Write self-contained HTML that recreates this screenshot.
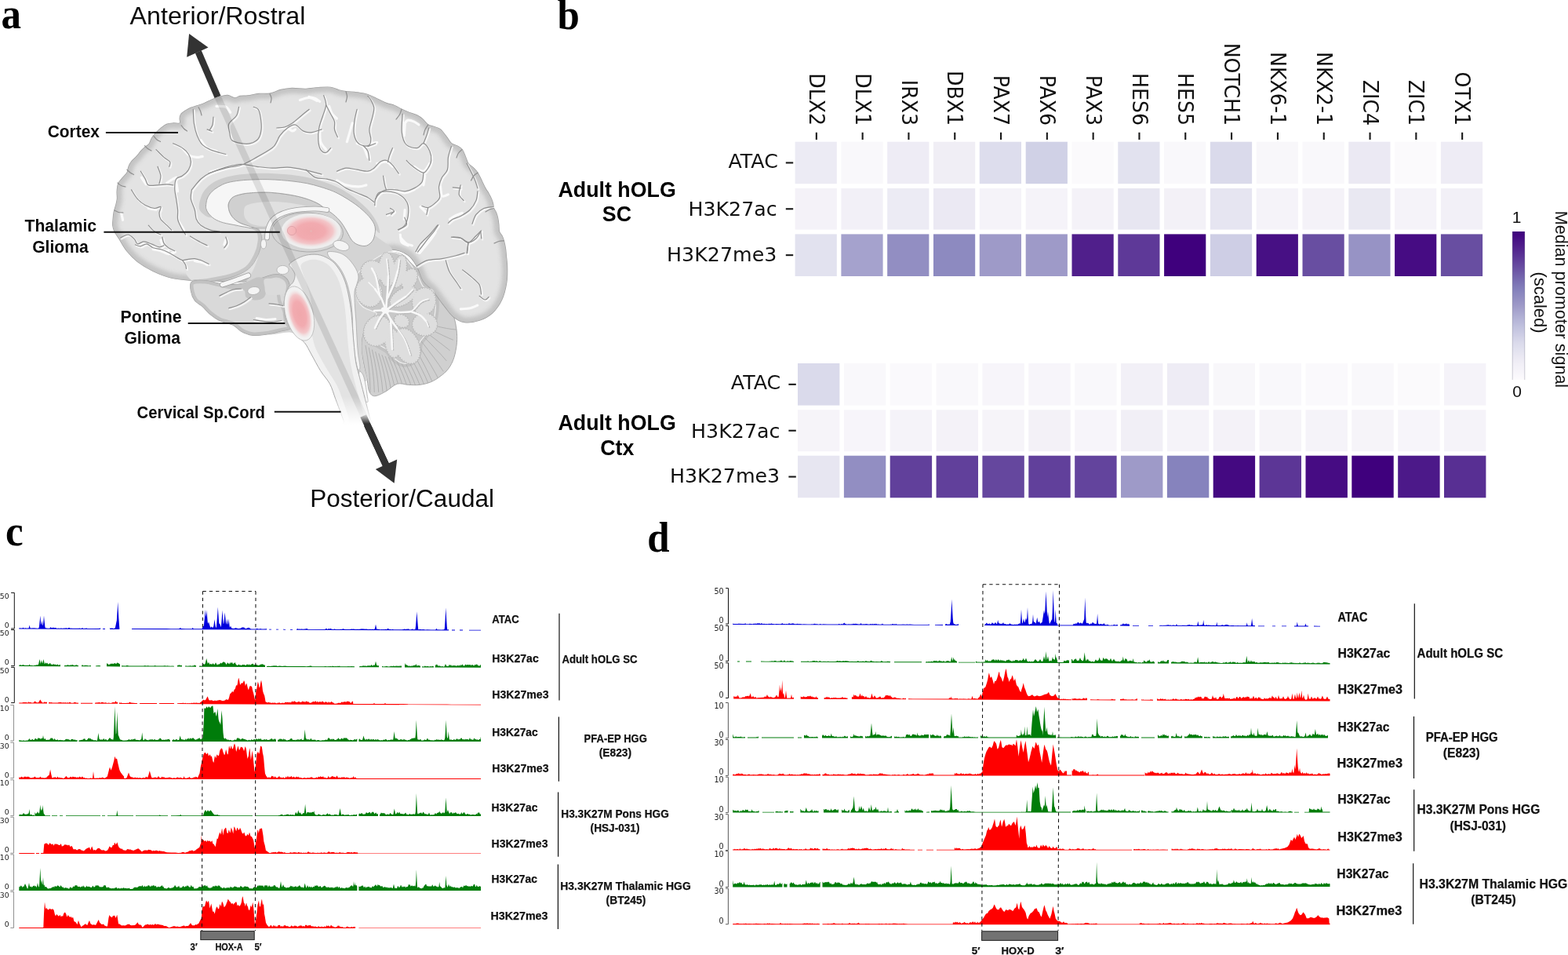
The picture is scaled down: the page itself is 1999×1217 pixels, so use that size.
<!DOCTYPE html>
<html lang="en">
<head>
<meta charset="utf-8">
<title>Figure</title>
<style>
html,body{margin:0;padding:0;background:#fff;}
body{width:1999px;height:1217px;overflow:hidden;}
svg{display:block;}
text{white-space:pre;}
</style>
</head>
<body>
<svg width="1999" height="1217" viewBox="0 0 1999 1217">
<rect width="1999" height="1217" fill="#ffffff"/>
<g id="panel-a">
<defs>
<radialGradient id="pk1" cx="0.5" cy="0.5" r="0.5"><stop offset="0" stop-color="#f0a7ab"/><stop offset="0.5" stop-color="#f2abb0"/><stop offset="0.78" stop-color="#f3c2c5" stop-opacity="0.9"/><stop offset="1" stop-color="#f0e2e2" stop-opacity="0"/></radialGradient>
<linearGradient id="cordfade" gradientUnits="userSpaceOnUse" x1="0" y1="505" x2="0" y2="541"><stop offset="0" stop-color="#fff" stop-opacity="0"/><stop offset="1" stop-color="#fff" stop-opacity="1"/></linearGradient>
<linearGradient id="shaftfade" gradientUnits="userSpaceOnUse" x1="0" y1="526" x2="0" y2="540"><stop offset="0" stop-color="#333" stop-opacity="0"/><stop offset="1" stop-color="#333" stop-opacity="1"/></linearGradient>
<clipPath id="brainclip"><path d="M279.7 123.4C283.0 122.5 286.7 121.3 290.0 121.5C293.3 121.7 296.6 124.6 299.3 124.8C302.0 125.0 303.2 123.0 306.0 122.5C308.8 122.0 312.0 122.5 316.0 122.0C320.0 121.5 325.3 120.0 330.0 119.5C334.7 119.0 339.3 120.0 344.0 119.2C348.7 118.4 353.3 115.6 358.0 114.5C362.7 113.4 366.7 112.7 372.0 112.5C377.3 112.3 384.3 113.5 390.0 113.3C395.7 113.1 400.7 111.9 406.0 111.6C411.3 111.3 417.3 110.8 421.6 111.3C425.9 111.8 428.7 113.9 432.0 114.8C435.3 115.7 437.5 116.1 441.3 116.6C445.1 117.1 450.4 117.1 455.0 117.8C459.6 118.5 464.6 119.2 468.9 120.6C473.2 122.0 477.1 124.2 481.0 126.0C484.9 127.8 488.8 130.0 492.5 131.4C496.2 132.8 499.7 133.2 503.0 134.5C506.3 135.8 509.1 137.8 512.3 139.3C515.5 140.8 518.7 142.2 522.0 143.5C525.3 144.8 529.2 145.8 532.0 147.2C534.8 148.6 536.7 150.0 539.0 152.0C541.3 154.0 543.4 157.4 545.8 159.0C548.2 160.6 550.9 160.5 553.5 161.5C556.1 162.5 559.0 162.9 561.6 165.0C564.2 167.1 566.7 171.1 569.0 174.0C571.3 176.9 573.1 180.7 575.4 182.7C577.7 184.7 580.7 184.7 583.0 186.0C585.3 187.3 587.5 188.3 589.2 190.6C591.0 192.9 592.2 197.1 593.5 200.0C594.8 202.9 595.3 206.0 597.0 208.3C598.7 210.6 601.5 212.0 603.5 214.0C605.5 216.0 607.1 217.5 608.9 220.2C610.6 222.9 612.4 226.7 614.0 230.0C615.6 233.3 617.3 237.2 618.8 239.9C620.3 242.7 621.7 244.2 623.0 246.5C624.3 248.8 625.7 251.5 626.6 253.7C627.5 255.9 628.0 257.5 628.5 259.5C629.0 261.5 628.9 263.6 629.6 265.5C630.3 267.4 631.7 269.0 632.5 271.0C633.3 273.0 634.0 274.8 634.5 277.3C635.0 279.8 635.5 283.1 635.8 286.0C636.1 288.9 635.8 292.6 636.5 295.0C637.2 297.4 639.0 298.5 640.0 300.5C641.0 302.5 641.6 304.1 642.4 306.9C643.1 309.6 644.0 313.7 644.5 317.0C645.0 320.3 645.0 322.7 645.4 326.6C645.8 330.5 646.5 334.9 646.6 340.5C646.7 346.1 646.9 353.6 645.7 360.5C644.6 367.4 642.7 375.6 639.7 382.0C636.7 388.4 632.5 394.3 627.8 398.7C623.0 403.1 617.2 406.2 611.2 408.2C605.2 410.2 597.7 411.4 592.1 410.6C586.5 409.8 582.2 407.0 577.8 403.4C573.4 399.8 570.3 394.7 565.9 389.1C561.5 383.6 556.0 375.2 551.6 370.1C547.2 365.0 543.1 363.4 539.7 358.2C536.3 353.0 534.6 344.6 531.3 339.1C528.0 333.6 525.2 328.5 520.0 325.0C514.8 321.5 506.7 318.0 500.0 318.0C493.3 318.0 486.3 322.2 480.0 325.0C473.7 327.8 467.3 334.2 462.0 335.0C456.7 335.8 453.3 332.2 448.0 330.0C442.7 327.8 436.7 323.7 430.0 322.0C423.3 320.3 415.5 319.3 408.0 320.0C400.5 320.7 391.0 324.0 385.0 326.0C379.0 328.0 376.8 329.3 372.0 332.0C367.2 334.7 361.3 338.7 356.0 342.0C350.7 345.3 346.3 349.3 340.0 352.0C333.7 354.7 325.3 356.8 318.0 358.0C310.7 359.2 304.0 359.1 296.0 359.0C288.0 358.9 278.6 357.8 270.0 357.5C261.4 357.2 253.0 357.8 244.4 357.2C235.8 356.6 226.9 356.2 218.7 354.2C210.5 352.2 202.3 348.8 195.1 345.4C187.9 341.9 181.0 337.8 175.4 333.5C169.8 329.2 165.6 324.6 161.6 319.7C157.6 314.8 154.3 308.1 151.7 304.0C149.1 299.9 147.3 297.8 146.0 295.0C144.7 292.2 144.1 290.0 143.8 287.3C143.5 284.6 144.0 281.8 144.2 279.0C144.4 276.2 144.6 273.2 145.2 270.4C145.8 267.6 146.9 264.8 147.6 262.0C148.3 259.2 149.1 256.6 149.4 253.6C149.7 250.6 149.0 247.3 149.2 244.0C149.4 240.7 149.7 236.8 150.8 234.0C151.9 231.2 154.1 229.3 156.0 227.0C157.9 224.7 160.7 222.4 162.0 220.0C163.3 217.6 163.1 214.8 164.0 212.5C164.9 210.2 165.9 208.2 167.6 206.0C169.3 203.8 171.9 201.8 174.0 199.5C176.1 197.2 178.4 194.0 180.2 192.0C182.0 190.0 183.4 188.9 185.0 187.5C186.6 186.1 188.6 185.5 190.0 183.6C191.4 181.7 192.1 178.3 193.5 176.0C194.9 173.7 196.5 171.7 198.4 169.6C200.3 167.5 202.7 165.4 205.0 163.5C207.3 161.6 209.7 159.5 212.4 158.4C215.1 157.3 218.2 157.2 221.0 157.0C223.8 156.8 227.8 158.0 229.2 157.0C230.6 156.0 229.0 152.9 229.2 151.0C229.4 149.1 229.4 147.5 230.6 145.8C231.8 144.1 234.4 142.4 236.5 141.0C238.6 139.6 240.6 138.5 243.2 137.4C245.8 136.3 249.2 135.4 252.0 134.5C254.8 133.6 257.0 133.1 260.0 131.8C263.0 130.6 266.7 128.4 270.0 127.0C273.3 125.6 276.4 124.3 279.7 123.4Z"/><path d="M369.0 336.5C370.3 334.3 375.9 331.0 380.0 329.0C384.1 327.0 389.0 325.2 393.7 324.6C398.4 324.0 403.5 323.8 408.4 325.1C413.3 326.4 419.1 329.3 423.2 332.5C427.3 335.7 430.3 340.0 433.1 344.4C435.9 348.8 438.0 353.4 440.0 359.1C442.0 364.9 443.6 372.3 444.9 378.9C446.2 385.5 447.1 392.0 447.9 398.6C448.7 405.2 449.0 411.9 449.5 418.3C450.0 424.7 450.3 429.8 451.0 436.8C451.7 443.9 452.4 453.9 453.5 460.6C454.6 467.4 456.0 471.3 457.5 477.3C459.0 483.3 460.6 489.2 462.4 496.4C464.2 503.5 466.8 513.9 468.4 520.2C470.0 526.6 471.2 531.0 472.0 534.5C472.8 538.0 478.3 539.9 473.0 541.0C467.7 542.1 445.8 541.7 440.0 541.0C434.2 540.3 439.3 539.2 438.4 536.9C437.5 534.6 436.6 532.1 434.8 527.3C433.0 522.5 430.1 514.6 427.7 508.3C425.3 502.0 423.7 495.2 420.5 489.2C417.3 483.2 412.6 478.9 408.6 472.5C404.6 466.1 400.1 457.1 396.7 451.1C393.3 445.2 391.8 441.0 388.4 436.8C384.9 432.6 379.9 430.8 376.0 426.0C372.1 421.2 367.3 413.7 365.0 408.0C362.7 402.3 362.6 397.1 362.3 392.0C362.0 386.9 362.4 381.5 363.4 377.2C364.3 372.9 366.2 369.0 368.0 366.0C369.8 363.0 372.7 361.7 374.0 359.0C375.3 356.3 376.3 352.8 376.0 350.0C375.7 347.2 373.2 344.2 372.0 342.0C370.8 339.8 367.7 338.7 369.0 336.5Z"/><path d="M244.4 359.2C247.5 356.9 255.9 357.1 262.0 357.5C268.1 357.9 274.7 360.7 281.0 361.5C287.3 362.3 293.5 362.9 300.0 362.5C306.5 362.1 313.7 360.6 320.0 359.0C326.3 357.4 332.7 354.6 338.0 353.0C343.3 351.4 347.8 349.5 352.0 349.5C356.2 349.5 360.2 350.8 363.0 353.0C365.8 355.2 368.3 359.0 369.0 363.0C369.7 367.0 367.8 372.2 367.0 377.0C366.2 381.8 364.7 386.8 364.5 392.0C364.3 397.2 365.0 403.6 366.0 408.0C367.0 412.4 372.1 415.9 370.6 418.3C369.1 420.7 362.1 421.0 356.8 422.3C351.5 423.6 344.9 425.4 339.0 426.2C333.1 427.0 326.6 427.8 321.3 427.2C316.1 426.6 311.4 424.4 307.5 422.3C303.6 420.2 302.2 416.7 297.6 414.4C293.0 412.1 284.8 410.8 279.9 408.5C275.0 406.2 271.6 403.6 268.0 400.6C264.4 397.6 261.5 393.7 258.2 390.7C254.9 387.7 250.8 386.1 248.3 382.8C245.8 379.5 244.1 374.9 243.4 371.0C242.8 367.1 241.3 361.4 244.4 359.2Z"/><path d="M300.0 288.0C302.0 288.0 321.3 300.5 330.0 300.0C338.7 299.5 343.7 291.3 352.0 285.0C360.3 278.7 367.0 265.8 380.0 262.0C393.0 258.2 413.7 255.7 430.0 262.0C446.3 268.3 466.3 290.7 478.0 300.0C489.7 309.3 499.3 313.5 500.0 318.0C500.7 322.5 488.2 323.2 482.0 327.0C475.8 330.8 467.7 335.5 463.0 341.0C458.3 346.5 455.3 353.5 454.0 360.0C452.7 366.5 453.5 374.7 455.0 380.0C456.5 385.3 459.2 388.8 463.0 392.0C466.8 395.2 477.2 395.8 478.0 399.0C478.8 402.2 470.7 406.3 468.0 411.0C465.3 415.7 463.2 421.2 462.0 427.0C460.8 432.8 460.7 439.2 461.0 446.0C461.3 452.8 462.8 461.7 464.0 468.0C465.2 474.3 468.7 481.3 468.0 484.0C467.3 486.7 464.7 486.3 460.0 484.0C455.3 481.7 450.0 477.3 440.0 470.0C430.0 462.7 411.3 447.7 400.0 440.0C388.7 432.3 382.0 426.3 372.0 424.0C362.0 421.7 350.3 428.3 340.0 426.0C329.7 423.7 316.7 417.7 310.0 410.0C303.3 402.3 298.3 390.0 300.0 380.0C301.7 370.0 315.0 360.0 320.0 350.0C325.0 340.0 330.3 328.3 330.0 320.0C329.7 311.7 323.0 305.3 318.0 300.0C313.0 294.7 298.0 288.0 300.0 288.0Z"/></clipPath>
<clipPath id="cbclip"><path d="M279.7 123.4C283.0 122.5 286.7 121.3 290.0 121.5C293.3 121.7 296.6 124.6 299.3 124.8C302.0 125.0 303.2 123.0 306.0 122.5C308.8 122.0 312.0 122.5 316.0 122.0C320.0 121.5 325.3 120.0 330.0 119.5C334.7 119.0 339.3 120.0 344.0 119.2C348.7 118.4 353.3 115.6 358.0 114.5C362.7 113.4 366.7 112.7 372.0 112.5C377.3 112.3 384.3 113.5 390.0 113.3C395.7 113.1 400.7 111.9 406.0 111.6C411.3 111.3 417.3 110.8 421.6 111.3C425.9 111.8 428.7 113.9 432.0 114.8C435.3 115.7 437.5 116.1 441.3 116.6C445.1 117.1 450.4 117.1 455.0 117.8C459.6 118.5 464.6 119.2 468.9 120.6C473.2 122.0 477.1 124.2 481.0 126.0C484.9 127.8 488.8 130.0 492.5 131.4C496.2 132.8 499.7 133.2 503.0 134.5C506.3 135.8 509.1 137.8 512.3 139.3C515.5 140.8 518.7 142.2 522.0 143.5C525.3 144.8 529.2 145.8 532.0 147.2C534.8 148.6 536.7 150.0 539.0 152.0C541.3 154.0 543.4 157.4 545.8 159.0C548.2 160.6 550.9 160.5 553.5 161.5C556.1 162.5 559.0 162.9 561.6 165.0C564.2 167.1 566.7 171.1 569.0 174.0C571.3 176.9 573.1 180.7 575.4 182.7C577.7 184.7 580.7 184.7 583.0 186.0C585.3 187.3 587.5 188.3 589.2 190.6C591.0 192.9 592.2 197.1 593.5 200.0C594.8 202.9 595.3 206.0 597.0 208.3C598.7 210.6 601.5 212.0 603.5 214.0C605.5 216.0 607.1 217.5 608.9 220.2C610.6 222.9 612.4 226.7 614.0 230.0C615.6 233.3 617.3 237.2 618.8 239.9C620.3 242.7 621.7 244.2 623.0 246.5C624.3 248.8 625.7 251.5 626.6 253.7C627.5 255.9 628.0 257.5 628.5 259.5C629.0 261.5 628.9 263.6 629.6 265.5C630.3 267.4 631.7 269.0 632.5 271.0C633.3 273.0 634.0 274.8 634.5 277.3C635.0 279.8 635.5 283.1 635.8 286.0C636.1 288.9 635.8 292.6 636.5 295.0C637.2 297.4 639.0 298.5 640.0 300.5C641.0 302.5 641.6 304.1 642.4 306.9C643.1 309.6 644.0 313.7 644.5 317.0C645.0 320.3 645.0 322.7 645.4 326.6C645.8 330.5 646.5 334.9 646.6 340.5C646.7 346.1 646.9 353.6 645.7 360.5C644.6 367.4 642.7 375.6 639.7 382.0C636.7 388.4 632.5 394.3 627.8 398.7C623.0 403.1 617.2 406.2 611.2 408.2C605.2 410.2 597.7 411.4 592.1 410.6C586.5 409.8 582.2 407.0 577.8 403.4C573.4 399.8 570.3 394.7 565.9 389.1C561.5 383.6 556.0 375.2 551.6 370.1C547.2 365.0 543.1 363.4 539.7 358.2C536.3 353.0 534.6 344.6 531.3 339.1C528.0 333.6 525.2 328.5 520.0 325.0C514.8 321.5 506.7 318.0 500.0 318.0C493.3 318.0 486.3 322.2 480.0 325.0C473.7 327.8 467.3 334.2 462.0 335.0C456.7 335.8 453.3 332.2 448.0 330.0C442.7 327.8 436.7 323.7 430.0 322.0C423.3 320.3 415.5 319.3 408.0 320.0C400.5 320.7 391.0 324.0 385.0 326.0C379.0 328.0 376.8 329.3 372.0 332.0C367.2 334.7 361.3 338.7 356.0 342.0C350.7 345.3 346.3 349.3 340.0 352.0C333.7 354.7 325.3 356.8 318.0 358.0C310.7 359.2 304.0 359.1 296.0 359.0C288.0 358.9 278.6 357.8 270.0 357.5C261.4 357.2 253.0 357.8 244.4 357.2C235.8 356.6 226.9 356.2 218.7 354.2C210.5 352.2 202.3 348.8 195.1 345.4C187.9 341.9 181.0 337.8 175.4 333.5C169.8 329.2 165.6 324.6 161.6 319.7C157.6 314.8 154.3 308.1 151.7 304.0C149.1 299.9 147.3 297.8 146.0 295.0C144.7 292.2 144.1 290.0 143.8 287.3C143.5 284.6 144.0 281.8 144.2 279.0C144.4 276.2 144.6 273.2 145.2 270.4C145.8 267.6 146.9 264.8 147.6 262.0C148.3 259.2 149.1 256.6 149.4 253.6C149.7 250.6 149.0 247.3 149.2 244.0C149.4 240.7 149.7 236.8 150.8 234.0C151.9 231.2 154.1 229.3 156.0 227.0C157.9 224.7 160.7 222.4 162.0 220.0C163.3 217.6 163.1 214.8 164.0 212.5C164.9 210.2 165.9 208.2 167.6 206.0C169.3 203.8 171.9 201.8 174.0 199.5C176.1 197.2 178.4 194.0 180.2 192.0C182.0 190.0 183.4 188.9 185.0 187.5C186.6 186.1 188.6 185.5 190.0 183.6C191.4 181.7 192.1 178.3 193.5 176.0C194.9 173.7 196.5 171.7 198.4 169.6C200.3 167.5 202.7 165.4 205.0 163.5C207.3 161.6 209.7 159.5 212.4 158.4C215.1 157.3 218.2 157.2 221.0 157.0C223.8 156.8 227.8 158.0 229.2 157.0C230.6 156.0 229.0 152.9 229.2 151.0C229.4 149.1 229.4 147.5 230.6 145.8C231.8 144.1 234.4 142.4 236.5 141.0C238.6 139.6 240.6 138.5 243.2 137.4C245.8 136.3 249.2 135.4 252.0 134.5C254.8 133.6 257.0 133.1 260.0 131.8C263.0 130.6 266.7 128.4 270.0 127.0C273.3 125.6 276.4 124.3 279.7 123.4Z"/></clipPath>
<clipPath id="tpclip"><path d="M244.4 359.2C247.5 356.9 255.9 357.1 262.0 357.5C268.1 357.9 274.7 360.7 281.0 361.5C287.3 362.3 293.5 362.9 300.0 362.5C306.5 362.1 313.7 360.6 320.0 359.0C326.3 357.4 332.7 354.6 338.0 353.0C343.3 351.4 347.8 349.5 352.0 349.5C356.2 349.5 360.2 350.8 363.0 353.0C365.8 355.2 368.3 359.0 369.0 363.0C369.7 367.0 367.8 372.2 367.0 377.0C366.2 381.8 364.7 386.8 364.5 392.0C364.3 397.2 365.0 403.6 366.0 408.0C367.0 412.4 372.1 415.9 370.6 418.3C369.1 420.7 362.1 421.0 356.8 422.3C351.5 423.6 344.9 425.4 339.0 426.2C333.1 427.0 326.6 427.8 321.3 427.2C316.1 426.6 311.4 424.4 307.5 422.3C303.6 420.2 302.2 416.7 297.6 414.4C293.0 412.1 284.8 410.8 279.9 408.5C275.0 406.2 271.6 403.6 268.0 400.6C264.4 397.6 261.5 393.7 258.2 390.7C254.9 387.7 250.8 386.1 248.3 382.8C245.8 379.5 244.1 374.9 243.4 371.0C242.8 367.1 241.3 361.4 244.4 359.2Z"/></clipPath>
<clipPath id="cbmclip"><path d="M496.8 321.2C502.0 320.8 508.7 322.2 513.5 324.8C518.3 327.4 521.6 333.2 525.4 336.7C529.1 340.2 532.2 342.4 536.0 346.0C539.8 349.6 544.0 353.7 548.0 358.0C552.0 362.3 556.3 367.0 560.0 372.0C563.7 377.0 567.0 383.0 570.0 388.0C573.0 393.0 576.0 396.6 578.0 402.0C580.0 407.4 581.3 414.3 582.0 420.1C582.7 425.9 582.9 430.9 582.4 436.8C581.9 442.8 580.6 450.2 578.8 455.8C577.0 461.4 574.5 466.1 571.5 470.1C568.5 474.1 564.8 476.9 561.1 479.7C557.4 482.5 553.6 485.0 549.2 486.8C544.8 488.6 539.7 489.8 534.9 490.4C530.1 491.0 525.4 490.6 520.6 490.4C515.8 490.2 511.1 487.8 506.3 489.2C501.5 490.6 496.8 496.1 492.0 498.7C487.2 501.3 481.3 504.7 477.7 504.7C474.1 504.7 472.2 502.1 470.6 498.7C469.0 495.3 469.2 489.5 468.2 484.4C467.2 479.2 465.8 474.1 464.6 467.8C463.4 461.5 461.4 453.1 461.0 446.3C460.6 439.6 461.0 433.2 462.2 427.3C463.4 421.4 465.6 415.4 468.2 410.6C470.8 405.8 478.5 401.9 477.7 398.7C476.9 395.5 467.2 394.7 463.4 391.5C459.6 388.3 456.7 384.8 455.1 379.6C453.5 374.4 452.5 366.9 453.9 360.5C455.3 354.1 458.6 347.1 463.4 341.5C468.2 335.9 476.9 330.6 482.5 327.2C488.1 323.8 491.6 321.6 496.8 321.2Z"/></clipPath>
<filter id="bl3" x="-10%" y="-10%" width="120%" height="120%"><feGaussianBlur stdDeviation="2.4"/></filter>
<filter id="bl1" x="-10%" y="-10%" width="120%" height="120%"><feGaussianBlur stdDeviation="0.7"/></filter>
</defs>
<path d="M252.8 66L277.6 123.6" stroke="#333" stroke-width="8.5" fill="none"/>
<path d="M241.1 42.9L238.2 72.8L265.5 60.5Z" fill="#333"/>
<path d="M502.6 615.7L478.8 597.9L506.2 585.4Z" fill="#333"/>
<path d="M468 541L492.4 593.4" stroke="#333" stroke-width="8.5" fill="none"/>
<path d="M496.8 321.2C502.0 320.8 508.7 322.2 513.5 324.8C518.3 327.4 521.6 333.2 525.4 336.7C529.1 340.2 532.2 342.4 536.0 346.0C539.8 349.6 544.0 353.7 548.0 358.0C552.0 362.3 556.3 367.0 560.0 372.0C563.7 377.0 567.0 383.0 570.0 388.0C573.0 393.0 576.0 396.6 578.0 402.0C580.0 407.4 581.3 414.3 582.0 420.1C582.7 425.9 582.9 430.9 582.4 436.8C581.9 442.8 580.6 450.2 578.8 455.8C577.0 461.4 574.5 466.1 571.5 470.1C568.5 474.1 564.8 476.9 561.1 479.7C557.4 482.5 553.6 485.0 549.2 486.8C544.8 488.6 539.7 489.8 534.9 490.4C530.1 491.0 525.4 490.6 520.6 490.4C515.8 490.2 511.1 487.8 506.3 489.2C501.5 490.6 496.8 496.1 492.0 498.7C487.2 501.3 481.3 504.7 477.7 504.7C474.1 504.7 472.2 502.1 470.6 498.7C469.0 495.3 469.2 489.5 468.2 484.4C467.2 479.2 465.8 474.1 464.6 467.8C463.4 461.5 461.4 453.1 461.0 446.3C460.6 439.6 461.0 433.2 462.2 427.3C463.4 421.4 465.6 415.4 468.2 410.6C470.8 405.8 478.5 401.9 477.7 398.7C476.9 395.5 467.2 394.7 463.4 391.5C459.6 388.3 456.7 384.8 455.1 379.6C453.5 374.4 452.5 366.9 453.9 360.5C455.3 354.1 458.6 347.1 463.4 341.5C468.2 335.9 476.9 330.6 482.5 327.2C488.1 323.8 491.6 321.6 496.8 321.2Z" fill="#d0d0d0" stroke="#a8a8a8" stroke-width="1" stroke-linejoin="round" stroke-linecap="round" />
<g clip-path="url(#cbmclip)">
<path d="M453.9 360.5C454.1 355.3 454.3 352.2 456.3 348.6C458.3 345.0 461.4 342.7 465.8 339.1C470.2 335.5 477.3 330.2 482.5 327.2C487.7 324.2 492.0 321.6 496.8 321.2C501.6 320.8 506.7 322.2 511.1 324.8C515.5 327.4 519.4 332.3 523.0 336.7C526.6 341.1 529.7 346.2 532.5 351.0C535.3 355.8 536.5 362.1 539.7 365.3C542.9 368.5 549.0 366.9 551.6 370.1C554.2 373.3 554.8 378.8 555.2 384.4C555.6 389.9 555.0 397.8 554.0 403.4C553.0 408.9 551.2 413.7 549.2 417.7C547.2 421.7 544.5 424.1 542.1 427.3C539.7 430.5 536.5 432.8 534.9 436.8C533.3 440.8 534.1 447.1 532.5 451.1C530.9 455.1 528.6 458.6 525.4 460.6C522.2 462.6 517.5 463.8 513.5 463.0C509.5 462.2 504.8 458.6 501.6 455.8C498.4 453.0 497.6 449.1 494.4 446.3C491.2 443.5 486.5 441.6 482.5 439.2C478.5 436.8 473.4 434.8 470.6 432.0C467.8 429.2 466.2 426.1 465.8 422.5C465.4 418.9 465.8 414.4 468.2 410.6C470.6 406.8 480.9 403.1 480.1 399.9C479.3 396.7 467.6 394.9 463.4 391.5C459.2 388.1 456.7 384.8 455.1 379.6C453.5 374.4 453.7 365.7 453.9 360.5Z" fill="none" stroke="#c2c2c2" stroke-width="9" stroke-linejoin="round" stroke-linecap="round" filter="url(#bl1)"/>
<path d="M466.0 440.0Q472.0 472.0 472.0 500.0M470.2 442.8Q476.8 473.4 477.3 500.0M474.4 445.6Q481.5 474.7 482.7 499.8M478.6 448.1Q486.3 475.8 488.0 499.6M482.8 450.4Q491.0 476.8 493.3 499.2M487.0 452.4Q495.8 477.6 498.7 498.8M491.1 454.0Q500.6 478.1 504.0 498.2M495.3 455.0Q505.3 478.3 509.3 497.6M499.5 455.6Q510.1 478.2 514.7 496.8M503.7 455.6Q514.9 477.8 520.0 496.0M507.9 455.0Q519.6 477.0 525.3 495.0M512.1 453.8Q524.4 475.9 530.7 494.0M516.3 452.0Q529.1 474.4 536.0 492.8M520.5 449.7Q533.9 472.6 541.3 491.6M524.7 446.7Q538.7 470.5 546.7 490.2M528.9 443.3Q543.4 468.0 552.0 488.8M533.0 439.3Q550.0 465.0 561.0 486.7M537.2 435.0Q554.2 456.2 565.2 473.3M541.4 430.3Q558.4 447.1 569.4 460.0M545.6 425.3Q562.6 438.0 573.6 446.7M549.8 420.2Q566.8 428.8 577.8 433.3M554.0 415.0Q571.0 419.5 582.0 420.0" stroke="#a9a9a9" stroke-width="0.8" fill="none"/>
</g>
<path d="M279.7 123.4C283.0 122.5 286.7 121.3 290.0 121.5C293.3 121.7 296.6 124.6 299.3 124.8C302.0 125.0 303.2 123.0 306.0 122.5C308.8 122.0 312.0 122.5 316.0 122.0C320.0 121.5 325.3 120.0 330.0 119.5C334.7 119.0 339.3 120.0 344.0 119.2C348.7 118.4 353.3 115.6 358.0 114.5C362.7 113.4 366.7 112.7 372.0 112.5C377.3 112.3 384.3 113.5 390.0 113.3C395.7 113.1 400.7 111.9 406.0 111.6C411.3 111.3 417.3 110.8 421.6 111.3C425.9 111.8 428.7 113.9 432.0 114.8C435.3 115.7 437.5 116.1 441.3 116.6C445.1 117.1 450.4 117.1 455.0 117.8C459.6 118.5 464.6 119.2 468.9 120.6C473.2 122.0 477.1 124.2 481.0 126.0C484.9 127.8 488.8 130.0 492.5 131.4C496.2 132.8 499.7 133.2 503.0 134.5C506.3 135.8 509.1 137.8 512.3 139.3C515.5 140.8 518.7 142.2 522.0 143.5C525.3 144.8 529.2 145.8 532.0 147.2C534.8 148.6 536.7 150.0 539.0 152.0C541.3 154.0 543.4 157.4 545.8 159.0C548.2 160.6 550.9 160.5 553.5 161.5C556.1 162.5 559.0 162.9 561.6 165.0C564.2 167.1 566.7 171.1 569.0 174.0C571.3 176.9 573.1 180.7 575.4 182.7C577.7 184.7 580.7 184.7 583.0 186.0C585.3 187.3 587.5 188.3 589.2 190.6C591.0 192.9 592.2 197.1 593.5 200.0C594.8 202.9 595.3 206.0 597.0 208.3C598.7 210.6 601.5 212.0 603.5 214.0C605.5 216.0 607.1 217.5 608.9 220.2C610.6 222.9 612.4 226.7 614.0 230.0C615.6 233.3 617.3 237.2 618.8 239.9C620.3 242.7 621.7 244.2 623.0 246.5C624.3 248.8 625.7 251.5 626.6 253.7C627.5 255.9 628.0 257.5 628.5 259.5C629.0 261.5 628.9 263.6 629.6 265.5C630.3 267.4 631.7 269.0 632.5 271.0C633.3 273.0 634.0 274.8 634.5 277.3C635.0 279.8 635.5 283.1 635.8 286.0C636.1 288.9 635.8 292.6 636.5 295.0C637.2 297.4 639.0 298.5 640.0 300.5C641.0 302.5 641.6 304.1 642.4 306.9C643.1 309.6 644.0 313.7 644.5 317.0C645.0 320.3 645.0 322.7 645.4 326.6C645.8 330.5 646.5 334.9 646.6 340.5C646.7 346.1 646.9 353.6 645.7 360.5C644.6 367.4 642.7 375.6 639.7 382.0C636.7 388.4 632.5 394.3 627.8 398.7C623.0 403.1 617.2 406.2 611.2 408.2C605.2 410.2 597.7 411.4 592.1 410.6C586.5 409.8 582.2 407.0 577.8 403.4C573.4 399.8 570.3 394.7 565.9 389.1C561.5 383.6 556.0 375.2 551.6 370.1C547.2 365.0 543.1 363.4 539.7 358.2C536.3 353.0 534.6 344.6 531.3 339.1C528.0 333.6 525.2 328.5 520.0 325.0C514.8 321.5 506.7 318.0 500.0 318.0C493.3 318.0 486.3 322.2 480.0 325.0C473.7 327.8 467.3 334.2 462.0 335.0C456.7 335.8 453.3 332.2 448.0 330.0C442.7 327.8 436.7 323.7 430.0 322.0C423.3 320.3 415.5 319.3 408.0 320.0C400.5 320.7 391.0 324.0 385.0 326.0C379.0 328.0 376.8 329.3 372.0 332.0C367.2 334.7 361.3 338.7 356.0 342.0C350.7 345.3 346.3 349.3 340.0 352.0C333.7 354.7 325.3 356.8 318.0 358.0C310.7 359.2 304.0 359.1 296.0 359.0C288.0 358.9 278.6 357.8 270.0 357.5C261.4 357.2 253.0 357.8 244.4 357.2C235.8 356.6 226.9 356.2 218.7 354.2C210.5 352.2 202.3 348.8 195.1 345.4C187.9 341.9 181.0 337.8 175.4 333.5C169.8 329.2 165.6 324.6 161.6 319.7C157.6 314.8 154.3 308.1 151.7 304.0C149.1 299.9 147.3 297.8 146.0 295.0C144.7 292.2 144.1 290.0 143.8 287.3C143.5 284.6 144.0 281.8 144.2 279.0C144.4 276.2 144.6 273.2 145.2 270.4C145.8 267.6 146.9 264.8 147.6 262.0C148.3 259.2 149.1 256.6 149.4 253.6C149.7 250.6 149.0 247.3 149.2 244.0C149.4 240.7 149.7 236.8 150.8 234.0C151.9 231.2 154.1 229.3 156.0 227.0C157.9 224.7 160.7 222.4 162.0 220.0C163.3 217.6 163.1 214.8 164.0 212.5C164.9 210.2 165.9 208.2 167.6 206.0C169.3 203.8 171.9 201.8 174.0 199.5C176.1 197.2 178.4 194.0 180.2 192.0C182.0 190.0 183.4 188.9 185.0 187.5C186.6 186.1 188.6 185.5 190.0 183.6C191.4 181.7 192.1 178.3 193.5 176.0C194.9 173.7 196.5 171.7 198.4 169.6C200.3 167.5 202.7 165.4 205.0 163.5C207.3 161.6 209.7 159.5 212.4 158.4C215.1 157.3 218.2 157.2 221.0 157.0C223.8 156.8 227.8 158.0 229.2 157.0C230.6 156.0 229.0 152.9 229.2 151.0C229.4 149.1 229.4 147.5 230.6 145.8C231.8 144.1 234.4 142.4 236.5 141.0C238.6 139.6 240.6 138.5 243.2 137.4C245.8 136.3 249.2 135.4 252.0 134.5C254.8 133.6 257.0 133.1 260.0 131.8C263.0 130.6 266.7 128.4 270.0 127.0C273.3 125.6 276.4 124.3 279.7 123.4Z" fill="#e3e3e3" stroke="#9c9c9c" stroke-width="1.3" stroke-linejoin="round" stroke-linecap="round" />
<g clip-path="url(#cbclip)"><path d="M279.7 123.4C283.0 122.5 286.7 121.3 290.0 121.5C293.3 121.7 296.6 124.6 299.3 124.8C302.0 125.0 303.2 123.0 306.0 122.5C308.8 122.0 312.0 122.5 316.0 122.0C320.0 121.5 325.3 120.0 330.0 119.5C334.7 119.0 339.3 120.0 344.0 119.2C348.7 118.4 353.3 115.6 358.0 114.5C362.7 113.4 366.7 112.7 372.0 112.5C377.3 112.3 384.3 113.5 390.0 113.3C395.7 113.1 400.7 111.9 406.0 111.6C411.3 111.3 417.3 110.8 421.6 111.3C425.9 111.8 428.7 113.9 432.0 114.8C435.3 115.7 437.5 116.1 441.3 116.6C445.1 117.1 450.4 117.1 455.0 117.8C459.6 118.5 464.6 119.2 468.9 120.6C473.2 122.0 477.1 124.2 481.0 126.0C484.9 127.8 488.8 130.0 492.5 131.4C496.2 132.8 499.7 133.2 503.0 134.5C506.3 135.8 509.1 137.8 512.3 139.3C515.5 140.8 518.7 142.2 522.0 143.5C525.3 144.8 529.2 145.8 532.0 147.2C534.8 148.6 536.7 150.0 539.0 152.0C541.3 154.0 543.4 157.4 545.8 159.0C548.2 160.6 550.9 160.5 553.5 161.5C556.1 162.5 559.0 162.9 561.6 165.0C564.2 167.1 566.7 171.1 569.0 174.0C571.3 176.9 573.1 180.7 575.4 182.7C577.7 184.7 580.7 184.7 583.0 186.0C585.3 187.3 587.5 188.3 589.2 190.6C591.0 192.9 592.2 197.1 593.5 200.0C594.8 202.9 595.3 206.0 597.0 208.3C598.7 210.6 601.5 212.0 603.5 214.0C605.5 216.0 607.1 217.5 608.9 220.2C610.6 222.9 612.4 226.7 614.0 230.0C615.6 233.3 617.3 237.2 618.8 239.9C620.3 242.7 621.7 244.2 623.0 246.5C624.3 248.8 625.7 251.5 626.6 253.7C627.5 255.9 628.0 257.5 628.5 259.5C629.0 261.5 628.9 263.6 629.6 265.5C630.3 267.4 631.7 269.0 632.5 271.0C633.3 273.0 634.0 274.8 634.5 277.3C635.0 279.8 635.5 283.1 635.8 286.0C636.1 288.9 635.8 292.6 636.5 295.0C637.2 297.4 639.0 298.5 640.0 300.5C641.0 302.5 641.6 304.1 642.4 306.9C643.1 309.6 644.0 313.7 644.5 317.0C645.0 320.3 645.0 322.7 645.4 326.6C645.8 330.5 646.5 334.9 646.6 340.5C646.7 346.1 646.9 353.6 645.7 360.5C644.6 367.4 642.7 375.6 639.7 382.0C636.7 388.4 632.5 394.3 627.8 398.7C623.0 403.1 617.2 406.2 611.2 408.2C605.2 410.2 597.7 411.4 592.1 410.6C586.5 409.8 582.2 407.0 577.8 403.4C573.4 399.8 570.3 394.7 565.9 389.1C561.5 383.6 556.0 375.2 551.6 370.1C547.2 365.0 543.1 363.4 539.7 358.2C536.3 353.0 534.6 344.6 531.3 339.1C528.0 333.6 525.2 328.5 520.0 325.0C514.8 321.5 506.7 318.0 500.0 318.0C493.3 318.0 486.3 322.2 480.0 325.0C473.7 327.8 467.3 334.2 462.0 335.0C456.7 335.8 453.3 332.2 448.0 330.0C442.7 327.8 436.7 323.7 430.0 322.0C423.3 320.3 415.5 319.3 408.0 320.0C400.5 320.7 391.0 324.0 385.0 326.0C379.0 328.0 376.8 329.3 372.0 332.0C367.2 334.7 361.3 338.7 356.0 342.0C350.7 345.3 346.3 349.3 340.0 352.0C333.7 354.7 325.3 356.8 318.0 358.0C310.7 359.2 304.0 359.1 296.0 359.0C288.0 358.9 278.6 357.8 270.0 357.5C261.4 357.2 253.0 357.8 244.4 357.2C235.8 356.6 226.9 356.2 218.7 354.2C210.5 352.2 202.3 348.8 195.1 345.4C187.9 341.9 181.0 337.8 175.4 333.5C169.8 329.2 165.6 324.6 161.6 319.7C157.6 314.8 154.3 308.1 151.7 304.0C149.1 299.9 147.3 297.8 146.0 295.0C144.7 292.2 144.1 290.0 143.8 287.3C143.5 284.6 144.0 281.8 144.2 279.0C144.4 276.2 144.6 273.2 145.2 270.4C145.8 267.6 146.9 264.8 147.6 262.0C148.3 259.2 149.1 256.6 149.4 253.6C149.7 250.6 149.0 247.3 149.2 244.0C149.4 240.7 149.7 236.8 150.8 234.0C151.9 231.2 154.1 229.3 156.0 227.0C157.9 224.7 160.7 222.4 162.0 220.0C163.3 217.6 163.1 214.8 164.0 212.5C164.9 210.2 165.9 208.2 167.6 206.0C169.3 203.8 171.9 201.8 174.0 199.5C176.1 197.2 178.4 194.0 180.2 192.0C182.0 190.0 183.4 188.9 185.0 187.5C186.6 186.1 188.6 185.5 190.0 183.6C191.4 181.7 192.1 178.3 193.5 176.0C194.9 173.7 196.5 171.7 198.4 169.6C200.3 167.5 202.7 165.4 205.0 163.5C207.3 161.6 209.7 159.5 212.4 158.4C215.1 157.3 218.2 157.2 221.0 157.0C223.8 156.8 227.8 158.0 229.2 157.0C230.6 156.0 229.0 152.9 229.2 151.0C229.4 149.1 229.4 147.5 230.6 145.8C231.8 144.1 234.4 142.4 236.5 141.0C238.6 139.6 240.6 138.5 243.2 137.4C245.8 136.3 249.2 135.4 252.0 134.5C254.8 133.6 257.0 133.1 260.0 131.8C263.0 130.6 266.7 128.4 270.0 127.0C273.3 125.6 276.4 124.3 279.7 123.4Z" fill="none" stroke="#c2c2c2" stroke-width="13" stroke-linejoin="round" stroke-linecap="round" filter="url(#bl3)" opacity="0.95"/></g>
<path d="M300.0 288.0C302.0 288.0 321.3 300.5 330.0 300.0C338.7 299.5 343.7 291.3 352.0 285.0C360.3 278.7 367.0 265.8 380.0 262.0C393.0 258.2 413.7 255.7 430.0 262.0C446.3 268.3 466.3 290.7 478.0 300.0C489.7 309.3 499.3 313.5 500.0 318.0C500.7 322.5 488.2 323.2 482.0 327.0C475.8 330.8 467.7 335.5 463.0 341.0C458.3 346.5 455.3 353.5 454.0 360.0C452.7 366.5 453.5 374.7 455.0 380.0C456.5 385.3 459.2 388.8 463.0 392.0C466.8 395.2 477.2 395.8 478.0 399.0C478.8 402.2 470.7 406.3 468.0 411.0C465.3 415.7 463.2 421.2 462.0 427.0C460.8 432.8 460.7 439.2 461.0 446.0C461.3 452.8 462.8 461.7 464.0 468.0C465.2 474.3 468.7 481.3 468.0 484.0C467.3 486.7 464.7 486.3 460.0 484.0C455.3 481.7 450.0 477.3 440.0 470.0C430.0 462.7 411.3 447.7 400.0 440.0C388.7 432.3 382.0 426.3 372.0 424.0C362.0 421.7 350.3 428.3 340.0 426.0C329.7 423.7 316.7 417.7 310.0 410.0C303.3 402.3 298.3 390.0 300.0 380.0C301.7 370.0 315.0 360.0 320.0 350.0C325.0 340.0 330.3 328.3 330.0 320.0C329.7 311.7 323.0 305.3 318.0 300.0C313.0 294.7 298.0 288.0 300.0 288.0Z" fill="#d4d4d4" stroke="none" stroke-width="1" stroke-linejoin="round" stroke-linecap="round" />
<path d="M254.0 266.0C253.0 262.2 254.7 256.2 256.0 252.0C257.3 247.8 259.3 244.2 262.0 241.0C264.7 237.8 268.0 234.9 272.0 232.5C276.0 230.1 280.5 228.2 286.0 226.5C291.5 224.8 298.3 223.4 305.0 222.5C311.7 221.6 319.3 221.2 326.0 221.0C332.7 220.8 339.0 220.8 345.0 221.0C351.0 221.2 356.2 221.5 362.0 222.0C367.8 222.5 374.0 223.1 380.0 224.0C386.0 224.9 392.2 226.1 398.0 227.5C403.8 228.9 409.5 230.6 415.0 232.5C420.5 234.4 426.0 236.6 431.0 239.0C436.0 241.4 440.7 244.2 445.0 247.0C449.3 249.8 453.2 252.8 457.0 256.0C460.8 259.2 464.8 262.7 468.0 266.0C471.2 269.3 473.7 272.5 476.0 276.0C478.3 279.5 480.7 283.5 482.0 287.0C483.3 290.5 484.6 296.2 484.0 297.0C483.4 297.8 479.7 293.9 478.5 292.0C477.3 290.1 477.9 287.7 477.0 285.5C476.1 283.3 474.6 281.2 473.0 279.0C471.4 276.8 469.5 274.7 467.1 272.3C464.7 269.9 461.5 267.0 458.5 264.5C455.5 262.0 452.6 259.9 449.0 257.5C445.4 255.1 441.1 252.3 437.0 250.0C432.9 247.7 429.2 245.6 424.4 243.6C419.6 241.6 413.5 239.7 408.0 238.0C402.5 236.3 397.0 234.8 391.5 233.7C386.0 232.6 380.5 231.9 375.0 231.2C369.5 230.5 364.1 230.0 358.6 229.6C353.1 229.2 347.5 228.8 342.0 228.7C336.5 228.6 331.8 228.6 325.8 228.8C319.8 229.0 312.0 229.3 306.0 230.0C300.0 230.7 294.2 231.6 289.6 232.9C285.0 234.2 281.8 236.1 278.5 238.0C275.2 239.9 272.3 241.9 269.9 244.4C267.5 246.9 265.4 250.0 264.2 253.0C263.0 256.0 262.4 259.6 262.5 262.5C262.6 265.4 263.6 268.3 264.9 270.7C266.1 273.1 270.5 276.3 270.0 277.0C269.5 277.7 264.7 276.8 262.0 275.0C259.3 273.2 255.0 269.8 254.0 266.0Z" fill="#cdcdcd" stroke="none" stroke-width="1" stroke-linejoin="round" stroke-linecap="round" />
<path d="M300.0 289.0C307.8 288.0 317.2 288.2 322.0 289.0C326.8 289.8 327.5 291.0 329.0 294.0C330.5 297.0 331.5 301.8 331.0 307.0C330.5 312.2 328.8 319.2 326.0 325.0C323.2 330.8 320.0 337.1 314.5 341.5C309.0 345.9 301.8 348.8 293.0 351.5C284.2 354.2 270.2 356.6 262.0 357.5C253.8 358.4 248.3 359.9 244.0 357.0C239.7 354.1 235.0 347.8 236.0 340.0C237.0 332.2 243.5 317.5 250.0 310.0C256.5 302.5 266.7 298.5 275.0 295.0C283.3 291.5 292.2 290.0 300.0 289.0Z" fill="#e2e2e2" stroke="none" stroke-width="1" stroke-linejoin="round" stroke-linecap="round" />
<path d="M322.0 289.5C323.2 290.2 327.5 291.1 329.0 294.0C330.5 296.9 331.5 301.8 331.0 307.0C330.5 312.2 328.8 319.2 326.0 325.0C323.2 330.8 320.0 337.1 314.5 341.5C309.0 345.9 301.8 348.8 293.0 351.5C284.2 354.2 269.7 356.3 262.0 357.5C254.3 358.7 249.5 358.3 247.0 358.5" fill="none" stroke="#c6c6c6" stroke-width="4.6" stroke-linejoin="round" stroke-linecap="round" />
<path d="M324.0 290.0C325.2 290.8 329.9 292.1 331.5 295.0C333.1 297.9 334.0 302.3 333.5 307.5C333.0 312.7 331.3 320.1 328.5 326.0C325.7 331.9 322.2 338.4 316.5 343.0C310.8 347.6 303.1 350.8 294.0 353.6C284.9 356.4 267.3 358.6 262.0 359.6" fill="none" stroke="#a8a8a8" stroke-width="0.8" stroke-linejoin="round" stroke-linecap="round" />
<path d="M453.9 360.5C454.1 355.3 454.3 352.2 456.3 348.6C458.3 345.0 461.4 342.7 465.8 339.1C470.2 335.5 477.3 330.2 482.5 327.2C487.7 324.2 492.0 321.6 496.8 321.2C501.6 320.8 506.7 322.2 511.1 324.8C515.5 327.4 519.4 332.3 523.0 336.7C526.6 341.1 529.7 346.2 532.5 351.0C535.3 355.8 536.5 362.1 539.7 365.3C542.9 368.5 549.0 366.9 551.6 370.1C554.2 373.3 554.8 378.8 555.2 384.4C555.6 389.9 555.0 397.8 554.0 403.4C553.0 408.9 551.2 413.7 549.2 417.7C547.2 421.7 544.5 424.1 542.1 427.3C539.7 430.5 536.5 432.8 534.9 436.8C533.3 440.8 534.1 447.1 532.5 451.1C530.9 455.1 528.6 458.6 525.4 460.6C522.2 462.6 517.5 463.8 513.5 463.0C509.5 462.2 504.8 458.6 501.6 455.8C498.4 453.0 497.6 449.1 494.4 446.3C491.2 443.5 486.5 441.6 482.5 439.2C478.5 436.8 473.4 434.8 470.6 432.0C467.8 429.2 466.2 426.1 465.8 422.5C465.4 418.9 465.8 414.4 468.2 410.6C470.6 406.8 480.9 403.1 480.1 399.9C479.3 396.7 467.6 394.9 463.4 391.5C459.2 388.1 456.7 384.8 455.1 379.6C453.5 374.4 453.7 365.7 453.9 360.5Z" fill="#c8c8c8" stroke="#f0f0f0" stroke-width="1.2" stroke-linejoin="round" stroke-linecap="round" />
<ellipse cx="470.4" cy="372.4" rx="15.5" ry="18.0" transform="rotate(-20 470.4 372.4)" fill="#b4b4b4" stroke="#b4b4b4" stroke-width="3.6" stroke-dasharray="0.1 3" stroke-linecap="round"/>
<ellipse cx="474.5" cy="346.0" rx="13.5" ry="13.0" transform="rotate(0 474.5 346.0)" fill="#b4b4b4" stroke="#b4b4b4" stroke-width="3.6" stroke-dasharray="0.1 3" stroke-linecap="round"/>
<ellipse cx="493.4" cy="343.7" rx="9.3" ry="21.0" transform="rotate(-2 493.4 343.7)" fill="#b4b4b4" stroke="#b4b4b4" stroke-width="3.6" stroke-dasharray="0.1 3" stroke-linecap="round"/>
<ellipse cx="508.8" cy="346.0" rx="8.0" ry="20.0" transform="rotate(12 508.8 346.0)" fill="#b4b4b4" stroke="#b4b4b4" stroke-width="3.6" stroke-dasharray="0.1 3" stroke-linecap="round"/>
<ellipse cx="522.0" cy="355.5" rx="8.3" ry="13.0" transform="rotate(25 522.0 355.5)" fill="#b4b4b4" stroke="#b4b4b4" stroke-width="3.6" stroke-dasharray="0.1 3" stroke-linecap="round"/>
<ellipse cx="514.0" cy="378.0" rx="18.0" ry="9.0" transform="rotate(-32 514.0 378.0)" fill="#b4b4b4" stroke="#b4b4b4" stroke-width="3.6" stroke-dasharray="0.1 3" stroke-linecap="round"/>
<ellipse cx="540.5" cy="384.0" rx="14.0" ry="16.5" transform="rotate(10 540.5 384.0)" fill="#b4b4b4" stroke="#b4b4b4" stroke-width="3.6" stroke-dasharray="0.1 3" stroke-linecap="round"/>
<ellipse cx="541.5" cy="413.5" rx="15.0" ry="13.5" transform="rotate(0 541.5 413.5)" fill="#b4b4b4" stroke="#b4b4b4" stroke-width="3.6" stroke-dasharray="0.1 3" stroke-linecap="round"/>
<ellipse cx="519.0" cy="441.0" rx="14.5" ry="22.5" transform="rotate(-22 519.0 441.0)" fill="#b4b4b4" stroke="#b4b4b4" stroke-width="3.6" stroke-dasharray="0.1 3" stroke-linecap="round"/>
<ellipse cx="500.5" cy="437.0" rx="8.5" ry="18.0" transform="rotate(-8 500.5 437.0)" fill="#b4b4b4" stroke="#b4b4b4" stroke-width="3.6" stroke-dasharray="0.1 3" stroke-linecap="round"/>
<ellipse cx="481.0" cy="421.5" rx="16.0" ry="19.0" transform="rotate(25 481.0 421.5)" fill="#b4b4b4" stroke="#b4b4b4" stroke-width="3.6" stroke-dasharray="0.1 3" stroke-linecap="round"/>
<ellipse cx="512.0" cy="409.0" rx="9.0" ry="7.0" transform="rotate(30 512.0 409.0)" fill="#b4b4b4" stroke="#b4b4b4" stroke-width="3.6" stroke-dasharray="0.1 3" stroke-linecap="round"/>
<ellipse cx="470.4" cy="372.4" rx="15.5" ry="18.0" transform="rotate(-20 470.4 372.4)" fill="#dedede" stroke="#dedede" stroke-width="2.4" stroke-dasharray="0.1 3" stroke-linecap="round"/>
<ellipse cx="474.5" cy="346.0" rx="13.5" ry="13.0" transform="rotate(0 474.5 346.0)" fill="#dedede" stroke="#dedede" stroke-width="2.4" stroke-dasharray="0.1 3" stroke-linecap="round"/>
<ellipse cx="493.4" cy="343.7" rx="9.3" ry="21.0" transform="rotate(-2 493.4 343.7)" fill="#dedede" stroke="#dedede" stroke-width="2.4" stroke-dasharray="0.1 3" stroke-linecap="round"/>
<ellipse cx="508.8" cy="346.0" rx="8.0" ry="20.0" transform="rotate(12 508.8 346.0)" fill="#dedede" stroke="#dedede" stroke-width="2.4" stroke-dasharray="0.1 3" stroke-linecap="round"/>
<ellipse cx="522.0" cy="355.5" rx="8.3" ry="13.0" transform="rotate(25 522.0 355.5)" fill="#dedede" stroke="#dedede" stroke-width="2.4" stroke-dasharray="0.1 3" stroke-linecap="round"/>
<ellipse cx="514.0" cy="378.0" rx="18.0" ry="9.0" transform="rotate(-32 514.0 378.0)" fill="#dedede" stroke="#dedede" stroke-width="2.4" stroke-dasharray="0.1 3" stroke-linecap="round"/>
<ellipse cx="540.5" cy="384.0" rx="14.0" ry="16.5" transform="rotate(10 540.5 384.0)" fill="#dedede" stroke="#dedede" stroke-width="2.4" stroke-dasharray="0.1 3" stroke-linecap="round"/>
<ellipse cx="541.5" cy="413.5" rx="15.0" ry="13.5" transform="rotate(0 541.5 413.5)" fill="#dedede" stroke="#dedede" stroke-width="2.4" stroke-dasharray="0.1 3" stroke-linecap="round"/>
<ellipse cx="519.0" cy="441.0" rx="14.5" ry="22.5" transform="rotate(-22 519.0 441.0)" fill="#dedede" stroke="#dedede" stroke-width="2.4" stroke-dasharray="0.1 3" stroke-linecap="round"/>
<ellipse cx="500.5" cy="437.0" rx="8.5" ry="18.0" transform="rotate(-8 500.5 437.0)" fill="#dedede" stroke="#dedede" stroke-width="2.4" stroke-dasharray="0.1 3" stroke-linecap="round"/>
<ellipse cx="481.0" cy="421.5" rx="16.0" ry="19.0" transform="rotate(25 481.0 421.5)" fill="#dedede" stroke="#dedede" stroke-width="2.4" stroke-dasharray="0.1 3" stroke-linecap="round"/>
<ellipse cx="512.0" cy="409.0" rx="9.0" ry="7.0" transform="rotate(30 512.0 409.0)" fill="#dedede" stroke="#dedede" stroke-width="2.4" stroke-dasharray="0.1 3" stroke-linecap="round"/>
<path d="M478.6 397.2C480.3 397.1 486.1 396.8 488.6 396.7C491.1 396.6 492.8 396.7 493.6 396.7" fill="none" stroke="#b9b9b9" stroke-width="1.3" stroke-linejoin="round" stroke-linecap="round" stroke-dasharray="2.2 1.4"/>
<path d="M493.6 396.7C492.6 394.1 489.9 385.8 487.6 381.2C485.3 376.6 482.3 372.5 479.6 369.2C476.9 365.9 472.9 362.5 471.6 361.2" fill="none" stroke="#b9b9b9" stroke-width="1.3" stroke-linejoin="round" stroke-linecap="round" stroke-dasharray="2.2 1.4"/>
<path d="M485.6 377.2C484.8 373.2 482.3 358.9 480.6 353.2C478.9 347.5 476.4 344.9 475.6 343.2" fill="none" stroke="#b9b9b9" stroke-width="1.3" stroke-linejoin="round" stroke-linecap="round" stroke-dasharray="2.2 1.4"/>
<path d="M493.6 396.7C493.9 392.8 495.1 380.4 495.6 373.2C496.1 365.9 496.8 360.2 496.6 353.2C496.4 346.2 494.9 334.9 494.6 331.2" fill="none" stroke="#b9b9b9" stroke-width="1.3" stroke-linejoin="round" stroke-linecap="round" stroke-dasharray="2.2 1.4"/>
<path d="M495.6 381.2C496.9 378.2 501.4 369.0 503.6 363.2C505.8 357.4 507.4 351.4 508.6 346.2C509.8 341.0 510.3 334.5 510.6 332.2" fill="none" stroke="#b9b9b9" stroke-width="1.3" stroke-linejoin="round" stroke-linecap="round" stroke-dasharray="2.2 1.4"/>
<path d="M493.6 396.7C495.8 395.1 502.4 390.1 506.6 387.2C510.8 384.3 515.1 382.0 518.6 379.2C522.1 376.4 526.1 371.7 527.6 370.2" fill="none" stroke="#b9b9b9" stroke-width="1.3" stroke-linejoin="round" stroke-linecap="round" stroke-dasharray="2.2 1.4"/>
<path d="M493.6 396.7C496.6 397.1 506.3 398.9 511.6 399.2C516.9 399.4 521.3 400.4 525.6 398.2C529.9 396.0 533.9 388.9 537.6 386.2C541.3 383.5 545.9 382.9 547.6 382.2" fill="none" stroke="#b9b9b9" stroke-width="1.3" stroke-linejoin="round" stroke-linecap="round" stroke-dasharray="2.2 1.4"/>
<path d="M525.6 398.2C527.6 399.0 534.4 401.2 537.6 403.2C540.8 405.2 542.9 407.9 544.6 410.2C546.3 412.5 547.1 416.0 547.6 417.2" fill="none" stroke="#b9b9b9" stroke-width="1.3" stroke-linejoin="round" stroke-linecap="round" stroke-dasharray="2.2 1.4"/>
<path d="M493.6 396.7C494.6 398.6 497.3 404.4 499.6 408.2C501.9 411.9 504.6 414.9 507.6 419.2C510.6 423.5 514.8 428.5 517.6 434.2C520.4 439.9 523.4 450.0 524.6 453.2" fill="none" stroke="#b9b9b9" stroke-width="1.3" stroke-linejoin="round" stroke-linecap="round" stroke-dasharray="2.2 1.4"/>
<path d="M499.6 408.2C499.8 411.2 500.3 419.9 500.6 426.2C500.9 432.5 501.4 442.9 501.6 446.2" fill="none" stroke="#b9b9b9" stroke-width="1.3" stroke-linejoin="round" stroke-linecap="round" stroke-dasharray="2.2 1.4"/>
<path d="M493.6 396.7C492.3 398.4 487.9 403.4 485.6 407.2C483.3 410.9 480.6 417.2 479.6 419.2" fill="none" stroke="#b9b9b9" stroke-width="1.3" stroke-linejoin="round" stroke-linecap="round" stroke-dasharray="2.2 1.4"/>
<path d="M477.0 396.0C478.7 395.9 484.5 395.6 487.0 395.5C489.5 395.4 491.2 395.5 492.0 395.5" fill="none" stroke="#f8f8f8" stroke-width="1.6" stroke-linejoin="round" stroke-linecap="round" />
<path d="M492.0 395.5C491.0 392.9 488.3 384.6 486.0 380.0C483.7 375.4 480.7 371.3 478.0 368.0C475.3 364.7 471.3 361.3 470.0 360.0" fill="none" stroke="#f8f8f8" stroke-width="1.6" stroke-linejoin="round" stroke-linecap="round" />
<path d="M484.0 376.0C483.2 372.0 480.7 357.7 479.0 352.0C477.3 346.3 474.8 343.7 474.0 342.0" fill="none" stroke="#f8f8f8" stroke-width="1.6" stroke-linejoin="round" stroke-linecap="round" />
<path d="M492.0 395.5C492.3 391.6 493.5 379.2 494.0 372.0C494.5 364.8 495.2 359.0 495.0 352.0C494.8 345.0 493.3 333.7 493.0 330.0" fill="none" stroke="#f8f8f8" stroke-width="1.6" stroke-linejoin="round" stroke-linecap="round" />
<path d="M494.0 380.0C495.3 377.0 499.8 367.8 502.0 362.0C504.2 356.2 505.8 350.2 507.0 345.0C508.2 339.8 508.7 333.3 509.0 331.0" fill="none" stroke="#f8f8f8" stroke-width="1.6" stroke-linejoin="round" stroke-linecap="round" />
<path d="M492.0 395.5C494.2 393.9 500.8 388.9 505.0 386.0C509.2 383.1 513.5 380.8 517.0 378.0C520.5 375.2 524.5 370.5 526.0 369.0" fill="none" stroke="#f8f8f8" stroke-width="1.6" stroke-linejoin="round" stroke-linecap="round" />
<path d="M492.0 395.5C495.0 395.9 504.7 397.8 510.0 398.0C515.3 398.2 519.7 399.2 524.0 397.0C528.3 394.8 532.3 387.7 536.0 385.0C539.7 382.3 544.3 381.7 546.0 381.0" fill="none" stroke="#f8f8f8" stroke-width="1.6" stroke-linejoin="round" stroke-linecap="round" />
<path d="M524.0 397.0C526.0 397.8 532.8 400.0 536.0 402.0C539.2 404.0 541.3 406.7 543.0 409.0C544.7 411.3 545.5 414.8 546.0 416.0" fill="none" stroke="#f8f8f8" stroke-width="1.6" stroke-linejoin="round" stroke-linecap="round" />
<path d="M492.0 395.5C493.0 397.4 495.7 403.2 498.0 407.0C500.3 410.8 503.0 413.7 506.0 418.0C509.0 422.3 513.2 427.3 516.0 433.0C518.8 438.7 521.8 448.8 523.0 452.0" fill="none" stroke="#f8f8f8" stroke-width="1.6" stroke-linejoin="round" stroke-linecap="round" />
<path d="M498.0 407.0C498.2 410.0 498.7 418.7 499.0 425.0C499.3 431.3 499.8 441.7 500.0 445.0" fill="none" stroke="#f8f8f8" stroke-width="1.6" stroke-linejoin="round" stroke-linecap="round" />
<path d="M492.0 395.5C490.7 397.2 486.3 402.2 484.0 406.0C481.7 409.8 479.0 416.0 478.0 418.0" fill="none" stroke="#f8f8f8" stroke-width="1.6" stroke-linejoin="round" stroke-linecap="round" />
<path d="M477.0 396.0C478.7 395.9 484.5 395.6 487.0 395.5C489.5 395.4 491.2 395.5 492.0 395.5" fill="none" stroke="#f8f8f8" stroke-width="2.6" stroke-linejoin="round" stroke-linecap="round" />
<path d="M492.0 395.5C491.0 392.9 488.3 384.6 486.0 380.0C483.7 375.4 479.3 370.0 478.0 368.0" fill="none" stroke="#f8f8f8" stroke-width="2.6" stroke-linejoin="round" stroke-linecap="round" />
<path d="M484.0 376.0C483.2 372.0 480.7 357.7 479.0 352.0C477.3 346.3 474.8 343.7 474.0 342.0" fill="none" stroke="#f8f8f8" stroke-width="2.6" stroke-linejoin="round" stroke-linecap="round" />
<path d="M492.0 395.5C492.3 391.6 493.5 379.2 494.0 372.0C494.5 364.8 494.8 355.3 495.0 352.0" fill="none" stroke="#f8f8f8" stroke-width="2.6" stroke-linejoin="round" stroke-linecap="round" />
<path d="M494.0 380.0C495.3 377.0 499.8 367.8 502.0 362.0C504.2 356.2 506.2 347.8 507.0 345.0" fill="none" stroke="#f8f8f8" stroke-width="2.6" stroke-linejoin="round" stroke-linecap="round" />
<path d="M492.0 395.5C494.2 393.9 500.8 388.9 505.0 386.0C509.2 383.1 515.0 379.3 517.0 378.0" fill="none" stroke="#f8f8f8" stroke-width="2.6" stroke-linejoin="round" stroke-linecap="round" />
<path d="M492.0 395.5C495.0 395.9 504.7 397.8 510.0 398.0C515.3 398.2 521.7 397.2 524.0 397.0" fill="none" stroke="#f8f8f8" stroke-width="2.6" stroke-linejoin="round" stroke-linecap="round" />
<path d="M524.0 397.0C526.0 397.8 532.8 400.0 536.0 402.0C539.2 404.0 541.8 407.8 543.0 409.0" fill="none" stroke="#f8f8f8" stroke-width="2.6" stroke-linejoin="round" stroke-linecap="round" />
<path d="M492.0 395.5C493.0 397.4 495.7 403.2 498.0 407.0C500.3 410.8 504.7 416.2 506.0 418.0" fill="none" stroke="#f8f8f8" stroke-width="2.6" stroke-linejoin="round" stroke-linecap="round" />
<path d="M498.0 407.0C498.2 410.0 498.7 418.7 499.0 425.0C499.3 431.3 499.8 441.7 500.0 445.0" fill="none" stroke="#f8f8f8" stroke-width="2.6" stroke-linejoin="round" stroke-linecap="round" />
<path d="M492.0 395.5C490.7 397.2 486.3 402.2 484.0 406.0C481.7 409.8 479.0 416.0 478.0 418.0" fill="none" stroke="#f8f8f8" stroke-width="2.6" stroke-linejoin="round" stroke-linecap="round" />
<ellipse cx="491" cy="395.5" rx="5.5" ry="4" transform="rotate(20 491 395.5)" fill="#f8f8f8"/>
<path d="M244.4 359.2C247.5 356.9 255.9 357.1 262.0 357.5C268.1 357.9 274.7 360.7 281.0 361.5C287.3 362.3 293.5 362.9 300.0 362.5C306.5 362.1 313.7 360.6 320.0 359.0C326.3 357.4 332.7 354.6 338.0 353.0C343.3 351.4 347.8 349.5 352.0 349.5C356.2 349.5 360.2 350.8 363.0 353.0C365.8 355.2 368.3 359.0 369.0 363.0C369.7 367.0 367.8 372.2 367.0 377.0C366.2 381.8 364.7 386.8 364.5 392.0C364.3 397.2 365.0 403.6 366.0 408.0C367.0 412.4 372.1 415.9 370.6 418.3C369.1 420.7 362.1 421.0 356.8 422.3C351.5 423.6 344.9 425.4 339.0 426.2C333.1 427.0 326.6 427.8 321.3 427.2C316.1 426.6 311.4 424.4 307.5 422.3C303.6 420.2 302.2 416.7 297.6 414.4C293.0 412.1 284.8 410.8 279.9 408.5C275.0 406.2 271.6 403.6 268.0 400.6C264.4 397.6 261.5 393.7 258.2 390.7C254.9 387.7 250.8 386.1 248.3 382.8C245.8 379.5 244.1 374.9 243.4 371.0C242.8 367.1 241.3 361.4 244.4 359.2Z" fill="#d9d9d9" stroke="#a2a2a2" stroke-width="1.1" stroke-linejoin="round" stroke-linecap="round" />
<g clip-path="url(#tpclip)"><path d="M244.4 359.2C247.5 356.9 255.9 357.1 262.0 357.5C268.1 357.9 274.7 360.7 281.0 361.5C287.3 362.3 293.5 362.9 300.0 362.5C306.5 362.1 313.7 360.6 320.0 359.0C326.3 357.4 332.7 354.6 338.0 353.0C343.3 351.4 347.8 349.5 352.0 349.5C356.2 349.5 360.2 350.8 363.0 353.0C365.8 355.2 368.3 359.0 369.0 363.0C369.7 367.0 367.8 372.2 367.0 377.0C366.2 381.8 364.7 386.8 364.5 392.0C364.3 397.2 365.0 403.6 366.0 408.0C367.0 412.4 372.1 415.9 370.6 418.3C369.1 420.7 362.1 421.0 356.8 422.3C351.5 423.6 344.9 425.4 339.0 426.2C333.1 427.0 326.6 427.8 321.3 427.2C316.1 426.6 311.4 424.4 307.5 422.3C303.6 420.2 302.2 416.7 297.6 414.4C293.0 412.1 284.8 410.8 279.9 408.5C275.0 406.2 271.6 403.6 268.0 400.6C264.4 397.6 261.5 393.7 258.2 390.7C254.9 387.7 250.8 386.1 248.3 382.8C245.8 379.5 244.1 374.9 243.4 371.0C242.8 367.1 241.3 361.4 244.4 359.2Z" fill="none" stroke="#bfbfbf" stroke-width="8" stroke-linejoin="round" stroke-linecap="round" filter="url(#bl1)" opacity="0.9"/></g>
<path d="M283.0 366.0C283.0 365.2 292.8 365.6 298.0 364.5C303.2 363.4 309.0 361.3 314.0 359.5C319.0 357.7 324.2 354.1 328.0 353.5C331.8 352.9 335.1 353.6 337.0 356.0C338.9 358.4 339.6 364.2 339.5 368.0C339.4 371.8 338.8 376.6 336.5 379.0C334.2 381.4 329.8 382.5 326.0 382.5C322.2 382.5 316.5 381.1 314.0 379.0C311.5 376.9 313.7 371.7 311.0 370.0C308.3 368.3 302.7 369.7 298.0 369.0C293.3 368.3 283.0 366.8 283.0 366.0Z" fill="#c4c4c4" stroke="none" stroke-width="1" stroke-linejoin="round" stroke-linecap="round" />
<path d="M355.0 376.0C355.2 377.4 355.6 381.7 356.5 384.4C357.4 387.1 359.2 389.4 360.5 392.0C361.8 394.6 363.4 398.7 364.0 400.0" fill="none" stroke="#c3c3c3" stroke-width="4.2" stroke-linejoin="round" stroke-linecap="round" />
<path d="M337.5 355.5C339.9 353.8 347.9 355.1 352.0 355.5C356.1 355.9 360.0 356.2 362.0 358.0C364.0 359.8 364.0 363.3 364.0 366.0C364.0 368.7 364.0 372.3 362.0 374.0C360.0 375.7 355.7 375.8 352.0 376.0C348.3 376.2 342.4 376.7 340.0 375.0C337.6 373.3 337.9 369.2 337.5 366.0C337.1 362.8 335.1 357.2 337.5 355.5Z" fill="#dbdbdb" stroke="none" stroke-width="1" stroke-linejoin="round" stroke-linecap="round" />
<path d="M418.0 321.0C419.7 319.9 426.3 320.7 430.0 321.5C433.7 322.3 437.0 323.9 440.0 326.0C443.0 328.1 445.6 331.0 448.0 334.0C450.4 337.0 453.0 340.8 454.5 344.0C456.0 347.2 456.9 350.0 457.0 353.0C457.1 356.0 455.8 358.8 455.0 362.0C454.2 365.2 452.4 367.3 452.0 372.0C451.6 376.7 452.2 383.7 452.5 390.0C452.8 396.3 453.6 403.3 454.0 410.0C454.4 416.7 454.6 423.3 455.0 430.0C455.4 436.7 455.8 443.7 456.5 450.0C457.2 456.3 459.1 464.7 459.0 468.0C458.9 471.3 457.2 473.0 456.0 470.0C454.8 467.0 453.0 457.5 452.0 450.0C451.0 442.5 450.5 433.3 450.0 425.0C449.5 416.7 449.6 407.8 449.0 400.0C448.4 392.2 447.7 384.7 446.5 378.0C445.3 371.3 443.8 365.3 442.0 360.0C440.2 354.7 438.3 350.2 436.0 346.0C433.7 341.8 430.7 338.0 428.0 335.0C425.3 332.0 421.7 330.3 420.0 328.0C418.3 325.7 416.3 322.1 418.0 321.0Z" fill="#f3f3f3" stroke="#ababab" stroke-width="0.8" stroke-linejoin="round" stroke-linecap="round" />
<path d="M459.0 473.0C459.9 473.3 461.8 475.2 463.0 478.0C464.2 480.8 465.2 485.8 466.0 490.0C466.8 494.2 467.5 499.3 468.0 503.0C468.5 506.7 469.5 510.8 469.0 512.0C468.5 513.2 466.3 512.3 465.0 510.0C463.7 507.7 462.2 502.2 461.0 498.0C459.8 493.8 458.6 488.7 458.0 485.0C457.4 481.3 457.3 478.0 457.5 476.0C457.7 474.0 458.1 472.7 459.0 473.0Z" fill="#f6f6f6" stroke="#ababab" stroke-width="0.8" stroke-linejoin="round" stroke-linecap="round" />
<path d="M369.0 336.5C370.3 334.3 375.9 331.0 380.0 329.0C384.1 327.0 389.0 325.2 393.7 324.6C398.4 324.0 403.5 323.8 408.4 325.1C413.3 326.4 419.1 329.3 423.2 332.5C427.3 335.7 430.3 340.0 433.1 344.4C435.9 348.8 438.0 353.4 440.0 359.1C442.0 364.9 443.6 372.3 444.9 378.9C446.2 385.5 447.1 392.0 447.9 398.6C448.7 405.2 449.0 411.9 449.5 418.3C450.0 424.7 450.3 429.8 451.0 436.8C451.7 443.9 452.4 453.9 453.5 460.6C454.6 467.4 456.0 471.3 457.5 477.3C459.0 483.3 460.6 489.2 462.4 496.4C464.2 503.5 466.8 513.9 468.4 520.2C470.0 526.6 471.2 531.0 472.0 534.5C472.8 538.0 478.3 539.9 473.0 541.0C467.7 542.1 445.8 541.7 440.0 541.0C434.2 540.3 439.3 539.2 438.4 536.9C437.5 534.6 436.6 532.1 434.8 527.3C433.0 522.5 430.1 514.6 427.7 508.3C425.3 502.0 423.7 495.2 420.5 489.2C417.3 483.2 412.6 478.9 408.6 472.5C404.6 466.1 400.1 457.1 396.7 451.1C393.3 445.2 391.8 441.0 388.4 436.8C384.9 432.6 379.9 430.8 376.0 426.0C372.1 421.2 367.3 413.7 365.0 408.0C362.7 402.3 362.6 397.1 362.3 392.0C362.0 386.9 362.4 381.5 363.4 377.2C364.3 372.9 366.2 369.0 368.0 366.0C369.8 363.0 372.7 361.7 374.0 359.0C375.3 356.3 376.3 352.8 376.0 350.0C375.7 347.2 373.2 344.2 372.0 342.0C370.8 339.8 367.7 338.7 369.0 336.5Z" fill="#f1f1f1" stroke="#a9a9a9" stroke-width="1" stroke-linejoin="round" stroke-linecap="round" />
<path d="M384.0 337.0C385.7 334.2 392.0 331.8 396.0 331.0C400.0 330.2 404.2 330.8 408.0 332.0C411.8 333.2 415.8 335.2 419.0 338.0C422.2 340.8 425.0 344.7 427.5 349.0C430.0 353.3 432.2 358.2 434.0 364.0C435.8 369.8 437.3 377.3 438.5 384.0C439.7 390.7 440.3 397.3 441.0 404.0C441.7 410.7 441.9 417.0 442.5 424.0C443.1 431.0 443.7 439.0 444.5 446.0C445.3 453.0 446.2 459.3 447.5 466.0C448.8 472.7 450.2 479.0 452.0 486.0C453.8 493.0 456.0 500.7 458.0 508.0C460.0 515.3 462.7 524.5 464.0 530.0C465.3 535.5 468.8 539.2 466.0 541.0C463.2 542.8 450.7 542.8 447.0 541.0C443.3 539.2 445.7 535.2 444.0 530.0C442.3 524.8 439.3 516.3 437.0 510.0C434.7 503.7 433.0 498.0 430.0 492.0C427.0 486.0 422.7 480.2 419.0 474.0C415.3 467.8 411.0 460.7 408.0 455.0C405.0 449.3 402.8 445.8 401.0 440.0C399.2 434.2 397.5 426.7 397.0 420.0C396.5 413.3 398.2 406.7 398.0 400.0C397.8 393.3 397.2 386.3 396.0 380.0C394.8 373.7 392.7 367.3 391.0 362.0C389.3 356.7 387.2 352.2 386.0 348.0C384.8 343.8 382.3 339.8 384.0 337.0Z" fill="#e3e3e3" stroke="none" stroke-width="1" stroke-linejoin="round" stroke-linecap="round" />
<path d="M296.0 252.0C297.4 250.9 297.5 250.3 301.1 249.3C304.7 248.3 310.6 246.7 317.5 246.0C324.4 245.3 332.6 244.6 342.2 245.2C351.8 245.8 365.5 247.4 375.1 249.3C384.7 251.2 392.9 253.7 399.7 256.7C406.5 259.7 416.1 265.8 416.2 267.4C416.2 268.9 406.0 265.9 400.0 266.0C394.0 266.1 386.3 266.7 380.0 268.0C373.7 269.3 367.0 271.7 362.0 274.0C357.0 276.3 353.0 279.3 350.0 282.0C347.0 284.7 348.3 288.6 344.0 290.0C339.7 291.4 329.1 290.9 324.1 290.4C319.1 289.9 317.8 288.5 314.2 287.1C310.6 285.7 306.0 284.4 302.7 282.2C299.4 280.0 296.4 277.0 294.5 274.0C292.6 271.0 291.5 267.1 291.2 264.1C290.9 261.1 292.1 257.9 292.9 255.9C293.7 253.9 294.6 253.1 296.0 252.0Z" fill="#d0d0d0" stroke="#a6a6a6" stroke-width="0.8" stroke-linejoin="round" stroke-linecap="round" />
<path d="M314.0 262.0C317.2 260.0 324.0 258.8 330.0 258.0C336.0 257.2 343.0 256.8 350.0 257.0C357.0 257.2 365.3 258.0 372.0 259.0C378.7 260.0 390.0 261.8 390.0 263.0C390.0 264.2 377.7 264.3 372.0 266.0C366.3 267.7 360.5 270.3 356.0 273.0C351.5 275.7 348.0 279.5 345.0 282.0C342.0 284.5 341.8 287.3 338.0 288.0C334.2 288.7 326.2 287.5 322.0 286.0C317.8 284.5 314.8 281.7 313.0 279.0C311.2 276.3 310.8 272.8 311.0 270.0C311.2 267.2 310.8 264.0 314.0 262.0Z" fill="#e0e0e0" stroke="none" stroke-width="1" stroke-linejoin="round" stroke-linecap="round" />
<path d="M262.5 262.5C262.7 260.2 263.0 256.0 264.2 253.0C265.4 250.0 267.5 246.9 269.9 244.4C272.3 241.9 275.2 239.9 278.5 238.0C281.8 236.1 285.0 234.2 289.6 232.9C294.2 231.6 300.0 230.7 306.0 230.0C312.0 229.3 319.8 229.0 325.8 228.8C331.8 228.6 336.5 228.6 342.0 228.7C347.5 228.8 353.1 229.2 358.6 229.6C364.1 230.0 369.5 230.5 375.0 231.2C380.5 231.9 386.0 232.6 391.5 233.7C397.0 234.8 402.5 236.3 408.0 238.0C413.5 239.7 419.6 241.6 424.4 243.6C429.2 245.6 432.9 247.7 437.0 250.0C441.1 252.3 445.4 255.1 449.0 257.5C452.6 259.9 455.5 262.0 458.5 264.5C461.5 267.0 464.7 269.9 467.1 272.3C469.5 274.7 471.4 276.8 473.0 279.0C474.6 281.2 476.1 283.3 477.0 285.5C477.9 287.7 478.4 289.8 478.5 292.0C478.6 294.2 478.2 296.4 477.8 298.6C477.4 300.8 476.9 303.1 476.0 305.0C475.1 306.9 473.5 308.8 472.1 310.1C470.7 311.4 469.1 312.4 467.5 313.0C465.9 313.6 464.1 313.6 462.2 313.4C460.3 313.2 457.9 312.6 456.0 311.8C454.1 311.0 452.2 309.8 450.7 308.5C449.2 307.2 448.1 305.6 447.0 304.0C445.9 302.4 445.1 300.4 444.1 298.6C443.1 296.8 442.1 294.9 441.0 293.0C439.9 291.1 438.8 289.1 437.5 287.1C436.2 285.1 434.6 282.9 433.0 281.0C431.4 279.1 429.5 277.3 427.7 275.6C425.9 273.9 423.9 272.4 422.0 271.0C420.1 269.6 418.5 269.1 416.2 267.4C413.9 265.7 410.8 262.8 408.0 261.0C405.2 259.2 403.0 258.1 399.7 256.7C396.4 255.3 392.1 253.7 388.0 252.5C383.9 251.3 380.1 250.3 375.1 249.3C370.1 248.3 363.5 247.3 358.0 246.6C352.5 245.9 346.9 245.4 342.2 245.2C337.5 245.0 334.1 245.1 330.0 245.2C325.9 245.3 321.0 245.7 317.5 246.0C314.0 246.3 311.7 246.6 309.0 247.2C306.3 247.8 303.3 248.5 301.1 249.3C298.9 250.1 297.4 250.9 296.0 252.0C294.6 253.1 293.7 254.6 292.9 255.9C292.1 257.2 291.5 258.6 291.2 260.0C290.9 261.4 291.0 262.6 291.2 264.1C291.4 265.6 291.6 267.4 292.2 269.0C292.8 270.6 293.5 272.4 294.5 274.0C295.5 275.6 296.6 277.1 298.0 278.5C299.4 279.9 301.0 281.1 302.7 282.2C304.4 283.3 306.1 284.2 308.0 285.0C309.9 285.8 312.3 286.5 314.2 287.1C316.1 287.7 317.9 288.2 319.5 288.8C321.1 289.4 324.2 290.1 324.1 290.4C324.0 290.7 320.6 290.7 319.0 290.6C317.4 290.5 316.0 289.9 314.2 289.6C312.4 289.3 310.2 289.0 308.0 288.6C305.8 288.2 303.6 287.6 301.1 287.1C298.6 286.6 295.7 286.2 293.0 285.6C290.3 285.1 287.1 284.5 284.7 283.8C282.3 283.1 280.4 282.4 278.5 281.6C276.6 280.8 274.9 280.0 273.2 278.9C271.5 277.8 269.9 276.4 268.5 275.0C267.1 273.6 265.8 272.1 264.9 270.7C264.0 269.3 263.4 267.9 263.0 266.5C262.6 265.1 262.3 264.8 262.5 262.5Z" fill="#f6f6f6" stroke="#a4a4a4" stroke-width="1" stroke-linejoin="round" stroke-linecap="round" />
<path d="M340.5 303.0C340.7 301.3 340.5 296.6 341.5 293.0C342.5 289.4 344.2 284.6 346.5 281.5C348.8 278.4 351.4 276.5 355.0 274.5C358.6 272.5 363.0 270.8 368.0 269.5C373.0 268.2 379.3 267.4 385.0 266.8C390.7 266.2 396.7 265.9 402.0 266.0C407.3 266.1 414.5 267.2 417.0 267.5" fill="none" stroke="#a0a0a0" stroke-width="6.6" stroke-linejoin="round" stroke-linecap="round" />
<path d="M340.5 303.0C340.7 301.3 340.5 296.6 341.5 293.0C342.5 289.4 344.2 284.6 346.5 281.5C348.8 278.4 351.4 276.5 355.0 274.5C358.6 272.5 363.0 270.8 368.0 269.5C373.0 268.2 379.3 267.4 385.0 266.8C390.7 266.2 396.7 265.9 402.0 266.0C407.3 266.1 414.5 267.2 417.0 267.5" fill="none" stroke="#f5f5f5" stroke-width="5.0" stroke-linejoin="round" stroke-linecap="round" />
<ellipse cx="392" cy="296" rx="45.5" ry="25" transform="rotate(2 392 296)" fill="#d3d3d3" stroke="#a6a6a6" stroke-width="0.9"/>
<ellipse cx="396.6" cy="294.6" rx="38" ry="22.6" fill="#eeeeee" filter="url(#bl1)"/>
<ellipse cx="396.4" cy="294.5" rx="36" ry="20.8" fill="url(#pk1)"/>
<circle cx="372" cy="294" r="5.6" fill="#f7b2b6" fill-opacity="0.6" stroke="#d99aa0" stroke-width="0.7"/>
<circle cx="396.6" cy="294.5" r="1.3" fill="#e8b4b4"/>
<ellipse cx="336" cy="311" rx="3.6" ry="6" fill="#f4f4f4" stroke="#aaa" stroke-width="0.7"/>
<ellipse cx="435" cy="313" rx="10.5" ry="6" transform="rotate(18 435 313)" fill="#f4f4f4" stroke="#aaa" stroke-width="0.7"/>
<ellipse cx="360.5" cy="344" rx="7.6" ry="5.6" fill="#f4f4f4" stroke="#aaa" stroke-width="0.7"/>
<ellipse cx="323.5" cy="370.5" rx="7.8" ry="5" transform="rotate(-8 323.5 370.5)" fill="#f4f4f4" stroke="#aaa" stroke-width="0.7"/>
<path d="M283.5 362.8C285.4 362.2 291.2 360.3 295.0 359.0C298.8 357.7 302.4 356.3 306.0 355.0C309.6 353.7 314.8 351.7 316.5 351.0" fill="none" stroke="#a0a0a0" stroke-width="7.0" stroke-linejoin="round" stroke-linecap="round" />
<path d="M283.5 362.8C285.4 362.2 291.2 360.3 295.0 359.0C298.8 357.7 302.4 356.3 306.0 355.0C309.6 353.7 314.8 351.7 316.5 351.0" fill="none" stroke="#f6f6f6" stroke-width="5.4" stroke-linejoin="round" stroke-linecap="round" />
<ellipse cx="381.5" cy="399.5" rx="17.5" ry="35.5" transform="rotate(-15 381.5 399.5)" fill="#f2f2f2" stroke="#b5b5b5" stroke-width="0.7"/>
<ellipse cx="382" cy="400" rx="15" ry="32" transform="rotate(-15 382 400)" fill="url(#pk1)"/>
<path d="M256.2 178.7C257.5 180.4 260.8 186.3 264.1 188.6C267.4 190.9 274.0 191.9 275.9 192.5" fill="none" stroke="#fbfbfb" stroke-width="3.2" stroke-linejoin="round" stroke-linecap="round" opacity="0.95"/>
<path d="M232.5 188.6C233.9 190.1 237.5 195.5 240.4 197.5C243.4 199.4 247.3 200.1 250.3 200.4C253.2 200.8 256.9 199.6 258.2 199.4" fill="none" stroke="#fbfbfb" stroke-width="3.2" stroke-linejoin="round" stroke-linecap="round" opacity="0.95"/>
<path d="M268.0 219.2C270.7 218.4 278.6 216.0 283.8 214.6C289.1 213.2 297.0 211.3 299.6 210.7" fill="none" stroke="#fbfbfb" stroke-width="3.2" stroke-linejoin="round" stroke-linecap="round" opacity="0.95"/>
<path d="M180.3 226.1L186.2 234.9" fill="none" stroke="#fbfbfb" stroke-width="3.2" stroke-linejoin="round" stroke-linecap="round" opacity="0.95"/>
<path d="M189.2 265.5L199.0 267.5" fill="none" stroke="#fbfbfb" stroke-width="3.2" stroke-linejoin="round" stroke-linecap="round" opacity="0.95"/>
<path d="M154.6 271.4L156.6 280.3" fill="none" stroke="#fbfbfb" stroke-width="3.2" stroke-linejoin="round" stroke-linecap="round" opacity="0.95"/>
<path d="M212.8 233.0C214.1 232.1 218.7 229.2 220.7 228.0C222.7 226.9 224.0 226.4 224.7 226.1" fill="none" stroke="#fbfbfb" stroke-width="3.2" stroke-linejoin="round" stroke-linecap="round" opacity="0.95"/>
<path d="M224.7 232.0L226.6 243.8" fill="none" stroke="#fbfbfb" stroke-width="3.2" stroke-linejoin="round" stroke-linecap="round" opacity="0.95"/>
<path d="M195.1 314.8C196.7 315.5 201.6 317.9 204.9 318.8C208.2 319.6 213.2 319.6 214.8 319.7" fill="none" stroke="#fbfbfb" stroke-width="3.2" stroke-linejoin="round" stroke-linecap="round" opacity="0.95"/>
<path d="M366.6 163.0C367.6 163.6 370.9 166.6 372.6 166.9C374.2 167.2 375.8 165.3 376.5 164.9" fill="none" stroke="#fbfbfb" stroke-width="3.2" stroke-linejoin="round" stroke-linecap="round" opacity="0.95"/>
<path d="M382.4 127.5C384.4 127.0 390.6 124.3 394.2 124.5C397.9 124.7 402.5 127.8 404.1 128.5" fill="none" stroke="#fbfbfb" stroke-width="3.2" stroke-linejoin="round" stroke-linecap="round" opacity="0.95"/>
<path d="M275.9 135.4C277.9 135.5 284.8 135.0 287.8 136.3C290.7 137.7 292.7 142.1 293.7 143.2" fill="none" stroke="#fbfbfb" stroke-width="3.2" stroke-linejoin="round" stroke-linecap="round" opacity="0.95"/>
<path d="M228.6 283.3L234.5 293.1" fill="none" stroke="#fbfbfb" stroke-width="3.2" stroke-linejoin="round" stroke-linecap="round" opacity="0.95"/>
<path d="M419.6 135.4C420.2 137.0 421.9 142.6 423.5 145.2C425.2 147.8 428.5 150.1 429.4 151.1" fill="none" stroke="#fbfbfb" stroke-width="3.2" stroke-linejoin="round" stroke-linecap="round" opacity="0.95"/>
<path d="M449.2 157.0C448.5 159.3 446.4 166.9 445.2 170.9C444.1 174.8 442.8 179.1 442.3 180.7" fill="none" stroke="#fbfbfb" stroke-width="3.2" stroke-linejoin="round" stroke-linecap="round" opacity="0.95"/>
<path d="M455.1 182.7C456.4 183.3 460.7 183.7 463.0 186.6C465.3 189.6 467.9 198.1 468.9 200.4" fill="none" stroke="#fbfbfb" stroke-width="3.2" stroke-linejoin="round" stroke-linecap="round" opacity="0.95"/>
<path d="M472.8 182.7L480.7 181.7" fill="none" stroke="#fbfbfb" stroke-width="3.2" stroke-linejoin="round" stroke-linecap="round" opacity="0.95"/>
<path d="M516.2 157.0C516.9 156.4 518.2 153.4 520.2 153.1C522.1 152.8 525.7 154.1 528.0 155.1C530.3 156.1 533.0 158.4 534.0 159.0" fill="none" stroke="#fbfbfb" stroke-width="3.2" stroke-linejoin="round" stroke-linecap="round" opacity="0.95"/>
<path d="M516.2 159.0L515.2 172.8" fill="none" stroke="#fbfbfb" stroke-width="3.2" stroke-linejoin="round" stroke-linecap="round" opacity="0.95"/>
<path d="M480.7 208.3C482.7 208.0 489.3 205.7 492.5 206.3C495.8 207.0 499.1 211.3 500.4 212.3" fill="none" stroke="#fbfbfb" stroke-width="3.2" stroke-linejoin="round" stroke-linecap="round" opacity="0.95"/>
<path d="M429.4 230.0C431.4 231.0 436.7 234.6 441.3 235.9C445.9 237.2 452.8 237.9 457.0 237.9C461.3 237.9 465.3 236.3 466.9 235.9" fill="none" stroke="#fbfbfb" stroke-width="3.2" stroke-linejoin="round" stroke-linecap="round" opacity="0.95"/>
<path d="M502.4 241.8C504.7 242.5 511.9 245.8 516.2 245.8C520.5 245.8 526.1 242.5 528.0 241.8" fill="none" stroke="#fbfbfb" stroke-width="3.2" stroke-linejoin="round" stroke-linecap="round" opacity="0.95"/>
<path d="M528.0 212.3C530.0 213.2 536.6 218.8 539.9 218.2C543.2 217.5 546.4 210.0 547.8 208.3" fill="none" stroke="#fbfbfb" stroke-width="3.2" stroke-linejoin="round" stroke-linecap="round" opacity="0.95"/>
<path d="M541.8 224.1L539.9 235.9" fill="none" stroke="#fbfbfb" stroke-width="3.2" stroke-linejoin="round" stroke-linecap="round" opacity="0.95"/>
<path d="M561.6 237.9C561.9 239.9 561.9 248.1 563.5 249.7C565.2 251.4 570.1 248.1 571.4 247.8" fill="none" stroke="#fbfbfb" stroke-width="3.2" stroke-linejoin="round" stroke-linecap="round" opacity="0.95"/>
<path d="M535.9 263.5L543.8 271.4" fill="none" stroke="#fbfbfb" stroke-width="3.2" stroke-linejoin="round" stroke-linecap="round" opacity="0.95"/>
<path d="M573.4 279.3C574.7 278.5 578.7 275.7 581.3 274.4C583.9 273.1 587.9 271.9 589.2 271.4" fill="none" stroke="#fbfbfb" stroke-width="3.2" stroke-linejoin="round" stroke-linecap="round" opacity="0.95"/>
<path d="M510.3 299.0C510.6 300.7 510.6 306.6 512.3 308.9C513.9 311.2 518.8 312.2 520.2 312.8" fill="none" stroke="#fbfbfb" stroke-width="3.2" stroke-linejoin="round" stroke-linecap="round" opacity="0.95"/>
<path d="M535.9 312.8C537.6 311.2 542.5 306.6 545.8 303.0C549.1 299.4 554.0 293.1 555.6 291.1" fill="none" stroke="#fbfbfb" stroke-width="3.2" stroke-linejoin="round" stroke-linecap="round" opacity="0.95"/>
<path d="M407.7 164.9C407.9 167.6 407.4 176.4 408.7 180.7C410.0 185.0 414.5 188.9 415.6 190.6" fill="none" stroke="#fbfbfb" stroke-width="3.2" stroke-linejoin="round" stroke-linecap="round" opacity="0.95"/>
<path d="M393.9 123.5C395.3 123.9 399.5 124.5 401.8 125.5C404.1 126.5 406.8 128.8 407.7 129.4" fill="none" stroke="#fbfbfb" stroke-width="3.2" stroke-linejoin="round" stroke-linecap="round" opacity="0.95"/>
<path d="M516.2 267.5L515.2 279.3" fill="none" stroke="#fbfbfb" stroke-width="3.2" stroke-linejoin="round" stroke-linecap="round" opacity="0.95"/>
<path d="M534.9 322.4C536.9 320.0 543.4 312.5 546.8 308.1C550.2 303.8 553.8 298.2 555.2 296.2" fill="none" stroke="#fbfbfb" stroke-width="3.2" stroke-linejoin="round" stroke-linecap="round" opacity="0.95"/>
<path d="M587.3 393.9C589.3 393.7 595.7 393.5 599.2 392.7C602.8 391.9 607.2 389.7 608.8 389.1" fill="none" stroke="#fbfbfb" stroke-width="3.2" stroke-linejoin="round" stroke-linecap="round" opacity="0.95"/>
<path d="M511.1 303.4C512.3 304.5 515.8 308.9 518.2 310.5C520.6 312.1 524.2 312.5 525.4 312.9" fill="none" stroke="#fbfbfb" stroke-width="3.2" stroke-linejoin="round" stroke-linecap="round" opacity="0.95"/>
<path d="M195.1 317.7C196.7 318.1 201.6 318.7 204.9 319.7C208.2 320.7 211.8 323.3 214.8 323.7C217.8 324.0 221.4 322.0 222.7 321.7" fill="none" stroke="#fbfbfb" stroke-width="3.2" stroke-linejoin="round" stroke-linecap="round" opacity="0.95"/>
<path d="M248.3 332.5C250.0 332.9 255.6 333.7 258.2 334.5C260.8 335.3 263.1 337.0 264.1 337.5" fill="none" stroke="#fbfbfb" stroke-width="3.2" stroke-linejoin="round" stroke-linecap="round" opacity="0.95"/>
<path d="M204.9 305.9L206.9 311.8" fill="none" stroke="#fbfbfb" stroke-width="3.2" stroke-linejoin="round" stroke-linecap="round" opacity="0.95"/>
<path d="M285.8 311.8L287.8 305.9" fill="none" stroke="#fbfbfb" stroke-width="3.2" stroke-linejoin="round" stroke-linecap="round" opacity="0.95"/>
<path d="M327.2 405.5C329.2 405.8 335.1 407.3 339.0 407.5C343.0 407.6 348.9 406.7 350.9 406.5" fill="none" stroke="#fbfbfb" stroke-width="3.2" stroke-linejoin="round" stroke-linecap="round" opacity="0.95"/>
<path d="M305.8 137.7C305.3 139.5 305.0 145.0 302.9 148.6C300.7 152.2 294.5 155.8 293.0 159.4C291.5 163.0 293.3 166.8 294.0 170.3C294.6 173.7 294.5 177.8 296.9 180.1C299.4 182.4 304.8 183.4 308.8 184.1C312.7 184.7 317.0 185.1 320.6 184.1C324.2 183.1 328.2 181.1 330.5 178.2C332.8 175.2 333.9 170.9 334.4 166.3C334.9 161.7 334.1 154.8 333.4 150.6C332.8 146.3 332.0 142.8 330.5 140.7C329.0 138.6 325.5 138.2 324.6 137.7" fill="none" stroke="#fafafa" stroke-width="2.4" stroke-linejoin="round" stroke-linecap="round" opacity="0.8"/>
<path d="M247.6 140.7C247.8 143.7 247.8 152.9 248.6 158.4C249.5 164.0 250.8 169.6 252.6 174.2C254.4 178.8 256.7 183.1 259.5 186.1C262.3 189.0 265.7 190.3 269.3 192.0C273.0 193.6 277.9 194.9 281.2 195.9C284.5 196.9 287.7 197.6 289.1 197.9" fill="none" stroke="#fafafa" stroke-width="2.4" stroke-linejoin="round" stroke-linecap="round" opacity="0.8"/>
<path d="M273.3 150.6C273.1 152.2 273.1 157.6 272.3 160.4C271.5 163.2 269.0 166.2 268.4 167.3" fill="none" stroke="#fafafa" stroke-width="2.4" stroke-linejoin="round" stroke-linecap="round" opacity="0.8"/>
<path d="M265.4 166.3L271.3 168.7" fill="none" stroke="#fafafa" stroke-width="2.4" stroke-linejoin="round" stroke-linecap="round" opacity="0.8"/>
<path d="M222.0 184.1C224.0 185.1 230.6 187.7 233.8 190.0C237.1 192.3 239.9 194.9 241.7 197.9C243.5 200.8 244.7 204.5 244.7 207.7C244.7 211.0 243.5 214.6 241.7 217.6C239.9 220.6 236.5 223.5 233.8 225.5C231.2 227.5 227.6 226.8 226.0 229.4C224.3 232.1 224.0 237.0 224.0 241.3C224.0 245.5 225.3 250.5 226.0 255.1C226.6 259.7 227.6 264.6 227.9 268.9C228.3 273.2 227.3 277.1 227.9 280.7C228.6 284.3 230.2 287.3 231.9 290.6C233.5 293.9 236.8 298.8 237.8 300.4" fill="none" stroke="#fafafa" stroke-width="2.4" stroke-linejoin="round" stroke-linecap="round" opacity="0.8"/>
<path d="M200.3 192.0C202.0 193.6 207.2 199.2 210.2 201.8C213.1 204.5 216.9 205.8 218.1 207.7C219.2 209.7 217.2 212.7 217.1 213.7" fill="none" stroke="#fafafa" stroke-width="2.4" stroke-linejoin="round" stroke-linecap="round" opacity="0.8"/>
<path d="M180.6 219.6C181.6 221.2 184.9 226.5 186.5 229.4C188.2 232.4 187.8 236.0 190.5 237.3C193.1 238.6 198.3 237.5 202.3 237.3C206.2 237.2 210.8 236.3 214.1 236.3C217.4 236.3 220.7 237.2 222.0 237.3" fill="none" stroke="#fafafa" stroke-width="2.4" stroke-linejoin="round" stroke-linecap="round" opacity="0.8"/>
<path d="M168.8 243.2C170.1 245.2 173.7 251.8 176.7 255.1C179.6 258.4 182.9 261.0 186.5 263.0C190.1 264.9 195.1 266.6 198.3 266.9C201.6 267.2 205.2 263.9 206.2 264.9C207.2 265.9 204.3 270.2 204.3 272.8C204.3 275.5 204.6 278.1 206.2 280.7C207.9 283.3 211.8 286.3 214.1 288.6C216.4 290.9 219.1 293.5 220.0 294.5" fill="none" stroke="#fafafa" stroke-width="2.4" stroke-linejoin="round" stroke-linecap="round" opacity="0.8"/>
<path d="M155.0 304.4C156.6 303.7 161.9 300.1 164.8 300.4C167.8 300.8 170.7 304.4 172.7 306.3C174.7 308.3 174.7 311.8 176.7 312.3C178.6 312.8 181.6 309.3 184.5 309.3C187.5 309.3 191.1 311.1 194.4 312.3C197.7 313.4 201.6 315.9 204.3 316.2C206.9 316.5 209.2 314.6 210.2 314.2" fill="none" stroke="#fafafa" stroke-width="2.4" stroke-linejoin="round" stroke-linecap="round" opacity="0.8"/>
<path d="M245.7 243.2C247.6 240.9 253.6 233.1 257.5 229.4C261.5 225.8 264.1 223.9 269.3 221.6C274.6 219.3 282.5 217.3 289.1 215.6C295.6 214.0 302.2 214.0 308.8 211.7C315.4 209.4 321.9 205.4 328.5 201.8C335.1 198.2 343.9 193.3 348.2 190.0C352.5 186.7 352.5 184.7 354.1 182.1C355.8 179.5 355.8 177.2 358.1 174.2C360.4 171.3 364.7 166.7 367.9 164.4C371.2 162.1 374.5 159.8 377.8 160.4C381.1 161.1 384.4 166.7 387.7 168.3C390.9 170.0 393.6 170.6 397.5 170.3C401.5 170.0 409.0 167.0 411.3 166.3" fill="none" stroke="#fafafa" stroke-width="2.4" stroke-linejoin="round" stroke-linecap="round" opacity="0.8"/>
<path d="M267.4 222.5C271.0 221.2 282.2 216.6 289.1 214.6C296.0 212.7 302.2 210.9 308.8 210.7C315.4 210.5 321.9 212.8 328.5 213.7C335.1 214.5 341.6 215.5 348.2 215.6C354.8 215.8 361.4 214.3 367.9 214.6C374.5 215.0 380.4 216.1 387.7 217.6C394.9 219.1 407.4 222.5 411.3 223.5" fill="none" stroke="#fafafa" stroke-width="2.4" stroke-linejoin="round" stroke-linecap="round" opacity="0.8"/>
<path d="M245.7 243.2C245.5 245.2 244.0 250.8 244.7 255.1C245.3 259.3 248.5 264.6 249.6 268.9C250.8 273.2 250.3 277.4 251.6 280.7C252.9 284.0 254.5 286.3 257.5 288.6C260.5 290.9 265.4 293.2 269.3 294.5C273.3 295.8 279.2 296.2 281.2 296.5" fill="none" stroke="#fafafa" stroke-width="2.4" stroke-linejoin="round" stroke-linecap="round" opacity="0.8"/>
<path d="M243.7 302.4C245.3 303.4 249.9 306.3 253.6 308.3C257.2 310.3 263.4 313.2 265.4 314.2" fill="none" stroke="#fafafa" stroke-width="2.4" stroke-linejoin="round" stroke-linecap="round" opacity="0.8"/>
<path d="M354.1 164.4C355.8 164.2 360.7 164.4 364.0 163.4C367.3 162.4 370.2 160.9 373.9 158.4C377.5 156.0 382.1 151.5 385.7 148.6C389.3 145.6 393.9 142.0 395.5 140.7" fill="none" stroke="#fafafa" stroke-width="2.4" stroke-linejoin="round" stroke-linecap="round" opacity="0.8"/>
<path d="M202.3 213.7C202.9 215.6 205.9 221.9 206.2 225.5C206.6 229.1 204.6 233.7 204.3 235.4" fill="none" stroke="#fafafa" stroke-width="2.4" stroke-linejoin="round" stroke-linecap="round" opacity="0.8"/>
<path d="M190.5 288.6C191.8 289.9 195.7 294.5 198.3 296.5C201.0 298.5 204.9 299.8 206.2 300.4" fill="none" stroke="#fafafa" stroke-width="2.4" stroke-linejoin="round" stroke-linecap="round" opacity="0.8"/>
<path d="M414.0 123.0C414.5 124.9 417.1 130.5 416.9 134.8C416.8 139.1 414.5 143.7 413.0 148.6C411.5 153.5 409.0 159.1 408.1 164.4C407.1 169.6 406.7 175.5 407.1 180.1C407.4 184.7 408.4 189.3 410.0 192.0C411.7 194.6 414.8 196.2 416.9 195.9C419.1 195.6 421.9 191.0 422.9 190.0" fill="none" stroke="#fafafa" stroke-width="2.4" stroke-linejoin="round" stroke-linecap="round" opacity="0.8"/>
<path d="M416.9 134.8C417.9 136.8 421.0 143.0 422.9 146.6C424.7 150.2 427.0 153.2 427.8 156.5C428.6 159.8 427.1 163.0 427.8 166.3C428.4 169.6 431.1 174.6 431.7 176.2" fill="none" stroke="#fafafa" stroke-width="2.4" stroke-linejoin="round" stroke-linecap="round" opacity="0.8"/>
<path d="M470.2 123.9C470.8 124.8 472.8 126.4 474.1 128.9C475.4 131.3 477.7 135.1 478.1 138.7C478.4 142.3 477.1 146.0 476.1 150.6C475.1 155.2 472.5 161.7 472.2 166.3C471.8 170.9 474.1 174.9 474.1 178.2C474.1 181.5 473.8 184.6 472.2 186.1C470.5 187.5 466.9 187.7 464.3 187.0C461.6 186.4 458.3 184.9 456.4 182.1C454.4 179.3 452.9 174.9 452.4 170.3C451.9 165.7 452.8 159.4 453.4 154.5C454.1 149.6 455.9 143.0 456.4 140.7" fill="none" stroke="#fafafa" stroke-width="2.4" stroke-linejoin="round" stroke-linecap="round" opacity="0.8"/>
<path d="M464.3 187.0C465.2 188.2 468.9 190.8 470.2 193.9C471.5 197.1 471.8 203.8 472.2 205.8" fill="none" stroke="#fafafa" stroke-width="2.4" stroke-linejoin="round" stroke-linecap="round" opacity="0.8"/>
<path d="M470.2 188.0L480.0 184.1" fill="none" stroke="#fafafa" stroke-width="2.4" stroke-linejoin="round" stroke-linecap="round" opacity="0.8"/>
<path d="M430.7 219.6C432.7 218.9 438.3 216.0 442.6 215.6C446.8 215.3 451.8 217.0 456.4 217.6C461.0 218.3 466.6 219.9 470.2 219.6C473.8 219.3 475.4 217.6 478.1 215.6C480.7 213.7 483.3 209.4 486.0 207.7C488.6 206.1 491.2 205.1 493.8 205.8C496.5 206.4 499.1 208.9 501.7 211.7C504.4 214.5 508.3 220.7 509.6 222.5" fill="none" stroke="#fafafa" stroke-width="2.4" stroke-linejoin="round" stroke-linecap="round" opacity="0.8"/>
<path d="M489.9 225.5C490.2 227.5 491.2 234.4 491.9 237.3C492.5 240.3 493.5 242.3 493.8 243.2" fill="none" stroke="#fafafa" stroke-width="2.4" stroke-linejoin="round" stroke-linecap="round" opacity="0.8"/>
<path d="M501.7 190.0C501.1 191.6 498.8 196.9 497.8 199.9C496.8 202.8 496.1 206.4 495.8 207.7" fill="none" stroke="#fafafa" stroke-width="2.4" stroke-linejoin="round" stroke-linecap="round" opacity="0.8"/>
<path d="M514.5 146.6C514.4 150.6 512.7 163.7 513.6 170.3C514.4 176.9 516.2 182.8 519.5 186.1C522.8 189.3 529.7 190.3 533.3 190.0C536.9 189.7 538.5 183.4 541.2 184.1C543.8 184.7 547.4 190.3 549.1 193.9C550.7 197.6 551.4 202.2 551.0 205.8C550.7 209.4 548.7 213.0 547.1 215.6C545.4 218.3 543.5 221.2 541.2 221.6C538.9 221.9 535.9 219.3 533.3 217.6C530.7 216.0 527.7 213.7 525.4 211.7C523.1 209.7 520.5 206.8 519.5 205.8" fill="none" stroke="#fafafa" stroke-width="2.4" stroke-linejoin="round" stroke-linecap="round" opacity="0.8"/>
<path d="M548.1 164.4C547.6 166.0 546.3 170.9 545.1 174.2C544.0 177.5 541.8 182.4 541.2 184.1" fill="none" stroke="#fafafa" stroke-width="2.4" stroke-linejoin="round" stroke-linecap="round" opacity="0.8"/>
<path d="M541.2 221.6C540.8 223.5 541.2 230.1 539.2 233.4C537.2 236.7 533.0 239.3 529.3 241.3C525.7 243.2 521.5 244.9 517.5 245.2C513.6 245.5 509.6 243.6 505.7 243.2C501.7 242.9 497.1 242.6 493.8 243.2C490.6 243.9 488.3 245.2 486.0 247.2C483.7 249.2 481.2 252.4 480.0 255.1C478.9 257.7 479.2 261.6 479.1 263.0" fill="none" stroke="#fafafa" stroke-width="2.4" stroke-linejoin="round" stroke-linecap="round" opacity="0.8"/>
<path d="M576.7 188.0C576.0 190.3 573.5 196.9 572.7 201.8C571.9 206.8 573.1 213.3 571.7 217.6C570.4 221.9 566.6 223.9 564.8 227.5C563.0 231.1 561.4 235.0 560.9 239.3C560.4 243.6 562.9 249.5 561.9 253.1C560.9 256.7 557.4 258.9 555.0 261.0C552.5 263.1 549.7 265.4 547.1 265.9C544.5 266.4 540.5 264.3 539.2 263.9" fill="none" stroke="#fafafa" stroke-width="2.4" stroke-linejoin="round" stroke-linecap="round" opacity="0.8"/>
<path d="M547.1 265.9L545.1 274.8" fill="none" stroke="#fafafa" stroke-width="2.4" stroke-linejoin="round" stroke-linecap="round" opacity="0.8"/>
<path d="M588.5 237.3C588.2 239.3 585.9 245.9 586.5 249.2C587.2 252.4 591.5 255.7 592.4 257.0" fill="none" stroke="#fafafa" stroke-width="2.4" stroke-linejoin="round" stroke-linecap="round" opacity="0.8"/>
<path d="M578.6 240.3L588.5 241.3" fill="none" stroke="#fafafa" stroke-width="2.4" stroke-linejoin="round" stroke-linecap="round" opacity="0.8"/>
<path d="M610.2 245.2C609.9 247.2 609.9 253.1 608.2 257.0C606.6 261.0 603.6 265.6 600.3 268.9C597.0 272.2 592.1 274.8 588.5 276.8C584.9 278.7 581.3 279.2 578.6 280.7C576.0 282.2 573.7 284.8 572.7 285.6" fill="none" stroke="#fafafa" stroke-width="2.4" stroke-linejoin="round" stroke-linecap="round" opacity="0.8"/>
<path d="M480.0 255.1C480.7 253.8 481.7 248.8 484.0 247.2C486.3 245.5 490.2 245.2 493.8 245.2C497.5 245.2 502.1 245.9 505.7 247.2C509.3 248.5 512.9 250.5 515.5 253.1C518.2 255.7 520.5 259.0 521.5 263.0C522.4 266.9 522.1 272.5 521.5 276.8C520.8 281.0 519.5 285.6 517.5 288.6C515.5 291.6 510.9 293.5 509.6 294.5" fill="none" stroke="#fafafa" stroke-width="2.4" stroke-linejoin="round" stroke-linecap="round" opacity="0.8"/>
<path d="M493.8 274.8C495.5 274.1 502.9 272.2 503.7 270.9C504.5 269.5 499.6 267.6 498.8 266.9" fill="none" stroke="#fafafa" stroke-width="2.4" stroke-linejoin="round" stroke-linecap="round" opacity="0.8"/>
<path d="M503.7 270.9L499.8 274.8" fill="none" stroke="#fafafa" stroke-width="2.4" stroke-linejoin="round" stroke-linecap="round" opacity="0.8"/>
<path d="M558.9 288.6C557.3 290.6 552.7 296.5 549.1 300.4C545.4 304.4 540.2 308.6 537.2 312.3C534.3 315.9 532.3 320.5 531.3 322.1" fill="none" stroke="#fafafa" stroke-width="2.4" stroke-linejoin="round" stroke-linecap="round" opacity="0.8"/>
<path d="M578.6 303.4C580.3 303.6 585.2 303.2 588.5 304.4C591.8 305.5 595.1 310.1 598.4 310.3C601.6 310.5 605.6 307.7 608.2 305.4C610.8 303.1 613.1 298.0 614.1 296.5" fill="none" stroke="#fafafa" stroke-width="2.4" stroke-linejoin="round" stroke-linecap="round" opacity="0.8"/>
<path d="M598.4 310.3L596.4 324.1" fill="none" stroke="#fafafa" stroke-width="2.4" stroke-linejoin="round" stroke-linecap="round" opacity="0.8"/>
<path d="M614.1 296.5L615.1 305.4" fill="none" stroke="#fafafa" stroke-width="2.4" stroke-linejoin="round" stroke-linecap="round" opacity="0.8"/>
<path d="M629.9 264.9C627.9 265.3 621.7 265.3 618.1 266.9C614.5 268.6 610.7 271.5 608.2 274.8C605.8 278.1 604.1 284.7 603.3 286.6" fill="none" stroke="#fafafa" stroke-width="2.4" stroke-linejoin="round" stroke-linecap="round" opacity="0.8"/>
<path d="M596.4 209.7C598.0 213.0 603.9 224.2 606.2 229.4C608.5 234.7 609.5 239.3 610.2 241.3" fill="none" stroke="#fafafa" stroke-width="2.4" stroke-linejoin="round" stroke-linecap="round" opacity="0.8"/>
<path d="M391.3 217.6C393.3 219.3 398.9 225.5 403.1 227.5C407.4 229.4 412.3 228.5 416.9 229.4C421.5 230.4 426.5 231.4 430.7 233.4C435.0 235.4 438.3 239.0 442.6 241.3C446.8 243.6 451.8 245.2 456.4 247.2C461.0 249.2 466.6 251.1 470.2 253.1C473.8 255.1 476.8 258.0 478.1 259.0" fill="none" stroke="#fafafa" stroke-width="2.4" stroke-linejoin="round" stroke-linecap="round" opacity="0.8"/>
<path d="M532.6 340.5C534.8 339.3 540.4 334.9 545.7 333.3C551.1 331.8 558.8 332.0 564.8 331.0C570.8 330.0 576.7 328.6 581.5 327.4C586.2 326.2 591.4 324.4 593.4 323.8" fill="none" stroke="#fafafa" stroke-width="2.4" stroke-linejoin="round" stroke-linecap="round" opacity="0.8"/>
<path d="M569.6 333.3C570.4 335.7 571.9 342.9 574.3 347.6C576.7 352.4 581.5 358.4 583.9 361.9C586.2 365.5 587.8 367.9 588.6 369.1" fill="none" stroke="#fafafa" stroke-width="2.4" stroke-linejoin="round" stroke-linecap="round" opacity="0.8"/>
<path d="M591.0 345.3C593.0 346.9 599.3 351.6 602.9 354.8C606.5 358.0 610.5 360.7 612.5 364.3C614.4 367.9 614.4 374.3 614.8 376.2" fill="none" stroke="#fafafa" stroke-width="2.4" stroke-linejoin="round" stroke-linecap="round" opacity="0.8"/>
<path d="M576.7 303.6C578.7 303.8 585.1 303.6 588.6 304.8C592.2 305.9 595.0 311.1 598.2 310.7C601.3 310.3 604.9 305.0 607.7 302.4C610.5 299.8 613.6 296.4 614.8 295.2" fill="none" stroke="#fafafa" stroke-width="2.4" stroke-linejoin="round" stroke-linecap="round" opacity="0.8"/>
<path d="M598.2 310.7L597.0 323.8" fill="none" stroke="#fafafa" stroke-width="2.4" stroke-linejoin="round" stroke-linecap="round" opacity="0.8"/>
<path d="M533.8 322.6C535.8 320.0 542.2 311.7 545.7 307.1C549.3 302.6 552.9 298.4 555.3 295.2C557.7 292.0 559.2 289.3 560.0 288.1" fill="none" stroke="#fafafa" stroke-width="2.4" stroke-linejoin="round" stroke-linecap="round" opacity="0.8"/>
<path d="M508.8 294.0C510.6 293.0 518.1 290.7 519.5 288.1C520.9 285.5 517.5 280.1 517.1 278.5" fill="none" stroke="#fafafa" stroke-width="2.4" stroke-linejoin="round" stroke-linecap="round" opacity="0.8"/>
<path d="M612.5 378.6C613.6 379.4 617.6 383.2 619.6 383.4C621.6 383.6 623.6 380.4 624.4 379.8" fill="none" stroke="#fafafa" stroke-width="2.4" stroke-linejoin="round" stroke-linecap="round" opacity="0.8"/>
<path d="M173.7 313.2C174.8 313.6 178.1 315.4 180.6 315.2C183.1 315.0 185.9 311.9 188.5 312.2C191.1 312.6 193.4 316.0 196.4 317.2C199.3 318.3 202.9 318.2 206.2 319.1C209.5 320.1 212.8 321.4 216.1 323.1C219.4 324.7 223.0 327.4 226.0 329.0C228.9 330.7 231.5 332.5 233.8 333.0C236.1 333.4 238.8 332.1 239.8 332.0" fill="none" stroke="#fafafa" stroke-width="2.4" stroke-linejoin="round" stroke-linecap="round" opacity="0.8"/>
<path d="M233.8 333.0C234.5 333.9 237.0 337.1 237.8 338.9C238.6 340.7 238.6 343.0 238.8 343.8" fill="none" stroke="#fafafa" stroke-width="2.4" stroke-linejoin="round" stroke-linecap="round" opacity="0.8"/>
<path d="M239.8 332.0C241.4 331.8 246.3 330.7 249.6 331.0C252.9 331.3 256.5 332.8 259.5 333.9C262.4 335.1 266.1 337.2 267.4 337.9" fill="none" stroke="#fafafa" stroke-width="2.4" stroke-linejoin="round" stroke-linecap="round" opacity="0.8"/>
<path d="M208.2 303.4C208.5 304.7 208.9 309.0 210.2 311.3C211.5 313.6 213.8 315.5 216.1 317.2C218.4 318.8 222.7 320.5 224.0 321.1" fill="none" stroke="#fafafa" stroke-width="2.4" stroke-linejoin="round" stroke-linecap="round" opacity="0.8"/>
<path d="M281.2 378.3C282.5 377.7 286.1 375.7 289.1 374.4C292.0 373.0 295.6 371.2 298.9 370.4C302.2 369.6 307.1 369.6 308.8 369.4" fill="none" stroke="#fafafa" stroke-width="2.4" stroke-linejoin="round" stroke-linecap="round" opacity="0.8"/>
<path d="M293.0 394.1C294.6 393.6 299.6 392.4 302.9 391.1C306.2 389.8 309.8 388.0 312.7 386.2C315.7 384.4 319.3 381.3 320.6 380.3" fill="none" stroke="#fafafa" stroke-width="2.4" stroke-linejoin="round" stroke-linecap="round" opacity="0.8"/>
<path d="M324.6 408.9C326.5 409.2 332.4 410.4 336.4 410.8C340.3 411.3 344.3 412.0 348.2 411.8C352.2 411.7 358.1 410.2 360.1 409.9" fill="none" stroke="#fafafa" stroke-width="2.4" stroke-linejoin="round" stroke-linecap="round" opacity="0.8"/>
<path d="M344.3 388.2C345.9 388.3 351.2 388.7 354.1 389.2C357.1 389.6 360.7 390.8 362.0 391.1" fill="none" stroke="#fafafa" stroke-width="2.4" stroke-linejoin="round" stroke-linecap="round" opacity="0.8"/>
<path d="M287.1 317.2C287.7 316.2 290.7 313.6 291.0 311.3C291.4 309.0 289.4 304.7 289.1 303.4" fill="none" stroke="#fafafa" stroke-width="2.4" stroke-linejoin="round" stroke-linecap="round" opacity="0.8"/>
<path d="M304.5 136.3C304.0 138.1 303.7 143.6 301.6 147.2C299.4 150.8 293.2 154.4 291.7 158.0C290.2 161.6 292.0 165.4 292.7 168.9C293.3 172.3 293.2 176.4 295.6 178.7C298.1 181.0 303.5 182.0 307.5 182.7C311.4 183.3 315.7 183.7 319.3 182.7C322.9 181.7 326.9 179.7 329.2 176.8C331.5 173.8 332.6 169.5 333.1 164.9C333.6 160.3 332.8 153.4 332.1 149.2C331.5 144.9 330.7 141.4 329.2 139.3C327.7 137.2 324.2 136.8 323.3 136.3" fill="none" stroke="#8f8f8f" stroke-width="1.2" stroke-linejoin="round" stroke-linecap="round" />
<path d="M246.3 139.3C246.5 142.3 246.5 151.5 247.3 157.0C248.2 162.6 249.5 168.2 251.3 172.8C253.1 177.4 255.4 181.7 258.2 184.7C261.0 187.6 264.4 188.9 268.0 190.6C271.7 192.2 276.6 193.5 279.9 194.5C283.2 195.5 286.4 196.2 287.8 196.5" fill="none" stroke="#8f8f8f" stroke-width="1.2" stroke-linejoin="round" stroke-linecap="round" />
<path d="M272.0 149.2C271.8 150.8 271.8 156.2 271.0 159.0C270.2 161.8 267.7 164.8 267.1 165.9" fill="none" stroke="#8f8f8f" stroke-width="1.2" stroke-linejoin="round" stroke-linecap="round" />
<path d="M264.1 164.9L270.0 167.3" fill="none" stroke="#8f8f8f" stroke-width="1.2" stroke-linejoin="round" stroke-linecap="round" />
<path d="M220.7 182.7C222.7 183.7 229.3 186.3 232.5 188.6C235.8 190.9 238.6 193.5 240.4 196.5C242.2 199.4 243.4 203.1 243.4 206.3C243.4 209.6 242.2 213.2 240.4 216.2C238.6 219.2 235.2 222.1 232.5 224.1C229.9 226.1 226.3 225.4 224.7 228.0C223.0 230.7 222.7 235.6 222.7 239.9C222.7 244.1 224.0 249.1 224.7 253.7C225.3 258.3 226.3 263.2 226.6 267.5C227.0 271.8 226.0 275.7 226.6 279.3C227.3 282.9 228.9 285.9 230.6 289.2C232.2 292.5 235.5 297.4 236.5 299.0" fill="none" stroke="#8f8f8f" stroke-width="1.2" stroke-linejoin="round" stroke-linecap="round" />
<path d="M199.0 190.6C200.7 192.2 205.9 197.8 208.9 200.4C211.8 203.1 215.6 204.4 216.8 206.3C217.9 208.3 215.9 211.3 215.8 212.3" fill="none" stroke="#8f8f8f" stroke-width="1.2" stroke-linejoin="round" stroke-linecap="round" />
<path d="M179.3 218.2C180.3 219.8 183.6 225.1 185.2 228.0C186.9 231.0 186.5 234.6 189.2 235.9C191.8 237.2 197.0 236.1 201.0 235.9C204.9 235.8 209.5 234.9 212.8 234.9C216.1 234.9 219.4 235.8 220.7 235.9" fill="none" stroke="#8f8f8f" stroke-width="1.2" stroke-linejoin="round" stroke-linecap="round" />
<path d="M167.5 241.8C168.8 243.8 172.4 250.4 175.4 253.7C178.3 257.0 181.6 259.6 185.2 261.6C188.8 263.5 193.8 265.2 197.0 265.5C200.3 265.8 203.9 262.5 204.9 263.5C205.9 264.5 203.0 268.8 203.0 271.4C203.0 274.1 203.3 276.7 204.9 279.3C206.6 281.9 210.5 284.9 212.8 287.2C215.1 289.5 217.8 292.1 218.7 293.1" fill="none" stroke="#8f8f8f" stroke-width="1.2" stroke-linejoin="round" stroke-linecap="round" />
<path d="M153.7 303.0C155.3 302.3 160.6 298.7 163.5 299.0C166.5 299.4 169.4 303.0 171.4 304.9C173.4 306.9 173.4 310.4 175.4 310.9C177.3 311.4 180.3 307.9 183.2 307.9C186.2 307.9 189.8 309.7 193.1 310.9C196.4 312.0 200.3 314.5 203.0 314.8C205.6 315.1 207.9 313.2 208.9 312.8" fill="none" stroke="#8f8f8f" stroke-width="1.2" stroke-linejoin="round" stroke-linecap="round" />
<path d="M244.4 241.8C246.3 239.5 252.3 231.7 256.2 228.0C260.2 224.4 262.8 222.5 268.0 220.2C273.3 217.9 281.2 215.9 287.8 214.2C294.3 212.6 300.9 212.6 307.5 210.3C314.1 208.0 320.6 204.0 327.2 200.4C333.8 196.8 342.6 191.9 346.9 188.6C351.2 185.3 351.2 183.3 352.8 180.7C354.5 178.1 354.5 175.8 356.8 172.8C359.1 169.9 363.4 165.3 366.6 163.0C369.9 160.7 373.2 158.4 376.5 159.0C379.8 159.7 383.1 165.3 386.4 166.9C389.6 168.6 392.3 169.2 396.2 168.9C400.2 168.6 407.7 165.6 410.0 164.9" fill="none" stroke="#8f8f8f" stroke-width="1.2" stroke-linejoin="round" stroke-linecap="round" />
<path d="M266.1 221.1C269.7 219.8 280.9 215.2 287.8 213.2C294.7 211.3 300.9 209.5 307.5 209.3C314.1 209.1 320.6 211.4 327.2 212.3C333.8 213.1 340.3 214.1 346.9 214.2C353.5 214.4 360.1 212.9 366.6 213.2C373.2 213.6 379.1 214.7 386.4 216.2C393.6 217.7 406.1 221.1 410.0 222.1" fill="none" stroke="#8f8f8f" stroke-width="1.2" stroke-linejoin="round" stroke-linecap="round" />
<path d="M244.4 241.8C244.2 243.8 242.7 249.4 243.4 253.7C244.0 257.9 247.2 263.2 248.3 267.5C249.5 271.8 249.0 276.0 250.3 279.3C251.6 282.6 253.2 284.9 256.2 287.2C259.2 289.5 264.1 291.8 268.0 293.1C272.0 294.4 277.9 294.8 279.9 295.1" fill="none" stroke="#8f8f8f" stroke-width="1.2" stroke-linejoin="round" stroke-linecap="round" />
<path d="M242.4 301.0C244.0 302.0 248.6 304.9 252.3 306.9C255.9 308.9 262.1 311.8 264.1 312.8" fill="none" stroke="#8f8f8f" stroke-width="1.2" stroke-linejoin="round" stroke-linecap="round" />
<path d="M352.8 163.0C354.5 162.8 359.4 163.0 362.7 162.0C366.0 161.0 368.9 159.5 372.6 157.0C376.2 154.6 380.8 150.1 384.4 147.2C388.0 144.2 392.6 140.6 394.2 139.3" fill="none" stroke="#8f8f8f" stroke-width="1.2" stroke-linejoin="round" stroke-linecap="round" />
<path d="M201.0 212.3C201.6 214.2 204.6 220.5 204.9 224.1C205.3 227.7 203.3 232.3 203.0 234.0" fill="none" stroke="#8f8f8f" stroke-width="1.2" stroke-linejoin="round" stroke-linecap="round" />
<path d="M189.2 287.2C190.5 288.5 194.4 293.1 197.0 295.1C199.7 297.1 203.6 298.4 204.9 299.0" fill="none" stroke="#8f8f8f" stroke-width="1.2" stroke-linejoin="round" stroke-linecap="round" />
<path d="M412.7 121.6C413.2 123.5 415.8 129.1 415.6 133.4C415.5 137.7 413.2 142.3 411.7 147.2C410.2 152.1 407.7 157.7 406.8 163.0C405.8 168.2 405.4 174.1 405.8 178.7C406.1 183.3 407.1 187.9 408.7 190.6C410.4 193.2 413.5 194.8 415.6 194.5C417.8 194.2 420.6 189.6 421.6 188.6" fill="none" stroke="#8f8f8f" stroke-width="1.2" stroke-linejoin="round" stroke-linecap="round" />
<path d="M415.6 133.4C416.6 135.4 419.7 141.6 421.6 145.2C423.4 148.8 425.7 151.8 426.5 155.1C427.3 158.4 425.8 161.6 426.5 164.9C427.1 168.2 429.8 173.2 430.4 174.8" fill="none" stroke="#8f8f8f" stroke-width="1.2" stroke-linejoin="round" stroke-linecap="round" />
<path d="M468.9 122.5C469.5 123.4 471.5 125.0 472.8 127.5C474.1 129.9 476.4 133.7 476.8 137.3C477.1 140.9 475.8 144.6 474.8 149.2C473.8 153.8 471.2 160.3 470.9 164.9C470.5 169.5 472.8 173.5 472.8 176.8C472.8 180.1 472.5 183.2 470.9 184.7C469.2 186.1 465.6 186.3 463.0 185.6C460.3 185.0 457.0 183.5 455.1 180.7C453.1 177.9 451.6 173.5 451.1 168.9C450.6 164.3 451.5 158.0 452.1 153.1C452.8 148.2 454.6 141.6 455.1 139.3" fill="none" stroke="#8f8f8f" stroke-width="1.2" stroke-linejoin="round" stroke-linecap="round" />
<path d="M463.0 185.6C463.9 186.8 467.6 189.4 468.9 192.5C470.2 195.7 470.5 202.4 470.9 204.4" fill="none" stroke="#8f8f8f" stroke-width="1.2" stroke-linejoin="round" stroke-linecap="round" />
<path d="M468.9 186.6L478.7 182.7" fill="none" stroke="#8f8f8f" stroke-width="1.2" stroke-linejoin="round" stroke-linecap="round" />
<path d="M429.4 218.2C431.4 217.5 437.0 214.6 441.3 214.2C445.5 213.9 450.5 215.6 455.1 216.2C459.7 216.9 465.3 218.5 468.9 218.2C472.5 217.9 474.1 216.2 476.8 214.2C479.4 212.3 482.0 208.0 484.7 206.3C487.3 204.7 489.9 203.7 492.5 204.4C495.2 205.0 497.8 207.5 500.4 210.3C503.1 213.1 507.0 219.3 508.3 221.1" fill="none" stroke="#8f8f8f" stroke-width="1.2" stroke-linejoin="round" stroke-linecap="round" />
<path d="M488.6 224.1C488.9 226.1 489.9 233.0 490.6 235.9C491.2 238.9 492.2 240.9 492.5 241.8" fill="none" stroke="#8f8f8f" stroke-width="1.2" stroke-linejoin="round" stroke-linecap="round" />
<path d="M500.4 188.6C499.8 190.2 497.5 195.5 496.5 198.5C495.5 201.4 494.8 205.0 494.5 206.3" fill="none" stroke="#8f8f8f" stroke-width="1.2" stroke-linejoin="round" stroke-linecap="round" />
<path d="M513.2 145.2C513.1 149.2 511.4 162.3 512.3 168.9C513.1 175.5 514.9 181.4 518.2 184.7C521.5 187.9 528.4 188.9 532.0 188.6C535.6 188.3 537.2 182.0 539.9 182.7C542.5 183.3 546.1 188.9 547.8 192.5C549.4 196.2 550.1 200.8 549.7 204.4C549.4 208.0 547.4 211.6 545.8 214.2C544.1 216.9 542.2 219.8 539.9 220.2C537.6 220.5 534.6 217.9 532.0 216.2C529.4 214.6 526.4 212.3 524.1 210.3C521.8 208.3 519.2 205.4 518.2 204.4" fill="none" stroke="#8f8f8f" stroke-width="1.2" stroke-linejoin="round" stroke-linecap="round" />
<path d="M546.8 163.0C546.3 164.6 545.0 169.5 543.8 172.8C542.7 176.1 540.5 181.0 539.9 182.7" fill="none" stroke="#8f8f8f" stroke-width="1.2" stroke-linejoin="round" stroke-linecap="round" />
<path d="M539.9 220.2C539.5 222.1 539.9 228.7 537.9 232.0C535.9 235.3 531.7 237.9 528.0 239.9C524.4 241.8 520.2 243.5 516.2 243.8C512.3 244.1 508.3 242.2 504.4 241.8C500.4 241.5 495.8 241.2 492.5 241.8C489.3 242.5 487.0 243.8 484.7 245.8C482.4 247.8 479.9 251.0 478.7 253.7C477.6 256.3 477.9 260.2 477.8 261.6" fill="none" stroke="#8f8f8f" stroke-width="1.2" stroke-linejoin="round" stroke-linecap="round" />
<path d="M575.4 186.6C574.7 188.9 572.2 195.5 571.4 200.4C570.6 205.4 571.8 211.9 570.4 216.2C569.1 220.5 565.3 222.5 563.5 226.1C561.7 229.7 560.1 233.6 559.6 237.9C559.1 242.2 561.6 248.1 560.6 251.7C559.6 255.3 556.1 257.5 553.7 259.6C551.2 261.7 548.4 264.0 545.8 264.5C543.2 265.0 539.2 262.9 537.9 262.5" fill="none" stroke="#8f8f8f" stroke-width="1.2" stroke-linejoin="round" stroke-linecap="round" />
<path d="M545.8 264.5L543.8 273.4" fill="none" stroke="#8f8f8f" stroke-width="1.2" stroke-linejoin="round" stroke-linecap="round" />
<path d="M587.2 235.9C586.9 237.9 584.6 244.5 585.2 247.8C585.9 251.0 590.2 254.3 591.1 255.6" fill="none" stroke="#8f8f8f" stroke-width="1.2" stroke-linejoin="round" stroke-linecap="round" />
<path d="M577.3 238.9L587.2 239.9" fill="none" stroke="#8f8f8f" stroke-width="1.2" stroke-linejoin="round" stroke-linecap="round" />
<path d="M608.9 243.8C608.6 245.8 608.6 251.7 606.9 255.6C605.3 259.6 602.3 264.2 599.0 267.5C595.7 270.8 590.8 273.4 587.2 275.4C583.6 277.3 580.0 277.8 577.3 279.3C574.7 280.8 572.4 283.4 571.4 284.2" fill="none" stroke="#8f8f8f" stroke-width="1.2" stroke-linejoin="round" stroke-linecap="round" />
<path d="M478.7 253.7C479.4 252.4 480.4 247.4 482.7 245.8C485.0 244.1 488.9 243.8 492.5 243.8C496.2 243.8 500.8 244.5 504.4 245.8C508.0 247.1 511.6 249.1 514.2 251.7C516.9 254.3 519.2 257.6 520.2 261.6C521.1 265.5 520.8 271.1 520.2 275.4C519.5 279.6 518.2 284.2 516.2 287.2C514.2 290.2 509.6 292.1 508.3 293.1" fill="none" stroke="#8f8f8f" stroke-width="1.2" stroke-linejoin="round" stroke-linecap="round" />
<path d="M492.5 273.4C494.2 272.7 501.6 270.8 502.4 269.5C503.2 268.1 498.3 266.2 497.5 265.5" fill="none" stroke="#8f8f8f" stroke-width="1.2" stroke-linejoin="round" stroke-linecap="round" />
<path d="M502.4 269.5L498.5 273.4" fill="none" stroke="#8f8f8f" stroke-width="1.2" stroke-linejoin="round" stroke-linecap="round" />
<path d="M557.6 287.2C556.0 289.2 551.4 295.1 547.8 299.0C544.1 303.0 538.9 307.2 535.9 310.9C533.0 314.5 531.0 319.1 530.0 320.7" fill="none" stroke="#8f8f8f" stroke-width="1.2" stroke-linejoin="round" stroke-linecap="round" />
<path d="M577.3 302.0C579.0 302.2 583.9 301.8 587.2 303.0C590.5 304.1 593.8 308.7 597.1 308.9C600.3 309.1 604.3 306.3 606.9 304.0C609.5 301.7 611.8 296.6 612.8 295.1" fill="none" stroke="#8f8f8f" stroke-width="1.2" stroke-linejoin="round" stroke-linecap="round" />
<path d="M597.1 308.9L595.1 322.7" fill="none" stroke="#8f8f8f" stroke-width="1.2" stroke-linejoin="round" stroke-linecap="round" />
<path d="M612.8 295.1L613.8 304.0" fill="none" stroke="#8f8f8f" stroke-width="1.2" stroke-linejoin="round" stroke-linecap="round" />
<path d="M628.6 263.5C626.6 263.9 620.4 263.9 616.8 265.5C613.2 267.2 609.4 270.1 606.9 273.4C604.5 276.7 602.8 283.3 602.0 285.2" fill="none" stroke="#8f8f8f" stroke-width="1.2" stroke-linejoin="round" stroke-linecap="round" />
<path d="M595.1 208.3C596.7 211.6 602.6 222.8 604.9 228.0C607.2 233.3 608.2 237.9 608.9 239.9" fill="none" stroke="#8f8f8f" stroke-width="1.2" stroke-linejoin="round" stroke-linecap="round" />
<path d="M390.0 216.2C392.0 217.9 397.6 224.1 401.8 226.1C406.1 228.0 411.0 227.1 415.6 228.0C420.2 229.0 425.2 230.0 429.4 232.0C433.7 234.0 437.0 237.6 441.3 239.9C445.5 242.2 450.5 243.8 455.1 245.8C459.7 247.8 465.3 249.7 468.9 251.7C472.5 253.7 475.5 256.6 476.8 257.6" fill="none" stroke="#8f8f8f" stroke-width="1.2" stroke-linejoin="round" stroke-linecap="round" />
<path d="M531.3 339.1C533.5 337.9 539.1 333.5 544.4 331.9C549.8 330.4 557.5 330.6 563.5 329.6C569.5 328.6 575.4 327.2 580.2 326.0C584.9 324.8 590.1 323.0 592.1 322.4" fill="none" stroke="#8f8f8f" stroke-width="1.2" stroke-linejoin="round" stroke-linecap="round" />
<path d="M568.3 331.9C569.1 334.3 570.6 341.5 573.0 346.2C575.4 351.0 580.2 357.0 582.6 360.5C584.9 364.1 586.5 366.5 587.3 367.7" fill="none" stroke="#8f8f8f" stroke-width="1.2" stroke-linejoin="round" stroke-linecap="round" />
<path d="M589.7 343.9C591.7 345.5 598.0 350.2 601.6 353.4C605.2 356.6 609.2 359.3 611.2 362.9C613.1 366.5 613.1 372.9 613.5 374.8" fill="none" stroke="#8f8f8f" stroke-width="1.2" stroke-linejoin="round" stroke-linecap="round" />
<path d="M575.4 302.2C577.4 302.4 583.8 302.2 587.3 303.4C590.9 304.5 593.7 309.7 596.9 309.3C600.0 308.9 603.6 303.6 606.4 301.0C609.2 298.4 612.3 295.0 613.5 293.8" fill="none" stroke="#8f8f8f" stroke-width="1.2" stroke-linejoin="round" stroke-linecap="round" />
<path d="M596.9 309.3L595.7 322.4" fill="none" stroke="#8f8f8f" stroke-width="1.2" stroke-linejoin="round" stroke-linecap="round" />
<path d="M532.5 321.2C534.5 318.6 540.9 310.3 544.4 305.7C548.0 301.2 551.6 297.0 554.0 293.8C556.4 290.6 557.9 287.9 558.7 286.7" fill="none" stroke="#8f8f8f" stroke-width="1.2" stroke-linejoin="round" stroke-linecap="round" />
<path d="M507.5 292.6C509.3 291.6 516.8 289.3 518.2 286.7C519.6 284.1 516.2 278.7 515.8 277.1" fill="none" stroke="#8f8f8f" stroke-width="1.2" stroke-linejoin="round" stroke-linecap="round" />
<path d="M611.2 377.2C612.3 378.0 616.3 381.8 618.3 382.0C620.3 382.2 622.3 379.0 623.1 378.4" fill="none" stroke="#8f8f8f" stroke-width="1.2" stroke-linejoin="round" stroke-linecap="round" />
<path d="M172.4 311.8C173.5 312.2 176.8 314.0 179.3 313.8C181.8 313.6 184.6 310.5 187.2 310.8C189.8 311.2 192.1 314.6 195.1 315.8C198.0 316.9 201.6 316.8 204.9 317.7C208.2 318.7 211.5 320.0 214.8 321.7C218.1 323.3 221.7 326.0 224.7 327.6C227.6 329.3 230.2 331.1 232.5 331.6C234.8 332.0 237.5 330.7 238.5 330.6" fill="none" stroke="#8f8f8f" stroke-width="1.2" stroke-linejoin="round" stroke-linecap="round" />
<path d="M232.5 331.6C233.2 332.5 235.7 335.7 236.5 337.5C237.3 339.3 237.3 341.6 237.5 342.4" fill="none" stroke="#8f8f8f" stroke-width="1.2" stroke-linejoin="round" stroke-linecap="round" />
<path d="M238.5 330.6C240.1 330.4 245.0 329.3 248.3 329.6C251.6 329.9 255.2 331.4 258.2 332.5C261.1 333.7 264.8 335.8 266.1 336.5" fill="none" stroke="#8f8f8f" stroke-width="1.2" stroke-linejoin="round" stroke-linecap="round" />
<path d="M206.9 302.0C207.2 303.3 207.6 307.6 208.9 309.9C210.2 312.2 212.5 314.1 214.8 315.8C217.1 317.4 221.4 319.1 222.7 319.7" fill="none" stroke="#8f8f8f" stroke-width="1.2" stroke-linejoin="round" stroke-linecap="round" />
<path d="M279.9 376.9C281.2 376.3 284.8 374.3 287.8 373.0C290.7 371.6 294.3 369.8 297.6 369.0C300.9 368.2 305.8 368.2 307.5 368.0" fill="none" stroke="#8f8f8f" stroke-width="1.2" stroke-linejoin="round" stroke-linecap="round" />
<path d="M291.7 392.7C293.3 392.2 298.3 391.0 301.6 389.7C304.9 388.4 308.5 386.6 311.4 384.8C314.4 383.0 318.0 379.9 319.3 378.9" fill="none" stroke="#8f8f8f" stroke-width="1.2" stroke-linejoin="round" stroke-linecap="round" />
<path d="M323.3 407.5C325.2 407.8 331.1 409.0 335.1 409.4C339.0 409.9 343.0 410.6 346.9 410.4C350.9 410.3 356.8 408.8 358.8 408.5" fill="none" stroke="#8f8f8f" stroke-width="1.2" stroke-linejoin="round" stroke-linecap="round" />
<path d="M343.0 386.8C344.6 386.9 349.9 387.3 352.8 387.8C355.8 388.2 359.4 389.4 360.7 389.7" fill="none" stroke="#8f8f8f" stroke-width="1.2" stroke-linejoin="round" stroke-linecap="round" />
<path d="M285.8 315.8C286.4 314.8 289.4 312.2 289.7 309.9C290.1 307.6 288.1 303.3 287.8 302.0" fill="none" stroke="#8f8f8f" stroke-width="1.2" stroke-linejoin="round" stroke-linecap="round" />
<path d="M231.2 159.8C231.8 160.5 233.3 162.8 234.5 164.0C235.7 165.2 237.8 166.5 238.5 167.0" fill="none" stroke="#8f8f8f" stroke-width="1.2" stroke-linejoin="round" stroke-linecap="round" />
<path d="M162.0 216.2C162.7 216.8 164.6 218.9 166.0 220.0C167.4 221.1 169.8 222.1 170.5 222.5" fill="none" stroke="#8f8f8f" stroke-width="1.2" stroke-linejoin="round" stroke-linecap="round" />
<path d="M184.6 185.7C185.2 186.3 187.1 188.4 188.5 189.5C189.9 190.6 192.2 191.6 193.0 192.0" fill="none" stroke="#8f8f8f" stroke-width="1.2" stroke-linejoin="round" stroke-linecap="round" />
<path d="M196.1 173.6C196.8 174.3 198.6 176.8 200.0 178.0C201.4 179.2 203.8 180.1 204.5 180.5" fill="none" stroke="#8f8f8f" stroke-width="1.2" stroke-linejoin="round" stroke-linecap="round" />
<path d="M253.1 136.8C253.5 137.6 254.8 139.8 255.5 141.5C256.1 143.2 256.8 146.1 257.0 147.0" fill="none" stroke="#8f8f8f" stroke-width="1.2" stroke-linejoin="round" stroke-linecap="round" />
<path d="M150.0 233.0C150.8 233.6 152.8 235.7 154.5 236.5C156.2 237.3 159.1 237.8 160.0 238.0" fill="none" stroke="#8f8f8f" stroke-width="1.2" stroke-linejoin="round" stroke-linecap="round" />
<path d="M146.0 268.0C146.8 268.4 149.2 270.0 151.0 270.5C152.8 271.0 156.0 270.9 157.0 271.0" fill="none" stroke="#8f8f8f" stroke-width="1.2" stroke-linejoin="round" stroke-linecap="round" />
<path d="M344.0 119.5C344.3 120.4 345.8 123.1 346.0 125.0C346.2 126.9 345.2 130.0 345.0 131.0" fill="none" stroke="#8f8f8f" stroke-width="1.2" stroke-linejoin="round" stroke-linecap="round" />
<path d="M441.0 116.6C441.2 117.7 442.5 120.8 442.5 123.0C442.5 125.2 441.2 128.8 441.0 130.0" fill="none" stroke="#8f8f8f" stroke-width="1.2" stroke-linejoin="round" stroke-linecap="round" />
<path d="M512.0 139.3C511.6 140.4 510.7 143.9 509.5 146.0C508.3 148.1 505.8 151.0 505.0 152.0" fill="none" stroke="#8f8f8f" stroke-width="1.2" stroke-linejoin="round" stroke-linecap="round" />
<path d="M545.8 159.0C545.2 160.0 543.0 162.8 542.0 165.0C541.0 167.2 540.3 170.8 540.0 172.0" fill="none" stroke="#8f8f8f" stroke-width="1.2" stroke-linejoin="round" stroke-linecap="round" />
<path d="M589.0 190.6C588.2 191.3 585.7 193.3 584.5 195.0C583.3 196.7 582.4 200.0 582.0 201.0" fill="none" stroke="#8f8f8f" stroke-width="1.2" stroke-linejoin="round" stroke-linecap="round" />
<path d="M609.0 220.2C608.2 220.8 605.4 222.4 604.0 224.0C602.6 225.6 601.1 229.0 600.5 230.0" fill="none" stroke="#8f8f8f" stroke-width="1.2" stroke-linejoin="round" stroke-linecap="round" />
<path d="M629.6 265.5C628.7 265.8 625.8 266.2 624.0 267.0C622.2 267.8 619.8 269.5 619.0 270.0" fill="none" stroke="#8f8f8f" stroke-width="1.2" stroke-linejoin="round" stroke-linecap="round" />
<path d="M642.4 306.9C641.3 307.0 638.1 307.0 636.0 307.5C633.9 308.0 631.0 309.6 630.0 310.0" fill="none" stroke="#8f8f8f" stroke-width="1.2" stroke-linejoin="round" stroke-linecap="round" />
<g clip-path="url(#brainclip)"><path d="M277.6 123.6L466 535" stroke="#000" stroke-opacity="0.1" stroke-width="8.5" fill="none"/></g>
<rect x="425" y="505" width="60" height="38" fill="url(#cordfade)"/>
<path d="M463.2 530L492.2 593" stroke="url(#shaftfade)" stroke-width="8.5" fill="none"/>
<path d="M468 541L492.4 593.4" stroke="#333" stroke-width="8.5" fill="none"/>
<path d="M134.9 168.9H227M132.4 295.7H356.8M239.7 412.1H363.3M349.8 524.8H434.5" stroke="#111" stroke-width="2" fill="none"/>
<text x="165.6" y="31.0" font-size="31.8" font-family="Liberation Sans, Arial, sans-serif" textLength="223.8" lengthAdjust="spacingAndGlyphs" fill="#0a0a0a">Anterior/Rostral</text>
<text x="395.2" y="645.9" font-size="30.6" font-family="Liberation Sans, Arial, sans-serif" textLength="234.8" lengthAdjust="spacingAndGlyphs" fill="#0a0a0a">Posterior/Caudal</text>
<text x="60.7" y="174.6" font-size="22.5" font-family="Liberation Sans, Arial, sans-serif" font-weight="bold" textLength="66.2" lengthAdjust="spacingAndGlyphs" fill="#0a0a0a">Cortex</text>
<text x="31.5" y="294.5" font-size="22.5" font-family="Liberation Sans, Arial, sans-serif" font-weight="bold" textLength="91.6" lengthAdjust="spacingAndGlyphs" fill="#0a0a0a">Thalamic</text>
<text x="41.2" y="322.1" font-size="22.5" font-family="Liberation Sans, Arial, sans-serif" font-weight="bold" textLength="71.6" lengthAdjust="spacingAndGlyphs" fill="#0a0a0a">Glioma</text>
<text x="153.5" y="410.5" font-size="22.5" font-family="Liberation Sans, Arial, sans-serif" font-weight="bold" textLength="78.1" lengthAdjust="spacingAndGlyphs" fill="#0a0a0a">Pontine</text>
<text x="158.4" y="437.6" font-size="22.5" font-family="Liberation Sans, Arial, sans-serif" font-weight="bold" textLength="71.6" lengthAdjust="spacingAndGlyphs" fill="#0a0a0a">Glioma</text>
<text x="174.6" y="533.0" font-size="22.5" font-family="Liberation Sans, Arial, sans-serif" font-weight="bold" textLength="163.3" lengthAdjust="spacingAndGlyphs" fill="#0a0a0a">Cervical Sp.Cord</text>
</g>
<g id="panel-b">
<rect x="1013.6" y="180.7" width="53.2" height="53.5" fill="#ecebf4"/>
<rect x="1072.4" y="180.7" width="53.2" height="53.5" fill="#f9f8fb"/>
<rect x="1131.2" y="180.7" width="53.2" height="53.5" fill="#eeecf5"/>
<rect x="1190.0" y="180.7" width="53.2" height="53.5" fill="#f0eef5"/>
<rect x="1248.8" y="180.7" width="53.2" height="53.5" fill="#dddded"/>
<rect x="1307.7" y="180.7" width="53.2" height="53.5" fill="#d0d1e6"/>
<rect x="1366.5" y="180.7" width="53.2" height="53.5" fill="#fbfafc"/>
<rect x="1425.3" y="180.7" width="53.2" height="53.5" fill="#e2e2ef"/>
<rect x="1484.1" y="180.7" width="53.2" height="53.5" fill="#f9f8fb"/>
<rect x="1542.9" y="180.7" width="53.2" height="53.5" fill="#dadaeb"/>
<rect x="1601.7" y="180.7" width="53.2" height="53.5" fill="#f8f7fa"/>
<rect x="1660.5" y="180.7" width="53.2" height="53.5" fill="#f9f8fb"/>
<rect x="1719.3" y="180.7" width="53.2" height="53.5" fill="#ebe9f3"/>
<rect x="1778.1" y="180.7" width="53.2" height="53.5" fill="#fbfafc"/>
<rect x="1836.9" y="180.7" width="53.2" height="53.5" fill="#eeecf5"/>
<rect x="1013.6" y="240.0" width="53.2" height="52.6" fill="#f4f2f8"/>
<rect x="1072.4" y="240.0" width="53.2" height="52.6" fill="#f2f0f7"/>
<rect x="1131.2" y="240.0" width="53.2" height="52.6" fill="#ecebf4"/>
<rect x="1190.0" y="240.0" width="53.2" height="52.6" fill="#ebe9f3"/>
<rect x="1248.8" y="240.0" width="53.2" height="52.6" fill="#f5f3f9"/>
<rect x="1307.7" y="240.0" width="53.2" height="52.6" fill="#f5f3f9"/>
<rect x="1366.5" y="240.0" width="53.2" height="52.6" fill="#f4f2f8"/>
<rect x="1425.3" y="240.0" width="53.2" height="52.6" fill="#e7e6f1"/>
<rect x="1484.1" y="240.0" width="53.2" height="52.6" fill="#f3f1f7"/>
<rect x="1542.9" y="240.0" width="53.2" height="52.6" fill="#e6e5f1"/>
<rect x="1601.7" y="240.0" width="53.2" height="52.6" fill="#f5f3f9"/>
<rect x="1660.5" y="240.0" width="53.2" height="52.6" fill="#f4f2f8"/>
<rect x="1719.3" y="240.0" width="53.2" height="52.6" fill="#e9e8f2"/>
<rect x="1778.1" y="240.0" width="53.2" height="52.6" fill="#f5f3f9"/>
<rect x="1836.9" y="240.0" width="53.2" height="52.6" fill="#f2f0f7"/>
<rect x="1013.6" y="298.4" width="53.2" height="53.6" fill="#e2e2ef"/>
<rect x="1072.4" y="298.4" width="53.2" height="53.6" fill="#a5a2cd"/>
<rect x="1131.2" y="298.4" width="53.2" height="53.6" fill="#928ec2"/>
<rect x="1190.0" y="298.4" width="53.2" height="53.6" fill="#8d8ac0"/>
<rect x="1248.8" y="298.4" width="53.2" height="53.6" fill="#9e9ac8"/>
<rect x="1307.7" y="298.4" width="53.2" height="53.6" fill="#9e9ac8"/>
<rect x="1366.5" y="298.4" width="53.2" height="53.6" fill="#501f8b"/>
<rect x="1425.3" y="298.4" width="53.2" height="53.6" fill="#5e3998"/>
<rect x="1484.1" y="298.4" width="53.2" height="53.6" fill="#3f007d"/>
<rect x="1542.9" y="298.4" width="53.2" height="53.6" fill="#cecee5"/>
<rect x="1601.7" y="298.4" width="53.2" height="53.6" fill="#471084"/>
<rect x="1660.5" y="298.4" width="53.2" height="53.6" fill="#684ea1"/>
<rect x="1719.3" y="298.4" width="53.2" height="53.6" fill="#9793c5"/>
<rect x="1778.1" y="298.4" width="53.2" height="53.6" fill="#460c83"/>
<rect x="1836.9" y="298.4" width="53.2" height="53.6" fill="#684ea1"/>
<rect x="1017.0" y="463.0" width="53.4" height="53.6" fill="#dadaeb"/>
<rect x="1075.9" y="463.0" width="53.4" height="53.6" fill="#f9f8fb"/>
<rect x="1134.7" y="463.0" width="53.4" height="53.6" fill="#faf9fc"/>
<rect x="1193.6" y="463.0" width="53.4" height="53.6" fill="#f9f8fb"/>
<rect x="1252.4" y="463.0" width="53.4" height="53.6" fill="#f7f5fa"/>
<rect x="1311.3" y="463.0" width="53.4" height="53.6" fill="#f7f5fa"/>
<rect x="1370.2" y="463.0" width="53.4" height="53.6" fill="#f9f8fb"/>
<rect x="1429.0" y="463.0" width="53.4" height="53.6" fill="#f2f0f7"/>
<rect x="1487.9" y="463.0" width="53.4" height="53.6" fill="#eeecf5"/>
<rect x="1546.7" y="463.0" width="53.4" height="53.6" fill="#f8f7fa"/>
<rect x="1605.6" y="463.0" width="53.4" height="53.6" fill="#f9f8fb"/>
<rect x="1664.5" y="463.0" width="53.4" height="53.6" fill="#faf9fc"/>
<rect x="1723.3" y="463.0" width="53.4" height="53.6" fill="#f9f8fb"/>
<rect x="1782.2" y="463.0" width="53.4" height="53.6" fill="#fbfafc"/>
<rect x="1841.0" y="463.0" width="53.4" height="53.6" fill="#f5f3f9"/>
<rect x="1017.0" y="522.3" width="53.4" height="52.9" fill="#f6f4f9"/>
<rect x="1075.9" y="522.3" width="53.4" height="52.9" fill="#f7f5fa"/>
<rect x="1134.7" y="522.3" width="53.4" height="52.9" fill="#f5f3f9"/>
<rect x="1193.6" y="522.3" width="53.4" height="52.9" fill="#f4f2f8"/>
<rect x="1252.4" y="522.3" width="53.4" height="52.9" fill="#f6f4f9"/>
<rect x="1311.3" y="522.3" width="53.4" height="52.9" fill="#f3f1f7"/>
<rect x="1370.2" y="522.3" width="53.4" height="52.9" fill="#f7f5fa"/>
<rect x="1429.0" y="522.3" width="53.4" height="52.9" fill="#f1eff6"/>
<rect x="1487.9" y="522.3" width="53.4" height="52.9" fill="#f5f3f9"/>
<rect x="1546.7" y="522.3" width="53.4" height="52.9" fill="#f4f2f8"/>
<rect x="1605.6" y="522.3" width="53.4" height="52.9" fill="#f6f4f9"/>
<rect x="1664.5" y="522.3" width="53.4" height="52.9" fill="#f5f3f9"/>
<rect x="1723.3" y="522.3" width="53.4" height="52.9" fill="#f6f4f9"/>
<rect x="1782.2" y="522.3" width="53.4" height="52.9" fill="#f7f5fa"/>
<rect x="1841.0" y="522.3" width="53.4" height="52.9" fill="#f5f3f9"/>
<rect x="1017.0" y="580.7" width="53.4" height="53.6" fill="#e7e6f1"/>
<rect x="1075.9" y="580.7" width="53.4" height="53.6" fill="#928ec2"/>
<rect x="1134.7" y="580.7" width="53.4" height="53.6" fill="#61409b"/>
<rect x="1193.6" y="580.7" width="53.4" height="53.6" fill="#61409b"/>
<rect x="1252.4" y="580.7" width="53.4" height="53.6" fill="#65479e"/>
<rect x="1311.3" y="580.7" width="53.4" height="53.6" fill="#61409b"/>
<rect x="1370.2" y="580.7" width="53.4" height="53.6" fill="#63449d"/>
<rect x="1429.0" y="580.7" width="53.4" height="53.6" fill="#9e9ac8"/>
<rect x="1487.9" y="580.7" width="53.4" height="53.6" fill="#8683bd"/>
<rect x="1546.7" y="580.7" width="53.4" height="53.6" fill="#440981"/>
<rect x="1605.6" y="580.7" width="53.4" height="53.6" fill="#5c3696"/>
<rect x="1664.5" y="580.7" width="53.4" height="53.6" fill="#460c83"/>
<rect x="1723.3" y="580.7" width="53.4" height="53.6" fill="#3f007d"/>
<rect x="1782.2" y="580.7" width="53.4" height="53.6" fill="#4c1989"/>
<rect x="1841.0" y="580.7" width="53.4" height="53.6" fill="#582f93"/>
<rect x="1039.8" y="168.8" width="2.1" height="9.2" fill="#1a1a1a"/>
<text transform="translate(1031.9 160.1) rotate(90) scale(0.95 1.02)" text-anchor="end" font-size="26.6" font-family="DejaVu Sans, Liberation Sans, sans-serif" fill="#111">DLX2</text>
<rect x="1098.6" y="168.8" width="2.1" height="9.2" fill="#1a1a1a"/>
<text transform="translate(1090.7 160.1) rotate(90) scale(0.95 1.02)" text-anchor="end" font-size="26.6" font-family="DejaVu Sans, Liberation Sans, sans-serif" fill="#111">DLX1</text>
<rect x="1157.4" y="168.8" width="2.1" height="9.2" fill="#1a1a1a"/>
<text transform="translate(1149.5 160.1) rotate(90) scale(0.95 1.02)" text-anchor="end" font-size="26.6" font-family="DejaVu Sans, Liberation Sans, sans-serif" fill="#111">IRX3</text>
<rect x="1216.2" y="168.8" width="2.1" height="9.2" fill="#1a1a1a"/>
<text transform="translate(1208.3 160.1) rotate(90) scale(0.95 1.02)" text-anchor="end" font-size="26.6" font-family="DejaVu Sans, Liberation Sans, sans-serif" fill="#111">DBX1</text>
<rect x="1275.0" y="168.8" width="2.1" height="9.2" fill="#1a1a1a"/>
<text transform="translate(1267.1 160.1) rotate(90) scale(0.95 1.02)" text-anchor="end" font-size="26.6" font-family="DejaVu Sans, Liberation Sans, sans-serif" fill="#111">PAX7</text>
<rect x="1333.8" y="168.8" width="2.1" height="9.2" fill="#1a1a1a"/>
<text transform="translate(1325.9 160.1) rotate(90) scale(0.95 1.02)" text-anchor="end" font-size="26.6" font-family="DejaVu Sans, Liberation Sans, sans-serif" fill="#111">PAX6</text>
<rect x="1392.6" y="168.8" width="2.1" height="9.2" fill="#1a1a1a"/>
<text transform="translate(1384.8 160.1) rotate(90) scale(0.95 1.02)" text-anchor="end" font-size="26.6" font-family="DejaVu Sans, Liberation Sans, sans-serif" fill="#111">PAX3</text>
<rect x="1451.4" y="168.8" width="2.1" height="9.2" fill="#1a1a1a"/>
<text transform="translate(1443.6 160.1) rotate(90) scale(0.95 1.02)" text-anchor="end" font-size="26.6" font-family="DejaVu Sans, Liberation Sans, sans-serif" fill="#111">HES6</text>
<rect x="1510.2" y="168.8" width="2.1" height="9.2" fill="#1a1a1a"/>
<text transform="translate(1502.4 160.1) rotate(90) scale(0.95 1.02)" text-anchor="end" font-size="26.6" font-family="DejaVu Sans, Liberation Sans, sans-serif" fill="#111">HES5</text>
<rect x="1569.0" y="168.8" width="2.1" height="9.2" fill="#1a1a1a"/>
<text transform="translate(1561.2 160.1) rotate(90) scale(0.95 1.02)" text-anchor="end" font-size="26.6" font-family="DejaVu Sans, Liberation Sans, sans-serif" fill="#111">NOTCH1</text>
<rect x="1627.9" y="168.8" width="2.1" height="9.2" fill="#1a1a1a"/>
<text transform="translate(1620.0 160.1) rotate(90) scale(0.95 1.02)" text-anchor="end" font-size="26.6" font-family="DejaVu Sans, Liberation Sans, sans-serif" fill="#111">NKX6-1</text>
<rect x="1686.7" y="168.8" width="2.1" height="9.2" fill="#1a1a1a"/>
<text transform="translate(1678.8 160.1) rotate(90) scale(0.95 1.02)" text-anchor="end" font-size="26.6" font-family="DejaVu Sans, Liberation Sans, sans-serif" fill="#111">NKX2-1</text>
<rect x="1745.5" y="168.8" width="2.1" height="9.2" fill="#1a1a1a"/>
<text transform="translate(1737.6 160.1) rotate(90) scale(0.95 1.02)" text-anchor="end" font-size="26.6" font-family="DejaVu Sans, Liberation Sans, sans-serif" fill="#111">ZIC4</text>
<rect x="1804.3" y="168.8" width="2.1" height="9.2" fill="#1a1a1a"/>
<text transform="translate(1796.4 160.1) rotate(90) scale(0.95 1.02)" text-anchor="end" font-size="26.6" font-family="DejaVu Sans, Liberation Sans, sans-serif" fill="#111">ZIC1</text>
<rect x="1863.1" y="168.8" width="2.1" height="9.2" fill="#1a1a1a"/>
<text transform="translate(1855.2 160.1) rotate(90) scale(0.95 1.02)" text-anchor="end" font-size="26.6" font-family="DejaVu Sans, Liberation Sans, sans-serif" fill="#111">OTX1</text>
<rect x="1001.8" y="206.4" width="9.4" height="2.1" fill="#1a1a1a"/>
<text x="991.8" y="214.4" text-anchor="end" font-size="25.3" font-family="DejaVu Sans, Liberation Sans, sans-serif" fill="#111">ATAC</text>
<rect x="1001.8" y="265.2" width="9.4" height="2.1" fill="#1a1a1a"/>
<text x="990.7" y="275.3" text-anchor="end" font-size="25.3" font-family="DejaVu Sans, Liberation Sans, sans-serif" fill="#111">H3K27ac</text>
<rect x="1001.8" y="324.1" width="9.4" height="2.1" fill="#1a1a1a"/>
<text x="990.3" y="333.4" text-anchor="end" font-size="25.3" font-family="DejaVu Sans, Liberation Sans, sans-serif" fill="#111">H3K27me3</text>
<rect x="1005.4" y="488.8" width="9.4" height="2.1" fill="#1a1a1a"/>
<text x="995.2" y="496.4" text-anchor="end" font-size="25.3" font-family="DejaVu Sans, Liberation Sans, sans-serif" fill="#111">ATAC</text>
<rect x="1005.4" y="547.7" width="9.4" height="2.1" fill="#1a1a1a"/>
<text x="994.4" y="557.6" text-anchor="end" font-size="25.3" font-family="DejaVu Sans, Liberation Sans, sans-serif" fill="#111">H3K27ac</text>
<rect x="1005.4" y="606.5" width="9.4" height="2.1" fill="#1a1a1a"/>
<text x="994.2" y="615.2" text-anchor="end" font-size="25.3" font-family="DejaVu Sans, Liberation Sans, sans-serif" fill="#111">H3K27me3</text>
<text x="786.6" y="251" text-anchor="middle" font-size="26.8" font-weight="bold" font-family="Liberation Sans, Arial, sans-serif" fill="#000">Adult hOLG</text>
<text x="786.4" y="282.2" text-anchor="middle" font-size="26.8" font-weight="bold" font-family="Liberation Sans, Arial, sans-serif" fill="#000">SC</text>
<text x="786.6" y="547.8" text-anchor="middle" font-size="26.8" font-weight="bold" font-family="Liberation Sans, Arial, sans-serif" fill="#000">Adult hOLG</text>
<text x="786.8" y="579.7" text-anchor="middle" font-size="26.8" font-weight="bold" font-family="Liberation Sans, Arial, sans-serif" fill="#000">Ctx</text>
<defs><linearGradient id="cb" x1="0" y1="0" x2="0" y2="1">
<stop offset="0.00" stop-color="#3f007d"/>
<stop offset="0.05" stop-color="#471084"/>
<stop offset="0.10" stop-color="#501f8b"/>
<stop offset="0.15" stop-color="#582f93"/>
<stop offset="0.20" stop-color="#61409b"/>
<stop offset="0.25" stop-color="#6a51a3"/>
<stop offset="0.30" stop-color="#7363ac"/>
<stop offset="0.35" stop-color="#7c74b5"/>
<stop offset="0.40" stop-color="#8683bd"/>
<stop offset="0.45" stop-color="#928ec2"/>
<stop offset="0.50" stop-color="#9e9ac8"/>
<stop offset="0.55" stop-color="#aaa8d0"/>
<stop offset="0.60" stop-color="#b6b6d8"/>
<stop offset="0.65" stop-color="#c2c3df"/>
<stop offset="0.70" stop-color="#cecee5"/>
<stop offset="0.75" stop-color="#dadaeb"/>
<stop offset="0.80" stop-color="#e2e2ef"/>
<stop offset="0.85" stop-color="#ebe9f3"/>
<stop offset="0.90" stop-color="#f2f0f7"/>
<stop offset="0.95" stop-color="#f7f5fa"/>
<stop offset="1.00" stop-color="#fcfbfd"/>
</linearGradient></defs>
<rect x="1928" y="295" width="16" height="189" fill="url(#cb)"/>
<path d="M1928.2 295V484M1943.8 295V484" stroke="#8a8a9a" stroke-width="0.6" fill="none" opacity="0.7"/>
<text x="1933.5" y="284.4" text-anchor="middle" font-size="21" font-family="Liberation Sans, Arial, sans-serif" fill="#111">1</text>
<text x="1934" y="506" text-anchor="middle" font-size="21" font-family="Liberation Sans, Arial, sans-serif" fill="#111">0</text>
<text transform="translate(1982.5 381.5) rotate(90) scale(0.955 1)" text-anchor="middle" font-size="22.6" font-family="Liberation Sans, Arial, sans-serif" fill="#111">Median promoter signal</text>
<text transform="translate(1955.5 385.5) rotate(90) scale(0.97 1)" text-anchor="middle" font-size="22.6" font-family="Liberation Sans, Arial, sans-serif" fill="#111">(scaled)</text>
</g>
<g id="panel-c">
<path d="M24.3 801.5L24.3 800.3L27.8 800.6L28.3 800.4L29.3 799.8L30.8 800.6L31.8 800.5L32.3 800.1L32.8 800.6L36.3 800.6L36.8 799.9L37.6 796.5L38.3 799.5L38.8 800.6L43.3 800.3L48.3 800.7L49.3 800.2L49.8 799.5L50.3 795.2L50.8 790.2L51.3 784.6L51.8 790.2L52.3 795.2L52.8 795.9L53.5 790.6L54.3 796.6L54.8 797.1L55.3 792.3L56 784.6L56.3 788L56.8 793.3L57.3 797.9L57.8 800.3L58.3 800.2L61.3 800.7L61.8 800.5L62.8 800.7L63.8 800.3L64.5 799.1L65.3 800.2L65.8 799.8L66.8 800.3L67.3 799.8L68.3 799.8L69.3 800.3L69.8 799.9L71.3 800.1L72.3 800.7L73.3 800.8L73.8 800.6L76.3 800.8L77.3 800.6L80.8 800.7L81.8 800.3L82.8 800.7L84.3 799.9L84.8 800.5L85.3 800.7L85.8 800.4L86.8 800.6L87.3 800L88.8 800.1L89.8 800.7L91.3 800.5L91.8 800.8L95.3 800.8L96.3 800.7L100.3 800.8L101.3 800.5L103.3 800.9L103.8 800.7L104.3 800.3L105.8 800.6L106.3 800.9L110.8 800.6L111.3 800.9L116.8 800.9L122.3 800.9L125.3 800.9L125.8 800.7L126.8 800.9L127.3 800.4L128 800.2L128 801.9ZM131 801.9L131 801.1L134 801.1L134 801.9ZM140 801.9L140 800.7L140.3 800.3L141.8 800.9L142.8 800.1L143.8 800.9L144.3 801L145.3 800.8L146.3 800.8L146.8 800.1L147.3 797.9L148.5 791.9L148.8 791.1L149.3 783.1L149.8 774.4L150.2 766.9L150.8 777.9L151.3 786.4L151.8 794L152 796.7L152.3 800.3L152.3 801.9ZM168 802L168 801L173.8 801L179.3 801L184.8 801L190.3 801.1L195.8 801.1L201.3 801.1L206.8 801.1L212.3 801.1L217.8 801.2L223.3 801.2L228.3 801.2L228.8 800.9L229.7 799.7L230.8 801.1L236.3 801.2L241.8 801.2L244.8 801.2L245.7 799.8L246.3 800.8L246.8 801.3L252.3 801.3L257.8 801.3L258 799.4L258.8 798.1L259.8 797.8L260.3 793L260.8 787.5L261.3 781.7L261.7 776.7L262.3 784.1L262.8 786.4L263.5 777.3L263.8 781.3L264.3 787.7L264.8 793.5L265.3 794.8L266 792.3L267.8 798.4L268.3 799.8L268.8 799.6L269.3 798.5L269.8 798.7L270.8 799.7L271.3 799.7L271.8 799.3L272.3 797.9L272.8 794.6L273.5 789.3L274.3 795.3L274.8 798.3L275.3 799.5L275.8 799.9L276.3 794.6L276.8 788.1L277.3 781L277.8 773.4L278.3 781L278.8 788.2L279.3 794.6L279.8 794.9L280 794.4L281.8 799.2L282.3 793.9L282.8 787.5L283.5 777.4L283.8 781.8L284.3 788.8L284.8 795.1L285.3 794.4L285.8 789.7L286.3 784.6L286.7 780.4L287.3 786.7L287.8 791.6L288.3 796.1L288.8 794L289.5 788.4L290.3 794.8L290.8 796L291.3 791.4L291.6 788.4L292.3 795.1L292.8 799.2L293.3 799.2L294 797.4L295.3 800.7L295.8 800.6L296 800.3L296.3 800.7L297.3 801L297.8 800.6L298.8 801.3L299.3 800.6L299.8 800.1L300.3 800.1L300.8 800.7L301.3 800.8L301.8 800L302.8 801L304.3 801L305.3 800.7L305.8 800.9L306.8 800.5L307.3 800.6L308.3 799.5L310.8 799.5L311.3 799.6L312.3 801L313.3 800.8L313.8 801L314.8 800.8L315.8 800.1L316.3 800.1L317.3 799.8L317.8 800L318.8 800.9L320 801.2L320.3 801.6L325.8 801.6L326.3 801.5L326.8 801L328.3 801L329.3 801.4L331.8 801.3L332.3 801.1L333.3 801.6L337.3 801.5L337.8 801.3L338.8 801.5L340 801.1L340 802.6ZM343 802.6L343 801.8L346 801.8L346 802.6ZM352 802.6L352 801.8L355 801.8L355 802.6ZM361 802.6L361 801.8L364 801.9L364 802.7ZM370 802.7L370 801.9L373 801.9L373 802.7ZM378 802.7L378 801.5L378.8 801.7L379.3 801L379.8 801.2L380.3 801.8L381.3 801.6L383.3 801.7L384.3 801.2L384.8 801.7L385.3 801.8L385.8 801.5L386.8 801.8L392 800.9L392.3 802.1L397.8 802.1L403.3 802.1L408.8 802.1L414.3 802.1L414.8 802.1L415 801L416.3 801.1L417.3 801.8L417.8 801.9L418.8 801.1L420.3 801.6L421.3 801L421.8 801.1L422.8 801.8L425.3 802L426.3 801.5L426.8 801.5L427.8 802L433.3 802L434.8 801.7L435.3 802L436.3 801.8L436.8 801.4L437.3 801.2L438.8 801.8L440.3 802L441.3 801.9L446.8 802L447.3 801.6L447.8 801.6L448.3 802L448.8 801.4L449.3 801.3L449.8 802L450.8 801.6L451.3 801.6L452.3 802.1L453.3 801.7L453.8 802.1L455.8 801.8L456.3 802L456.8 801.7L457.3 801.8L457.8 802.1L458.3 801.9L458.8 801.4L460.3 801.7L460.8 801.2L461.3 801.2L461.8 801.5L462.8 801.6L463.8 801.4L465.8 801.8L466.8 801.6L467.8 801.8L468.3 801.7L468.8 802.1L470.8 802L471.3 801.8L473.3 802.1L474.8 801.8L476.3 802.1L477.3 801.8L477.8 801.3L478.3 799.1L479 795.5L479.8 799.6L480.3 801.7L480.8 801.9L481.3 801.5L482.8 802L483.3 801.7L484.3 802.2L486.8 802L487.8 802.2L488.3 801.7L488.8 802.1L489.8 802.2L490.8 801.8L492.3 801.9L493.3 801.7L493.8 801.8L494.5 800.6L494.8 801.1L495.3 801.6L496.3 801.8L496.8 802.1L497.8 802L499.8 802.2L500.3 801.7L501.8 802.2L507.3 802.2L513.3 802.3L513.8 801.7L514.8 801.9L515.8 801.6L517.3 802L518.8 801.5L519.3 801.8L520.3 801.4L520.8 801.5L521 801.2L521.8 802.2L524.3 802.2L525.3 801.6L525.8 801.5L526.8 802.3L528.3 802L528.8 802.3L529.3 802.3L529.8 799.5L530.3 793.9L530.8 787.6L531.4 779.2L531.8 784.9L532.3 791.5L532.8 797.4L533.3 802.2L534.8 801.9L535.8 802.1L536.3 801.9L537.8 802.3L539.3 801.9L542.8 802.4L544.3 802.2L549.8 802.4L555.3 802.4L555.8 801.8L556.4 800.8L557.3 802.3L562.8 802.4L566.3 802.3L566.8 801.1L567.3 794.1L567.8 785.6L568.4 774.3L568.8 782L569.3 790.8L569.8 798.5L570.3 802.5L570.8 802.4L572 801.9L572 803.4ZM576 803.4L576 802.6L580 802.6L580 803.4ZM586 803.4L586 802.6L590 802.6L590 803.4ZM598 803.4L598 802.7L603.8 802.8L609.3 802.8L613 802.8L613 803.5Z" fill="#0000dc"/>
<path d="M24.3 849L24.3 848L25.3 847.2L27.8 847.8L28.3 847.8L28.8 847.3L29.3 847.1L30.8 847.7L31.8 847.8L33.8 848.1L34.8 847.5L35.3 848L36.3 847.9L37.3 847.1L37.6 846.5L38.3 847.7L38.8 848L39.3 847.7L40.3 848.1L43.3 848.2L43.8 848L44.3 847.5L45.8 848L46 847.1L46.8 847.6L47.8 847.5L48.3 847.1L48.8 847.2L49.3 845.5L50.5 840.1L51.3 843.8L51.8 845.9L53 841.1L53.8 844.4L54.3 845.5L55.5 840.1L56.3 843.8L56.8 845.9L57.3 846.1L57.8 844.6L58.8 844.7L59.3 845.7L60.3 844.6L61.3 846.4L62.8 845.9L63.3 845.2L63.8 845.1L64.3 845.3L64.8 846.5L65.3 846.9L65.8 846.4L67.3 847L67.8 846.7L68.3 845.8L68.8 846.6L69.3 847L69.8 847.1L70.8 846.5L71.3 847.2L71.8 847.4L72.3 847.3L72.8 846.7L73.3 846.5L74.3 847.4L74.8 847.7L75.8 847.3L76.3 847.4L77 846.5L77 849.2ZM82 849.2L82 847.9L83.3 848.1L84.3 847.8L85.3 847.9L86.3 847.2L86.8 847.1L87.3 847.8L87.8 847.9L88.3 847.6L89.3 847.9L89.8 847.4L90.3 847.2L90.8 847.3L91.3 847.8L91.8 847.6L92.3 846.9L92.8 846.9L93.3 847.3L93.8 848L95.8 848L96.3 847.7L96.8 847.2L97 846.7L97.3 847.4L97.8 847.6L98.8 847.7L99.3 848.1L100 848.2L100 849.2ZM104 849.2L104 847.8L104.3 848L104.8 847.3L105.3 847.2L105.8 847.9L106.8 848.3L107.8 848L108.3 847.5L108.8 848.1L109.3 848.2L110 847.2L110.8 848.3L111.8 848L113.3 848.4L114.8 847.9L116 848.3L116 849.3ZM122 849.3L122 848.4L125.8 848.1L126.8 848.3L127.3 848.1L128 848.4L128 849.3ZM136 849.3L136 845.7L136.3 844.8L136.8 845.9L137.3 846.2L137.8 845.7L138.3 846.7L138.8 847.4L139.3 846.7L139.8 846.4L140.3 846.6L141.8 845.4L142.8 846.1L143.3 845.6L144.3 846.3L145 845.3L145.3 845.8L145.8 845.5L146.3 844.9L146.8 844.9L147.3 845.7L147.8 846L148.3 845.9L148.8 844.9L149.3 844.7L149.6 844.1L149.8 844.5L150.3 844.9L150.8 844.9L151.3 845.1L151.8 846L152.3 846.2L153 846.1L153 849.4ZM155 849.4L155 848.3L160.3 848.5L161.3 848L162.8 848L164.3 848.5L169.8 848.5L175.3 848.5L180.8 848.6L183.3 848.5L184.3 848.1L185.3 848.4L185.8 848L186.8 848.5L187.8 848.4L188.3 847.9L189.8 848.6L193.3 848.6L193.8 848.4L196.3 848.6L197.3 848.1L199.3 848.4L204.8 848.5L208.3 848.6L209.3 848.3L210.8 848.2L211.3 848.6L212.8 848.5L213.3 848.2L214.3 848.6L218.3 848.7L218.8 848.4L222 848.7L222 849.6ZM226 849.6L226 848.1L227.3 847.8L228.3 847.6L228.6 847.1L229.3 848L229.8 847.7L232 848L232 849.6ZM236 849.6L236 848.6L237.3 848.5L239.8 848.7L240.3 848.6L241.8 848.6L242.8 848.3L244.3 848.7L245.8 848.3L246.8 848.6L247.3 847.8L247.8 847.5L250 848.3L250 849.7ZM254 849.7L254 848.4L254.8 848.7L255.3 848.4L255.8 848.4L256.3 848.7L257.8 848.8L258 847.1L258.8 846.8L259.3 846.1L259.8 846.2L260.3 846.9L260.8 846.3L261.3 846.2L261.8 845L263.2 839L264.3 843.8L264.8 845.8L265.3 845.2L266 843.7L267.3 846.4L267.8 846.8L268.3 846.1L268.8 845.7L269.3 845.9L269.8 846.9L270.3 846.7L271.3 845.3L271.8 845.4L272.8 846.7L273.3 847L273.8 846.5L275 844.2L276.8 847.5L277.3 847.5L277.8 846.3L278.8 846.7L279.8 846.3L281.8 844.4L282.8 845.8L283.3 844.7L283.8 844.1L284.8 843.4L285.8 843.6L286.8 844.4L287.3 844.4L287.8 845.8L288.3 846.8L288.8 846.6L289.3 846L290 843.8L290.3 844.7L290.8 844.9L292.3 846.4L292.8 844.7L293.3 844.1L293.8 845.9L294.3 845.1L294.8 843.9L295.3 844.5L295.8 844.5L296.3 844.2L296.8 846.1L297.3 846.5L297.8 845.6L298.8 845.1L300 843.9L300.3 846.1L301.3 846.9L301.8 847.5L302.3 847.9L302.8 848L303.8 846.7L304.3 846.5L304.8 847.4L305.3 847.6L305.8 847.3L306.8 847.4L307.3 848L307.8 848L308.8 847.1L309.3 846.9L309.8 847.3L311.3 847L312.8 847.7L313.8 847.7L314.8 846.4L315.3 846.3L315.8 846.9L316.3 847.7L317.3 846.4L317.8 846.5L318.3 847.3L318.8 847.7L320.3 846.4L320.8 846.6L321.3 846.4L321.8 845.7L322.8 845.8L323.3 847.3L323.8 847.5L324.3 847L325.3 847L325.8 846.7L329.8 847.9L331.8 847L332.3 846.5L332.8 846.8L333.3 846.8L333.8 846.3L335.3 846.5L336.3 847.4L336.8 847.2L337.3 847.3L338 848.2L338 849.9ZM340 849.9L340 848.9L342.8 848.8L343.8 848.9L344.3 848.7L344.8 849L345.8 849L346.3 848.7L346.8 848.2L347.3 848.7L347.8 848.7L348.3 848.3L349.3 848.6L350.8 848.3L351.3 848.6L351.8 848.5L352.3 848.2L353.8 848.9L356.3 848.5L360.3 849L361.3 848.6L361.8 848.9L362.8 848.4L366.3 849.1L370.8 849.1L371.8 848.9L377.3 849.1L382.8 849.1L385.3 849.1L385.8 849L386.8 849.1L387.8 849L390.8 849.2L394.3 848.7L395.8 848.6L396.3 848.4L396.8 848.5L397.8 849.2L403.3 849.2L408.8 849.2L413.3 849.2L414.3 848.9L416.8 849.2L418.3 849.2L419.3 848.9L420.3 849.2L421.3 848.8L422.3 849.2L422.8 849.3L423.3 848.8L423.8 848.7L427.3 849.3L428.3 848.8L429.3 849.2L429.8 849.2L430.8 848.6L431.3 848.9L431.8 848.9L432.3 848.6L433.8 849.3L439.3 849.3L441.3 849.3L442.8 849.2L443.8 848.9L445.3 849.3L445.8 849.1L446.8 849.3L447.8 849L452 849.3L452 850.2ZM458 850.3L458 849.2L458.8 849.2L459.3 848.8L459.8 848.8L460.3 849.2L461.3 848.8L461.8 848.4L462.8 848.7L463.3 848.2L463.8 848.3L464.3 848.7L465.3 848.5L465.8 848.2L466.8 848.9L468.8 848.3L469.8 848.6L470.8 848L471.3 848.4L472.3 848.5L473.3 847.3L473.8 847.3L474.3 847.8L474.8 848.6L475.3 848.6L475.8 848.1L476.3 847.3L476.8 847.4L477.3 847.8L477.8 847.7L479 842.6L479.8 846.1L480.3 848.1L481.3 847.7L481.8 848.8L482.3 848.4L482.8 847.8L483 847.9L483 850.3ZM487 850.3L487 848.7L488.8 849.4L491.3 849.3L492.3 848.8L493.3 849.1L493.8 848.9L494.8 849.4L497.3 849.2L498.3 848.7L498.8 848.6L499.3 849L500.3 849.1L500.8 848.7L501.8 848.6L502.8 849L503.3 848.8L504.3 849.1L504.8 848.6L506.8 848.7L511.8 848.6L512 848.7L512 850.4ZM516 850.4L516 845.3L516.3 845.2L516.8 847.2L517.3 847.6L517.8 846.4L518.8 847.8L519.3 847.7L520.3 848.8L521.3 848.7L521.8 848.3L522.8 848.9L523.8 848.7L524.3 848.4L525.8 848.7L526.8 848L527.3 848.2L527.8 848L528.3 847.5L528.8 848L529.3 848.3L530.3 846L531.3 848.3L531.8 848.8L532.3 848.2L533.3 847.9L534.8 848.3L535.3 848.6L536 848.7L536 850.5ZM538 850.5L538 849.3L540.3 849.6L541.8 848.4L542.8 849.1L543.3 849.3L544.3 848.9L545.3 849L545.8 848.8L546.8 849.6L547.8 849.5L548.3 848.8L549.8 849.5L550.3 849.2L550.8 848.4L552.3 849.3L553 849.1L553 850.5ZM554.3 850.5L554.3 850.5L554.8 849.7L555 848.3L555.3 847.5L556 847L556.3 847.6L556.8 846.6L557.3 846.6L557.8 848.3L558.8 848.2L559.3 848.8L559.8 848.7L560.3 848.3L561.8 848.9L562.8 849.5L563.3 848.9L563.8 848.7L564.3 848.9L564.8 849.4L565.8 849.6L566.3 849.4L566.8 848.8L568 846.1L568.8 847.9L569.3 848.8L569.8 848.7L571.3 849L571.8 848.7L572.3 847.9L572.8 846.8L573.3 846.9L573.8 848.5L574.3 847.9L574.8 846.9L575.3 847.5L575.8 848.4L576.3 849L577.3 847.8L578.3 848.3L578.8 848.4L579.3 848L580.3 847.9L580.8 848.5L581.3 848.7L582.3 848.5L583.3 847.8L584.3 848.8L585.3 847.6L586.3 848.4L586.8 848.4L587.3 847L587.8 847.2L588.3 848.3L589.3 846.7L589.8 846.4L590.3 847.7L590.8 848.6L592.3 848.5L592.8 847.2L593.3 846.4L594.3 847.5L594.8 847.7L595.3 847.1L595.8 846.9L596.3 846.9L596.8 847.6L597.3 847.6L597.8 846.8L598.8 847.4L599.3 846.7L599.8 847.3L600.3 848.4L600.8 847.5L601.3 846.9L601.8 847.5L602.8 847.2L603.3 847.9L604.3 848.3L604.8 847.9L605.8 846.5L606.8 847.8L607.3 846.5L608.3 846.5L608.8 847.8L609.3 848.2L609.8 847.6L610.3 848.4L610.8 848.8L611.8 848.2L612.3 847.3L612.5 846.7L612.8 847.5L613 847.5L613 850.7Z" fill="#007c0a"/>
<path d="M24.3 896.4L24.3 895.5L28.3 895.5L29.3 894.9L32.3 895.1L33.3 894.9L33.8 895.2L34.8 895.2L35.3 895.4L35.8 895.2L36.3 894.3L37.8 895.2L38.8 894.7L40.3 895.5L41.3 895.4L42.3 895.4L42.8 895.2L44.5 893.5L45.3 894.3L45.8 894.4L46.3 894.7L46.8 895.3L48.8 895.3L49.3 894.8L51.3 891.5L53.3 894.8L54.8 895.4L55.3 895.4L55.8 895.1L56.3 894.4L57.3 894.8L57.8 894.6L58.8 894.9L60 894.5L60 896.5ZM62 896.5L62 895.4L62.8 894.9L63.3 894.8L64.3 895.3L65.8 895.1L66.8 895.5L69.8 895.4L73.8 895.5L74.8 895.1L75.3 895.3L75.8 895.1L76.3 894.8L77.3 895.1L77.8 894.9L79.3 895.5L79.8 895.4L80.3 894.9L81.3 895.4L82.8 895.2L83.3 894.9L84.3 895.7L85.3 895.2L87.3 895.6L87.8 895.4L88.3 894.7L89.3 895.1L89.8 895.1L90.8 895.7L93.3 895.7L95.3 894.7L97.3 895.6L99.3 895.8L99.8 895.6L100 895.4L100 896.7ZM103 896.7L103 895.7L108.8 895.7L114.3 895.7L118 895.7L118 896.7ZM121 896.7L121 895.8L121.3 895.8L121.8 895.4L125.3 895.2L126.3 894.9L126.8 895L128.3 895.8L129.3 894.8L129.8 895.1L130.8 894.7L132.3 895.5L133.3 895.6L134.8 895.2L136.8 895.9L137.3 895.9L137.8 895.6L141.3 895.9L143.3 895.3L144.3 894.7L144.8 894.8L145.8 895.4L147.4 893.3L148.3 894.7L150 894.7L150 896.8ZM152 896.9L152 895.3L153.3 895.7L153.8 895.7L154.8 895.2L155.3 895.9L160.8 896L162.8 895.8L163.8 896L165.6 894.4L166.8 895.6L172.3 896L175 896L175 896.9ZM178 896.9L178 895.9L183.8 896L189.3 896L194.8 896L200 896L200 897ZM203 897L203 896L208.8 896.1L214.3 896.1L219.8 896.1L222 896.1L222 897.1ZM226 897.1L226 896.2L229.8 896.1L230.8 895.9L231.8 895.9L232.3 895.8L232.8 896L233.3 896L233.8 895.6L234.8 896.2L235.8 896.1L236.3 895.8L237.3 896.3L238.3 896.3L238.8 895.9L240.3 896.2L241.3 896.1L242.8 896.3L243.8 895.7L244.3 895.7L245.3 896.1L247.3 895.6L248.3 896L248.8 895.6L249.3 895.6L249.8 896L250.3 895.6L250.8 895.6L251.8 895.9L252.3 895.7L254 895.9L254.3 896.1L258.3 892.7L258.5 892.3L259.3 891.8L261 892.5L262.3 891.7L264.5 887.4L264.8 887.8L265.8 890.6L266.3 891.7L267 892.4L269.8 892.2L272.3 893.3L272.8 893.3L273.8 892.6L275.3 893L280.3 891.9L284 893.2L286.8 892.6L288.3 891.2L289 891.3L289.8 891.7L291 891.8L291.8 889.7L292.3 888L293 884.9L293.3 884.2L293.8 883.7L294.8 883.1L296 881L296.8 881.5L297.3 882.3L298.3 879.7L298.8 878.7L299.8 877.8L300.8 874.3L301.3 873.1L302 873.7L302.3 873.6L302.8 871.4L303.3 868.1L303.8 865.3L304.3 863.7L304.8 865.8L305.3 868.2L306 872.3L306.3 872.7L306.8 872L307.8 870.2L308.8 870.7L309.3 870.4L310.3 868.9L310.7 867.4L311.3 867.6L311.8 868.8L312.8 873.8L313 874L313.3 872.9L313.8 871.4L314.3 870.8L315 872.8L315.3 874.4L315.8 876.4L316.8 879.3L317 879L317.8 876L318.3 874.8L319 873.9L320.8 874.8L321.4 876L321.8 878.5L322.3 880.4L323.3 883.9L325.2 892.5L325.8 886.5L326.3 882L326.7 879L327.3 877.7L328.3 871.2L328.8 868.5L329.8 872L330.5 876.2L330.8 876.3L331.3 875.4L332.3 869.6L333 866.8L333.3 868L333.8 870.4L334.3 874.5L335 880.6L336.3 884.8L336.5 884.7L336.8 885.4L337.3 887.1L337.8 889.7L338.5 894.1L338.8 894.4L340.3 895L341 895.6L341.3 895.6L341.8 894.9L342.3 894.7L342.8 894.7L343.3 895.3L343.8 895.5L344.3 895.3L345.3 895.7L346.8 895.8L347.3 895.5L349.8 895.7L350.8 895.3L351.3 896L352.8 896.3L353.3 896.2L353.8 895.4L354.8 895.7L356.3 895.2L357.8 896.2L358.8 896L359.3 895.6L359.8 895.7L360.3 896L360.8 895.5L361.3 895.4L361.8 896.2L362.3 896.1L363.8 894.8L364.3 894.5L364.8 895.2L365.3 895.3L365.8 894.7L366.8 895L367.3 894.6L367.8 895L368.3 895.7L368.8 894.9L369.3 894.4L370.3 895.3L370.8 895.5L371.3 895L372.3 893.4L372.8 893.5L373.8 895.1L374.3 893.7L374.8 893.5L375.8 893.5L376.3 894.7L376.8 894.1L377.3 894.2L377.8 895.1L378.8 894.9L379.8 894.2L380.3 893.7L380.8 894.5L381.3 894.7L381.8 893.5L382.8 895.2L383.3 894.8L384.3 895.1L384.8 894L385.3 893.5L385.8 893.5L386.3 893.9L386.8 894.9L387.3 893.8L387.8 893.8L388.3 894.6L388.8 895L389.3 894.8L389.8 893.5L390.8 893.7L391.3 893.6L391.8 894.6L392.3 894.7L393 893.7L394.3 895.5L396.3 895.7L397.3 895L397.8 895L399.3 893.7L399.8 894L400.3 894.8L401.8 893.6L402.8 893.6L403.3 895L403.8 894.8L404.3 893.6L404.8 893.9L405.8 895.3L406.8 893.9L407.3 894.6L407.8 894.5L408.3 893.7L408.8 894.5L409.3 894.9L409.8 894.6L410.8 893.6L412.3 894.3L412.8 895.1L413.3 895.4L413.8 895.3L414.8 894.1L415.8 894.8L416.3 894.9L416.8 894.3L417.3 894.7L417.8 895.9L418.3 895.4L418.8 894.3L419.3 894.3L420.3 895.4L421.3 895L421.8 894.4L422.8 894.1L424.3 895.5L424.8 895.3L425.3 895.6L425.8 896.4L427.3 896.8L429.3 896.4L430.3 896.3L432.3 895.5L433.3 896.1L433.8 896.2L434.8 895.1L435.3 895L436 893.9L436.8 895.2L437.3 895.1L437.8 894.5L438.3 894.2L439.3 894.4L440.3 893.7L440.8 894.9L441.3 895.1L441.8 893.7L444.3 893.7L445.3 894.4L445.8 893.9L446.8 895.7L447.3 895.7L447.8 895.4L448.3 894.8L448.8 894L449.3 893.7L450 893.7L450.3 896.9L455.8 896.9L461.3 897L466.8 897L472.3 897L475.8 897L476.3 896.7L477 895.5L477.8 896.9L483.3 897L488.8 897.1L489.8 897.1L490.3 896.8L491 895.6L491.8 896.9L497.3 897.1L502.8 897.1L508.3 897.1L514.3 897.1L520 897.2L520.3 897.5L525.8 897.5L531.3 897.5L536.8 897.5L542.3 897.5L547.8 897.6L553.3 897.6L558.8 897.6L564.3 897.6L569.8 897.6L575.3 897.7L580.8 897.7L586.3 897.7L591.8 897.7L597.3 897.7L602.8 897.8L608.3 897.8L613 897.8L613 898.5Z" fill="#ff0000"/>
<path d="M24.3 945L24.3 942.7L24.8 943.3L25.3 943.6L26.8 943.5L28.3 943.9L29.3 943.6L29.8 943.7L30.8 943.4L31.3 943.9L31.8 943.9L32.3 943.4L32.8 943.9L33.3 944L33.8 943.6L34.8 943.6L35.3 943.8L35.8 943.6L37.4 941L38.3 942.5L38.8 943.1L39.8 942.7L40.3 942.9L40.8 942.1L41.3 941.7L42.3 942.8L42.8 943.1L43.3 943.1L43.8 942.7L44.3 941.6L45.3 941.1L45.8 941.2L47.3 942.4L47.8 941.8L48.3 940.5L48.8 940.4L49 940L49.8 941.2L50.8 940.5L51.3 941.5L51.8 941.8L52.3 941.7L52.8 940.6L53.3 940.5L53.8 941.5L54.3 940.8L55 937L55.3 938.7L55.8 941.1L56.3 941.9L57.8 940.9L58.3 942.2L58.8 943L59.8 943L60.3 942.8L62.8 942.8L63.8 942.1L65 940L65.3 940.5L65.8 940.9L66.3 940.6L66.8 940.6L67.3 941.2L67.8 942.2L68.3 942.9L69.3 940.9L70.3 942.3L71.3 942.9L72.3 943L72.8 942.5L73.3 942.3L74.3 943.3L74.8 943.5L75.3 943.2L75.8 943.1L76.3 943.3L76.8 942.8L77.3 942.8L77.8 943.5L79.3 943.1L80.3 943.7L81.3 943.3L82.3 943.5L82.8 943.3L83.3 942.2L83.8 941.9L84.3 942.3L84.8 941.8L85.3 941.8L85.5 941.5L86.3 942.4L86.8 941.9L88.3 942.6L88.8 943.1L89.3 943.4L89.8 943.4L90.8 942L91.8 942L92.3 941.7L93.3 942.4L93.8 942.2L94.3 942.8L94.8 943.1L95.3 942.2L95.8 942.5L96.3 943.3L97.3 943.5L97.8 943L98.5 943L98.5 945ZM100.5 945L100.5 943.6L102.8 943.3L103.8 942.8L104.3 942.8L104.8 943.1L105.3 942.9L105.8 941.9L106.3 941.7L107.3 941.6L108.3 941.2L108.8 942.6L109.3 943.2L109.8 943.3L110.8 942.9L113 940.5L114.3 940.7L114.8 941.9L115.3 940.8L115.8 941.3L116.3 942.6L116.8 941.9L117.3 942L117.8 943.1L118.8 942.4L119.3 943.4L119.8 943.5L120.3 943.1L120.8 943.5L121.3 943.6L121.8 943.3L122.8 943.6L123.3 944L123.8 943.9L124.3 941.5L124.8 938.3L125.4 934L125.8 936.9L126.3 940.2L126.8 942.8L127.3 941.9L127.8 942.1L128.3 943L129.3 942.5L129.8 941.9L130.8 943L131.8 941.5L132.3 941.1L133.3 942.4L133.8 942.9L134.8 941.8L135.3 941.9L136.3 943.5L136.8 943.6L137.3 943.3L140 940L141.8 942.3L142.3 942.1L144.3 942.8L144.8 939.7L145.3 929L145.8 916.5L146.4 900L146.8 911.2L147.3 924.2L147.8 935.7L148.3 934.3L148.8 922.7L149.4 907L149.8 917.7L150.3 929.9L150.8 937.6L151 937L152.8 941.8L153.3 942.8L153.8 942.3L154.8 943.1L155.3 943.1L156.8 943.8L157.3 943.8L158.3 943.5L158.8 943.5L159.3 943.9L159.8 943.7L160.3 943L160.8 943.6L161.3 943.7L162.8 942.9L163.3 943L163.8 942.6L164.3 941.7L165.8 943.3L166.3 943L167.3 942.1L167.8 942.2L168.3 942.7L169.3 942.2L169.8 941.4L170.8 942.4L171.3 941.8L171.8 941.3L172.3 941.2L172.8 942.6L173.3 943.1L174.8 942.7L175.3 943L176.3 942.9L177.8 943.5L178.8 942.8L179.3 942.2L179.8 942.4L180.3 941.3L180.8 937L181.2 933.2L181.8 938.8L182.3 942.4L182.8 943.3L183.3 943.4L183.8 943L185 941L185.8 942.5L187.3 942.7L188.8 943.5L189.3 943.4L189.8 942.3L190.8 943.3L191.3 942L191.8 942L192.3 943L193.8 941.7L194.8 942.8L196.3 942.8L196.8 942.2L197.3 941.9L197.8 942.2L198.3 942.9L198.8 943.2L199.3 942.7L199.8 942.7L200.8 943.2L201.3 943.1L201.8 941.9L202.8 942.6L203.3 941.3L203.8 940.6L204.3 940.7L204.8 941L205.3 941.5L205.8 942.3L206.8 943L207.8 942.8L208.3 942.6L209.3 943L209.8 942.9L210.8 942.2L211.3 942.8L211.8 942.8L212.3 942.3L212.8 942.6L213.3 942.4L213.8 941.9L214.8 942L215.3 941.6L215.8 942.1L216.3 942.9L217 943.3L217 945ZM219.5 945L219.5 943.3L221.3 942.2L221.8 942.2L222.3 942.9L222.8 943.3L223.8 942.4L225.3 942.1L225.8 942.3L226.3 943L226.8 943.4L227.3 943L227.8 943.1L228.3 942.7L229.7 937.5L230.8 941.7L231.3 942.3L231.8 942L232.8 942.6L233.3 942.7L233.8 942.1L234.8 943.3L235.3 943.2L235.8 942.6L236.3 941.1L236.8 942.4L237.3 942.8L238.3 941.7L238.8 941.3L239.3 941.6L239.8 941.4L240.4 940L240.8 941.4L241.3 941.9L241.8 941.4L242.3 940.6L242.8 940.5L243.3 941.2L243.8 941.6L244.3 941.5L244.8 940.5L245.3 940.5L245.8 940.8L246.3 940.5L246.8 940.5L247.8 942.1L249.3 942.8L249.8 942.7L250.8 942L251.3 942.2L251.8 941.8L252.3 940.8L252.8 941.6L253.3 941.5L253.8 940.5L254.8 940.5L255.3 941.8L255.8 942.3L256.3 942.2L257.8 940.5L258.5 940.5L258.8 937.6L259.8 919.7L260 916.4L260.3 901.7L260.8 902.8L261.3 903L262.3 902.6L263.3 900.4L263.8 900.5L264.8 902.4L265.8 900.5L266.3 900.2L267.3 901.5L268.3 901.7L268.8 901.5L269.8 899.8L271.3 899.4L271.4 899.5L272.5 909.1L272.8 908.9L273.8 907.2L274.6 907.4L274.8 908.7L275.3 911.3L276 913.1L276.3 910.7L277.4 903.1L277.8 907.4L278.5 915.8L278.8 917.4L279.3 919.2L280.3 920.9L280.8 922.4L281.2 923.8L281.8 916.3L282.5 905.2L282.8 907.9L283.5 915.7L284.3 930.2L284.5 933.6L285.3 940.2L286.3 941.6L286.8 941.6L287.4 940L288.3 942.3L288.8 941.6L289.3 941.8L289.8 943.2L290.3 942.9L290.8 942.3L291.3 942.4L292.3 943.5L293.8 942.8L295.3 943.8L296.3 943.7L297.3 943.4L297.8 943.6L298.3 943.3L298.8 942.6L299.3 942.5L300.8 942.9L301.3 942.7L301.8 941.3L302.3 940.5L304.3 940.5L304.8 941.5L305.3 941.7L305.8 940.8L306.3 942.1L306.8 942.8L307.8 941.6L309.8 941L310.8 941.9L311.3 942.1L312.3 941.8L312.8 942.4L313.3 942.7L313.8 942.5L315.3 943.4L316.3 943.4L317.3 942.8L317.8 942.7L318.8 943.5L319.3 943.5L319.8 943.1L320.3 941.8L320.8 942.7L321.3 942.9L321.8 942.4L322.8 943L323.8 942.1L324.3 942L325.3 942.5L325.8 942.4L326.8 941.4L327.3 941.3L327.8 941.7L328.3 942.5L329.3 941.4L329.8 941.3L331.3 941.9L331.8 941.5L332.3 940.6L332.8 942.3L333.3 942.8L333.8 942.5L334.8 943L336.3 942.6L336.8 942.2L337.3 942L338.3 942.7L338.8 942.7L339.3 941.7L339.8 941.9L340.3 942.8L342.8 942.9L343.8 942.5L344.3 942.6L344.8 941.8L345.3 941.3L345.8 941.8L346.8 940.9L347.3 942.1L347.8 942.5L348.3 942.5L349.3 941.9L349.8 942.1L350.8 941.1L351.3 942.5L351.8 942.4L352 942L352 945ZM354 945L354 943L354.8 942.6L355.3 942.7L355.8 942.3L356.3 941.2L356.8 942L357.3 942L357.8 941L358.8 942.3L359.3 941.6L359.8 942.2L360.3 943.1L361.3 941.3L362.3 942.2L362.8 942.5L363.3 942L363.8 942.3L364.3 943L365.3 943.4L366.8 943.5L367.3 942.9L367.8 942.8L368.3 943.3L369.3 942.5L369.8 941.7L371.3 941L372.3 941.3L372.8 942.5L373.3 943L375.3 942.7L376.3 943.4L377.3 942.5L378.8 943.1L379.3 942.2L379.8 942L381.8 943.1L382.3 942.5L382.8 941.6L383.3 942.5L383.8 942.3L384.3 941L384.8 942.6L385.3 943L387.3 942.7L387.8 938.9L388.3 933.9L388.7 929.6L389.3 936L389.8 940.7L390.3 941.8L390.8 941L391.3 942.5L391.8 942.6L392.8 941.8L393.3 942.1L393.8 942.8L395.3 942.6L395.8 941.7L396.3 940.5L397.3 942.4L398.8 943L399.3 942.4L399.8 942.7L400.3 943.3L400.8 942.6L401.3 942.3L402.3 943.3L403.3 943.7L405.3 943.1L406.8 943.3L407.8 943.7L409.8 943.8L410.8 943.3L412.3 943.6L412.8 943.2L413.3 943L413.8 943.4L414.8 943.1L415.3 942.2L415.8 942.4L416.3 943.2L416.8 943.1L417.3 942.7L417.8 941.5L418.3 940.6L419.8 940.6L420.3 941.2L420.8 942.2L421.3 942.5L422.3 941.7L422.8 941.6L423.3 942.5L423.8 942.3L424.3 941.2L425.3 942L425.8 942.1L426.8 942.9L427.8 942.9L429.3 942.5L429.8 941.8L430.8 941.6L431.3 940.5L431.8 940.5L432.3 941.8L432.8 941.7L433.3 942L433.8 942.5L434.3 942L434.8 941L435.3 940.8L436.3 941.1L436.8 942L437.3 941.9L437.8 940.5L440.8 940.6L442.3 940.6L442.8 941.5L443.3 942.1L445.8 943.4L446.8 942.5L447.3 943.1L448.3 942.9L449.3 943.5L450.3 943.3L450.8 943L451.3 942.4L451.8 941.9L452.3 941.9L452.8 942.6L453.3 942.8L454.3 942L455.3 941.6L455.3 945ZM457.4 945L457.4 942.4L457.8 942.3L458.3 941.6L458.8 941.4L459.3 942.6L459.8 942.9L460.3 942.8L461.3 943.2L461.8 942.9L462.3 942L463.5 937.5L464.3 940.6L464.8 941.7L465.3 941.8L465.8 943L466.3 942.7L467.3 941.5L467.8 942L468.3 943L468.8 941.9L469.3 941.4L469.8 942.2L470.8 941.2L471.3 942.6L471.8 942.7L472.3 942.2L472.8 942.4L473.3 942.2L473.8 941.4L474.3 942.5L474.8 943.1L475.3 942.1L475.8 941.7L476.3 942L476.8 942.6L477.3 942.9L479.3 942L480.3 943.2L480.8 942.4L481.3 941.9L481.8 942.1L482.8 943.1L483.3 942.9L484.3 943.6L485.3 943.6L485.8 943.3L486.8 943.2L487.3 943.5L487.8 943.4L488.8 942.6L489.3 942.5L489.8 942.9L490.8 942.5L491.3 942.1L491.8 941.9L492.8 942.4L493.8 943.5L494.8 943.4L495.3 942.7L495.8 942.9L496.3 943.5L497.3 942.7L499.3 942.5L500.8 942.7L501.3 942.2L501.8 938.6L502.6 932L503.3 937.9L503.8 941.5L504.3 941.2L505 940L505.8 941.4L506.3 941.7L506.8 941.2L507.8 942.8L508.3 943.1L509.8 942.8L510.8 941.8L511.3 942.6L511.8 942.5L512.3 942L513.3 942.9L513.8 943.1L514.3 942.4L514.8 941.4L515.3 942.2L516.3 942.6L516.8 943.2L517.3 943.2L517.8 942.6L518.8 943.7L519.3 943.8L520.8 942.8L521.3 943L521.8 943.6L522.3 943.1L522.8 941.9L524.3 941.7L524.8 940.8L525.3 940.5L525.8 941.3L527.3 940.5L528.8 940.5L529.3 940.8L529.8 936.8L530.3 927.7L530.8 917.5L531.3 927.7L531.8 936.8L532.3 941.7L532.8 942.6L533.3 942.7L533.8 942.3L534.8 942.9L535.8 941.9L536.3 942L537.3 943.4L537.8 943.9L538.8 943.4L540.3 943.4L540.8 942.5L541.3 942.1L541.8 943L543.3 943L543.8 942.5L544.3 941.4L544.8 941L545 940.5L545.8 942.3L546.8 942.9L547.3 942.6L548.3 943.3L552.3 943.4L553.8 943.6L554.8 942.4L555.3 943.2L555.8 942.9L556.3 941.6L556.8 942.7L557.3 942.9L557.8 942.1L558.8 942.9L559.3 942.6L560.8 943.1L561.3 943L562.3 942.4L562.8 942.4L564.3 943.1L564.8 942.9L565.8 943.4L566.3 943.1L566.8 942.2L567.3 940.2L567.8 932.4L568.3 923.3L568.6 917.5L568.8 921.4L569.3 930.7L569.8 938.8L570.3 940.5L570.8 941L571.3 937.2L571.8 932L572.3 937.2L572.8 941.7L573.8 942.9L574.8 942.2L576.3 943.1L577.8 943L578.3 942.6L578.8 941.7L579.8 942.7L580.3 942.9L581.8 942.1L582.8 941.1L583.3 942L583.8 942.3L584.3 942.4L585.3 942.1L585.8 942.2L586.8 941.9L587.3 940.7L588.3 940.5L588.8 940.8L589.3 941.9L589.8 941.9L590.8 942.5L591.3 941.7L591.8 942.2L592.3 942.9L592.8 942.1L593.3 941.6L593.8 942.3L595.8 942L596.3 942.1L596.8 942.6L597.3 942.7L597.8 942.5L598.3 941.8L599 940L599.8 942L600.3 942.5L600.8 942.1L601.3 942.1L601.8 942.7L603.3 942.7L603.8 942L604.3 940.6L605.3 941.6L605.8 942.4L606.8 941.6L607.3 942.8L607.8 942.7L608.3 941.8L608.8 942.7L609.3 943L610.8 942.4L611.3 941.9L612.3 942.1L612.8 939L613 940.3L613 945Z" fill="#007c0a"/>
<path d="M24.3 993L24.3 990L24.8 990.5L25.3 990.8L25.8 990.9L26.8 989.9L27.8 989.7L29.8 990.9L30.3 990.1L30.8 989.7L33.3 989.7L33.8 990.5L34.8 989.7L36.3 989.7L37.3 990.6L37.8 990.2L38.3 991L38.8 991.4L39.3 990.9L40.3 991.4L41.3 990.7L41.8 991L42.8 990.7L44.3 989.8L44.8 989.8L45.3 990.2L45.8 991.1L48.3 990.9L48.8 990.7L49.3 990.8L49.8 991.4L50.3 991L50.8 990.1L51.3 989.7L51.8 990L52.8 991.2L53.3 991.3L53.8 990.8L54.8 991.2L55.3 991.1L56.3 991.8L57.8 990.7L58.3 991.4L62 988L62.3 988.3L62.8 987.2L64.1 980.6L65.3 986.7L66.3 991L67.3 991.2L67.8 991L68.3 990.5L69.3 990.4L69.8 990.7L70.8 990L71.3 991L71.8 991.2L72.3 991.2L73.3 989.8L73.8 989.8L74.3 990.7L74.8 991.3L76.3 990.4L76.8 991.1L77.3 991.4L78.8 991.1L79.3 991.6L81.3 991.9L84.4 989L86.8 991.4L87.3 991.1L87.8 991.1L88.3 991.5L88.8 990.4L89.3 989.7L89.8 990.2L90.8 989.8L91.3 990.8L91.8 990.6L92.3 989.7L93.3 989.7L93.8 990.2L95 990L95.8 990.6L96.3 990.1L97.3 990.8L97.8 990.9L98.8 990.2L100.3 990.9L100.8 990.1L101.3 989.7L101.8 989.7L102.3 990L102.8 990.6L103.3 990.9L104.3 989.7L105.3 989.7L106.3 991L106.8 991.3L107.3 990.8L107.8 991L108.3 991.5L109.8 991.8L110.8 991.4L111.3 991.9L113.8 992.1L114.3 991.9L114.8 991.5L116.3 991.4L116.8 991.9L117.3 992L117.8 991.7L118.3 988.9L119 983L119.3 985.6L119.8 989.6L120.3 991.8L124.3 991.5L125.8 991.7L126.8 991L128.3 991.6L129.3 990.9L129.8 991.2L130.8 990.3L131.3 990.9L132.3 991.3L132.8 991.7L133.8 991.6L136.8 989.4L138.8 981.7L139 980.7L140 977.4L141.5 981.7L143 977.8L145.3 969.3L146.4 963.7L147.7 967.5L147.8 967.2L148.3 966.7L149.1 966.8L150.5 973.4L151.3 976.7L152 980.1L152.8 982.2L154 984.5L156.3 987.5L158 989.4L158.3 992L158.8 992.1L159.8 991.8L160.3 992L161.3 991.3L161.8 990.6L164 984.5L165.8 989.6L166.3 989.8L166.8 989.7L167.3 990.3L168.3 990.5L168.8 990.3L169.3 990.5L169.8 991.2L171.3 991.1L172.3 990.5L173.3 990.9L173.8 991.4L174.8 990.8L175.3 990.8L176.3 991.7L176.8 991.2L177.3 991.1L177.8 991.3L178.8 991L179.3 991.5L179.8 991.6L180.3 991.5L180.8 991.7L181.3 991.7L181.8 991L182.8 991.1L183.3 990.8L184.3 991.6L184.8 991.5L185.3 991L185.8 989.7L186.3 989.8L186.8 990.3L188.3 990.8L189.3 987.8L190.8 982.3L192.3 987.8L193.3 990.9L193.8 990.8L194.8 991.5L196.8 990.4L197.3 990.5L197.8 991L198.8 990.3L199.3 991.1L199.8 991.4L200.3 991.3L202 989L203.3 990.8L204.3 991.4L205.3 991.3L206.3 989.7L206.8 989.7L207.3 990.4L207.8 990.6L208.3 990.3L209.8 990.6L210.3 991.3L210.8 991.6L211.3 991.2L211.8 991.1L212.3 991.3L216.3 990.4L217.8 990.9L218.8 991.5L219.3 991.3L220.3 992L221.3 991.1L221.8 991.3L224.3 991.8L224.8 990.9L225.3 990.4L225.8 991L226.8 990.3L227.3 990.9L228.8 991.3L229.3 991.2L229.8 990.5L232.3 991.7L233.3 991.7L233.8 991.2L234.6 989L235.3 990.9L235.8 991.6L236.3 991.8L237.3 991.6L238.3 991.7L238.8 991.6L239.3 991L239.8 990.9L240.3 991.3L241.3 989.8L242.8 991.4L243.3 991.7L244.3 991.5L245.3 991.6L246.8 991L247.3 990L247.8 990.2L248.3 991.2L248.8 990.3L249.3 989.7L249.8 989.7L250.8 990.3L251.3 990.8L251.8 991.1L252 991L254.5 985.6L255.8 977L256.3 974.7L256.8 973L257.3 970.5L257.5 969.1L259.5 961.2L260.8 959.3L261.8 958.7L262.3 960.3L262.8 960.5L263.5 961.3L264.8 959.3L265 959.5L265.8 962.7L266.3 963.6L267.3 961.5L267.8 961.7L268.2 962.2L268.8 964.2L269.3 963.5L269.8 963.7L270 964.1L270.3 965.2L270.8 967.4L271.3 970L272.4 971.9L272.8 970L273.3 966.6L273.8 963.7L274 963.1L274.3 963.6L274.8 965.1L275.3 966.2L276.3 962L276.8 961.4L277.3 962L277.8 963.2L278.8 963L279.3 961.7L279.8 958.9L280.3 956.6L281.3 954.7L281.8 954.1L282.8 953.6L283.3 954.2L283.8 955.7L284.2 957.3L284.3 958L285.8 961.7L286 962L286.8 961.3L288 955.3L288.3 955.4L289.3 959.4L290 961.8L290.8 960.4L291.3 956.1L291.8 952.1L292 950.8L292.3 950.7L292.8 952.3L293.3 954.5L293.8 953.5L294.3 951.6L294.8 950.2L294.9 950.3L295.8 954.1L296.3 954.6L297 954.1L297.8 950.9L298.3 949.1L299 947.4L299.8 949.8L300.3 952.4L301 957.4L301.3 957.7L302.8 952.6L303.4 950.4L303.8 951.5L305 956.3L306.3 953.4L307 951.5L307.8 952.2L309 952.3L309.8 953.7L310.3 954.9L311 957.2L311.8 954.2L312.5 951.2L312.8 951.5L313.3 952.7L314 955.3L314.3 957.9L315.5 966.9L316.8 963.6L317 961.8L317.3 959.6L317.8 956.1L318.3 953.9L318.5 953.3L319.3 962.3L319.8 968.5L320.8 962.6L321.4 956.4L321.8 958.4L322.5 963.3L324.6 984L325.3 979.1L326 975L327.3 961.8L327.5 960.3L328.3 959.1L329 957.4L329.8 960.3L330.5 960.3L331.3 955.7L332 951.1L332.3 950.6L333.5 951.4L333.8 952.1L334.3 955L335 960.4L335.3 961.2L335.8 963.7L336.3 967.7L336.8 973.9L337.3 979.4L337.8 984.2L338 985.9L338.8 987.6L339.3 988.9L339.5 988.7L340.3 990.2L340.8 990.8L341.3 991L343.3 990.3L344.3 991.4L346.8 988.6L347.3 989.3L347.8 989.2L348.3 988.7L348.8 990.5L349.3 990.9L349.8 989.9L350.3 989.6L350.8 989.6L351.3 990.3L352.3 990.9L353.3 990.9L353.8 991.2L354.8 989.9L355.3 990.1L356 988.5L356.8 990.4L359.8 991.1L360.3 991.1L361.3 990.6L361.8 990.6L362.3 991.4L362.8 991.7L363.3 991.5L363.8 990.9L364.3 989.3L364.8 990.2L365.8 990.8L366.3 990.1L367 988.5L367.8 990.3L368.3 990.8L369.3 989.8L369.8 989.7L370.8 990L371.3 988.8L371.8 989.3L372.3 990.6L373.3 990.4L374.3 989.8L374.8 989.8L375.3 990.6L376.8 990.7L377.3 990.5L377.8 989.6L378.3 989.7L379.3 990.5L379.8 990.2L380.3 989.5L380.8 990.5L381.3 990.8L381.8 990.4L382.8 991.4L383.3 990.8L383.8 990.8L384.8 991.7L385.3 991.8L385.8 991.5L386.8 991.6L388.3 990.7L389.3 991.2L389.8 991.7L390.8 991.6L391.8 990.9L392.3 990.8L392.8 991.2L393.3 991.3L393.8 991L394.8 991.2L395.3 990.7L395.8 990.4L397.3 990.6L397.8 990.1L398.8 991.4L401.3 991.4L402.8 991L403.3 990.2L403.8 990.5L404.3 991.2L404.8 991L405.3 990.5L405.8 989.5L406.8 990.2L407.3 990.3L407.8 990L408.3 989.2L409.8 990L410.8 990.1L411.8 989.4L412.3 989.5L412.8 990.7L413.3 991.1L414.3 990.6L414.8 990.7L415.3 991.5L417.3 991.5L417.8 990.9L418.6 988.5L419.3 990.7L419.8 990.3L420.8 990.9L421.3 990.8L421.8 990.1L422.8 989.4L424.3 989L425.3 990L425.8 990.3L426.8 989.8L427.3 990.4L428.3 990.6L429.3 988.8L429.8 988.5L430.3 989.8L430.8 990.8L431.3 991.1L431.8 991L432.3 990.7L433.3 991L433.8 990.8L434.8 991.3L435.3 990.5L435.8 990.2L436.3 990.4L437.3 990.5L437.8 990.8L438.8 990.1L440.3 991.4L440.8 990.8L441.3 990.6L441.8 991.1L442.8 990.2L443.3 991.3L443.8 991.2L444.3 990.5L444.8 991.4L445.3 991.7L445.8 991.8L446.8 991.2L447.3 991.4L448.8 990.8L449.3 991L449.8 990.7L450.6 989L451.3 990.5L451.8 991.3L452.8 990.6L453.3 990.6L454 991L454.3 992L459.8 992L465.3 992L470.8 992L476.3 992L481.8 992L487.3 992L492.8 992L498.3 992L503.8 992L509.3 992L515.3 992L520.8 992L526.3 992L531.8 992L537.3 992L542.8 992L548.3 992L553.8 992L559.3 992L564.8 992L570.3 992L575.8 992L581.3 992L586.8 992L592.3 992L597.8 992L603.3 992L608.8 992L613 992L613 993Z" fill="#ff0000"/>
<path d="M24.3 1040L24.3 1038.1L24.8 1038.4L25.3 1038.2L25.8 1037.3L26.3 1038.1L26.8 1038.6L27.3 1038L28.3 1038.3L30 1036L30.8 1037.1L32.3 1038.1L32.8 1037.4L33.3 1037.3L33.8 1038.1L34.3 1037.8L34.8 1037.2L35.8 1037.1L36.3 1036.7L36.8 1035.6L37.4 1031.1L37.8 1034.2L38.3 1037.6L38.8 1038.7L39.8 1037.8L40.3 1037.8L40.8 1038.6L41.3 1038.9L42.8 1038.4L43.3 1038.9L44 1038.6L44 1040ZM44.4 1040L44.4 1035L45.8 1037.4L46.3 1036.8L46.8 1035.9L47.3 1035.8L48 1034L48.8 1036L49.3 1036.4L49.8 1036.4L50.3 1035.1L50.8 1030.5L51.3 1025.4L51.8 1030.5L52.3 1033.6L53 1030L53.3 1031.6L53.8 1032.7L54.5 1026L54.8 1029L55.3 1033.6L55.8 1036.8L56.3 1037.8L57 1037.6L57.3 1039.2L62.8 1039.2L64 1039.2L64 1040ZM66 1040L66 1039.2L71.8 1039.2L73 1039.2L73 1040ZM76 1040L76 1039.2L80 1039.2L80 1040ZM84 1040L84 1039.2L89.8 1039.2L95.3 1039.2L100.8 1039.2L106.3 1039.2L111.8 1039.2L117.3 1039.2L122.8 1039.2L128 1039.2L128 1040ZM130 1040L130 1039.2L134 1039.2L134 1040ZM137 1040L137 1039.2L142.8 1039.2L148.3 1039.2L148.8 1036.3L149.3 1032.4L149.8 1036.3L150.3 1039.2L155.8 1039.2L161.3 1039.2L166.8 1039.2L170 1039.2L170 1040ZM173 1040L173 1039.2L178.8 1039.2L184.3 1039.2L189.8 1039.2L195.3 1039.2L200.8 1039.2L202.8 1039.2L203.3 1038.8L203.8 1038.2L204.3 1038.8L204.8 1039.2L210.3 1039.2L214 1039.2L214 1040ZM218 1040L218 1039.2L223.8 1039.2L229.3 1039.1L230.2 1037.8L230.8 1038.7L231.3 1039.2L236.8 1039.2L242.3 1039.2L247.8 1039.2L253.3 1039.2L258.8 1039.2L259 1039.1L260.5 1034.5L262 1032L263.5 1034.7L264.8 1032.5L265 1032.3L266.5 1034.2L267.3 1033.5L268 1032.4L268.8 1032.7L269.5 1033.5L271.4 1036.2L273 1038L273.8 1038.5L274.8 1038.2L275.8 1038.6L276.3 1038.6L276.7 1038L277.3 1038.3L277.8 1038.1L278.3 1038.7L278.8 1039L279.3 1038.9L280 1038.3L280.3 1039.2L285.8 1039.2L291.3 1039.2L296.8 1039.2L302.3 1039.2L307.8 1039.2L313.3 1039.2L318.8 1039.2L322 1039.2L322 1040ZM326 1040L326 1039.2L331.8 1039.2L337.3 1039.2L342.8 1039.2L348.3 1039.2L353.8 1039.2L354.8 1039.2L355 1039L357.3 1038.8L357.8 1038.1L358.8 1038.1L359.3 1037.6L359.8 1037.9L360.3 1038.5L360.8 1038.8L361.8 1038.9L362.8 1038.3L363.3 1038.7L363.8 1038.6L364.3 1038.3L367.3 1037.6L368.3 1038.6L369.3 1038.5L370.3 1037.9L370.8 1037.9L371.3 1038.6L371.8 1038.6L372.3 1038.1L372.8 1038.5L373.3 1038.5L373.8 1037.9L374.8 1038.7L375.8 1038.7L376 1037.3L376.3 1036.9L376.8 1035.6L377.3 1035L378.3 1036.7L378.8 1037.2L379.3 1036.2L380.3 1032.2L380.8 1034.3L381.3 1035.5L381.8 1035.9L382.3 1036.8L383 1035L383.8 1037.1L384.3 1037.8L384.8 1037.9L385.3 1037.7L385.8 1036.7L386.3 1036.3L386.8 1036.1L387.3 1036.3L387.8 1036.2L388.3 1032.6L388.8 1027.8L389.1 1024.8L389.8 1031.6L390.3 1035.9L390.8 1037.6L391.3 1036L391.8 1035L392.3 1034.8L393.3 1035.3L393.8 1035.3L394.3 1036L394.6 1035L394.8 1035.7L395.3 1035.1L395.8 1035.2L396.3 1036L397.8 1034.8L399.3 1034.8L399.8 1035.3L400.3 1033L400.8 1035.4L401.3 1037.4L402 1037.4L402.3 1038.4L402.8 1038.6L403.8 1038.6L404.3 1038.8L405.3 1038.3L405.8 1037.6L406.3 1037.4L406.8 1037.5L407.3 1038.1L407.8 1038.2L408.3 1038L408.8 1038.7L409.8 1039L410.8 1038.4L411.8 1038.2L412.3 1037.9L412.8 1037.8L413.3 1038L413.8 1038.5L415.3 1038.4L415.8 1038.1L416.3 1037.4L417.8 1036.2L418.3 1037.4L418.8 1038.3L419.8 1037.3L420.3 1037.2L421.3 1038.3L422.8 1038.7L424.3 1038.5L425.3 1038.8L425.8 1038.6L426.8 1037.6L427.3 1038.2L427.8 1038.1L428.3 1037.4L428.8 1038.2L429.3 1038.5L429.8 1038.2L430.8 1038.8L431.8 1038.7L432.3 1036.6L432.8 1034L433.5 1030L434.3 1034.6L434.8 1037.1L435.3 1038.8L435.8 1038.4L436.3 1037.5L438.3 1038.1L439.3 1038.7L439.8 1038.7L440.8 1038.2L441.3 1038.2L441.8 1038.6L444.3 1038L445.8 1039.1L446.8 1039.1L447.8 1038.6L449.3 1038.7L451.3 1037.9L452.8 1038.5L453.3 1038.4L453.8 1037.9L454.8 1037.7L455 1037.4L455 1040ZM457.4 1040L457.4 1036.9L457.8 1037.2L458.8 1036.5L459.3 1037.2L459.8 1037.2L460.3 1036.6L461.8 1036.2L462.3 1037.2L462.8 1037.8L464.3 1037.5L465.3 1037.6L465.8 1037.3L466.8 1035.3L467.3 1035.3L468.3 1036.5L468.8 1035.9L469.3 1035.7L469.8 1036L470.8 1034.9L471.3 1034.8L471.8 1035.2L472.3 1036.4L472.8 1036.6L473.3 1036.4L473.8 1035.2L474.3 1034.8L476.3 1034.8L476.8 1036.2L477.3 1036.9L477.8 1036.9L478.8 1035.7L479.3 1035.5L479.8 1036.3L480.3 1037.4L481.8 1037.2L482 1037L482 1040ZM484 1040L484 1037.5L484.3 1037.8L484.8 1037.4L485.3 1036.7L485.8 1035.6L486.3 1035.8L486.8 1036.3L487.3 1036.5L488.3 1036.1L489.3 1036.2L489.8 1036.8L490.8 1036.3L491.3 1037.4L491.8 1038.1L492.3 1038.5L493.3 1037.5L496.3 1038L496.8 1036.9L497.3 1036L497.8 1036.3L498.8 1037.4L500.3 1038.1L501.3 1038.1L501.8 1035.8L502.8 1030.5L503.8 1035.8L504.3 1037.6L505.3 1036.9L505.8 1036.2L506.3 1035.2L506.8 1034.8L507.3 1036.3L507.8 1036.4L508.3 1035.9L508.8 1034.8L509.3 1034.8L509.8 1036.5L510.8 1037L511.8 1036.9L514.8 1037.5L515.8 1037.1L516.3 1036.6L517 1035.5L518.8 1038.2L519.3 1037.8L519.8 1037.8L520.3 1038.5L521.3 1037.6L521.8 1037.7L522.8 1036.8L523.3 1037.7L523.8 1038L524.3 1038.1L524.8 1037.5L525.3 1037.3L525.8 1038L526.3 1037.7L527.3 1036.9L528.3 1038L528.8 1037.4L529.3 1037.2L529.8 1034.5L530.3 1024.7L530.9 1011L531.3 1020.3L531.8 1030.8L532.3 1037.6L532.8 1036.8L533.3 1036.6L533.8 1037.4L534.3 1036.9L534.8 1036L535.3 1035.7L536.3 1036.3L536.8 1035.3L537.3 1035.4L537.8 1037.1L538.3 1036.8L538.8 1036L539.3 1034.8L539.8 1034.8L540.3 1035.4L541.3 1037.1L541.8 1037.6L542.8 1037L543.3 1037.6L545.8 1038L546.3 1037.1L547 1035.5L548.3 1038.4L549.8 1038.6L550.8 1038.1L551.3 1038.4L553.8 1037.9L554.8 1035.9L556.3 1037.5L557.3 1035.9L557.8 1035.7L558.8 1035.7L559.3 1035.1L559.8 1035.3L560.2 1033L560.3 1033.6L560.8 1035.5L561.3 1035.5L561.8 1036.2L562.8 1036.7L563.3 1036.6L563.8 1035.9L564.3 1034.8L564.8 1036.1L565.3 1036.4L565.8 1035.1L566.3 1035.7L566.8 1036.6L567.3 1034.6L567.8 1027.6L568.3 1019.7L568.5 1016.3L568.8 1021.3L569.3 1029.1L569.8 1035.3L571 1032L571.8 1034.2L572.3 1035.3L572.8 1036.8L573.3 1037.1L573.8 1035.8L574.3 1035.4L574.8 1035.3L575.3 1034.9L575.8 1035.3L576.3 1036.1L576.8 1037.1L577.3 1037.1L577.8 1035.2L578.8 1036.6L580.3 1035.4L580.8 1035.2L581.3 1035.5L582.3 1036.8L582.8 1037.3L584.8 1036.8L585.8 1037.8L587.3 1037.2L587.8 1036.3L588.3 1034.8L588.8 1036.2L589.3 1037L589.8 1037L590.3 1036.4L590.8 1035.5L591.3 1035.2L592.3 1035.5L592.8 1036.8L593.3 1037.5L594.8 1037.9L595.3 1037.3L595.8 1037L596.8 1037.2L597.3 1037.4L597.8 1038L598.8 1037.5L600.3 1038.7L601.3 1038.1L604.3 1038.1L604.8 1038.4L605.3 1038.4L605.8 1038L606.8 1038L607.3 1037.1L607.8 1037.1L608.3 1037.9L608.8 1036.3L609.3 1035.2L609.8 1036.1L610.3 1035.6L610.8 1035.6L611 1035L611.8 1037.6L612.3 1037.3L613 1037.7L613 1040Z" fill="#007c0a"/>
<path d="M24.3 1088L24.3 1087.1L29.8 1087.1L35.8 1087.1L41.3 1087.1L44 1087.1L44 1088ZM46 1088L46 1087.1L50 1087.1L50 1088ZM52 1088L52 1087.1L55.3 1087L56.3 1075.8L58 1074.7L59.3 1074.4L60.8 1075.5L62 1077L62.8 1075L63.3 1074.3L64.8 1075.2L65.8 1076.2L66 1076.3L66.8 1075.4L67.3 1075.2L67.8 1076.2L68.3 1077.4L68.8 1077.3L69.8 1075.3L71.3 1075.7L72.3 1075.4L75.3 1076.9L76.3 1077L77.3 1075.4L77.8 1075.3L78 1075.7L78.3 1076.6L78.8 1078.4L79.3 1078.5L81.3 1077.5L82.8 1075.9L84.3 1076.7L85.3 1076.6L86.8 1077.5L87.8 1076.6L88.3 1076.8L88.8 1077.8L89.3 1078.9L90.8 1078.2L91.8 1078.3L92.3 1079.2L93.3 1081.8L94.3 1082.4L95.8 1082.1L98.3 1083.4L99.8 1082.3L101.3 1082L102.3 1082.3L104 1083.7L104.8 1083.5L106.3 1084.4L107.3 1084L108 1083.4L108.8 1082.4L110.3 1081.6L111.3 1080.7L112.8 1080.6L114 1079.5L115.3 1082.9L115.5 1083L116.3 1080.5L116.8 1079.3L117.3 1078.5L119 1083.5L119.3 1083.7L120.3 1082.8L120.8 1083L121.8 1083.8L122.8 1083L124.3 1081.2L125.8 1080.8L126.8 1081.1L128 1082.3L129.8 1083.5L132.3 1083.3L134 1084.3L134.8 1084.4L137 1083.6L138.3 1081.4L139.4 1078.8L139.8 1078.6L140.3 1079L141 1080.1L142.3 1080.1L142.8 1079.6L143.8 1077.1L144.3 1076.9L144.8 1077.1L145.3 1076.9L145.8 1074.5L146.3 1073.8L146.8 1074.4L147.5 1076.3L147.8 1076.1L148.8 1074.4L149.3 1073.2L149.8 1074.5L150.3 1076.2L150.5 1077.2L151.8 1080.1L154.3 1081.7L155.3 1081.6L155.8 1081.8L156.8 1083L158 1083.5L160.8 1083.8L162 1082.3L163.3 1082.1L164.8 1082.7L166 1082.2L167.3 1083.3L168.3 1083.3L170 1084.1L173.8 1082.2L174.8 1082.1L175.8 1081.3L176.3 1081.3L179.3 1083.7L180.3 1085L181 1085.3L184 1083.5L186.8 1083.4L187.8 1083.7L188.3 1083.6L189.3 1082.7L190 1082.7L190.8 1083.2L191.8 1083L194.3 1084.5L194.8 1084.5L195.8 1083.7L196.3 1083.9L197.3 1084.6L198.3 1083.7L200 1083.7L201.3 1084.5L202.3 1084.6L203.8 1084L205 1084.8L206.3 1084.6L207.3 1085L208.8 1084.7L210.3 1085.5L212.8 1086.2L218.3 1086.4L223.8 1086.5L227.3 1086.9L230.8 1086.7L232.3 1085.9L233.5 1085.7L236 1086.8L237.8 1086L239.8 1085.4L241.3 1084.3L242.8 1084.3L243.8 1083.7L245.3 1083.6L246.8 1084.7L249.3 1083.4L250.3 1082.6L254 1080.1L254.3 1079.7L255.8 1075.3L256.2 1074.8L256.7 1064L257.3 1071.3L258.3 1070.2L259 1069.9L261 1072.3L261.8 1071.3L262.3 1070.9L263 1071.9L263.3 1072.9L263.8 1072.5L264.3 1071.3L264.8 1070.8L265.8 1072.1L266.3 1072.3L267 1071.3L267.3 1071.2L268.8 1073L269 1073L269.8 1071.7L270.5 1071.3L271.3 1074.9L272 1075.6L272.3 1075.6L272.8 1076.1L274.6 1079.3L276.3 1070.4L276.7 1068.6L277.8 1069L279 1064.1L280.3 1060.7L280.8 1061.1L281 1061.7L281.3 1062.7L281.8 1063.6L282.3 1059.7L282.8 1056.4L283 1055.4L283.3 1056.7L283.8 1060L284.3 1064.4L285.3 1058.9L285.8 1057.1L286.8 1055.9L287.3 1055L287.8 1054.8L288.3 1055.3L289 1059.2L289.3 1060.7L289.8 1061.8L290.8 1061.8L291 1060.3L291.3 1059.1L291.8 1057.6L292.3 1058.1L292.5 1059.4L293.3 1061.6L293.8 1059.5L294.7 1054.4L296 1057.5L296.8 1060.4L297.3 1062.6L297.8 1057.9L298 1056.2L298.3 1054.3L298.8 1053.2L300.3 1057.1L300.8 1058.5L301.3 1059.2L302 1055.4L302.3 1054.8L302.8 1055.1L303.8 1057.2L304 1057.8L304.8 1057.4L305.3 1056.7L306 1054.8L306.3 1055.3L307.3 1057.7L307.8 1059.1L308 1060L308.8 1061.6L309.3 1062.2L310.3 1062.4L310.5 1061.5L310.8 1061L311.3 1060.7L311.8 1061.8L312 1063L312.3 1063.6L312.8 1065.2L313.3 1065.4L314 1065.1L314.3 1065.2L314.8 1063.7L315.3 1062.8L315.8 1063.4L316 1064.1L316.8 1064.4L318 1060.8L318.3 1061.2L318.8 1062.9L319.3 1065L319.8 1065.7L320.8 1066.3L321 1066.1L321.8 1068L322.8 1069.8L323.3 1071.4L324.3 1078L324.8 1080.3L325 1080.8L325.8 1074.8L326.3 1072.1L326.5 1071.3L326.8 1069.7L327.3 1066.5L327.5 1063.5L327.8 1061.2L328.3 1058L328.8 1057.5L329.3 1059.4L329.8 1062.1L330 1060.6L330.3 1059L330.8 1056.8L331.3 1055.9L332 1056.2L333.3 1055.5L333.8 1055.4L334 1055.7L335.5 1064.8L336.3 1072.2L336.8 1074L337 1075L337.3 1075.8L337.8 1077.8L338.8 1083.1L339 1083.9L340.3 1084.4L342.3 1086.3L342.8 1086.3L343.3 1086.9L345.8 1086.8L346.8 1086.1L347.3 1086.5L347.8 1086.3L348.3 1085.7L349.3 1086.2L349.8 1086.2L350.8 1085.5L352.3 1086.5L353.3 1086.4L354.3 1085.4L355.8 1085.3L356.3 1085.6L356.8 1085.4L357.3 1085.5L357.8 1086.1L358.8 1085.4L360.3 1085.9L361.8 1086.7L362.8 1086.1L364.3 1087.1L368.8 1086.9L369.3 1086.8L369.8 1086.3L371.3 1086.2L372.3 1086.9L373.8 1086L374.8 1086.4L375.3 1086L375.8 1086L376.3 1086.3L379.3 1086.7L379.8 1086.4L380.3 1085.7L382.8 1086.8L384.3 1086.2L384.8 1086.9L385.3 1087.1L386.8 1086.7L387.3 1086.4L388.3 1087.1L389.3 1086.7L389.8 1086.4L390.8 1086.9L391.3 1086.8L391.8 1086.5L392.3 1085.8L392.8 1085.3L393.3 1085.3L394.3 1086.3L394.8 1086.6L395.3 1086.2L396.3 1087.1L397.3 1086.6L397.8 1087L398.3 1086.8L398.8 1086.3L399.3 1086.3L400.3 1087.1L400.8 1086.7L401.3 1086.6L401.8 1087.1L403.3 1087.1L403.8 1086.9L404.3 1086.5L404.8 1086.8L405.3 1086.9L406.3 1086.7L408.3 1087L409.3 1086.3L409.8 1086.3L410.8 1086.9L411.8 1086.8L412.3 1086.4L412.8 1086.8L413.3 1086.8L413.8 1086.1L414.8 1087L415.8 1086.8L416.3 1086.9L417.8 1086.3L418.8 1085.3L419.8 1085.3L420.3 1086L420.8 1086.4L421.3 1086.6L423.3 1085.7L424.3 1086L425.8 1085.8L426.8 1086.8L427.3 1086.9L427.8 1086.8L428.3 1086.4L428.8 1086.8L429.3 1086.9L429.8 1086.6L431.3 1087L432.3 1086.6L432.8 1086.1L433.3 1086L433.8 1086.6L435.8 1086.8L436.3 1087L436.8 1086.5L437.3 1086.4L438.3 1087.1L441.3 1086.9L441.8 1086.7L442.8 1085.4L443.3 1086.2L443.8 1086.2L444.3 1085.7L445.3 1085.9L446.3 1086.5L446.8 1086.6L448.3 1085.7L448.8 1086.6L449.3 1086.8L451.8 1085.8L452.3 1085.8L452.8 1086.3L453.3 1086.4L453.8 1086L454.8 1086.6L455.3 1086.3L456 1086.4L456.3 1087.5L461.8 1087.5L467.3 1087.5L472.8 1087.5L478.3 1087.5L483.8 1087.5L489.3 1087.5L494.8 1087.5L500.3 1087.5L505.8 1087.5L511.3 1087.5L517.3 1087.5L522.8 1087.5L528.3 1087.5L533.8 1087.5L539.3 1087.5L544.8 1087.5L550.3 1087.5L555.8 1087.5L561.3 1087.5L566.8 1087.5L572.3 1087.5L577.8 1087.5L583.3 1087.5L588.8 1087.5L594.3 1087.5L599.8 1087.5L605.3 1087.5L610.8 1087.5L613 1087.5L613 1088Z" fill="#ff0000"/>
<path d="M24.3 1135L24.3 1130L25.3 1130.6L26 1128L26.3 1129.1L26.8 1129.4L27.3 1128.6L27.8 1129.6L28.3 1131.1L28.8 1130.2L29.3 1129.5L30.3 1129.9L32 1126L34.8 1132.2L35.3 1132.4L35.8 1131L37 1125L37.8 1129.1L38.3 1130L38.8 1130.3L39.3 1129.6L39.8 1129.8L40.3 1130.7L41.3 1130.3L41.8 1129.5L42.3 1128.9L42.8 1128.8L43.3 1129.2L43.8 1128.5L44 1128L44.8 1129.9L45.3 1129.3L45.8 1129L46.3 1130.3L46.8 1131L48 1125L48.8 1129.1L49.3 1130.1L49.8 1130.7L50.3 1125.2L50.8 1116.1L51.3 1106L51.8 1116.1L52.3 1125.2L52.8 1122.5L53 1121L53.8 1126.8L54.3 1127.3L54.8 1120.8L55 1118L55.3 1122.2L55.8 1128.5L56.3 1127.9L56.5 1127L57.3 1130.3L57.8 1130.5L58.3 1130.1L58.8 1129.9L60.8 1132.2L61.3 1132.4L63.8 1132.1L64.3 1131.9L64.8 1132L65.3 1131.8L65.8 1131L67.8 1130.2L68.3 1129.8L68.8 1130.8L69.3 1130.8L69.8 1129.1L70.3 1129.2L70.8 1129.5L71.3 1129.4L72.3 1130L72.8 1129L73.3 1128.3L73.8 1128.4L74.8 1129.1L75.8 1130.3L76.3 1130.6L76.8 1129.2L77.3 1128.2L77.8 1128.4L79.3 1130.8L79.8 1130.8L80.3 1130.1L80.8 1131.1L81.3 1131.6L81.8 1131.9L83.3 1131.1L83.8 1131.2L84.3 1131.6L85.8 1131.4L86.3 1131.7L86.8 1132.2L87.3 1132.6L88.3 1132.4L89.3 1130.6L89.8 1130.2L90.8 1131.5L92.3 1131.6L93.3 1129.2L94.3 1130L94.8 1130.1L95.3 1128.8L95.8 1128.2L98.3 1128.2L98.8 1129.4L99.3 1129.9L99.8 1130L100.3 1129.7L101.3 1129.9L101.8 1129.8L102.3 1130.5L102.8 1130.9L103.3 1129.9L103.8 1129.8L104.3 1130.5L104.8 1128.9L105.3 1128.7L105.8 1130.6L106.3 1129.6L106.8 1128.2L107.3 1129.7L107.8 1130.5L108.3 1131L109.8 1130.1L110.8 1128.5L111.3 1130.1L111.8 1130.3L112.3 1129.5L112.8 1130.1L113.3 1130.2L113.8 1129.6L114.8 1130.4L116.3 1131L117.3 1130.4L117.8 1129.2L118.3 1128.7L118.8 1129L119.3 1130.3L119.8 1130.5L120.8 1130.2L121.3 1129.8L121.8 1128.6L122.3 1128.2L122.8 1128.2L123.3 1129L123.8 1128.3L125.3 1128.2L125.8 1129.2L126.8 1129.7L127.3 1130.4L127.8 1130.5L128.8 1129.9L129.3 1130.2L129.8 1130.8L130.3 1130.5L130.8 1129.9L131.3 1129.9L131.8 1129.4L132.3 1128.2L134.3 1128.2L134.8 1128.6L135.3 1130.3L135.8 1131.1L136.3 1131.5L137.8 1130.3L139.3 1131.4L140.3 1131.4L140.8 1132L141.3 1132.3L141.8 1132L142.8 1132.3L144.3 1131.7L144.8 1132.2L145.3 1132.3L146.8 1131.3L147.3 1131.4L147.8 1131.1L148.3 1130.6L149.3 1132.1L149.8 1132.6L150.3 1132.3L150.8 1131.8L151.3 1131.6L152.3 1132.3L153.3 1132.4L154.3 1131.6L154.8 1131.5L155.3 1132.2L155.8 1132.2L156.3 1131.6L156.8 1131.7L157.3 1131.5L157.8 1131L158.3 1131.7L158.8 1132.2L159.3 1131.6L159.8 1131.7L160.3 1132.1L161.3 1132L161.8 1132.3L162.8 1131.9L163.3 1132.3L163.8 1131.9L164.3 1131.3L164.8 1131.9L166.3 1132.9L166.8 1133L167.8 1132.8L168.3 1133L169.8 1132.2L170.8 1131.1L172.8 1130.6L173.3 1130.7L173.8 1131.2L174.8 1130.6L175.3 1131L175.8 1130.6L176.3 1129.5L176.8 1129.8L177.3 1129.8L177.8 1129.2L178.3 1128.9L178.8 1128.9L179.3 1129.6L180.3 1129.6L181.3 1128.2L181.8 1128.2L182.3 1129.6L182.8 1130.5L183.3 1130.2L183.8 1129.5L184.3 1128.4L184.8 1129.6L185.3 1130.1L185.8 1130.2L186.8 1128.7L187.3 1129.8L187.8 1129.7L188.3 1128.4L189.8 1128.2L190.3 1128.5L190.8 1129.1L191.3 1130.3L191.8 1130L192.3 1128.2L192.8 1129.5L193.3 1129.7L193.8 1128.2L194.8 1129L195.3 1128.2L196.3 1128.2L196.8 1128.8L197.3 1129.8L198.3 1128.7L198.8 1128.8L199.3 1130.6L199.8 1130.8L200.3 1130.2L200.8 1130.6L201.3 1130.4L201.8 1129.4L202.8 1130.2L203.3 1130.4L203.8 1130.3L205.3 1129.2L205.8 1129.1L206.3 1128.2L206.8 1128.2L207.3 1129.5L207.8 1130L208.3 1129.4L208.8 1131L209.3 1131.8L209.8 1132.1L210.8 1131.8L211.3 1132.3L212.3 1132.4L213.3 1132L213.8 1131.4L215.3 1130.7L216.3 1132L220.3 1131.3L221.3 1130.2L221.8 1130.5L222.8 1128.2L223.3 1128.2L223.8 1128.8L224.3 1130.3L224.8 1130.2L225.3 1130.5L225.8 1131L226.8 1129.7L227.3 1130.1L228 1128.5L229.3 1131.4L230.8 1131.1L231.3 1131.2L231.8 1131L233.3 1129.2L233.8 1128.8L234.8 1130.4L235.3 1130.5L235.8 1130.2L236.3 1129.2L236.8 1129.6L237.3 1129.7L237.8 1129.4L238.3 1128.4L238.8 1128.2L239.3 1129.4L239.8 1128.8L240 1128L240.3 1129.1L240.8 1130.3L242.3 1130.8L242.8 1130.2L243.5 1127.5L243.8 1128.4L244.3 1129L244.8 1130.1L245.3 1130.5L245.8 1129.7L246.3 1129.8L246.8 1130.5L247.3 1132.2L247.8 1132.5L248.3 1132.2L249.3 1132.5L249.8 1131.8L250.8 1132.5L251.3 1131.8L251.8 1131.7L252.3 1131.9L252.8 1130.8L253.3 1130L253.8 1130.7L254.8 1129.8L255.3 1129.9L256.3 1130.7L256.8 1129.8L257.3 1128.3L258.3 1128.2L258.8 1129.7L259.3 1129.3L259.8 1128.4L261.8 1128.2L262.3 1128.4L262.8 1129.9L263.3 1129.1L264.3 1128.4L264.8 1130.7L265.3 1131.3L265.8 1130.8L266.8 1131.7L267.8 1131.4L268.8 1131.6L269.3 1131.5L269.8 1130.5L270.8 1130.7L271.3 1129.6L271.8 1129.1L272.3 1129.1L272.8 1130L273.3 1130.1L273.8 1129L274.3 1128.5L274.8 1128.4L275.3 1129.4L275.8 1129.2L276.3 1128.3L276.8 1129.3L277.3 1129.8L277.8 1129.6L278.3 1128.2L279.3 1128.4L279.8 1128.9L280.3 1128.8L280.8 1130.4L281.3 1130.9L281.8 1130.3L282.8 1131.5L284.3 1132L284.8 1131.2L285.3 1130.8L285.8 1130.6L286.3 1131.5L286.8 1132.1L288.8 1131.3L289.8 1131.4L290.8 1130.7L292.3 1131.7L292.8 1131.2L293.8 1129.5L294.3 1130.6L294.8 1131.3L295.3 1130.3L295.8 1130.6L296.3 1131.4L297.3 1130.9L297.8 1130.2L299.3 1129.5L299.8 1129.6L300.3 1130L301.3 1130.1L302.3 1130.8L302.8 1131L303.3 1130.7L303.8 1130.6L304.8 1131.1L305.3 1131L305.8 1130.5L306.3 1129.5L306.8 1128.8L307.3 1129.6L307.8 1129.8L308.3 1129.7L309.8 1131.2L310.3 1130.7L310.8 1129.8L311.3 1130L311.8 1129.7L312.3 1128.9L312.8 1129.6L313.3 1130L314.8 1129.8L316.3 1130.2L318.3 1132.2L318.8 1132.4L320.3 1131.8L320.8 1132.5L321.3 1132.8L323.8 1130.6L324.8 1130.3L325.3 1130.4L326.3 1131.1L326.8 1131.1L327.3 1130.6L328.3 1128.2L328.8 1129.3L329.3 1129.5L329.8 1128.2L330.8 1128.2L331.3 1129.1L332.3 1128.2L333.3 1128.4L333.8 1128.9L335.3 1128.3L336.3 1130.9L336.8 1129.4L337.3 1128.2L337.8 1128.6L338.8 1128.2L339.3 1128.5L340.3 1128.2L340.8 1128.5L341.8 1130.7L342.3 1129.8L342.8 1128.2L343.3 1128.3L344.3 1130.3L344.8 1129.5L345.3 1129.5L345.8 1130.6L346.3 1130.3L346.8 1129.6L348.3 1129.7L348.8 1128.2L350.8 1128.2L351.8 1130.3L352.3 1130.8L352.8 1130.2L353.3 1129.9L354.3 1131.2L354.8 1131.6L355.3 1131.5L356.3 1132.1L356.8 1130.2L358 1123L358.8 1128L359.3 1130.6L359.8 1130.3L361 1127L362.3 1130.5L363.3 1130.2L363.8 1130.6L364.3 1131.2L364.8 1131.5L365.3 1131.5L365.8 1131L368.3 1131.1L369.3 1130.2L369.8 1130L370.8 1128.4L371.3 1129.3L371.8 1129.4L372.3 1128.8L372.8 1130.4L373.3 1130.6L373.8 1129.3L374.3 1130.1L374.8 1130.7L375.3 1130.1L376.3 1129.8L376.8 1129.2L377.3 1129.2L377.8 1130L378.3 1130.4L378.8 1130.6L379.3 1129.9L379.8 1129.6L380.3 1129.7L381.3 1128.4L381.8 1128.2L382.3 1128.6L382.8 1129.5L384.3 1131.2L384.8 1130.2L385.3 1130L385.8 1131L386.8 1131.6L387.3 1130.9L388.7 1125.5L389.8 1129.8L390.3 1131.6L390.8 1130.9L392 1128L393.3 1131.1L394.3 1129.7L394.8 1129.5L395.3 1130.5L395.8 1130.8L396.3 1130.8L396.8 1129.8L397.3 1129.7L397.8 1130.9L398.3 1131L398.8 1130.8L399.3 1129.7L399.8 1129.7L400.3 1130.4L401.8 1128.3L402.8 1129.2L403.3 1128.2L403.8 1128.2L404.3 1129L404.8 1128.3L405.3 1128.6L405.8 1130.3L406.3 1130.3L408.3 1128.9L408.8 1129.4L409.8 1130.9L410.8 1131L411.3 1130.1L411.8 1129.7L412.3 1129.7L412.8 1129.1L413.3 1128.7L414.8 1128.9L415.3 1130.3L415.8 1130.8L416.3 1130.8L416.8 1130.5L417.3 1130.6L417.8 1131.3L418.3 1130.7L418.8 1129.7L419.3 1130.9L419.8 1131.1L420.3 1130.9L420.8 1131.3L421.3 1131.2L421.8 1130.4L422.8 1131.2L423.3 1130.5L423.8 1130.8L424.3 1131.5L425.3 1131.6L425.8 1131.1L426.8 1131.3L427.8 1130.4L428.3 1129.6L428.8 1130.8L429.3 1131L429.8 1129.6L430.3 1129.5L430.8 1130.2L431.3 1131.4L431.8 1131.3L432.3 1130.1L432.8 1130.1L433.3 1130.9L433.8 1132L434.3 1131.9L435.3 1130.9L435.8 1131.2L436.3 1131.8L436.8 1131.6L437.3 1131.6L437.8 1131.9L438.8 1131.8L439.3 1132.2L439.8 1132.1L440.3 1131.4L441.3 1130.9L441.8 1131.2L442.8 1130.9L443.3 1131.7L443.8 1131.6L444.3 1131L445.3 1130.5L445.8 1130.7L446.3 1130L446.8 1129.1L447.8 1128.4L448.3 1128.2L448.8 1128.5L449.8 1129.7L450.3 1129.6L451 1123L451.3 1125.9L451.8 1128.2L452.3 1128.2L452.8 1126.3L453 1124L453.3 1127.5L453.8 1128.5L454.3 1128.2L454.8 1128.3L455.3 1129.9L455.3 1135ZM457.4 1135L457.4 1129.8L457.8 1129.5L458.3 1129.9L460.3 1129.5L460.8 1128.8L461.3 1128.4L461.8 1129L462.8 1128.2L463.3 1130L463.8 1130.7L464.3 1130.9L464.8 1129.8L465.3 1129.5L466.3 1131.2L466.8 1131.5L467.3 1130.6L467.8 1130.1L468.8 1130.4L469.3 1130.4L469.8 1129.7L470.3 1129.8L470.8 1130.1L471.3 1131.1L471.8 1131.2L472.3 1130.8L473.3 1131.3L473.8 1131.2L474.3 1130.3L474.8 1129L476.3 1130.5L476.8 1129.2L477.3 1128.5L477.8 1129L478.8 1127.3L479.3 1127.4L480.3 1129.6L480.8 1129L481.3 1128.1L481.8 1126.8L482.8 1128.6L483.3 1127.7L483.8 1127.9L484.8 1129.1L485.8 1129.7L486.3 1129.5L486.8 1128.9L487.3 1129.1L488.3 1131L488.8 1131.1L489.3 1131L489.8 1130.1L490.8 1130.4L491.3 1130.2L491.8 1130.7L492.3 1131.5L492.8 1130.6L493.3 1130.2L494.3 1131.4L494.8 1131.6L495.3 1131.2L495.8 1131.1L496.8 1131.5L497.3 1131.5L498.3 1130.8L498.8 1130.7L499.3 1131.6L500.3 1132.1L500.8 1131.6L502 1126.5L502.8 1130L503.3 1131.9L503.8 1131.8L504.3 1131.2L504.8 1132.1L505.8 1132.1L506.3 1131.2L506.8 1129.4L507.3 1129.1L507.8 1129.5L508.3 1130.7L509.8 1130.5L510.3 1129.4L510.8 1127.9L511.3 1127.9L511.8 1128.9L512.3 1130.3L512.8 1130.6L513.3 1130.4L513.8 1129.2L514.8 1130.4L516.3 1129.3L516.8 1130.8L517.3 1131.1L518.3 1130.1L518.8 1129.9L519.3 1130.2L519.8 1129.9L520.3 1128.9L520.8 1126.9L521.3 1126.8L521.8 1128.3L522.8 1126.9L523.3 1129.3L523.8 1129.6L524.3 1129L524.8 1128.6L525.3 1128.5L525.8 1128.7L526.3 1129.3L526.8 1129.6L527.3 1129L528.3 1128.5L528.8 1129.5L529.3 1129.4L529.8 1127.9L530.3 1121.9L530.8 1110.6L530.9 1108.2L531.3 1117.5L531.8 1127.8L532.3 1131.4L533.3 1130.2L534.8 1130.9L535.3 1131.7L535.8 1131.9L536.3 1131.7L537.3 1132.2L537.8 1132.3L538.8 1131.3L539.3 1131.4L539.8 1130.9L540.3 1129.6L542.3 1126.9L543.3 1126.8L544.3 1129.4L544.8 1129L545.3 1129L545.8 1129.4L546.8 1129.5L547.3 1129.2L548.3 1129.9L548.8 1129.1L549.3 1129L549.8 1130L550.3 1129.4L550.8 1128.1L551.3 1127.3L551.8 1128.2L552.3 1129.8L553.3 1129.2L553.8 1129.4L554.8 1128.2L556.3 1129.9L556.8 1129.4L557.3 1129.6L557.8 1130.8L558.8 1129.9L559.3 1130.6L559.8 1127.1L560.2 1124L560.8 1128.6L561.3 1129.7L561.8 1129.8L563.3 1131.5L564.3 1132.1L565.3 1131.8L565.8 1131.3L566.3 1131.2L566.8 1131.3L567.3 1131.7L567.8 1126.4L568.3 1119.1L568.5 1116L568.8 1120.6L569.3 1127.7L569.8 1128.7L570.3 1130L570.8 1130.7L571.8 1127.3L572 1126L572.3 1127.9L573.3 1129.3L573.8 1130.3L574.3 1129.4L574.8 1128.3L575.3 1130.3L575.8 1130.5L576.3 1130.1L577.3 1130.5L577.8 1131L578.3 1130.8L578.8 1130.4L579.3 1130.2L580.3 1131.3L582.3 1131.2L582.8 1130.9L585.3 1131.7L585.8 1131.7L586.3 1131.3L586.8 1130.5L587.8 1130.2L588.3 1130.3L588.8 1129.7L589.3 1130.1L589.8 1131.4L590.3 1130.8L590.8 1129.6L591.3 1128.7L591.8 1128.4L592.8 1129.2L593.3 1129L593.8 1127.8L594.3 1128L595.3 1129.3L595.8 1129.2L596.3 1128.8L596.8 1129.5L597.3 1129.7L598.8 1129.2L599.3 1130.1L599.8 1129.8L600.3 1128.6L600.8 1129.4L601.3 1129.4L601.8 1129L602.8 1129.5L603.8 1127.3L604.3 1126.8L604.8 1126.8L605.3 1127.3L605.8 1129.4L606.3 1130.1L606.8 1130.2L607.3 1128.5L607.8 1128.1L608.8 1129.8L609.8 1130.3L610.3 1130L610.8 1129.2L611.3 1129.1L611.8 1129.6L612.3 1130.3L613 1128.7L613 1135Z" fill="#007c0a"/>
<path d="M24.3 1183L24.3 1182.1L29.8 1182.1L35.8 1182.1L41.3 1182.1L46.8 1182.1L52.3 1182.1L55.3 1182.1L56 1164.5L56.8 1151.7L57 1149.4L57.8 1156.1L58.3 1158.4L58.5 1158.1L58.8 1157.4L59.3 1156.5L59.8 1157.7L60 1158.4L60.8 1158.8L61.5 1158.9L61.8 1159.5L62.3 1159.3L63.3 1157.8L64.3 1158.3L65 1159L67 1158.2L68.3 1159.3L68.8 1160.5L69.7 1164.3L69.8 1165.1L71 1167.4L71.8 1165.5L72.3 1165.1L73 1166L74.3 1166.9L75 1167.7L76.3 1166L77 1166.4L77.3 1167.4L77.8 1168.2L78.8 1167.3L79.8 1167.6L80.3 1167.4L81 1164.8L81.3 1164.1L81.8 1163.4L82.8 1162.6L83.3 1163.1L84.5 1165.4L85.3 1168.6L86 1167.5L86.3 1166.7L86.8 1166L88 1167.7L89.3 1168.7L90 1168.5L90.3 1168.2L90.8 1168.2L91.3 1168.9L91.8 1169.9L92.3 1169.6L93 1168.8L93.3 1169.6L94.3 1173.6L95 1174.8L95.8 1174.5L97 1175.8L98.3 1178.1L98.5 1178.2L99.3 1175.2L99.8 1173.6L100 1173.1L101.5 1177.2L102.3 1178.7L103.5 1181.3L105.3 1179.7L106.3 1179.3L107.8 1177.9L109 1177.3L111 1179.1L111.3 1178.9L112.8 1175.2L114 1173.1L115.5 1177.2L118 1178.7L119.3 1178.2L120 1178.2L120.3 1178.6L121.8 1178.8L122 1179L125.7 1172.1L127 1175.4L128.3 1176.8L129 1177.8L130.8 1178.1L132 1177.6L133.3 1179.4L134.8 1180.1L135.8 1180.6L136.3 1180.6L137 1180.3L138.5 1169.8L139.4 1165.9L141 1168.4L141.3 1168L141.8 1168.3L142.3 1169L142.8 1169.3L143.8 1167.2L144.3 1167L145.3 1167.2L145.8 1166.2L146.8 1168.1L147.5 1169.7L147.8 1169.4L148.8 1166.7L149.3 1165.8L151 1177.1L151.8 1177.7L152.8 1177.5L153.3 1177.9L154 1179L155.8 1179.4L156.8 1179.2L159.3 1179.5L160.8 1179L162.3 1178.1L163.3 1178.1L164.8 1177.6L165.8 1178.8L167.3 1179.3L172 1179L173.3 1177.8L173.8 1177.5L175.3 1175.2L177 1178.2L180 1178.8L181.6 1182L184 1179.6L185.3 1178.4L185.8 1178.3L186.8 1178.6L188 1177.4L189.8 1178.4L190.8 1178.5L192 1177.9L193.3 1178.7L194.3 1178L194.8 1178L196 1179.1L197.3 1177.5L198 1177.2L199.8 1178.6L200.3 1178L201 1177.6L202.8 1178.2L207.8 1179.1L209 1179.9L211.8 1180.1L215.5 1182.2L219.3 1181L220.8 1180.2L223.3 1180.2L224.3 1180.9L225.8 1180.6L229 1181.3L234.3 1179.6L234.8 1179.6L236 1180.6L237.8 1179.9L240 1179.9L241.3 1178.6L243 1176.2L245 1179.2L247.3 1179.2L247.8 1179.4L249.3 1178L250.3 1178.6L250.8 1178.5L251.8 1177.5L252.8 1177.3L253.3 1176.8L255.8 1171.8L256.7 1170.5L257.3 1163.5L257.7 1158.4L258.3 1156.3L258.8 1155.4L259.8 1154.8L260.3 1154.9L260.8 1155.4L261 1154.9L262.3 1149.7L263 1147.4L263.8 1148.7L264.5 1150.4L264.8 1149.6L266 1147.7L266.3 1149.4L267.3 1156.4L267.5 1157.5L268.8 1153L269.3 1151.5L269.8 1153.9L271 1160.8L271.3 1161.8L272.3 1161.6L272.8 1162.2L273.6 1164.6L273.8 1164.2L274.3 1162L275 1158.5L275.8 1156.5L276.3 1155.5L276.8 1155.5L277.3 1156.4L277.8 1157.8L279 1158.4L279.3 1157.3L279.8 1154.6L280.3 1152.2L280.8 1152.7L281.3 1154.2L281.8 1155L282.3 1152L282.8 1149.5L283 1148.6L283.8 1149.9L284.3 1151.1L285 1153.4L285.3 1154.9L285.8 1156.3L286.8 1155L287 1154.9L288.3 1152.4L289 1150.2L289.3 1150.1L289.8 1148.6L290.3 1146.7L290.8 1145.5L291 1146.2L291.3 1146.4L293.3 1149.5L293.6 1148.9L294.3 1150.4L294.8 1151.6L295 1152.3L295.8 1151L296.3 1150.9L297 1151.8L297.3 1153.1L297.8 1152L298.3 1151.2L298.8 1151.2L299 1151.5L299.8 1150.1L300.8 1149.3L301.3 1149.3L302 1151.6L302.3 1153.7L302.8 1154.3L303.3 1153.3L303.8 1152.7L304 1153.7L304.8 1154.5L305.3 1154.7L306.3 1153.7L307.3 1151.6L307.8 1150L308.8 1143.7L309.3 1142.4L309.5 1142.2L311 1150.8L311.3 1150.8L311.8 1151.5L312.3 1153.2L312.8 1155.2L313 1154.6L313.3 1152.8L313.8 1150.9L314.3 1151L315 1154.2L315.3 1154.2L315.8 1155L316.3 1156.7L316.8 1158.9L317 1158.9L317.8 1160.3L318.3 1159.6L318.8 1157.2L319 1156.5L319.3 1154.5L319.8 1153.9L320.8 1156.3L322.2 1149.7L322.8 1153.8L323.3 1157.7L323.5 1159.8L324.3 1170.3L325 1178.4L325.8 1173.3L326.3 1170.7L326.5 1169.9L326.8 1167.7L327.3 1164.4L328.5 1153.2L329.8 1147.8L330 1148L330.8 1153.9L331.3 1155.7L332 1154.7L332.3 1152.7L333.3 1147.6L333.8 1145.7L334 1146.2L334.3 1148.4L334.8 1152.7L335.3 1153.3L336 1150.9L336.3 1154.5L336.8 1161.6L337 1164.6L337.3 1165.9L337.8 1168.6L339 1175.9L340.8 1179.2L341 1179.1L341.8 1180.2L342.8 1181L343.3 1181L343.8 1180.6L344.3 1179.8L345.3 1179L345.8 1179L346.8 1180.7L347.3 1180.9L347.8 1180.4L348.3 1179L348.8 1179.2L349.3 1179.8L349.8 1180.8L350.8 1179.1L351.3 1180.7L351.8 1180.8L352.3 1180.3L352.8 1180.8L353.3 1180.8L353.8 1180.5L354.8 1178.8L355.3 1178.9L356.8 1178.8L357.8 1180.8L358.8 1180.6L359.3 1179.8L359.8 1180.2L360.3 1181.1L361.3 1180.3L361.8 1179.6L363.3 1179L364.3 1179.8L365.3 1180L365.8 1180.4L366.8 1179.8L367.3 1180.6L367.8 1180.7L368.3 1180.6L368.8 1181.3L369.3 1181.4L370.8 1180.3L371.3 1179.3L371.8 1179.6L372.3 1180.6L372.8 1179.9L373.3 1179.9L373.8 1180.9L374.3 1180.6L374.8 1180L375.8 1179.6L377.3 1180L377.8 1179.7L378.8 1180.8L379.3 1180.9L379.8 1180.7L380.3 1180.2L381.3 1180L381.8 1180.2L382.8 1178.8L383.3 1179.8L383.8 1179.7L384.3 1179.1L384.8 1180L385.3 1180.4L387.3 1179.9L388.3 1180.9L389.3 1178.8L390.8 1178.8L391.3 1179.6L391.8 1179.8L393.3 1179.4L393.8 1178.8L394.8 1179.4L395.3 1178.8L395.8 1178.8L396.3 1179.7L397.8 1180.6L398.8 1180.2L399.3 1180.2L400.3 1181.2L400.8 1180.5L401.3 1180.3L401.8 1180.9L402.8 1180.6L403.8 1181.4L404.3 1181.6L404.8 1181.5L405.3 1181.1L405.8 1179.9L406.3 1180.2L407.3 1181.3L408.3 1181.1L408.8 1181.3L409.3 1181.2L409.8 1180.5L412.3 1181.4L413.3 1180.6L415.3 1181L415.8 1180.5L416.3 1179.3L417.3 1180L417.8 1180.6L418.8 1179.2L420.3 1180.9L421.3 1179.9L421.8 1179L422.3 1179.1L422.8 1179.4L423.3 1180.1L424.3 1180.7L424.8 1180.6L425.3 1180.8L425.8 1181.3L427.3 1181.7L429.3 1181L429.8 1180.7L430.8 1179.6L431.8 1179.7L432.3 1179.6L432.8 1180.6L433.3 1181.1L434.8 1180.9L435.3 1181.6L435.8 1181.5L436.3 1180.9L437.8 1181.9L440.8 1181.9L441.3 1181.7L441.8 1181L442.8 1180.5L444.3 1181.5L446.8 1181.7L447.8 1181.2L448.3 1180.7L448.8 1181.5L449.3 1181.8L450.8 1181.1L453 1181.1L453 1183ZM457.4 1183L457.4 1182.5L463.3 1182.5L468.8 1182.5L474.3 1182.5L479.8 1182.5L485.3 1182.5L490.8 1182.5L496.3 1182.5L501.8 1182.5L507.3 1182.5L513.3 1182.5L518.8 1182.5L524.3 1182.5L529.8 1182.5L535.3 1182.5L540.8 1182.5L546.3 1182.5L551.8 1182.5L557.3 1182.5L562.8 1182.5L568.3 1182.5L573.8 1182.5L579.3 1182.5L584.8 1182.5L590.3 1182.5L595.8 1182.5L601.3 1182.5L606.8 1182.5L612.3 1182.5L613 1182.5L613 1183Z" fill="#ff0000"/>
<path d="M14.1 755.4H18.3V801.0H14.1" fill="none" stroke="#111" stroke-width="1"/>
<text x="11.6" y="762.6" text-anchor="end" font-size="9.3" font-family="DejaVu Sans, Liberation Sans, sans-serif" fill="#222">50</text>
<text x="11.6" y="800.0" text-anchor="end" font-size="9.3" font-family="DejaVu Sans, Liberation Sans, sans-serif" fill="#222">0</text>
<path d="M14.1 802.6H18.3V848.6H14.1" fill="none" stroke="#111" stroke-width="1"/>
<text x="11.6" y="810.0" text-anchor="end" font-size="9.3" font-family="DejaVu Sans, Liberation Sans, sans-serif" fill="#222">50</text>
<text x="11.6" y="847.4" text-anchor="end" font-size="9.3" font-family="DejaVu Sans, Liberation Sans, sans-serif" fill="#222">0</text>
<path d="M14.1 850.4H18.3V895.6H14.1" fill="none" stroke="#111" stroke-width="1"/>
<text x="11.6" y="858.1" text-anchor="end" font-size="9.3" font-family="DejaVu Sans, Liberation Sans, sans-serif" fill="#222">50</text>
<text x="11.6" y="895.1" text-anchor="end" font-size="9.3" font-family="DejaVu Sans, Liberation Sans, sans-serif" fill="#222">0</text>
<path d="M13.3 898.5H17.5V944.0H13.3" fill="none" stroke="#909090" stroke-width="1"/>
<text x="11.6" y="906.2" text-anchor="end" font-size="9.3" font-family="DejaVu Sans, Liberation Sans, sans-serif" fill="#222">10</text>
<text x="11.6" y="943.1" text-anchor="end" font-size="9.3" font-family="DejaVu Sans, Liberation Sans, sans-serif" fill="#222">0</text>
<path d="M13.3 946.2H17.5V991.6H13.3" fill="none" stroke="#909090" stroke-width="1"/>
<text x="11.6" y="953.8" text-anchor="end" font-size="9.3" font-family="DejaVu Sans, Liberation Sans, sans-serif" fill="#222">30</text>
<text x="11.6" y="990.8" text-anchor="end" font-size="9.3" font-family="DejaVu Sans, Liberation Sans, sans-serif" fill="#222">0</text>
<path d="M13.3 993.8H17.5V1039.6H13.3" fill="none" stroke="#909090" stroke-width="1"/>
<text x="11.6" y="1001.0" text-anchor="end" font-size="9.3" font-family="DejaVu Sans, Liberation Sans, sans-serif" fill="#222">10</text>
<text x="11.6" y="1038.4" text-anchor="end" font-size="9.3" font-family="DejaVu Sans, Liberation Sans, sans-serif" fill="#222">0</text>
<path d="M13.3 1041.3H17.5V1087.2H13.3" fill="none" stroke="#909090" stroke-width="1"/>
<text x="11.6" y="1048.5" text-anchor="end" font-size="9.3" font-family="DejaVu Sans, Liberation Sans, sans-serif" fill="#222">30</text>
<text x="11.6" y="1085.9" text-anchor="end" font-size="9.3" font-family="DejaVu Sans, Liberation Sans, sans-serif" fill="#222">0</text>
<path d="M13.3 1088.9H17.5V1134.7H13.3" fill="none" stroke="#909090" stroke-width="1"/>
<text x="11.6" y="1096.1" text-anchor="end" font-size="9.3" font-family="DejaVu Sans, Liberation Sans, sans-serif" fill="#222">10</text>
<text x="11.6" y="1133.4" text-anchor="end" font-size="9.3" font-family="DejaVu Sans, Liberation Sans, sans-serif" fill="#222">0</text>
<path d="M13.3 1136.4H17.5V1182.4H13.3" fill="none" stroke="#909090" stroke-width="1"/>
<text x="11.6" y="1143.6" text-anchor="end" font-size="9.3" font-family="DejaVu Sans, Liberation Sans, sans-serif" fill="#222">30</text>
<text x="11.6" y="1181.0" text-anchor="end" font-size="9.3" font-family="DejaVu Sans, Liberation Sans, sans-serif" fill="#222">0</text>
<path d="M258.5 753.5L257.4 1186M258.5 753.5H326M326 753.5L325.4 1186" fill="none" stroke="#111" stroke-width="1.05" stroke-dasharray="4.3 4"/>
<rect x="255.8" y="1186.6" width="68.4" height="11" fill="#727272" stroke="#222" stroke-width="1"/>
<text x="242.6" y="1211.4" font-size="12.0" font-family="Liberation Sans, Arial, sans-serif" font-weight="bold" textLength="9.0" lengthAdjust="spacingAndGlyphs" fill="#111" stroke="#111" stroke-width="0.25" >3′</text>
<text x="274.4" y="1211.4" font-size="12.0" font-family="Liberation Sans, Arial, sans-serif" font-weight="bold" textLength="35.2" lengthAdjust="spacingAndGlyphs" fill="#111" stroke="#111" stroke-width="0.25" >HOX-A</text>
<text x="324.4" y="1211.4" font-size="12.0" font-family="Liberation Sans, Arial, sans-serif" font-weight="bold" textLength="9.0" lengthAdjust="spacingAndGlyphs" fill="#111" stroke="#111" stroke-width="0.25" >5′</text>
<text x="627.2" y="794.1" font-size="14.6" font-family="Liberation Sans, Arial, sans-serif" font-weight="bold" textLength="34.5" lengthAdjust="spacingAndGlyphs" fill="#111" stroke="#111" stroke-width="0.25" >ATAC</text>
<text x="627.2" y="844.4" font-size="14.6" font-family="Liberation Sans, Arial, sans-serif" font-weight="bold" textLength="59.6" lengthAdjust="spacingAndGlyphs" fill="#111" stroke="#111" stroke-width="0.25" >H3K27ac</text>
<text x="627.2" y="890.2" font-size="14.6" font-family="Liberation Sans, Arial, sans-serif" font-weight="bold" textLength="72.4" lengthAdjust="spacingAndGlyphs" fill="#111" stroke="#111" stroke-width="0.25" >H3K27me3</text>
<text x="627.2" y="937.9" font-size="14.6" font-family="Liberation Sans, Arial, sans-serif" font-weight="bold" textLength="58.6" lengthAdjust="spacingAndGlyphs" fill="#111" stroke="#111" stroke-width="0.25" >H3K27ac</text>
<text x="627.2" y="983.9" font-size="14.6" font-family="Liberation Sans, Arial, sans-serif" font-weight="bold" textLength="72.4" lengthAdjust="spacingAndGlyphs" fill="#111" stroke="#111" stroke-width="0.25" >H3K27me3</text>
<text x="626.5" y="1034.2" font-size="14.6" font-family="Liberation Sans, Arial, sans-serif" font-weight="bold" textLength="58.9" lengthAdjust="spacingAndGlyphs" fill="#111" stroke="#111" stroke-width="0.25" >H3K27ac</text>
<text x="626.5" y="1080.1" font-size="14.6" font-family="Liberation Sans, Arial, sans-serif" font-weight="bold" textLength="72.0" lengthAdjust="spacingAndGlyphs" fill="#111" stroke="#111" stroke-width="0.25" >H3K27me3</text>
<text x="626.5" y="1125.3" font-size="14.6" font-family="Liberation Sans, Arial, sans-serif" font-weight="bold" textLength="58.4" lengthAdjust="spacingAndGlyphs" fill="#111" stroke="#111" stroke-width="0.25" >H3K27ac</text>
<text x="625.4" y="1171.9" font-size="14.6" font-family="Liberation Sans, Arial, sans-serif" font-weight="bold" textLength="73.1" lengthAdjust="spacingAndGlyphs" fill="#111" stroke="#111" stroke-width="0.25" >H3K27me3</text>
<path d="M713 781.7V892.5M712.4 913.5V995.7M711.6 1009.6V1091.7M711.4 1101.6V1184" stroke="#0a0a0a" stroke-width="1.15" fill="none"/>
<text x="716.4" y="845.2" font-size="14.8" font-family="Liberation Sans, Arial, sans-serif" font-weight="bold" textLength="96.2" lengthAdjust="spacingAndGlyphs" fill="#111" stroke="#111" stroke-width="0.25" >Adult hOLG SC</text>
<text x="744.6" y="945.8" font-size="14.8" font-family="Liberation Sans, Arial, sans-serif" font-weight="bold" textLength="80.3" lengthAdjust="spacingAndGlyphs" fill="#111" stroke="#111" stroke-width="0.25" >PFA-EP HGG</text>
<text x="763.7" y="964.1" font-size="14.8" font-family="Liberation Sans, Arial, sans-serif" font-weight="bold" textLength="41.4" lengthAdjust="spacingAndGlyphs" fill="#111" stroke="#111" stroke-width="0.25" >(E823)</text>
<text x="715.3" y="1041.7" font-size="14.8" font-family="Liberation Sans, Arial, sans-serif" font-weight="bold" textLength="137.5" lengthAdjust="spacingAndGlyphs" fill="#111" stroke="#111" stroke-width="0.25" >H3.3K27M Pons HGG</text>
<text x="752.6" y="1060.0" font-size="14.8" font-family="Liberation Sans, Arial, sans-serif" font-weight="bold" textLength="62.9" lengthAdjust="spacingAndGlyphs" fill="#111" stroke="#111" stroke-width="0.25" >(HSJ-031)</text>
<text x="714.2" y="1134.0" font-size="14.8" font-family="Liberation Sans, Arial, sans-serif" font-weight="bold" textLength="166.6" lengthAdjust="spacingAndGlyphs" fill="#111" stroke="#111" stroke-width="0.25" >H3.3K27M Thalamic HGG</text>
<text x="772.6" y="1152.3" font-size="14.8" font-family="Liberation Sans, Arial, sans-serif" font-weight="bold" textLength="50.7" lengthAdjust="spacingAndGlyphs" fill="#111" stroke="#111" stroke-width="0.25" >(BT245)</text>
</g>
<g id="panel-d">
<path d="M934.2 796L934.2 794.6L935.2 795.1L940.7 795L941.2 794.8L946.7 795.1L949.2 795.1L950.2 794.3L951.2 795.2L954.7 795.2L955.7 794.8L959.7 795.2L961.2 794.6L962.2 795.2L962.7 794.6L963.2 794.3L963.7 794.9L964.7 794.8L965.2 794.4L966.2 794.3L967.2 794.6L968.7 794.3L969.2 794.9L969.7 794.9L970.2 794.4L971.2 794.3L972.2 795.1L972.7 795.2L973.7 794.8L975.2 794.9L975.7 795.2L976.7 795.1L977.2 794.9L978.2 795.2L979.2 795L979.7 795.2L980.7 794.4L981.2 794.9L981.7 795L983.7 794.4L984.7 795.1L986.2 794.9L986.7 795.3L988.7 795.3L989.2 795.1L994.7 795.3L996.2 795.1L997.2 794L998.2 795.1L998.7 795.3L999.2 795.1L1001.7 795.3L1002.7 794.9L1003.2 794.9L1003.7 795.3L1004.7 795.2L1005.2 794.6L1007.2 794.4L1007.7 794.9L1008.7 795L1009.2 794.6L1010.2 794.4L1011.7 794.5L1013.2 795.3L1013.7 795.3L1014.2 794.9L1014.7 795.2L1015.2 795.2L1016.2 794.7L1016.7 794.7L1017.2 795.2L1017.7 795.1L1018.2 794.8L1018.7 795.2L1019.2 795.3L1019.7 795.1L1023.2 795.4L1024.2 795.2L1029.7 795.4L1033.7 795.4L1035.2 795.3L1036.2 795.4L1038.2 794.8L1039.7 795L1040.7 795.4L1041.2 795L1041.7 795.1L1042.2 795.5L1044.7 795.5L1045.7 795L1046.2 795L1046.7 795.5L1048.7 795.5L1049.2 795.2L1054.7 795.5L1055.7 795.4L1061.2 795.5L1066.7 795.5L1068.7 795.5L1069.2 795.1L1069.7 795L1071.2 795.5L1071.7 795.6L1072.7 794.9L1073.2 795.3L1074.7 795.3L1076.2 793.5L1077.2 794.7L1078.2 795L1079.2 795.5L1080.7 795.5L1081.7 795.2L1082.2 795.2L1082.7 795.6L1083.2 795.6L1083.7 795.3L1084.7 795.5L1085.7 795.2L1086.7 795.3L1087.2 795.2L1087.7 794.7L1089.2 795.1L1091.2 794.7L1091.7 795L1092.7 794.9L1093.2 795.3L1095.2 795.6L1096.7 795.2L1097.6 794L1098.7 795.4L1101.7 795.3L1102.2 795.5L1103.2 795.1L1103.7 795.3L1105.2 795L1106.2 795.6L1108.7 795.6L1110.2 795L1111.7 795.5L1112.7 794.8L1113.2 795.5L1113.7 795.5L1114.2 794.9L1115.2 795L1115.7 795.4L1116.7 794.8L1118.2 795.4L1120.7 795.4L1121.2 795.7L1124.2 795.5L1125 794.6L1125.7 795.4L1126.7 795.7L1132.2 795.8L1134.7 795.7L1135.2 795.4L1136.7 795.7L1137.2 795.2L1137.7 795L1139.7 795.5L1140.7 795.2L1141.2 795.5L1141.7 795.4L1142.2 795L1143.7 795.7L1149.2 795.8L1151.2 795.5L1151.7 795.7L1152.7 795.4L1153.2 795.8L1155.2 795.8L1155.7 795.6L1158.7 795.8L1159.7 795.6L1165.2 795.9L1170.7 795.9L1176.2 795.9L1181.7 795.9L1183.2 795.9L1183.7 795.7L1184.7 795.8L1185 795.5L1185 796.8ZM1192 796.8L1192 796L1197.7 796.1L1202 796.1L1202 796.9ZM1205 796.9L1205 795.6L1205.7 795.5L1206.2 795L1206.7 795L1207.7 795.9L1208.7 795.5L1210.2 796L1210.7 795.4L1211.7 792.6L1212.2 785.6L1212.7 776.9L1213.2 767.4L1213.4 763.4L1213.7 769.4L1214.2 778.7L1214.7 787.2L1215.2 792.9L1215.7 794.4L1216.2 795L1218.2 796L1219.2 795.8L1219.7 796L1220.2 796L1221.2 795.2L1222 795.3L1222 796.9ZM1254.7 797.1L1254.7 797L1258 793.6L1258.7 794.4L1259.7 795.4L1261.2 794.3L1262.2 795.6L1263.7 795.3L1264.2 794.5L1264.7 793.3L1265.7 793.9L1266.2 794.6L1267.2 795L1267.7 794.8L1269 793.1L1270.2 794.8L1270.7 795L1271.2 794.7L1271.7 792.5L1272.2 790.1L1272.7 792.5L1273.2 793.9L1273.7 794.1L1274.2 794.9L1274.7 794.5L1275.2 794.5L1275.7 795.2L1276.7 794.9L1277.2 794.4L1277.7 794.8L1278.2 794.8L1279 793.1L1279.7 794.6L1280.2 795.1L1281.2 795L1283.2 795.7L1284.7 795.6L1285.2 795.8L1286.2 795.4L1287.2 794.6L1287.7 794.6L1288.7 795.6L1291.2 796.1L1292.7 796.1L1294.2 795.5L1294.7 795.9L1295.2 796.1L1296.7 795.6L1297.2 796L1297.7 795.8L1298.2 795.2L1299.2 794.7L1299.7 794.2L1300.2 794.5L1300.7 795L1301.2 789.3L1301.7 781.6L1302 776.5L1302.2 779.9L1302.7 787.8L1303.2 794.5L1303.7 794L1305 788.2L1305.7 791.5L1306.2 793.6L1306.7 792.5L1308 787.2L1308.7 790.2L1309.2 788.3L1309.7 779.6L1310 773.9L1310.2 777.8L1310.7 786.7L1311.2 794.2L1311.7 795.7L1312.7 795.7L1313.7 794.9L1314.7 795.2L1315.2 795.1L1315.7 794.2L1316.2 792.3L1316.7 786.6L1317 782.8L1317.2 785.3L1317.7 791.3L1318.2 793.1L1318.7 792.8L1319 792.3L1320.2 794.3L1320.7 794.5L1321.2 792.1L1322.2 786.8L1323.2 792.1L1323.7 793.1L1324.2 793.1L1324.7 792.2L1325 791.3L1326.2 794.9L1327.2 793.4L1327.7 793.7L1328.2 793.6L1328.7 792.2L1329.7 786.2L1331 777.3L1331.7 782.2L1332.2 779.5L1332.7 770.1L1333.2 759.9L1333.5 753.5L1334.2 768.1L1334.7 777.7L1335.2 786.4L1335.7 782.2L1336 779.3L1336.7 785.9L1337.2 790.2L1337.7 794L1338.2 794.9L1341 789.3L1341.2 789.8L1341.7 780.3L1342.2 766.9L1342.7 752L1343.2 766.9L1343.7 780.3L1344.2 791.9L1344.7 793.2L1345.2 785.4L1345.7 776.4L1346.2 785.4L1346.7 793.2L1347.2 794.7L1347.7 794L1348 793.9L1348.2 796.4L1353.7 796.4L1359.2 796.4L1364.7 796.4L1367.7 796.4L1369.2 794.5L1369.7 794.9L1370.2 795.8L1371.7 794.1L1372.7 794.9L1373.7 793.3L1374.2 792.9L1374.7 792.9L1376.2 794.4L1376.7 794.6L1377.2 793.5L1377.7 793.7L1378 793.5L1379.2 794.7L1380.2 794.3L1382.2 788.9L1382.7 777.4L1383.2 764.2L1383.3 761.5L1383.7 772.3L1384.2 784.5L1384.7 793.3L1385.2 794.2L1385.7 794.1L1386.2 793.5L1386.7 794.3L1387.2 794.6L1387.7 794L1388.7 795.4L1389.2 795.7L1389.7 795.6L1390.2 795L1390.7 794.6L1391 794L1391.7 795.3L1392.2 794.6L1392.7 793.1L1393.2 793L1393.7 793.4L1394.2 794.3L1395.2 794.4L1395.7 794.9L1396.7 795L1397.2 794.9L1397.7 795.2L1398.2 793.4L1398.7 787.4L1399.1 781.9L1399.7 789.9L1400.2 794.8L1400.7 795.1L1401.2 795.7L1401.7 795.6L1402.2 795.1L1402.7 795.3L1403.2 795.3L1403.7 794.9L1404.7 795.6L1406.2 795.5L1407.2 794.4L1408 794.2L1408.2 795.8L1408.7 795.8L1410.2 796.5L1411.2 796L1411.7 795.6L1412.7 796.5L1413.2 796.3L1414.2 796.7L1416.2 796.7L1417.2 796.5L1418.7 796.7L1419.2 796.5L1420.2 795.7L1420.7 795.7L1421.2 796.4L1421.7 796.4L1422.2 795.9L1422.7 796.4L1423.2 796.5L1423.7 796L1424.7 796.1L1425 796.4L1425 797.6ZM1428 797.6L1428 796.4L1428.7 796.2L1429.2 796.4L1429.7 796.1L1430.2 795.4L1430.7 796L1431.2 795.6L1432 794.1L1432.7 795.4L1433.2 795.5L1433.7 795.3L1434.7 795.3L1435.2 795.6L1436 794.1L1436.7 795.4L1437.2 795.8L1438.2 794.8L1438.7 795.5L1439.2 795.7L1439.7 795.5L1440 795.7L1440 797.7ZM1444 797.7L1444 796.9L1449.7 796.9L1452 796.9L1452 797.7ZM1464 797.7L1464 796.9L1469.7 797L1470 797L1470 797.8ZM1478 797.8L1478 796.9L1479.2 796.9L1479.7 796.7L1482.7 796.9L1483.2 796.7L1484.7 796.9L1485.2 796.6L1486.7 796.9L1487.2 796.7L1487.7 796.1L1488.7 796.8L1489.2 796.1L1489.7 796.3L1490.2 796.8L1491.7 796.5L1493.7 796.9L1495.7 796.5L1498.7 797L1499.2 796.8L1500 794.9L1500.7 796.6L1501.2 797L1506.7 797L1507.2 796.8L1512.7 797L1513.7 796.4L1514.2 796.6L1516.7 796.1L1517.7 796.8L1519.2 796.6L1521.7 797L1525.2 797L1526.2 796.7L1526.7 794.8L1527.3 791.4L1527.7 793.7L1528.2 796.2L1528.7 796.7L1533.2 796.2L1533.7 794L1534.2 790L1534.7 794.1L1535.2 796.4L1536.7 797.1L1537.7 796.2L1538.2 796.1L1538.7 796.7L1539.2 796.9L1539.7 796.5L1545.2 797.1L1547.2 796.8L1547.7 797.1L1548.7 797.1L1549.2 796.9L1550.2 797.1L1550.7 796.2L1551.3 792.5L1551.7 795L1552.2 796.9L1555.2 797.1L1556.7 797L1558.2 796.1L1558.7 796.7L1559.2 796.8L1559.7 796.4L1560.2 796.9L1560.7 797.1L1561.2 796.4L1561.7 796.2L1562.2 796.4L1562.7 796.1L1564.7 796.1L1565.2 796.4L1565.7 796.4L1566.2 796.2L1566.7 796.9L1567.2 797.2L1570.7 797.1L1571.2 796.9L1572.7 796.9L1573.2 797.2L1577.2 797.2L1578.2 797L1578.7 797.2L1584.2 797.2L1588.7 797.2L1589.2 795.7L1589.7 793.2L1590.2 795.7L1590.7 797.3L1594.7 797.3L1595.2 795.4L1595.7 791.5L1596.1 787.9L1596.7 793.1L1597.2 796.8L1597.7 797L1598.2 796.7L1598.7 797.2L1599.2 797.3L1599.7 797L1600 797.1L1600 798.2ZM1604 798.2L1604 797.4L1609.7 797.4L1612 797.4L1612 798.2ZM1622 798.3L1622 797.5L1626 797.5L1626 798.3ZM1634 798.3L1634 797.5L1639.7 797.5L1640 797.5L1640 798.3ZM1650 798.4L1650 797.4L1652.7 797.4L1653.2 796L1653.8 792.4L1654.2 794.8L1654.7 797.4L1660.2 797.4L1663.2 797.4L1663.7 797L1664.5 794.4L1665.2 796.7L1665.7 797.4L1668 797.4L1668 798.4ZM1675 798.4L1675 797.6L1680.7 797.7L1683 797.7L1683 798.5Z" fill="#0000dc"/>
<path d="M940 843.4L940 842.6L943 842.6L943 843.4ZM951 843.5L951 842.5L956.7 842.5L958 842.5L958 843.5ZM970 843.5L970 842.6L975.7 842.7L980.7 842.7L981.2 842.5L982.2 842.7L983.2 842.3L983.7 842.6L984.7 842.3L985.2 842.6L986.2 842.5L987.2 842L987.7 842.1L988.7 841.9L989.2 842L989.7 842.6L990.2 842.7L991.2 842.4L991.7 842.7L992.7 842.4L994.2 842.6L996 841.4L997.7 842.7L998.7 842.5L999.2 842.2L1000 841.2L1001.2 842.7L1003.2 842.7L1003.7 842L1004.7 842.5L1005.7 842.5L1006.2 842.7L1007.2 841.9L1008.2 842.1L1008.7 842.5L1009.7 842.3L1011.2 842.7L1012 842.7L1012 843.7ZM1021 843.7L1021 842.8L1024.7 842.7L1029.2 842.8L1030.2 842.2L1031.2 842.9L1032.7 842.9L1033.2 842.7L1035.2 842.8L1035.7 842.2L1038.2 842L1039.7 842.6L1040.7 842.4L1041.2 842.1L1042.7 842.9L1043.7 842.9L1044.7 842.3L1045.7 842.3L1047.2 842.9L1048.7 843L1049.7 842.7L1054.7 842.9L1055.7 842.6L1056.7 843L1062.2 843L1064.7 843L1066.2 842.8L1067.2 842.1L1068.7 842.2L1069.2 842.7L1069.7 842.6L1070.2 842.2L1071.2 842.3L1071.7 842.8L1072.7 842.6L1073.2 842.8L1073.7 842.7L1074.2 842.3L1075.2 842.3L1076.2 842.6L1076.7 842.6L1077.2 842.2L1079.2 842.2L1080.2 842.6L1080.7 842.6L1081.2 842.3L1082.2 843.1L1083.7 842.9L1085.2 843.1L1086.2 842.7L1086.7 843.1L1091.2 843.1L1092.7 843L1093.2 842.3L1094.2 842.2L1094.7 842.8L1095.2 843L1096.7 843.1L1097.2 842.7L1098.2 843.1L1100.7 842.6L1101.2 843L1102.2 842.9L1103.7 842.3L1105 842.5L1106.2 843.1L1107.2 842.8L1107.7 843.1L1109.2 843.1L1110.4 841.6L1111.2 842.6L1115.7 843.2L1116.7 843.1L1122.2 843.2L1124 842.1L1125.7 843.3L1128.2 843.3L1128.7 843.1L1129.2 843.3L1129.7 843.2L1130.2 842.7L1130.7 843.2L1131.2 843.2L1131.7 842.5L1134.2 843.3L1135 842.5L1135 844.2ZM1140 844.2L1140 843.2L1145.7 843.2L1151.2 843.3L1156.7 843.3L1162.2 843.3L1167.7 843.3L1173.2 843.3L1175 843.3L1175 844.3ZM1180 844.4L1180 843.5L1180.7 843.5L1181.7 843L1182.7 843.4L1183.2 843.3L1183.7 842.9L1186.2 843.2L1187.2 842.7L1188.7 842.9L1189.2 843.2L1189.7 843.2L1190 842.2L1190.2 842L1191.2 842L1191.7 842.4L1192.7 842L1193.2 842.6L1193.7 842.4L1194.2 841.6L1194.7 842.6L1195.2 842.9L1196.7 842.4L1197.2 841.5L1197.7 841.8L1198.2 842.7L1199 841.9L1199.2 842.2L1201.2 842.9L1201.7 842.8L1202.2 842.5L1202.7 842.7L1203.2 842.5L1203.5 842L1204.2 843.1L1204.7 843.4L1205.7 843.1L1206.2 842.6L1207.7 842.3L1208.7 841.9L1209.2 842.4L1209.7 842.5L1210.2 842.4L1210.7 843.1L1211.2 843.3L1211.7 843.3L1212.2 842L1212.7 839.6L1213.2 837L1213.7 839.6L1214.2 842L1214.7 841.3L1215.5 837.5L1216.2 840.9L1216.7 840.6L1217 839.5L1217.7 841.9L1218.7 841.9L1219.2 842.3L1219.7 842.9L1220 842.9L1220 844.5ZM1222 844.5L1222 843.7L1227.7 843.8L1233.2 843.8L1238.7 843.8L1243 843.8L1243 844.6ZM1243.8 844.6L1243.8 843.1L1245.2 843.1L1246.2 843.7L1247.2 843.6L1250.7 843.7L1251.2 843.6L1253.7 843.8L1254.2 843.3L1255.7 843.6L1256 841.9L1256.2 841.3L1256.7 840.4L1257.2 842.2L1257.7 842.2L1258.2 841.2L1258.7 841.3L1259.2 841.8L1259.7 842.7L1261.2 842.2L1262.2 842.8L1263.7 842L1264.7 840.4L1265.2 840.9L1265.7 840.5L1266.2 839.7L1266.7 840.8L1267.2 841.1L1267.7 840.2L1268.2 841.4L1268.7 842.2L1269.2 840.9L1269.7 840.3L1270.2 840.6L1270.7 841.5L1271.2 841.8L1271.7 841.4L1272.7 840.1L1273.2 841.1L1273.7 841.5L1274.2 841.4L1274.7 841.9L1275.2 841.7L1275.7 840.4L1276.7 841.7L1277.2 841.8L1277.7 841.5L1278.2 840.9L1278.7 842.2L1279.2 842.4L1279.7 841.4L1280.7 842.2L1281.7 842.7L1282.2 842.6L1284 840.8L1284.7 841.5L1286.2 840.2L1286.7 841.3L1287.2 841.8L1287.7 841.6L1289.2 842.6L1290.7 842.7L1291.2 842.5L1291.7 841.3L1292.7 842.8L1294.2 841.3L1295.2 840.9L1295.7 840.9L1296.7 841.5L1297.2 840.9L1297.7 841.6L1298.2 842.4L1299.2 842L1299.7 841.4L1301.2 841.3L1302.2 842.2L1303.2 841L1303.7 840.9L1304.2 840.1L1304.7 838.4L1305.2 840.1L1305.7 841.1L1306.2 841.6L1306.7 841.4L1307.2 840.5L1308 838.4L1309.7 842.7L1311.7 843.3L1312.7 842.4L1314.2 843.6L1315.2 842.7L1315.7 842.5L1316.2 843.1L1316.7 843.5L1318.2 842.2L1320 839.9L1321.7 842.1L1322.2 842.2L1322.7 842.9L1323.2 843L1323.7 842.5L1324.2 842.5L1324.7 842.2L1326 839.9L1327.7 842.8L1328.2 843L1328.7 842.6L1329.2 842.9L1329.7 841.8L1331 836L1331.7 839.2L1332.2 841.4L1332.7 838.1L1333.2 833.2L1333.5 830L1334.2 837.2L1334.7 841.1L1335.2 839.7L1336 836L1336.7 839.3L1337.2 841.4L1337.7 842.8L1339.2 841.8L1339.7 841.8L1340.2 842.4L1340.7 842.2L1342 837L1342.7 839.9L1343.2 839.8L1344.2 840.8L1344.7 841L1345.2 837.2L1345.7 833L1346.2 837.2L1346.7 839.5L1347 837L1347.2 838.7L1347.7 841.7L1348 841.1L1348.2 844L1353.7 844.1L1355.7 844.1L1356 842.5L1356.7 841.7L1357.7 842.3L1358.7 842.4L1359.2 842.3L1359.7 841.5L1361.2 841.3L1361.7 841.6L1362.2 841.3L1363 841.9L1363 845.1ZM1366 845.1L1366 839.9L1366.7 839.9L1367.2 840.9L1367.7 842.3L1368.2 842.4L1368.7 842.1L1369.2 840.7L1369.7 840.2L1370.2 840.6L1371.2 839.5L1371.7 839.3L1372.7 841.4L1373.2 842L1373.7 842L1374.2 841.8L1375.2 841.9L1375.7 841.3L1377 838.1L1378.2 841L1378.7 841.1L1379.2 841.5L1379.7 842.4L1380.2 842.3L1381.2 841.4L1381.7 839.1L1382.2 835.3L1382.7 831.3L1383.2 835.3L1383.7 839.1L1384.2 841.7L1384.7 842.1L1385.2 841.6L1386 839.2L1386.2 839.8L1386.7 840.9L1387.2 840.1L1387.7 841.3L1388.2 842.3L1388.7 842.7L1389.2 841.8L1389.7 842.3L1390.2 843.2L1390.7 842.8L1391.2 842.9L1391.7 843.5L1392.2 843.1L1392.7 842.4L1393.2 843L1394.7 843.4L1395.2 843.2L1397 840.2L1398.2 842.3L1398.7 842.1L1399.2 841.6L1399.7 841.9L1400.2 841.6L1400.7 841L1401.2 838.9L1401.5 837.2L1401.7 838.4L1402.2 839.3L1402.7 841L1403.2 841.7L1403.7 841.2L1404.7 842.1L1405.2 842.1L1405.7 841.3L1406.2 837.3L1406.7 839.3L1407.7 839.3L1408.2 840.2L1408.7 840.6L1409.2 839.3L1410.2 839.3L1410.7 839.6L1411.2 840.3L1411.7 839.3L1412.2 840.1L1412.7 841.3L1414.2 841.5L1414.7 841.7L1416 838.8L1417.2 841.5L1417.7 842.4L1418.2 842.7L1418.7 841.2L1419.2 840.9L1419.7 840.3L1420 839.3L1420.2 840L1421.2 841.7L1422.2 842.8L1423.2 842.8L1423.7 842.4L1424.2 843L1424.7 843.3L1425.2 842.2L1425.7 842.5L1426.2 843.4L1426.7 843L1427.2 842.8L1427.7 843.3L1428.2 843.1L1429.2 842.2L1429.7 841.6L1430.2 840.7L1430.7 842.4L1431.2 840.1L1431.8 836.4L1432.2 838.9L1432.7 841.4L1433.2 842.5L1435 838.4L1435.7 840.1L1436.7 840.3L1437.2 842.3L1437.7 842.7L1438.2 842.5L1438.7 842.8L1439.2 842.8L1440 841.4L1440.2 841.8L1440.7 842.2L1441.7 841.7L1442.2 841.8L1442.7 842.5L1443.2 842.7L1443.7 842.4L1444.2 841.1L1444.7 839.4L1445 839.5L1445.2 843.2L1446.2 843.2L1446.7 843.7L1447.2 844L1448.7 843.7L1449.2 844.2L1450.2 844.5L1451.2 844.2L1451.7 843.8L1452.7 844.4L1453.2 844L1453.7 844.1L1454.2 844.5L1455.7 844.5L1456.7 843.6L1457.2 844.2L1457.7 844L1458 842.1L1458.2 841.7L1459.2 841.9L1459.7 843.1L1461.2 843.6L1462.2 843.5L1462.7 842.2L1463.2 841.7L1463.7 841.9L1464.7 841.7L1465.2 841.2L1465.5 840L1466.2 842.6L1466.7 843.5L1467.2 843.7L1467.7 843.2L1468.7 843.5L1469.7 843.1L1470.2 842.6L1472 843.9L1472 845.5ZM1476 845.5L1476 843.7L1476.7 843.3L1477.2 843.8L1478.2 843.9L1479.2 843.5L1479.7 842.7L1480.7 842.2L1481.2 842.3L1482.2 843L1483 841.1L1483.7 842.9L1484.2 843.1L1484.7 842.9L1486.2 843.5L1487.2 843.2L1487.7 842.5L1488.2 841.4L1488.7 841.1L1490 841.1L1490 845.6ZM1493 845.6L1493 843.7L1493.2 843.9L1493.7 843.7L1494.2 842.8L1494.7 843.6L1495.2 843.7L1495.7 843L1497.2 843.4L1498.2 844.1L1498.7 843.3L1499.2 843.2L1499.7 844.1L1500.7 843.9L1501.2 844.2L1502.2 844.1L1503.2 844.2L1504.2 843.7L1505.2 843.8L1505.7 843.5L1506.2 842.8L1510 843L1510.2 843.3L1510.7 843.3L1511.7 844L1513.2 843.5L1515.7 844.8L1518.2 844.6L1521.2 844.7L1522.2 844.2L1522.7 843.6L1523.2 843.3L1523.7 843.9L1524.7 843.5L1525.7 844.2L1526.2 842.4L1527.1 837.2L1527.7 840.8L1528.2 843.4L1528.7 844.4L1529.7 844.2L1530.2 843.8L1531.2 844.1L1532.7 843.7L1534.2 844.3L1534.7 843.7L1535.2 843.2L1536.2 844.2L1536.7 844.4L1537.2 844.1L1539.7 844.4L1541.2 843.1L1541.7 843.4L1542.2 844.4L1542.7 844.4L1543.2 844.3L1543.7 843.4L1544.7 843.8L1545.2 843.3L1545.7 843.1L1546.2 843.3L1546.7 843.1L1547.2 843.5L1547.7 844.2L1548.7 843.4L1549.2 843.2L1550.2 844.1L1550.7 843.7L1551.2 843.7L1551.7 844.2L1556.7 844.9L1558.2 844.9L1559.2 844.4L1560.7 844.2L1561.2 844.7L1561.7 844.5L1562.7 843.7L1563.2 843.5L1563.7 843.7L1564.2 844.3L1564.7 844.7L1566.2 844.3L1567.2 844.2L1568.2 843.3L1568.7 843.2L1569.2 844.1L1569.7 844.4L1570.7 844.3L1571.2 844L1571.7 843.2L1572.2 843.2L1572.7 843.7L1573.2 843.9L1573.7 843.7L1574.2 843.2L1575.2 844.4L1575.7 844.8L1576.7 844.7L1577.2 844L1577.7 844L1578.2 844.5L1579.2 844.8L1580.7 844.7L1581.2 844.4L1582.7 844.9L1583.2 844.8L1583.7 844.3L1584.7 845L1585 844.1L1585.2 843.8L1585.7 844L1586.2 844.5L1586.7 843.9L1587.2 843.9L1587.7 844.8L1588.2 843.1L1588.7 839.9L1589.3 835.7L1589.7 838.6L1590.2 841.9L1590.7 844.2L1592 841L1592.7 842.8L1593.2 843.8L1593.7 843.6L1594.2 843.1L1594.7 842.1L1595 841L1595.7 843.4L1596.2 843.1L1596.7 843L1597.2 843.4L1597.7 843.3L1598.2 842.9L1599.2 843L1599.7 843.4L1600 843.4L1600.2 844.6L1601.7 844L1602.2 843.6L1602.7 844.4L1603.2 844.7L1603.7 844.5L1604.7 844.7L1605.7 844.5L1606.2 844.7L1606.7 844L1607.2 843.8L1607.7 844.5L1610.2 844.3L1611.2 843.9L1613.2 843.7L1614.2 844.4L1614.7 843.8L1615.2 843.7L1615.7 844.4L1616.7 843.8L1617.2 843.8L1618.2 844.8L1619.2 844.7L1619.7 844.9L1620.7 844.4L1621.2 844.7L1621.7 844.7L1622.2 844.4L1623.7 844.8L1625.2 844.3L1626.2 845L1627.2 844.1L1630.2 844.3L1630.7 844.7L1631.2 844.9L1631.7 844.7L1634.2 845.2L1635.2 844.6L1635.7 844.5L1636.7 845.1L1637.2 844.4L1637.7 844.5L1638.2 845.1L1638.7 844.4L1639.2 844.2L1639.7 844.8L1640.7 845.1L1641.2 844.8L1641.7 844.8L1642.2 845.1L1643.7 845.1L1644.7 844.2L1645.2 844.5L1646.2 844.4L1646.7 844L1647.2 844.1L1647.7 844.7L1648.7 845L1649.2 844.5L1649.7 844.8L1650.2 845.3L1651.2 844.8L1652.7 845.2L1653.2 844.8L1653.7 844.9L1654.2 845.3L1655.2 844.9L1655.7 845L1656.7 844.4L1657.2 844.4L1658.2 845L1659.7 845.3L1662.2 844.6L1662.7 845L1663.2 844.8L1664 843.8L1664.7 844.7L1665.2 844.9L1667.2 844.8L1667.7 844.6L1668.7 845L1669.2 844.8L1670.2 845.3L1674.2 844.6L1675.2 845.1L1675.7 845L1676.7 845.3L1678.2 845.2L1679.2 844.6L1679.7 844.9L1680.7 844.4L1681.2 844.8L1681.7 844.8L1682.2 844.5L1682.7 845L1683.2 845.2L1683.7 845.1L1684.7 845.3L1685.7 845.1L1686.2 845.3L1686.7 844.3L1687.2 844L1690.2 844L1690.7 844.5L1691.2 844.5L1691.7 844L1692.7 844.8L1695.2 845.1L1695.5 844.9L1695.5 846.4Z" fill="#007c0a"/>
<path d="M935.2 890.4L935.2 887.2L935.7 887.5L936.7 887.7L937.2 888.1L937.7 888.1L938.2 887.6L938.7 887.6L939.2 888L939.7 887.5L940.6 885.7L942.2 888.7L942.7 889.5L945.2 889.3L947.2 888.3L947.7 888.2L948.7 888.7L950.7 886.9L951.2 886.9L951.7 887.5L952.2 886.9L953.7 886.7L954.2 887.7L954.7 886.8L955.7 886.6L956.6 883.2L957.7 887.3L958.2 888.3L958.7 888.4L959.2 888.2L960 886.5L960.7 888L961.2 888.8L963.7 888.2L964 888.4L964.2 889.6L965.2 889.5L966.2 889L967.2 889.3L967.7 889L969.2 889.1L973.7 888.8L974 888.3L974.2 888.8L974.7 887.8L975.7 887.6L976.2 887.9L976.7 888L978 885.1L978.7 886.7L979.2 887.6L980.7 888.2L981.2 888.7L981.7 888.5L982.2 887.6L982.7 888.3L983.2 888.5L983.7 888.2L984.7 889L985.2 888.8L986.2 889.3L987.2 888.8L987.7 888.4L988.2 888.6L990 885.6L991.7 888.5L992.2 888.3L992.7 887.5L993.2 882.2L993.7 876.2L994 872.3L994.7 881.1L995.2 878.8L995.5 875.7L996.2 882.8L996.7 876.2L997.2 866.7L997.7 876.2L998.2 884.6L998.7 884.4L999 882.7L999.7 886.5L1000.2 888.9L1000.7 889.6L1001.2 886.5L1001.7 882.4L1002 879.7L1002.7 885.7L1003.2 889.2L1003.7 889.8L1006.2 889.6L1007.2 889.7L1007.7 889.5L1008.2 888.7L1009 884.7L1009.7 888.2L1010.2 889.2L1010.7 889.3L1011.2 889.2L1011.7 888.6L1012 888.6L1012 890.7ZM1020.7 890.8L1020.7 887.2L1021.2 888.2L1021.7 888.3L1022.2 888L1023.7 888.5L1024.7 887L1025.2 887.8L1026.2 888.5L1027.7 888.1L1028.7 888.2L1029.2 887.4L1029.7 887.1L1031.7 887.5L1032.7 886.7L1033.2 886.6L1034.2 888.3L1035 887.3L1035.2 887.6L1035.7 887.7L1036.7 888.7L1037.2 888.3L1037.7 888.3L1038.2 888.8L1039.2 888.9L1039.7 888.8L1040.5 887.3L1041.7 889.4L1042.2 889.4L1043 889L1043 890.9ZM1050.6 890.9L1050.6 889.2L1051.2 889.2L1052.7 888.7L1053.2 888.8L1053.7 888.6L1054.2 887.8L1055.2 888.4L1055.7 889.2L1056.7 888.1L1058.2 889.7L1059.2 889.7L1059.7 889.3L1060.7 889.2L1061.2 889.6L1061.7 889.6L1062.7 888.9L1063.2 888.7L1064.7 889.4L1065.2 888.7L1065.7 888.8L1066.2 889.5L1071.2 889.6L1071.7 889.2L1072.7 889.3L1074 888L1075.2 889.2L1075.7 889.6L1076.7 888.9L1077.7 889.3L1078.2 889.2L1078.7 889.6L1079.2 889.7L1079.7 889.4L1080.5 889.4L1080.5 891ZM1085.9 891L1085.9 888.3L1086.2 887.9L1087.2 888.4L1087.7 887.9L1088.6 884.5L1089.2 886.7L1090.2 885.8L1090.7 886L1091.2 886.4L1091.7 886.5L1092.7 887.7L1093.2 887.4L1093.7 887.5L1094.2 888L1095.2 887.2L1095.7 886.1L1096.5 883.6L1097.7 887.3L1098.2 887.4L1099 885.1L1099.7 887.3L1101.2 887.1L1101.7 887.7L1102.2 888.6L1102.7 888.8L1104 887.1L1105.7 889.4L1106.2 888.5L1107.7 889.6L1109.7 889.5L1110.2 888.5L1111.5 883.6L1112.2 886.4L1112.7 888.1L1113.2 888.9L1113.7 888.4L1115 886.2L1116.7 889L1117.2 889.4L1118.2 889.6L1119.2 889.1L1119.7 889.1L1120.2 888.5L1120.7 888.1L1121.2 888.3L1122 887.2L1123.7 889.5L1124.2 889.7L1124.7 889.5L1125.2 888.7L1125.7 888.9L1126.2 889.5L1126.7 889.3L1128 887.7L1128.2 888L1128.7 886.2L1132.2 886L1132.7 886.9L1133.2 886.3L1133.7 886.6L1134.2 887.4L1134.7 886.3L1135.2 886.1L1135.7 887.5L1136.2 888.1L1136.7 888.3L1137 887.6L1137.2 889.1L1137.7 888.9L1138.7 889.4L1139.2 889.3L1139.7 888.6L1141.7 888.7L1143.7 890L1144.7 889.5L1146.2 890L1147.2 889.8L1148.7 890.4L1150.2 890.4L1151.2 889.8L1152.7 889.7L1153.2 890.2L1153.7 890.2L1155 889.5L1155 891.3ZM1158 891.3L1158 890.3L1163.7 890.4L1169.2 890.4L1174.7 890.4L1180.2 890.4L1185.7 890.5L1191.2 890.5L1196.7 890.5L1202.2 890.5L1207.7 890.5L1209.7 890.6L1210 888.9L1210.2 888.9L1210.7 889.6L1211.2 889.9L1211.7 889.6L1212.2 888.6L1212.5 887.6L1213.2 889.9L1213.7 890.3L1215.2 890.2L1215.7 890.5L1216.2 890.4L1217.2 889.8L1218.2 890.4L1218.7 889.8L1219.2 889.6L1219.7 890.4L1220.7 889.7L1221.2 890.4L1223.2 890.7L1223.7 890.1L1224.2 890.6L1228.2 890.6L1228.7 890.2L1229.2 890.6L1229.7 890.6L1230.2 890.4L1233.2 890.7L1234.2 890.3L1238.2 890.7L1238.7 889.4L1239.5 886.7L1240.2 889.1L1240.7 890.6L1241.7 889.9L1242.7 889.8L1243.2 890.1L1243.7 890.6L1244.7 890.1L1245.2 890.6L1246 890.7L1249 887.7L1250.2 884.2L1251.5 887.8L1252.3 884.1L1254 877L1256 875.9L1256.7 874.4L1258.2 869.7L1259.2 865.9L1260.2 860.1L1260.9 857.2L1262.5 863.9L1264 862.1L1265.7 866.9L1267 872.1L1268.2 868.2L1268.7 867.7L1269.7 867.9L1271 865L1272.2 861.1L1273.2 857.2L1273.7 856.1L1274.1 856.4L1274.7 860.9L1275.2 861.9L1276.2 863.3L1277.2 865.5L1277.7 867.3L1278 868.6L1278.7 868.2L1280 863.4L1281.2 856.9L1281.7 855.1L1282.7 852L1283.7 858.6L1284.5 862.9L1285.2 863.7L1286.5 869.1L1287.7 865.9L1288.7 865.2L1289.2 864.7L1290.2 861.5L1290.8 860.5L1292.5 867.3L1292.7 867.4L1293.2 866.9L1294 864.6L1294.2 865.1L1294.7 867.3L1295.7 872L1296 873.1L1297.2 874.6L1298.3 875.5L1300 880.2L1301.5 882L1302.2 879.2L1303.7 874.4L1304.7 870.3L1306 876L1307.2 878.7L1308.7 883.3L1309.7 885.4L1311 887.2L1313.7 886.8L1315.2 885.6L1316.4 885.6L1317.7 886.9L1319 887.5L1322 886.2L1325 887.2L1328.2 886.5L1332.2 884.7L1334.2 884.5L1335.7 883.5L1336.7 881.9L1337.2 882.6L1338.5 885.8L1341 887.3L1343.7 886.5L1344.7 885.1L1345.7 884.3L1347 887.3L1348.5 889.4L1351 890.3L1351.2 891.2L1351.7 890.7L1352.7 890.9L1353.2 890.5L1353.7 890.7L1354.2 891.2L1355.2 890.4L1356.2 890.6L1356.7 890.9L1358.2 890.5L1358.7 891L1359.2 891.2L1359.7 891.1L1365.2 891.3L1366 891.2L1366 892.2ZM1366.6 892.2L1366.6 889.7L1367.7 890.7L1368.7 890.3L1369.7 890.2L1370.2 890L1373.2 890.8L1374.2 890.5L1375.2 890.6L1376.7 890.2L1377.7 890.8L1379.7 890.7L1380.2 890.4L1380.7 889.8L1382.2 889.4L1382.7 890.2L1383.2 890.5L1383.7 890.4L1384.7 889L1385.2 889.8L1385.7 890L1386 889.9L1386 892.3ZM1390 892.3L1390 891.2L1395.7 891.4L1398.2 891.4L1399.2 891L1402.2 891.5L1407.7 891.4L1412.7 891.5L1415.2 891.4L1416.2 891.4L1417.2 890.8L1417.7 890.7L1420.7 891.5L1421.7 891.1L1422 891.2L1422 892.5ZM1428 892.5L1428 891.1L1431.2 890.7L1431.7 890.4L1432.7 890.6L1433.2 891.1L1434.2 891.4L1435.2 890.9L1436.2 891.5L1441.7 891.4L1443.7 891.2L1446.2 891.7L1447.2 891.2L1447.7 891.2L1449.2 890.2L1450 890.6L1450 892.6ZM1455 892.6L1455 891.2L1456.7 891.7L1457.2 891.3L1458.2 891.7L1463.7 891.7L1465.7 891.7L1467.7 891.3L1468.7 891.7L1470 891.5L1470 892.7ZM1475 892.7L1475 890.5L1475.7 890.2L1476.2 890.9L1476.7 891.3L1477.2 890.7L1478.2 891.6L1479.2 890.4L1479.7 890.1L1480.7 890.9L1481.2 890.9L1481.7 890.6L1482 890.2L1482.2 890.5L1483.2 890.7L1483.7 891.5L1484.2 891.3L1485.2 890.4L1485.7 890.8L1486.2 891.6L1488.7 891.7L1489.2 891.3L1490.2 891.8L1491.2 891.7L1491.7 891.4L1494.2 891.6L1495.2 890.8L1495.7 890.2L1495.9 889.8L1496.7 891.2L1497.7 891.3L1498.2 891.2L1498.7 890.2L1499.2 890.1L1499.7 891.1L1500.7 891.2L1501.7 891.5L1504.7 891.7L1505.2 891L1505.7 890.8L1506.7 891.6L1507.2 891.7L1508.7 891.2L1509.2 891.5L1510.2 891.5L1510.7 891L1511.2 890.8L1513.2 891L1514.2 891.5L1515.2 890.8L1515.7 890.7L1516.2 891.4L1516.7 891.7L1517.7 891.4L1518.2 890.9L1518.7 891.4L1519.2 891.5L1519.7 891.4L1520.7 891.5L1521.2 891L1521.7 890.7L1522.2 890.6L1522.7 891.2L1523 890L1523.7 888.9L1524.7 889.6L1525.2 888.6L1525.7 888.5L1526.2 889.1L1526.7 888.6L1527.2 888L1527.7 887.6L1528.2 887.9L1528.7 888.8L1530 887.4L1530.7 888.2L1531.2 888.1L1531.7 888.5L1532.2 890L1532.7 890.6L1533.2 890.1L1533.7 890.1L1534.2 890.5L1534.7 889.9L1536 887.4L1536.2 887.8L1536.7 887.7L1537.2 887.9L1538.2 888.8L1538.7 887.7L1539.2 887.9L1539.7 889.8L1540.7 889.9L1541.7 890.8L1544.2 891L1544.7 890.5L1546 886L1547.2 890.2L1547.7 888.6L1548.2 889L1548.7 890L1549.2 890.1L1550 888L1551.2 891L1551.7 891.2L1552.7 891L1553.2 890.7L1553.7 890L1554.2 888.7L1554.7 888L1555.7 888L1556 887L1556.2 887.7L1556.7 888.6L1557.2 889.8L1557.7 889.3L1558.2 887.8L1558.7 888.5L1559.2 886.7L1559.8 883.8L1560.2 885.8L1560.7 887.8L1561.2 889.5L1561.7 890L1563.2 890L1564.2 889.8L1564.7 889.9L1565.2 889.7L1566.2 890.3L1567.7 889.6L1568.2 890.4L1568.7 891L1569.2 890.7L1570.2 891L1570.7 890.1L1571.2 889.9L1571.7 890.9L1572.2 890.5L1572.7 889.7L1573.2 889.3L1573.7 889.6L1574.2 890.3L1574.7 890.6L1575.2 890.4L1575.7 889.1L1576.7 888.1L1577.2 887.9L1577.7 888.4L1578.2 890L1578.7 890L1579.2 889.6L1579.7 888.2L1580.2 887.9L1581.2 887.9L1581.7 888.7L1582.2 890.2L1582.7 889.4L1583.2 889.1L1583.7 889.7L1584.2 889.1L1584.7 888.2L1585.2 887.9L1585.7 888.3L1586.2 889.2L1587.2 888.4L1588.7 888.6L1589.2 888.4L1590 887.2L1590.7 887.9L1592.2 887.9L1592.7 888.6L1593.2 890.1L1593.7 890.5L1594.2 890.6L1594.7 889.4L1595.2 888.9L1595.7 890.4L1596.2 890.5L1598 886.7L1599.7 890.4L1600.2 890.1L1600.7 889L1601.2 888.7L1601.7 889L1602.7 890.4L1603.2 890.4L1603.7 889.3L1604.2 888.4L1604.7 888.3L1605.2 889.6L1606 888.2L1606.2 888.4L1606.7 889.5L1607.2 890.3L1610.2 891.2L1610.7 891.1L1611.2 890.7L1611.7 889.3L1612.2 889.5L1613.2 890.8L1613.7 890.6L1614.2 889.5L1614.7 890.2L1615.7 890.8L1616.2 890.3L1616.7 889.4L1617.2 890.1L1617.7 890L1618.7 888.7L1619.2 888.7L1619.7 889.7L1620.2 890.3L1620.7 889.4L1622 886.3L1623.2 889.2L1623.7 888L1624.2 888.6L1624.7 889.7L1625.2 890.3L1625.7 889.7L1626.2 888.1L1626.7 888.1L1627.7 890.2L1628.2 890.4L1628.7 890.4L1629.2 888.9L1630 885.8L1630.7 888.6L1631.2 889.4L1631.7 890.4L1632.7 890.3L1633.2 890L1633.7 890.1L1634.2 890.6L1634.7 890L1636 887.3L1637.7 890.8L1638.2 890.6L1638.7 891L1639.2 891L1639.7 890.2L1640.2 889.8L1640.7 889.7L1641.2 889.3L1642 886.4L1642.7 888.9L1643.2 889L1643.7 890L1644.2 890.8L1644.7 891.2L1645.7 890.8L1646.2 890.4L1646.7 888.2L1647.4 883.4L1648.2 888.8L1648.7 890.8L1649.2 891.2L1649.7 890.2L1651 884.4L1651.7 887.7L1652.2 889.8L1652.7 889.7L1653.2 887L1653.8 882.4L1654.2 885.5L1654.7 889.1L1655.2 889.5L1656.2 884.2L1656.5 882.4L1657.2 886.5L1657.7 889.1L1658.2 888.9L1658.7 884.6L1659.2 879.9L1659.7 884.6L1660.2 888.9L1660.7 889.8L1661.2 888.8L1662 885.5L1663.2 890.3L1664.2 891.6L1664.7 891.9L1665.2 891.4L1666.2 891.4L1666.7 890.1L1667.2 887L1667.7 883.5L1668.2 887L1668.7 890.1L1669.2 890.6L1669.7 890.4L1670.2 890.9L1670.7 890.2L1672 887.5L1673.2 890L1673.7 890.7L1674.2 890.4L1674.7 889.4L1675.2 889.1L1675.7 890.1L1676.7 888.9L1677.2 890L1677.7 890.4L1678.2 890.5L1678.7 890.2L1680 887.5L1681.2 890L1681.7 890.8L1682.2 890.1L1682.7 890.2L1683.2 890.5L1683.7 891.1L1684.2 890.6L1685.9 886.6L1687.7 890.8L1688.2 891.1L1688.7 890.4L1689.2 890.8L1690.2 891.1L1692 887.6L1693.7 891L1694.2 890.8L1695.2 891L1695.5 891.3L1695.5 893.6Z" fill="#ff0000"/>
<path d="M934.2 940.4L934.2 937L934.5 935.4L935.2 938.9L935.7 938.9L936.7 939.4L937.7 938.8L938.2 938.1L938.7 939L939.2 939.3L940.2 939L943.7 939L944.7 938.4L945 938.5L945.2 939.3L948.2 939.4L948.7 939.1L950 939.2L950 940.4ZM953 940.4L953 939.5L958.7 939.5L963.7 939.4L964.7 939.1L965.2 939.5L965.7 939.3L966.2 938.6L967 938.9L967 940.4ZM971 940.4L971 939.4L976.7 939.4L982.2 939.4L987.7 939.4L993.2 939.4L998.7 939.4L1004.2 939.4L1009.7 939.4L1012 939.4L1012 940.4ZM1017 940.4L1017 939.4L1022 939.4L1022 940.4ZM1025 940.4L1025 937.2L1025.2 936.9L1025.7 936.8L1027.2 937.8L1027.7 937.1L1028.2 935.9L1028.7 937.1L1029.2 937.7L1030.7 938L1031.7 939.2L1032.7 939L1033.2 939.2L1035.2 939.1L1037.7 939.3L1038.7 939L1039.7 939.3L1041.2 938.4L1042.2 939.4L1043 939.3L1043 940.4ZM1048 940.4L1048 938L1048.2 937.5L1048.7 936.6L1049.7 936.6L1050.7 937.7L1051.2 938L1051.7 937.8L1052.2 936.9L1052.7 936.6L1053.2 937.8L1053.7 938.1L1054.2 937.9L1055.7 938.1L1056.7 937.1L1057.2 937.8L1058.2 938.3L1058.7 938.1L1059.2 936.9L1059.8 934.4L1060.7 938L1061.2 938.3L1062.2 937.8L1063.2 938.4L1063.7 939L1064.7 938.4L1065.2 938.7L1065.7 938.7L1066.2 938.3L1067.7 939.4L1068.7 939.1L1069.2 939.3L1069.7 939.2L1070.2 938.8L1070.7 939.2L1071.2 939.2L1071.7 938.7L1072.7 939.3L1073.2 939.4L1073.7 939.1L1074.2 938.4L1074.7 939L1075.2 939.2L1077 937.4L1078.7 939.1L1079.2 939.1L1079.7 938.4L1080.2 938.2L1080.7 938.4L1081 938.8L1081 940.4ZM1084 940.4L1084 938.3L1085.2 939L1086.2 938.9L1086.7 939L1087.2 938.8L1087.7 937.9L1088.2 936.4L1088.6 934.9L1089.2 937.2L1089.7 937.5L1090.2 936.9L1090.7 937.5L1091.2 937.8L1091.7 937.6L1092.7 938.1L1095.2 938.5L1096.7 938.2L1097.6 937.6L1098.2 938.2L1099.2 937.9L1099.7 938.4L1100 938.4L1100.2 939.9L1100.7 940.2L1100.7 940.4ZM1103 940.4L1103 937.5L1103.7 938.6L1105.2 938.8L1106.2 937.7L1107.2 938.4L1107.7 938.5L1108.7 937.5L1109.2 938.2L1109.7 934.8L1110.2 930L1110.7 924.6L1111 921.2L1111.7 928.9L1112.2 933.9L1112.7 936.9L1113.2 937L1113.7 936.2L1114.2 935.9L1114.7 935.9L1115.2 936.2L1115.7 934.9L1116.2 931.9L1116.7 934.9L1117.2 937.5L1118 935.4L1118.2 935.9L1121.2 935.9L1122.2 937.4L1122.7 936.8L1123.2 936.7L1123.7 937.6L1124.2 938L1124.7 938L1125.2 936.9L1125.7 937.1L1126.2 938L1126.7 937.4L1127.2 937.3L1127.7 938.1L1129.2 937.3L1129.7 937.8L1130.2 938.6L1132.2 939.3L1133.2 938.9L1134.2 939.2L1136.7 937.8L1137 937.8L1137 940.4ZM1140 940.4L1140 938.8L1140.7 938.6L1141.2 939L1141.7 939L1142.2 938.6L1143.2 938.9L1143.7 938.7L1144.7 939.3L1145.7 938.8L1146.2 938.9L1146.7 939.3L1147.2 939.5L1149.2 939.3L1150.2 939.5L1151.7 938.8L1152.7 939.5L1154.2 939.3L1154.7 938.8L1155 935.9L1155.7 936.6L1156.2 935.9L1158.2 935.9L1158.7 937.3L1159.2 936.5L1159.6 935.4L1160.2 937L1160.7 937.9L1162.2 937.8L1162.7 936.4L1163.2 935.9L1163.7 935.8L1164 934.9L1164.2 935.5L1164.7 936L1166.2 935.9L1166.7 936.6L1167.2 936.8L1167.7 936.1L1168.7 937.8L1169.2 935.8L1169.6 933.4L1170.2 937L1171.2 936.6L1171.7 937.8L1172.2 937.8L1173.2 937.3L1174.2 937.5L1174.7 936.6L1175 935.9L1175.2 936.4L1175.7 936.8L1177.2 937.3L1177.7 937L1178.2 936.1L1180.2 935.9L1180.7 936.5L1181.2 935.9L1184 935.9L1184 940.4ZM1186 940.4L1186 935.9L1186.7 936.2L1187.2 937.1L1187.7 937.3L1188.7 935.9L1189.7 936.2L1190.2 936L1190.7 936.9L1191.2 937.3L1193.2 937.9L1193.7 937.8L1194.2 937.3L1194.8 935.9L1195.7 938L1196.2 937.8L1196.7 936.9L1197.2 938.3L1197.7 938.5L1198.2 937.6L1198.5 936.9L1199.2 938.6L1199.7 937.9L1200 937.7L1200.2 940.4L1200.2 940.4ZM1203 940.4L1203 938.9L1204.7 937.8L1205.2 938.3L1205.7 938.2L1206.2 937.7L1207.2 936L1207.7 936L1208.7 936.8L1209.2 936.5L1209.7 936.8L1210 936.4L1211.2 938L1211.7 931.3L1212.2 923.5L1212.7 914.7L1213 909.2L1213.2 912.9L1213.7 921.8L1214.2 929.8L1214.7 935L1215.2 929.8L1215.5 926.4L1216.2 934L1216.7 938.3L1217.2 938L1218.2 938.2L1219.2 937.6L1219.7 937.7L1221.2 938.4L1222 938.1L1222.2 939.4L1226.7 939.5L1227.7 939.1L1228.7 939.3L1229.2 938.6L1230.2 938.6L1231.2 939.2L1232.7 938.6L1233.2 939L1233.7 938.9L1234.2 938.6L1236.7 939L1238.2 939.3L1239.2 939.2L1239.7 938.9L1241.2 939.5L1241.7 939.5L1242.2 938.9L1242.7 939.4L1246.2 939.5L1247 939.2L1247 940.4ZM1250 940.4L1250 937.9L1250.2 937.4L1250.7 937.4L1251.2 937.7L1251.7 938.5L1252.7 938.9L1253.7 938.6L1254.2 938.7L1254.7 938.3L1255.2 938.3L1255.7 938.8L1256.7 939.1L1257.2 938.4L1257.7 937.4L1258.7 939.3L1260 939.2L1260.2 939.5L1265.7 939.5L1271.2 939.5L1276.7 939.5L1282.2 939.5L1287.7 939.5L1293.2 939.5L1295.7 939.5L1296 936.4L1296.7 937.1L1297.2 938L1297.7 938.1L1298.2 937.8L1298.7 938L1299.2 937.9L1299.7 937.2L1300.7 937.3L1301.2 936.3L1301.7 931.7L1301.9 929.4L1302.2 932.9L1302.7 935.9L1303.2 936.1L1303.7 937.6L1304.5 934.4L1305.2 937.3L1305.7 933L1306.2 925.4L1306.7 933L1307.2 937.3L1307.7 936.9L1308.2 937.3L1308.7 935.8L1309.2 928.6L1309.4 925.4L1309.7 930.1L1310.2 937L1310.7 936.2L1311 935.4L1311.2 935.9L1313.2 935.9L1314.2 938.1L1314.3 938.1L1314.7 933L1315.5 921.7L1317 904.3L1317.7 910.1L1318 913L1320.2 903.1L1320.7 899.9L1321.2 902.5L1321.7 905.5L1322 907.8L1323.5 903.8L1324.2 909.8L1324.5 911.9L1325.2 915.9L1325.7 919.2L1326 921.4L1326.7 925.6L1327.5 929.1L1329 932.5L1329.2 937.3L1329.7 930.5L1330.2 922.6L1330.7 913.9L1331.4 900.7L1331.7 906.5L1332.2 915.7L1332.7 924.3L1333.2 932L1333.7 932.2L1334.5 926.4L1335.2 931.5L1335.7 934.8L1336.2 936L1338.2 935.9L1338.7 937.1L1339.2 937L1339.7 935.9L1340.2 935.9L1340.7 937.1L1341.2 937.5L1341.7 934.1L1342 931.9L1342.7 936.9L1343.2 937.3L1343.7 936.8L1344.2 937.3L1344.7 936.5L1345 935.4L1345.2 936.1L1345.7 937L1346 937.1L1346.2 939.3L1346.7 940.4L1346.7 940.4ZM1348 940.4L1348 939.3L1353.7 939.5L1359.2 939.5L1364.7 939.5L1365.7 939.1L1369.7 939.5L1371.2 938.6L1371.7 938.7L1372.7 939.3L1373.2 939.2L1374.2 938.6L1375.7 938.6L1376.7 939.2L1377.7 938.6L1378.2 938.6L1379.2 939.1L1380.7 939L1381.2 939.5L1381.7 939.5L1383.7 938.6L1384.2 938.6L1384.7 938.9L1386.7 939.4L1387.2 939.3L1387.7 938.9L1388.7 939.2L1389.7 939L1390.7 939.2L1391.7 938.6L1392 935.9L1393.2 935.9L1393.7 936.3L1394.2 937.4L1394.7 937.9L1395.2 938L1395.7 937.7L1397.2 937.9L1397.7 934.2L1398.2 925.5L1398.7 915.6L1399.2 925.5L1399.7 934.2L1400 934.4L1401.2 936.9L1401.7 937.7L1402.2 937L1402.7 938.3L1403.2 938.8L1403.7 938.8L1404.7 937.8L1405.2 938.3L1406.2 938.4L1406.7 938.9L1407.2 939.1L1407.7 939L1408.7 938.2L1409.2 938.9L1410.2 939.2L1411.2 938L1411.7 937.8L1412.7 938.1L1413.2 938.7L1414.7 939.3L1416.7 939.1L1417.2 939.3L1417.7 939L1418.2 938L1418.7 938.7L1419.2 939L1419.7 939.1L1420.2 938.8L1420.7 938.2L1422.2 938.8L1422.7 938.1L1423.2 937.7L1423.7 938.2L1424.7 938.1L1425 937.9L1425 940.4ZM1428 940.4L1428 938.1L1428.7 937.7L1429.2 935.9L1429.7 935.9L1430.2 937.3L1430.7 935.9L1431.2 935.9L1432.2 937.6L1432.7 938.1L1433.7 937.2L1434.3 934.9L1434.7 936.4L1435.2 937.7L1435.7 937.8L1436.7 938.6L1438.2 939L1438.7 938.8L1439.2 938.9L1439.7 939.2L1442 938L1442.2 939.2L1444.7 938.9L1445.2 939.4L1446.2 939.4L1447.2 938.2L1447.7 938.6L1449.2 939L1450.2 938.7L1451.7 939L1452 938.9L1452 940.4ZM1455 940.4L1455 939.4L1460.7 939.4L1466.2 939.4L1472 939.4L1472 940.4ZM1476 940.4L1476 937.1L1476.2 936.8L1476.7 936.4L1477.2 937.8L1477.7 938.2L1478.7 938.2L1479.7 937.8L1480.7 936.6L1481.2 937.9L1481.7 937.7L1482.2 936.1L1482.7 936.2L1483 935.4L1483.7 936.9L1484.7 935.5L1485.2 937.2L1485.7 937.2L1486.2 936.2L1487.7 938L1490 937.5L1490 940.4ZM1493 940.4L1493 938.4L1493.2 938L1493.7 938.2L1494.2 938.8L1494.7 937.9L1495.2 937.6L1495.7 938.5L1496.2 938.9L1496.7 939.1L1497.2 938.8L1498.2 939.2L1498.7 938.2L1499.7 933.9L1500.7 938.2L1501.2 938.5L1502.2 937.6L1502.7 938.5L1503.2 938.8L1504.7 938.7L1505.2 939.1L1505.7 938.8L1506.2 937.6L1507 937.2L1507 940.4ZM1510 940.4L1510 938.3L1511.2 938.7L1513.2 938.6L1513.7 938.3L1514.2 937.6L1514.7 937.3L1515.7 935.9L1516.2 935.9L1516.6 933.9L1516.7 934.4L1517.2 935.9L1518.7 935.9L1519.2 936.1L1519.7 935.9L1520.2 936.6L1520.7 937L1521.7 936L1522.2 935.9L1522.7 936.4L1523.2 936.6L1523.7 935.9L1524.7 935.9L1525.2 936.3L1525.7 937.2L1526.2 937.2L1527 935.9L1528.2 937.8L1529.2 938.2L1529.7 937.9L1530.2 936.9L1530.7 937.6L1531.2 938L1533 938.4L1533 940.4ZM1535 940.4L1535 939.3L1535.7 938.8L1537.2 939.3L1538.2 938.8L1538.7 939.3L1539.2 939.5L1539.7 939.4L1540.7 938.8L1541.2 939.2L1542.2 939.2L1543 939.5L1543 940.4ZM1546 940.4L1546 938.4L1546.2 938.2L1547.7 938.7L1548.7 938.7L1549.2 939.2L1550.2 939.5L1551.2 938.9L1551.7 938.3L1552.7 939.1L1553.2 939.3L1553.7 939.1L1554.2 938.8L1555.2 939L1555.7 938.6L1556.7 938.9L1557.2 939.3L1558.2 939.3L1559.2 938.2L1559.7 938.3L1560.7 938.9L1562.2 938L1562.7 938.5L1563.2 938.7L1564.7 939L1565.2 938.8L1566.2 939L1567 938.4L1567 940.4ZM1569 940.4L1569 938.5L1569.7 938.6L1571.2 938.1L1572.2 937.2L1572.7 937.1L1573.2 937.7L1574.7 938.2L1575.2 937.8L1575.7 936.2L1576.2 936.2L1576.7 936.9L1577.2 938L1577.7 938L1578.2 937.3L1579.2 937.8L1580 936.9L1580.7 937.7L1581.2 937.3L1581.7 937.5L1582.2 938.2L1582.7 938.1L1583.2 937.8L1583.7 936.8L1584.2 936.7L1585.2 937.2L1586.2 938.2L1586.7 937.2L1587.2 936.9L1587.7 938.1L1588.7 938.2L1589.2 938L1589.7 937.4L1590.2 936.2L1590.7 937.1L1591.2 937.6L1591.7 937.8L1592.2 937.1L1592.7 936L1593.2 936L1593.7 936.7L1594.2 935.9L1594.7 930.7L1595 927.2L1595.2 929.5L1595.7 935L1596.2 935.9L1596.7 935.9L1597.7 937L1598.2 934.9L1598.5 933.4L1599.2 936.7L1599.7 937.6L1602.2 938L1602.7 936.3L1603.2 931.6L1603.6 927.4L1604.2 933.6L1604.7 935.9L1607.2 935.9L1607.7 937.4L1608.2 936.5L1608.5 935.4L1608.7 935.9L1609.7 937.2L1610.2 937.2L1611.2 935.9L1613.2 935.9L1614.2 937L1615.4 931.9L1616.2 935.4L1616.7 937.4L1617.2 937.7L1617.7 937.3L1618.2 937.5L1618.7 938L1619.2 937.9L1619.7 937.2L1620.7 937.9L1621.2 937.7L1621.7 937.3L1622.2 936.6L1622.7 936.9L1623.7 938.7L1624.7 938.4L1625.2 938.5L1626.2 937.9L1627.7 937.6L1628.2 938.2L1628.7 938.6L1629.2 937.8L1629.7 938L1630.2 938.8L1631.7 936.6L1632.2 937.9L1632.7 938.7L1633.2 938.1L1633.7 938.2L1634.2 938.7L1635.2 938.2L1636.2 937.2L1636.5 936.4L1637.2 938.1L1637.7 937.8L1638.2 937.2L1638.7 937.2L1639.2 937.6L1639.7 938.5L1640.7 938L1641.7 937.8L1642.2 937.4L1642.7 938.1L1643.2 938.4L1644.7 938.6L1645.2 938.9L1645.7 938.6L1646.2 937.9L1647.2 938.5L1648.7 938.4L1650.2 939.1L1651.2 939.2L1651.7 938.6L1652.2 932.8L1652.7 925.8L1653.2 918L1653.7 925.8L1654.2 932.8L1654.7 934.2L1655 933.4L1657.2 938.4L1657.7 938.8L1658.2 938.3L1660.7 938.8L1661.7 939L1662.2 938.9L1662.7 938.4L1663.2 938.1L1663.7 937.2L1664.5 933.4L1665.2 936.7L1665.7 938.7L1666.2 938.8L1667.2 937.5L1667.7 937.4L1668.2 937.5L1668.7 937.4L1669.2 935.9L1670.2 936.1L1671.7 937.9L1672.2 938L1674 934.4L1674.7 935.9L1675.2 936L1675.7 936.5L1676.2 933.5L1676.9 928.9L1677.7 934.2L1678.2 936.5L1678.7 935.9L1679.2 935.9L1680 934.4L1681.2 936.9L1682.2 936L1682.7 935.9L1683.2 936.3L1683.7 937.6L1684.2 936.9L1684.7 935.9L1685.2 936.1L1686.2 935.9L1686.7 937.3L1687.2 937.5L1687.7 936L1688.2 936.1L1689.7 937.8L1690.2 938.1L1691.2 937.8L1691.7 937.8L1692.7 937L1693 937L1693 940.4Z" fill="#007c0a"/>
<path d="M934.2 988.4L934.2 987.2L934.7 986.5L935.2 986.3L935.7 987L936.7 987.2L937.7 986.7L938.2 986.7L939.2 986L940.7 985.9L941.2 985.5L942.2 985.5L943.2 986.5L943.7 986.7L944.7 985.6L945.2 985.9L946.2 985.7L947.7 987.1L950.7 987L952.2 987.4L952.7 987.3L953.7 986.8L955.2 986.6L955.7 986.8L956.7 987.5L958.2 987L958.7 987.4L959.2 987.4L959.7 986.8L960.7 987.2L961.2 986.7L961.7 986.9L962.2 987.4L963.7 987L964.7 987.5L965.7 986.9L966.2 987.1L967.2 986.8L967.7 986.2L969.2 986.8L969.7 986.6L970.2 986.2L971.2 986.5L971.7 987.1L972.7 986.6L974.2 987.4L975.2 986.9L975.7 987.3L978.2 986.9L978.7 986.1L979.2 985.8L979.7 986.4L980.7 986.9L982.2 986.5L982.7 987.2L983.2 987.3L983.7 986.8L984.7 987.4L985.7 987.1L987.2 987.3L987.7 987.2L988.2 987.5L991.2 987.4L992.7 986.6L993.7 985.8L994.2 985.7L994.7 986.2L995.2 986.4L995.7 986.2L997.2 986.4L997.7 986.1L998.2 985.5L999.2 986.8L1000.2 987.2L1003.2 987.4L1003.7 987L1004.7 987.3L1005.2 987.2L1006.2 986.1L1007.2 986.7L1008.7 987L1009.2 986.5L1009.7 986.5L1011.2 987.3L1012.7 987.1L1013.7 987.3L1014.7 987.1L1015.7 987.5L1017.2 987.1L1018.7 987.4L1019.2 987.3L1019.7 986.6L1020.7 987.1L1022.2 986.1L1022.7 986.5L1023.2 986.7L1023.7 986.5L1024.2 985.8L1024.7 985.5L1026.7 985.5L1027.2 985.8L1028.7 985.5L1029.2 986.3L1029.7 986.5L1030.2 986.2L1031.2 986.4L1031.7 986L1032.7 986.9L1033.2 986.8L1034.7 987.3L1035.2 987.2L1035.7 986.5L1036.7 987.4L1037.7 986.9L1038.2 986.5L1038.7 987.2L1039.2 987.3L1039.7 986.9L1040.7 987.1L1041.7 986.8L1043.7 987.1L1044.7 986.1L1046 987.1L1046 988.4ZM1048.5 988.4L1048.5 987L1049.2 986.7L1050.2 987L1050.7 986.7L1051.7 985.5L1053.2 985.5L1054.2 987.1L1055.2 986.5L1055.7 986.4L1056.7 986.9L1058.7 987.4L1059.2 987.3L1059.7 986.8L1060.7 987.5L1062.7 986.6L1063.7 986.6L1064.2 987.1L1064.7 987.3L1065.2 986.8L1065.7 986.8L1066.2 987.2L1068.7 986.6L1070.2 987.1L1071.2 986.6L1071.7 986.9L1072.7 986.9L1074.2 987L1074.7 986.7L1075.2 986.7L1075.7 987.3L1079.2 987.5L1079.7 987.2L1080.7 987.3L1081.2 986.7L1081.7 986.5L1082.2 986.7L1083.2 986.3L1083.7 986.6L1084.7 986.2L1085.2 985.6L1086.7 985.6L1087.7 986.2L1089.2 986.2L1090.2 985.6L1090.7 986.5L1091.2 986.9L1091.7 986.9L1092.2 986.4L1092.7 985.7L1093.2 986L1094.2 985.5L1095.2 986.3L1095.7 986.4L1096.7 985.5L1098.2 986.5L1098.7 986.1L1099.2 985.9L1100.2 986.4L1100.7 986.4L1101.2 986L1101.7 986.2L1102.2 986.8L1103.2 987.1L1103.7 987.4L1106.2 987.3L1107.2 987.4L1107.7 987.1L1108.7 987.1L1109.7 986.8L1110.2 986.9L1111.2 986.8L1112.2 987.2L1112.7 987.2L1113.2 986.6L1113.7 986.5L1114.2 986.9L1114.7 986.5L1115.2 986.5L1115.7 987L1116.7 986.7L1119.2 987L1120.2 986.4L1121.2 985.5L1123.2 985.5L1123.7 986L1124.7 985.5L1125.2 985.8L1126.2 986.8L1127.2 986.4L1132.2 987.2L1134.2 987.2L1134.7 987.5L1137.2 987.5L1137.7 987.3L1138.2 986.9L1139.7 987.4L1140.7 986.7L1142.2 987.5L1144.7 987.3L1145.7 987L1146.2 987L1147.2 987.5L1150.7 987.5L1151.7 986.8L1154.2 987.5L1155.2 987L1155.7 987.1L1156.7 986L1157.2 986.3L1158.2 987.3L1160.7 987.3L1161.2 986.7L1161.7 986.6L1162.2 987L1163.2 986.6L1163.7 985.9L1164.2 985.9L1164.7 986.1L1165.2 986.8L1166.7 987L1169.2 986.5L1169.7 985.8L1170.2 985.5L1170.7 986.2L1171.2 986.6L1171.7 986.3L1172.7 987.3L1176.7 987.2L1177.2 987.5L1178.7 987.4L1181.7 986.7L1182.2 986.3L1183.2 986.7L1183.7 986.7L1184.2 985.8L1184.7 985.5L1185.2 985.7L1190 985.5L1190.2 987.5L1195.7 987.5L1201.2 987.5L1206.7 987.5L1212.2 987.5L1216.7 987.5L1217 985.2L1217.2 985.1L1218.2 986.6L1219.2 985.1L1219.7 985L1220.7 986.3L1223.7 986.4L1225.2 984.9L1225.7 985.6L1226.2 986.8L1227.2 986.3L1227.7 985.7L1228.2 985.7L1228.7 986.1L1229.2 986.9L1229.7 986.8L1230.2 986.3L1230.7 986.1L1231.2 986.1L1231.7 986.5L1232.7 985.7L1233.2 986.4L1233.7 986.5L1234.7 985.8L1235.2 985.8L1235.7 986.3L1236.7 985.3L1237.2 986L1238.2 986.4L1238.7 986.2L1239.2 986.4L1239.7 987L1241.2 986.7L1242.2 987.1L1243.2 986L1243.7 986.2L1244.7 987.1L1245.2 987.1L1245.7 986.7L1246.2 985.7L1247.7 986.7L1248.7 985.6L1249.2 986.2L1252.3 983.8L1252.7 981L1254 970.9L1255.2 965.6L1256.7 960L1257.7 957.4L1260.2 952.9L1260.7 952.2L1262 951.5L1264 953.5L1265.7 950.1L1266.7 946L1267.2 944.8L1268 944.5L1268.2 945.1L1269.7 947.3L1270 947.5L1270.7 950.6L1271.5 954.7L1273 952.9L1273.7 950.6L1274.7 946.2L1275.8 942.9L1276.2 944.8L1277.5 952.3L1278.7 953.1L1279.5 953.1L1280.2 952.3L1281.2 950.7L1283 949.3L1283.7 949.8L1285 949.5L1286.2 948.6L1287 948.5L1287.7 949.6L1289.2 948.8L1289.7 949.5L1290.2 950.4L1290.7 949.9L1291 949L1291.7 948.1L1293 948.5L1294.5 950.4L1295.7 943.8L1296 942.3L1297.3 951.5L1298.2 960.4L1298.6 964L1299.7 955.1L1300 952.8L1301.5 943.3L1303.2 952.2L1304.7 958.9L1306 950.6L1307.5 944.1L1308.7 953.4L1309.7 960.7L1311 971.2L1311.2 970.8L1312.5 966.5L1313.2 963.5L1313.7 961.6L1314.5 957.7L1315.2 955.4L1316.4 950.9L1317.7 953.1L1318.5 954L1319.2 951.6L1320.2 947.1L1320.7 945.5L1322.5 950.4L1324 948.5L1324.2 949.5L1324.7 952.7L1325.2 956.3L1325.7 959.2L1326.2 961.4L1328.2 972.1L1329.5 961.6L1330.7 952.9L1331.4 948.8L1332.2 951.3L1333.2 954.8L1334.2 955.9L1334.7 956.7L1335.5 959.2L1336.2 962.8L1337.2 967.4L1337.5 969L1338.2 971.4L1338.7 972.8L1339.7 974.9L1340 975.6L1341.5 959.2L1342.7 948.4L1343.7 954.7L1344.2 957.2L1344.7 960.1L1346.2 970L1347 974.9L1348.5 981.7L1350 983L1350.2 983L1350.7 980.9L1351.7 980.9L1352.2 981.2L1352.7 982.3L1353.7 983.4L1354.2 983.7L1354.7 985L1355.2 985.4L1355.7 985L1356.2 985.2L1357 981.4L1357.2 982.4L1357.7 984.4L1358.2 981.9L1358.7 982.7L1359.2 982.9L1359.7 982L1360 982.6L1360.2 987.4L1366 987.4L1366 988.4ZM1366.6 988.4L1366.6 982.3L1366.7 982L1367.2 981.5L1367.7 982.9L1368.2 981.2L1368.7 980.1L1369.7 980.1L1370.2 981.7L1370.7 980.6L1371.2 980.7L1371.7 982.8L1372.7 981.6L1373.2 983L1373.7 982.9L1374 981.9L1374.2 982.6L1374.7 983.7L1375.2 983.8L1375.7 983.6L1376.2 984.1L1376.7 984.4L1377.2 983.1L1377.7 982.7L1378.2 983.2L1379.2 983.1L1379.7 982.7L1380 981.9L1380.2 982.3L1380.7 982.2L1381.2 982.7L1382.2 984.9L1382.7 983.8L1383.2 983L1383.7 983.3L1384.2 984.4L1384.7 985L1385.2 984.9L1386.2 985.9L1386.7 985.1L1387.2 983.9L1387.7 983.6L1388 984.2L1388.2 987.4L1392.2 987.5L1392.7 987.3L1396.2 987.5L1398.2 987.3L1399.2 986.6L1400 986.8L1400.2 987.5L1405.7 987.5L1411.2 987.5L1416.7 987.5L1422.2 987.5L1427.7 987.5L1433.2 987.5L1438.7 987.5L1444.2 987.5L1449.7 987.5L1455.2 987.5L1459 987.5L1459 988.4ZM1459.6 988.4L1459.6 983.9L1459.7 984.3L1460.2 984.9L1461.2 985.4L1462.7 985.5L1463.2 985.2L1463.7 983.3L1464.7 984.9L1465.7 984.3L1466.2 983.8L1466.7 982.6L1467 982.4L1467.2 982.6L1467.7 984.4L1468.2 983.6L1468.7 982.4L1469.2 982.5L1470.2 983.9L1470.7 983.7L1471.2 984.1L1471.7 985.3L1472.7 984.6L1473.2 985.1L1474.2 985.6L1474.7 984.8L1475.2 984.6L1475.7 985.3L1476.7 984.6L1477.2 985.5L1478 985.6L1478.2 986.4L1479.2 985.5L1480.7 985.2L1481.2 984.6L1481.7 985.2L1482.2 986.2L1483.2 986L1483.7 986.3L1484.2 986L1484.7 985.4L1485.2 985.2L1485.7 984.4L1487.7 984.3L1488.7 985.6L1489.2 985.9L1490.2 985.9L1490.7 984.9L1491.2 984.9L1491.7 986.2L1492.2 985.7L1492.7 984.6L1493.2 985.1L1493.7 984.9L1494.2 984.2L1494.7 984.9L1495.7 985.5L1496.2 984.7L1496.7 984.2L1498.2 985.4L1498.7 985.9L1499.7 986.2L1500.7 985.8L1501.2 984.8L1501.7 984.7L1502.2 985.5L1504.7 986.4L1506.2 985.7L1506.7 986.6L1507.2 986.7L1507.7 986L1508.7 986.7L1510.2 986.7L1511.7 984.4L1512.7 986.1L1513.7 985.9L1514.2 986.3L1519.7 987L1522.2 986.9L1522.7 986.4L1523.2 986.2L1523.7 986.9L1524.2 986.8L1527 983.4L1529.2 986.2L1529.7 986.4L1532 980.4L1533.7 985L1534.2 986L1534.7 985.2L1535.2 984.8L1536 983.4L1536.2 983.8L1536.7 984.2L1537.2 984.2L1538.2 985.7L1538.7 986.1L1539.2 986.1L1539.7 985.2L1540.7 986.1L1541.2 986.3L1542.2 987L1542.7 986.6L1543.2 986.5L1543.7 986.1L1544.9 984.4L1546.7 986.8L1547.2 986.7L1547.7 985.9L1548.2 985.7L1548.7 985.9L1549.2 986.8L1549.7 987L1552.2 986.9L1554.2 986.1L1555.7 987.1L1558.7 986.5L1559.7 987.2L1560.7 986.7L1561.2 987L1563.2 986.4L1564.7 987L1565.2 986.4L1565.7 986.1L1566.2 986.4L1567.2 986.2L1567.7 985.7L1568.7 986.8L1569.2 986.7L1570.2 987L1571.2 986.2L1572.7 986.2L1573.7 986.1L1574.2 986.3L1574.7 986L1575.2 986.2L1575.7 986.9L1577.2 986.6L1578.2 987.1L1579.2 986.1L1579.7 986.6L1580.7 986.1L1581.2 986.7L1582.2 986.7L1582.7 986.1L1583.2 985.8L1583.7 986.4L1584.2 985.8L1584.7 985L1586.2 986.3L1587.2 985.7L1587.7 985.8L1588.2 984.6L1588.7 984.2L1589.2 985.7L1589.7 986.1L1590.2 986.1L1590.7 985.5L1591.2 985.5L1591.7 986.1L1593.2 986.1L1594.2 985.7L1594.7 984.8L1595.2 984.5L1596.2 984.5L1596.8 980.4L1597.2 983.2L1597.7 986.3L1598.2 985.8L1599.7 985.4L1600.7 985.6L1601.2 986.3L1602.2 986.8L1602.7 986L1603.2 985.5L1604.2 986.6L1604.7 986.8L1605.2 986.2L1605.7 986.4L1606.2 987.1L1607.7 987.3L1610.2 986.5L1612.2 986.8L1612.7 986.7L1613.2 985.6L1613.7 985.5L1614.2 985.9L1614.7 986.8L1615.2 986.9L1615.7 986.3L1616.7 986.7L1617.2 986.3L1617.7 986.1L1618.7 986.7L1619.2 986.8L1619.7 986.5L1620.7 984.8L1621.2 985L1622.2 985.9L1622.7 985.8L1623.7 986.4L1624.7 985.9L1626.2 985.9L1626.7 986.3L1627.2 986.2L1627.7 985.3L1628.2 985.2L1630.2 986.2L1630.7 986.1L1631.7 986.7L1632.2 986.3L1632.7 985.3L1633.2 984.6L1633.7 984.3L1634.2 984.2L1635.7 986L1636.7 984.7L1637.2 985.5L1638.2 986.1L1639.2 985.2L1640 983.9L1640.7 985L1641.7 985.1L1642.7 985.7L1643.2 985.4L1643.7 984.2L1644.7 984.2L1645.7 984.8L1646.2 984.7L1646.7 983.7L1647.4 979.4L1648.2 984.3L1648.7 984.2L1649.2 985.8L1649.7 982L1650.2 977.4L1650.5 974.4L1650.7 976.4L1651.2 980.8L1651.7 977.1L1652.2 969.8L1652.7 962L1653.2 953.6L1653.7 962L1654.2 969.8L1654.7 977.1L1655.2 980.8L1655.7 983L1656.2 983.8L1657 978.4L1657.7 983.2L1658.2 984.6L1658.7 985.3L1659.2 985.7L1659.7 985.5L1660.5 983.4L1661.2 985.2L1661.7 986L1662.7 985.3L1663.2 985.1L1663.7 985.8L1664.2 986L1664.7 985.8L1665.2 984.4L1665.7 984.4L1666.2 985.6L1666.7 986.1L1667.2 986L1667.7 984.9L1668.7 986.6L1670.2 986.4L1670.7 986.1L1671.2 986.1L1671.7 986.4L1672.7 985.5L1673.2 985.7L1674.2 987L1675.2 987.1L1676.2 986.5L1676.7 986.6L1677.2 987L1677.7 987L1678.2 986.7L1678.7 987L1679.2 986.9L1680.7 985.6L1681.2 985.3L1683.7 986.3L1684.2 986.8L1684.7 987.1L1685.7 986.8L1686.2 986.1L1686.7 986.7L1687.2 986.7L1687.7 986L1688.7 986.7L1689.2 986L1689.7 986L1690.2 986.5L1691.2 986.3L1691.7 985.9L1694.7 985.5L1695.2 985.7L1695.5 986L1695.5 988.4Z" fill="#ff0000"/>
<path d="M934.2 1035.6L934.2 1031.8L935.2 1032.7L935.7 1032.7L936.7 1033.3L937.2 1033L939.7 1033.5L940.7 1032.4L941.2 1032.5L942.2 1034.3L943.2 1034.2L944.2 1033.3L944.7 1033.1L945.2 1033.8L945.7 1033.7L946.2 1033.2L946.7 1032.3L947.2 1032L947.7 1032.6L948.7 1032.9L949.2 1033.4L949.7 1032.9L950.2 1031.8L950.7 1031.6L951.7 1032.5L952.7 1031.8L953.2 1031.8L953.7 1032.5L954.2 1033.7L954.7 1034L955.2 1034L955.7 1033.6L956.7 1034.2L957.2 1034.1L957.7 1033.7L958.2 1032.3L958.5 1031.1L959.2 1033.7L959.7 1032.9L960.7 1034.2L961.2 1033.7L961.7 1033.8L962.2 1034.4L963.2 1034.2L963.7 1034.3L964.7 1034L966.2 1034L966.7 1033.3L967.2 1033L967.6 1033.5L967.6 1035.6ZM972 1035.6L972 1034.7L977.7 1034.7L983.2 1034.7L987 1034.7L987 1035.6ZM988.5 1035.6L988.5 1034.2L990.2 1033.7L993.2 1034.4L994.2 1034.1L995.7 1034.5L998 1034.5L998 1035.6ZM1000 1035.6L1000 1034L1000.7 1033.4L1001.2 1033.5L1002.2 1033.1L1003.2 1033.3L1003.7 1033.1L1004.2 1032.7L1004.5 1032.6L1004.5 1035.6ZM1007 1035.6L1007 1033.7L1008.2 1034.3L1008.7 1034.3L1009.2 1034L1010.2 1034.3L1011.5 1033.7L1011.5 1035.6ZM1020.4 1035.6L1020.4 1031.1L1020.7 1031.1L1021.7 1032.7L1023.2 1033.4L1024.7 1033.2L1025.2 1033.9L1026.2 1034.1L1027.2 1031.1L1027.8 1029.1L1028.7 1032.1L1029.2 1033.5L1031.2 1034L1032.7 1033.8L1033.2 1033L1034.2 1033L1035 1031.1L1036.2 1033.8L1036.7 1034.3L1037.2 1034.3L1037.7 1033.8L1038.2 1032.5L1039.7 1033.9L1040.7 1032.4L1041.2 1033.6L1041.7 1033.8L1042.2 1033.5L1043.6 1033.6L1043.6 1035.6ZM1050 1035.6L1050 1031.5L1050.2 1031.1L1051.7 1032.2L1052.2 1031.1L1053.2 1031.1L1053.7 1031.3L1054.2 1032.5L1054.7 1032.6L1055.2 1032.3L1055.7 1031.4L1056.7 1032.7L1057.2 1033.1L1057.7 1033L1058.2 1032.6L1058.7 1033.1L1059.5 1030.1L1060.2 1032.7L1060.7 1032L1061.2 1033.1L1061.7 1033L1062.2 1032.3L1063.7 1031.8L1064.2 1031.1L1065.2 1031.1L1065.7 1032.1L1066.2 1032.8L1066.7 1031.8L1067.2 1031.8L1067.7 1033.1L1068.2 1032.3L1068.7 1031.1L1069 1031.9L1069 1035.6ZM1073 1035.6L1073 1032.3L1073.2 1031.7L1073.7 1031.9L1074.2 1032.9L1075.2 1033L1075.7 1032.4L1076.4 1030.6L1077.7 1033.8L1078.2 1033.3L1078.7 1033.3L1079.7 1034L1080.7 1034L1082.2 1031.8L1083 1033.3L1083 1035.6ZM1083.7 1035.6L1083.7 1035.5L1084.7 1034.1L1085 1032.2L1085.7 1032.2L1087 1029.6L1087.2 1030L1087.7 1026.5L1088.2 1020.1L1088.6 1014.6L1089.2 1022.8L1089.7 1028.9L1090.2 1033.1L1092.2 1033.9L1092.7 1033.9L1093.2 1033.4L1093.7 1033.5L1094.2 1033.8L1094.7 1031.7L1095.5 1027.1L1096.2 1031.2L1096.7 1031.6L1098 1027.1L1099.2 1031.3L1099.7 1032.7L1100.7 1029.6L1101.7 1032.7L1102.2 1033.4L1102.7 1033.9L1103.2 1033.9L1103.7 1033.3L1104.2 1033.1L1104.7 1033.4L1105.2 1034.2L1105.7 1034.2L1106.2 1034L1106.7 1033.1L1108 1028.6L1109.2 1032.8L1109.7 1032.6L1110.2 1029.4L1110.8 1025.1L1111.2 1028L1111.7 1031.4L1112.2 1033L1112.7 1032.6L1113.2 1032.7L1114.2 1031.1L1115.2 1031.8L1115.7 1031.1L1116.5 1028.1L1117.2 1030.8L1117.7 1032L1118.2 1032.6L1119 1030.6L1120.2 1033.6L1121.2 1035.5L1121.5 1033L1121.7 1033.5L1122.2 1034.2L1123.7 1033.1L1124.2 1033.8L1124.7 1034.2L1125.7 1033.5L1127.2 1033.5L1127.7 1033.2L1130.7 1034.3L1131.2 1034L1131.7 1030.8L1132 1028.6L1132.7 1033.4L1133.2 1034.6L1134.2 1034.4L1134.7 1033.9L1135.2 1033.7L1135.7 1034.2L1136.7 1034L1137 1034.2L1137 1035.6ZM1140 1035.6L1140 1034.4L1140.7 1034.7L1141.7 1034.2L1142.7 1034.5L1143.2 1033.5L1144 1031.1L1144.7 1033.3L1145.2 1034.6L1145.7 1034.3L1146 1033.9L1146 1035.6ZM1153.5 1035.6L1153.5 1032.2L1154.2 1033.4L1154.7 1033.8L1155.2 1033.7L1155.7 1032.3L1156.7 1033.6L1158.2 1033.5L1159.2 1032.4L1160.7 1033.2L1161.2 1032.8L1162.2 1030.3L1162.7 1031L1163 1030.6L1163.7 1032.1L1164.2 1032.3L1164.7 1032.1L1165.2 1031.1L1165.7 1031.4L1166.2 1032.4L1166.7 1030.7L1167.2 1030.3L1167.7 1032L1168 1031.6L1168.7 1032.4L1169.2 1032.5L1169.7 1031.6L1170.2 1030.3L1170.7 1030.7L1171.7 1032.8L1172.7 1031.7L1173.2 1033.3L1174 1031.6L1174.7 1033.1L1175.2 1033.6L1175.7 1032.7L1176.7 1034L1177 1033.8L1177 1035.6ZM1181 1035.6L1181 1034.7L1183.2 1034.4L1183.7 1034.6L1185 1034.5L1185 1035.6ZM1187 1035.6L1187 1033.3L1188.2 1033.2L1189.2 1033.5L1190.2 1033L1191.7 1033.1L1192.7 1032.7L1193.2 1033.1L1194.2 1033.3L1195.2 1033L1195.7 1033.5L1197.7 1033.1L1198.2 1032.4L1198.9 1031.1L1199.7 1032.6L1200.2 1032.4L1200.7 1031.7L1201.2 1031.8L1202.2 1033.6L1203.2 1031.9L1203.7 1032.2L1204.2 1033.1L1204.7 1033.7L1205.2 1033.9L1205.7 1033.7L1206.2 1033L1206.7 1033.8L1207.2 1033.9L1208.2 1032.8L1208.7 1032.5L1209.2 1033L1209.7 1032.9L1210.2 1032.4L1210.7 1031.5L1211.2 1028.4L1211.7 1019.5L1212.2 1009.4L1212.6 1000.7L1213.2 1013.5L1213.7 1023.2L1214.2 1030.9L1215.2 1032.8L1215.7 1032.2L1217.2 1031.9L1218.2 1031.1L1219.7 1031.1L1220.7 1032.9L1221.2 1032.1L1221.7 1032.3L1222 1032.8L1222.2 1034.3L1224.7 1034.2L1225.2 1033.7L1226.2 1033.5L1227.7 1034.5L1228.7 1033.9L1230.2 1033.7L1230.7 1034.2L1231.2 1034.3L1231.7 1033.9L1232.7 1033.9L1233.2 1033.3L1233.7 1033.3L1234.2 1033.7L1235.2 1033.6L1235.7 1033.2L1236.7 1033.4L1237.2 1033.9L1239.2 1034.5L1240.7 1034L1241.2 1034.4L1243 1034.4L1243.2 1034.7L1248.7 1034.7L1254.2 1034.7L1259.7 1034.7L1265.2 1034.7L1270.7 1034.7L1276.2 1034.7L1281.7 1034.7L1287.2 1034.7L1292.7 1034.7L1298.2 1034.7L1301.7 1034.7L1302.2 1034.5L1303.7 1034.7L1304.7 1034.4L1305.2 1034.7L1307.7 1034.5L1308.2 1034.3L1308.7 1027.5L1309.2 1019.1L1309.7 1027.5L1310.2 1034.3L1310.7 1034.2L1311.7 1033.5L1313.2 1034.2L1314.2 1034L1314.5 1033.6L1315.2 1023.6L1315.6 1018.1L1316.2 1008.9L1316.6 1002.5L1317.6 1011.1L1317.7 1010.6L1319.2 1005.2L1320 1000.7L1320.2 1001.4L1321.2 1005.9L1322.5 997.1L1323.5 1004.2L1324.2 1004.1L1324.6 1003.8L1325.6 1021.2L1326.7 1027.8L1328 1029.8L1328.2 1033.3L1330.2 1028L1331 1025.6L1331.7 1027.7L1332.2 1021.6L1332.7 1014.1L1333.2 1021.6L1333.7 1028.3L1334.2 1027.2L1334.5 1025.6L1335.2 1029.2L1335.7 1031.6L1336.2 1033.7L1336.7 1034.5L1337.2 1034.2L1339.7 1034.5L1340.2 1034.7L1340.7 1034.2L1341.2 1027.7L1341.7 1019.8L1342.2 1010.9L1342.6 1003.3L1343.2 1014.5L1343.7 1023.1L1344.2 1028.9L1344.5 1027.6L1345.7 1032.4L1346.2 1033.9L1347.7 1034.6L1353.2 1034.6L1358.7 1034.6L1364.2 1034.6L1365 1034.6L1365 1035.6ZM1367 1035.6L1367 1034.2L1368.2 1033.2L1368.7 1033.1L1369.2 1033.4L1369.7 1033.2L1370.2 1032.4L1370.7 1033.2L1371.2 1033.5L1371.7 1033.5L1373.2 1032.7L1373.6 1031.6L1374.2 1033.3L1374.7 1032.9L1375.2 1032.2L1375.7 1032.6L1376.7 1031.9L1377.7 1032L1378.2 1033.3L1379 1031.6L1379.2 1031.9L1379.7 1032.1L1380.2 1031.8L1381.2 1031.8L1381.7 1032.5L1382.2 1030.5L1382.7 1026.6L1383.2 1030.5L1383.7 1031.9L1384 1032.3L1384 1035.6ZM1385 1035.6L1385 1033.5L1385.2 1033.3L1385.7 1033.6L1386.2 1034.2L1387.2 1033.4L1387.7 1033.8L1388.7 1033.8L1389.2 1034.3L1389.7 1034.2L1390.2 1033.5L1391.2 1033.7L1391.7 1033.6L1392.2 1034.2L1392.7 1034.6L1393.2 1034.2L1393.7 1034.1L1394.2 1034.3L1395.2 1034L1395.7 1033.3L1396.7 1033.9L1397 1032.2L1397.2 1028.8L1397.7 1019.1L1398.1 1010.3L1398.2 1012.6L1398.7 1023.2L1399.2 1032.2L1399.7 1033.6L1401.2 1033.8L1401.7 1033.5L1402.2 1032.5L1402.7 1033.1L1403.2 1033L1403.7 1031.7L1404.2 1031.7L1404.7 1032L1405.2 1032.7L1405.7 1032.4L1406.2 1031.4L1407.7 1033.1L1408.7 1032.2L1409.2 1032.8L1410.2 1033.3L1411.2 1032.8L1412.2 1033.1L1412.7 1033L1413.2 1031.7L1413.7 1031.4L1414.2 1031.9L1414.7 1031.7L1415.2 1032.1L1415.7 1033.1L1416.2 1032.4L1416.7 1031.4L1417.2 1031.4L1417.7 1032.1L1418.2 1033.2L1419.2 1031.4L1420.2 1031.4L1420.7 1032.1L1421.2 1033.3L1421.7 1033L1422.2 1031.5L1422.7 1032.6L1423.2 1033.1L1424.7 1033.2L1426.2 1032.2L1427.2 1033.3L1427.7 1033.5L1428.7 1033.3L1429.2 1033.6L1429.7 1033.2L1430.2 1032.3L1430.7 1032.3L1431.2 1032.7L1431.7 1033.4L1432.2 1033L1432.7 1032.2L1433.2 1031.8L1433.7 1030.9L1434 1029.6L1434.7 1032.5L1435.2 1033.4L1438.2 1033.9L1439.2 1032.1L1439.7 1032.3L1440.7 1033.3L1441.2 1033.2L1442.2 1033.9L1443.2 1033.8L1443.7 1033.1L1444.7 1033.8L1445.2 1032.9L1445.7 1033.2L1446.2 1034.2L1447.2 1033.6L1447.7 1033.5L1448.7 1034.2L1449.7 1034.1L1450.2 1033.8L1451.7 1034L1452.2 1033.5L1452.7 1032.6L1453 1032.4L1453 1035.6ZM1455 1035.6L1455 1032.6L1456.7 1032.9L1457.2 1032.7L1458.2 1034.2L1459.2 1033.1L1459.7 1033.4L1460.2 1034.1L1460.7 1034.5L1462 1034.3L1462 1035.6ZM1463 1035.6L1463 1033.4L1463.7 1033.9L1464.7 1033.1L1465.2 1033.7L1465.7 1033.7L1466.2 1033.6L1467.7 1034.3L1469.2 1034.1L1470.2 1034.6L1471.2 1034.6L1473.7 1034.1L1474.2 1033.8L1475.2 1033.8L1475.7 1033.3L1476.7 1034L1477.2 1033L1477.7 1032.9L1478.2 1033.6L1478.7 1032.9L1479.2 1032.9L1479.7 1033.8L1480.2 1033.4L1480.7 1032.7L1481.2 1033L1482.2 1034.1L1483.7 1034L1484.7 1033.2L1485.2 1033.1L1486.2 1033.9L1487.2 1034.1L1487.7 1034.5L1488.7 1034.5L1489.5 1034.2L1489.5 1035.6ZM1493.5 1035.6L1493.5 1033.4L1494.2 1034.4L1494.7 1034.1L1495.2 1034.1L1495.7 1034.4L1496.2 1033.9L1496.7 1033L1497.7 1032.4L1498.2 1031.9L1498.7 1031.9L1499.2 1032.3L1500 1028.6L1500.2 1029.6L1500.7 1031.6L1501.2 1031.8L1502.2 1033.5L1502.7 1033.3L1503.2 1032.8L1503.7 1031.5L1504.2 1031.1L1504.7 1031.1L1505.2 1032.2L1505.7 1032.2L1506.2 1031.2L1507.2 1032.6L1508.2 1033.4L1508.7 1033.6L1509.2 1032.6L1509.7 1032.2L1510.2 1032.3L1510.7 1033.5L1511.2 1033.9L1513.7 1033.8L1515.2 1033.2L1515.7 1032.7L1516.7 1033.9L1517.2 1033.2L1517.7 1033L1518.2 1033.2L1518.7 1034L1519.2 1034.3L1520 1034.2L1520.2 1034.4L1520.7 1034.4L1521.2 1033.7L1521.7 1034L1522.2 1034.6L1523.7 1034L1525.2 1034.2L1525.7 1033.6L1526.2 1031.5L1526.8 1028.6L1527.7 1032.8L1528.2 1034.1L1528.7 1033.9L1529.2 1033.9L1529.7 1033.6L1530.2 1032.8L1530.7 1033.9L1531.2 1034.2L1531.7 1034L1532.2 1034.2L1532.7 1034L1534 1031.1L1534.7 1032.7L1535.7 1032.7L1536.7 1033.4L1537.2 1032.8L1537.7 1033L1538.2 1032.3L1538.7 1025.5L1539 1020.8L1539.2 1023.9L1539.7 1031L1540.2 1031.8L1541.7 1031.9L1542.2 1033L1542.7 1032.6L1543.2 1032.6L1543.7 1033.4L1545.2 1033.6L1545.7 1033.1L1546.2 1031.8L1547.2 1032.7L1547.7 1032.6L1548.7 1033.2L1549.2 1032.1L1549.7 1032.1L1550.2 1032.9L1552.2 1033.5L1554.5 1027.6L1556.2 1032.2L1556.7 1032.7L1557.2 1032.3L1557.7 1032.7L1558.2 1033.5L1559.7 1032.6L1560.7 1033.2L1561.2 1032.9L1562.2 1033.9L1563.2 1033.7L1563.7 1033.2L1565.2 1034.1L1567.7 1034.2L1568.7 1033.4L1569 1033.6L1569 1035.6ZM1569.5 1035.6L1569.5 1033.1L1570.2 1032L1571.2 1032.4L1571.7 1033L1572.2 1032L1572.7 1030.3L1573.2 1030.3L1573.7 1030.7L1574.2 1032.2L1574.7 1032.7L1575.2 1032.8L1575.7 1032.1L1576.7 1033.2L1577.2 1032.7L1577.7 1032.6L1578.7 1033L1579.2 1032.8L1579.7 1031.4L1580.7 1033.5L1581.2 1033.6L1581.7 1033.4L1582.2 1032.8L1582.7 1033.5L1583.2 1033L1584 1031.1L1584.7 1032.7L1585.2 1033.3L1586.2 1033.6L1587.2 1032.2L1587.7 1031.7L1588.2 1031.7L1588.7 1032.1L1589.2 1031.5L1589.8 1029.6L1590.7 1032.3L1591.2 1032.2L1592.2 1033.4L1592.7 1033.6L1593.2 1033.1L1594.2 1034.2L1594.7 1031.2L1595.2 1026L1595.5 1022.6L1595.7 1024.9L1596.2 1030.2L1596.7 1034.3L1598.2 1033.9L1599.2 1034.2L1600.2 1034L1600.7 1033.5L1601.2 1033.8L1601.7 1033.6L1602.2 1032.7L1603 1030.6L1604.2 1033.6L1604.7 1033.3L1605.2 1033.6L1605.7 1033.5L1606.2 1033.1L1606.7 1033.6L1607.2 1033.8L1608.2 1033.3L1609 1030.6L1609.7 1032.9L1610.2 1033.8L1612.7 1033.7L1613.7 1032.7L1614.7 1028.1L1615.1 1026.1L1616.2 1031.4L1616.7 1033.5L1617.2 1033.4L1617.7 1032.6L1618.2 1031.4L1618.7 1031.3L1619 1030.6L1619.7 1032.4L1620.2 1032.8L1620.7 1032.5L1621.2 1033.3L1622.2 1033.8L1622.7 1032.9L1623.2 1031.7L1623.7 1031.6L1624.7 1032.8L1625.2 1032.5L1625.7 1031.3L1627 1031.1L1627.2 1033.6L1627.7 1033.9L1629.2 1033.6L1631.2 1034.5L1632.7 1034.3L1633.2 1034L1635.2 1034.6L1636.7 1034.7L1637.2 1034.5L1639.2 1034.6L1639.7 1034.4L1640.2 1034.7L1641.7 1034.7L1643.2 1034L1643.7 1034L1644.2 1033.7L1644.7 1033.6L1647.2 1034.6L1647.7 1034.6L1648 1034.4L1648 1035.6ZM1650 1035.6L1650 1034.7L1655.7 1034.7L1656 1034.7L1656 1035.6ZM1663 1035.6L1663 1034.7L1668.7 1034.7L1669 1030.6L1669.2 1030.3L1669.7 1030.2L1671.7 1031.7L1672.7 1031.2L1673.2 1032.1L1673.7 1032.1L1674.2 1031.7L1674.7 1030.8L1675.2 1030.6L1675.7 1031.8L1677.7 1032.2L1678.7 1032.3L1679.2 1031.6L1680 1030.1L1680.7 1031.5L1681.2 1030.7L1681.7 1031.2L1682.2 1032.3L1682.7 1032.2L1683.2 1032.5L1683.7 1031.4L1684.4 1027.6L1684.7 1029.3L1685.2 1031.7L1685.7 1031.3L1686 1031.4L1686.2 1034.6L1691.7 1034.6L1695.5 1034.6L1695.5 1035.6Z" fill="#007c0a"/>
<path d="M934.2 1083.6L934.2 1082.5L935.2 1082.2L935.7 1082.5L936.7 1081.7L937.7 1082.3L938.2 1082.4L939.2 1082.1L940.7 1082.1L941.7 1082.4L942.2 1082.4L943.2 1081.4L943.7 1081.5L944.7 1082.4L945.7 1082.3L946.2 1081.9L946.7 1082.3L947.2 1082.3L947.7 1081.6L948.7 1081.6L949.2 1081.1L949.7 1081.3L950.2 1081.9L950.7 1082.1L951.2 1082L951.7 1081.4L952.7 1081.8L953.2 1082.1L955.7 1082.2L956.7 1082.5L958.2 1082.4L958.7 1081.9L959.2 1081.8L959.7 1082.2L961.2 1082.2L961.7 1082L962.2 1081.4L962.7 1081.9L963.7 1082L964.7 1081.6L966.2 1081.7L967.7 1080.9L968.7 1081.8L969.2 1081L969.7 1081.1L970.2 1081.7L970.7 1081.5L971.2 1081.7L971.7 1082.2L972.7 1080.9L973.2 1081.8L973.7 1082L974.2 1081.8L974.7 1082.2L975.2 1082.3L975.7 1081.9L976.7 1082.5L977.2 1082L977.7 1082L979.7 1082.5L981.2 1080.9L981.3 1080.6L981.7 1081.4L982.2 1081L982.7 1081.9L983.2 1082.1L983.7 1081.8L984.7 1082L985.7 1081.1L986.2 1080.3L986.7 1081.5L987.2 1081.9L988.7 1080.8L989.7 1080.8L990.2 1080.7L990.7 1081.5L991.2 1081.8L991.7 1081.5L992.7 1082L994 1081.1L995.7 1082.3L996.7 1081.6L997.2 1082L1000.7 1081.9L1001.2 1082.5L1001.7 1082.5L1002.2 1082.2L1003.7 1082L1004.7 1080.6L1005.2 1080.4L1005.7 1080.6L1006.2 1081.2L1007.2 1081.4L1007.7 1081.2L1008.2 1081.5L1008.8 1080.6L1009.7 1081.9L1010.2 1082.4L1011.2 1081.7L1012.7 1082.3L1016.7 1082.1L1017.2 1082.5L1018.2 1082.6L1019.7 1081.9L1020.7 1082.4L1021.2 1082.1L1023.7 1082.7L1024.7 1081.9L1025.2 1082.4L1025.7 1082.3L1026.7 1081.5L1027.2 1081.3L1027.7 1081.8L1029.2 1082.5L1030.2 1082.3L1031.7 1082.4L1032.2 1082.1L1032.7 1081.4L1033.2 1080.5L1033.7 1080.7L1034.2 1081.5L1035.2 1081L1035.7 1081.3L1036.7 1082.1L1037.2 1081.9L1037.7 1081.5L1038.2 1080.8L1038.7 1081.1L1039.2 1081.1L1039.7 1080.7L1040.7 1081.9L1041.7 1081.1L1042.2 1080.5L1042.7 1081.6L1043.2 1082.1L1043.7 1081.8L1044.7 1082.3L1045.5 1082.2L1045.5 1083.6ZM1048.5 1083.6L1048.5 1081.7L1049.2 1081.4L1050.2 1082L1051.2 1081.6L1051.7 1081.9L1052.7 1082.1L1054.2 1080.9L1055.7 1082.3L1056.7 1082.3L1057.2 1082L1059.2 1082.7L1060.7 1082.3L1062.2 1082.7L1063.7 1082.3L1064.2 1082.7L1064.7 1082.7L1065.7 1082.4L1066.2 1082.6L1067.2 1082.4L1067.7 1082L1070.7 1082.7L1073.7 1081.7L1074.2 1081.8L1074.7 1082.4L1075.2 1082.6L1075.7 1082.3L1077.2 1082.6L1077.7 1082.5L1078.2 1082.1L1078.7 1082.5L1079.7 1082.6L1081.2 1081.3L1082.7 1081.2L1083.7 1081.8L1084.7 1080.6L1085.2 1080.9L1087.2 1080.6L1088.2 1081L1088.7 1081L1089.2 1080.7L1090.2 1082.2L1091.2 1082.1L1091.7 1081.5L1092.7 1082.3L1093.2 1082.3L1093.7 1081.9L1094.2 1081L1094.7 1082L1095.2 1082.1L1095.7 1081.4L1096.2 1082L1096.7 1082.4L1097.7 1081.8L1098.2 1081.9L1099.7 1081.2L1101.2 1081.5L1101.7 1081.2L1102.2 1080.7L1103.2 1080.9L1103.7 1081.2L1104.2 1080.6L1104.7 1080.6L1105.2 1081L1105.7 1081L1106.2 1080.6L1107.2 1081.8L1107.7 1082.1L1108.7 1082.1L1109.2 1081.5L1109.7 1081.6L1110.2 1082.1L1110.7 1081.9L1111.2 1081.9L1111.7 1082.4L1112.7 1082.5L1114.2 1082.2L1115.2 1082.3L1115.7 1082L1116.7 1081.9L1117.2 1082.3L1119.2 1081.9L1119.7 1081.7L1121.2 1082.1L1122.2 1081.7L1122.7 1081.9L1123.2 1081.7L1123.7 1081.1L1125.2 1082.2L1125.7 1082L1126.2 1081.2L1126.7 1081.7L1127.7 1082.1L1128.7 1081.1L1129.2 1080.8L1129.7 1081.1L1130.2 1081.7L1131.7 1082.2L1132.7 1082.1L1133.2 1082.4L1135.2 1081.8L1136.2 1081.2L1136.7 1081.1L1137.2 1082L1137.7 1082L1138.2 1081.2L1139.7 1082.7L1140.7 1082.6L1141.7 1082.1L1142.2 1082.1L1142.7 1082.5L1143.2 1082.6L1143.7 1082.3L1144.7 1082.7L1145.2 1082.5L1149.2 1082.7L1150.3 1080.6L1150.7 1081.4L1151.7 1082.2L1152.7 1081.7L1153 1081.9L1153.2 1082.6L1158.7 1082.6L1160 1082.6L1160.2 1082.8L1166 1082.8L1166 1083.6ZM1170 1083.6L1170 1082.8L1175.7 1082.8L1176 1082.8L1176 1083.6ZM1181 1083.6L1181 1082.8L1186.7 1082.8L1190 1082.8L1190 1083.6ZM1194 1083.6L1194 1082.8L1199.7 1082.8L1205.2 1082.8L1210.7 1082.8L1216.2 1082.8L1216.7 1082.8L1217 1080.5L1217.2 1080.3L1217.7 1080.4L1218.2 1081.4L1218.7 1081.4L1219.7 1080.3L1220.2 1080.4L1220.7 1081.5L1222.2 1080.7L1223.7 1080.9L1224.7 1082.1L1225.7 1082.4L1227.2 1081.8L1228.7 1082.5L1230.2 1082.3L1230.7 1082.6L1231.2 1082.6L1231.7 1082.1L1232.7 1082.3L1234.2 1081.9L1235.7 1082.3L1239.2 1081.5L1240.7 1081.9L1241.7 1081.5L1243.2 1081.5L1243.7 1081.1L1244.2 1081.8L1244.7 1082L1248.7 1080.7L1251 1078.7L1254.2 1070.8L1256.7 1065.1L1257 1064.3L1257.7 1060.9L1258.2 1058.9L1258.5 1057.9L1259.2 1057.4L1260.2 1054L1261.5 1057.8L1263.2 1057L1265 1053.9L1265.7 1051.4L1266.7 1048.6L1267.2 1046.8L1268 1043.4L1268.2 1044.4L1269.5 1052.7L1270.7 1054.1L1271.8 1054.2L1272.2 1052.9L1272.7 1052.5L1273.5 1052.3L1274.7 1047.2L1275.6 1044.5L1277 1053.6L1277.2 1053.2L1277.7 1051.5L1278.7 1047.6L1280.3 1043.7L1281.2 1048.2L1282 1052.9L1282.7 1053.7L1283.7 1052L1284.2 1052L1284.5 1052.2L1285.2 1051.9L1286 1049.8L1287.7 1051.2L1288 1051.9L1289.2 1052.1L1290.2 1049.8L1291.7 1047.8L1293 1047.3L1294.5 1052L1295.2 1049.1L1295.7 1046.9L1296.5 1040.6L1296.7 1042.3L1297.2 1047.4L1297.8 1053.8L1299.3 1068.7L1299.7 1062.4L1300.2 1055.1L1300.7 1054.3L1301.4 1051.8L1302.2 1054.8L1303 1057.4L1303.7 1056.6L1304.7 1055.9L1305 1055.5L1305.7 1053.6L1306.2 1052.6L1306.7 1052.1L1307.2 1056.8L1307.8 1061.7L1308.8 1074.2L1310 1077.8L1310.2 1079.8L1310.7 1080.1L1311.2 1080L1312.2 1078.5L1312.7 1078.2L1313.2 1079.3L1313.7 1079.6L1314.2 1079.7L1314.7 1079.9L1315.2 1079.8L1315.7 1078.8L1316.7 1080.2L1317.2 1079.4L1317.7 1078.8L1318.7 1078.5L1319.2 1079L1319.7 1079.1L1320.2 1079.5L1320.7 1078.9L1321.5 1076.6L1322.7 1080L1323.7 1080.3L1324.7 1081L1325.2 1080.8L1325.7 1080.1L1326.7 1077.6L1327.2 1077L1327.7 1077.5L1328.2 1078.7L1328.7 1079.3L1329.2 1077.5L1329.7 1076.6L1330.2 1076.8L1331 1078.3L1331.7 1078.6L1332.2 1078.4L1332.7 1077.8L1333.2 1076.5L1333.7 1077.2L1334.2 1078.8L1334.7 1078.1L1335.2 1078.6L1335.7 1080.5L1336.2 1080.5L1336.7 1080.1L1337.2 1078.6L1337.7 1078.3L1338.2 1079L1338.7 1079.4L1339.7 1080.7L1341.2 1081.1L1341.7 1080.4L1342.2 1078.6L1343.2 1080.1L1344.2 1081L1345.2 1081.1L1345.7 1080.7L1346.2 1079.6L1348 1079.7L1348.2 1082.2L1349.7 1081.9L1350.2 1082L1350.7 1081.5L1351.2 1081.3L1351.7 1081.9L1352.7 1081.5L1353.2 1082.2L1353.7 1082.1L1354.2 1081.4L1355.2 1081.6L1357.7 1082.7L1362.2 1082.7L1363.2 1081.6L1363.7 1081.6L1366.2 1082.6L1367.2 1082.2L1367.7 1081.7L1369.2 1082.5L1369.7 1082.5L1370.2 1082L1371.2 1082.4L1372.7 1081.8L1373.2 1081.3L1373.7 1081.2L1374.2 1081.3L1374.7 1081L1375.2 1081.1L1375.7 1081.8L1376.7 1081.6L1377.2 1082.3L1378.2 1082.4L1378.7 1081.7L1379.2 1081.4L1379.7 1082.2L1380.2 1081.8L1380.7 1081.1L1381.2 1081.2L1382.2 1082.4L1383.2 1082.2L1386.2 1082.6L1388.7 1081.9L1389.7 1082.3L1391.2 1082.4L1392.7 1081.8L1393.2 1081.3L1393.7 1081.3L1394.2 1081.6L1394.7 1081.6L1395.7 1082.6L1396.7 1082.1L1397 1082.3L1397.2 1082.8L1402.7 1082.8L1408.2 1082.8L1413.7 1082.8L1419.2 1082.8L1424.7 1082.8L1430.2 1082.8L1435.7 1082.8L1441.2 1082.8L1443 1082.8L1443 1083.6ZM1445 1083.6L1445 1082.5L1445.7 1082L1447.2 1081.9L1447.7 1082.4L1449.2 1081.9L1450.2 1082.3L1450.7 1082.2L1451.7 1081.8L1452.7 1082L1453.2 1082.4L1454.2 1082.5L1455.2 1082.2L1455.7 1082.4L1458.2 1082.1L1459.2 1081.9L1461.2 1082.7L1462.2 1082.7L1463.7 1081.9L1465.2 1082.7L1467.2 1082.4L1467.7 1082.7L1471.2 1082.4L1471.7 1082.7L1474.2 1082.6L1475.7 1082.6L1476.7 1082.3L1477.2 1082.7L1482.7 1082.6L1483.2 1082.4L1488.2 1082.7L1489 1082.5L1489 1083.6ZM1493.5 1083.6L1493.5 1081.7L1494.2 1081.4L1494.7 1082.2L1495.2 1082.3L1495.7 1081.8L1496.7 1082.4L1498.2 1081.4L1498.7 1082.3L1499.2 1082.4L1499.7 1081.7L1501.2 1081.7L1502.7 1082.5L1504.7 1082.3L1505.2 1081.6L1505.7 1081.7L1506.2 1082.3L1507.2 1082.1L1507.7 1082.5L1513.2 1082.7L1513.7 1082.7L1514.2 1082.3L1515.2 1082.2L1516.7 1081.4L1518.2 1082L1519.2 1081.2L1520.2 1081.3L1520.7 1081.8L1521.7 1081.8L1522.2 1082.1L1522.7 1081.8L1523.2 1082L1523.7 1082.4L1525.2 1082.6L1525.7 1082.4L1526.7 1081.4L1527.2 1081.5L1527.7 1082.3L1529.2 1081.7L1530.2 1082.6L1531.2 1082.5L1531.7 1081.9L1534.2 1082.1L1534.7 1082.5L1536.7 1082.6L1537.2 1082.4L1538.2 1082.7L1539.2 1082.4L1541.2 1082.4L1542.2 1082.1L1542.7 1082.4L1543.2 1082.4L1543.7 1082.1L1544.7 1082.4L1545.2 1081.8L1545.7 1081.9L1546.2 1082.5L1547.2 1082L1547.7 1082.2L1548.7 1081.2L1549.2 1081.4L1550.7 1081.1L1551.2 1081.4L1551.7 1081.2L1552.2 1081.3L1552.7 1082.1L1555.7 1082.2L1556.7 1081.9L1557.2 1082.3L1558.2 1082.1L1558.7 1081.6L1559.2 1081.5L1559.7 1082.1L1560.7 1082.1L1561.2 1081.4L1561.7 1081.4L1562.2 1082L1563.7 1082.3L1564.7 1081.7L1565.2 1082.1L1565.7 1082L1566.2 1081.6L1566.7 1081.6L1567.2 1081.8L1567.7 1082.3L1568.7 1081.7L1570.2 1081.2L1570.7 1082.1L1571.2 1082.5L1573.2 1082.5L1573.7 1082.3L1574.2 1081.6L1575.7 1081.7L1577.2 1082.4L1578.2 1082.5L1579.2 1081.9L1580.7 1081.9L1586.2 1082.3L1587.2 1082.6L1588.7 1082L1590.2 1082.1L1591.2 1082.3L1591.7 1082.1L1594.2 1082.7L1595.2 1082.7L1597.2 1081.1L1597.7 1081.5L1600.7 1082.7L1601.7 1082.5L1602.7 1081.9L1603.2 1081.9L1603.7 1082.2L1604.7 1082.1L1605.2 1082.2L1605.7 1082.1L1606.2 1081.6L1607.2 1081.9L1608.2 1082.5L1612.2 1082.6L1613.7 1082.4L1614.2 1082L1615.2 1082.6L1616.2 1082.6L1616.7 1082.4L1617.2 1082L1617.7 1081.8L1619.7 1082.5L1620.7 1082.5L1621.2 1082.3L1622.2 1082.6L1624.7 1081.6L1625.2 1081.8L1626.2 1081.2L1627.7 1081.2L1628.2 1081.5L1628.7 1082.1L1629.2 1081.3L1629.7 1081.3L1630.2 1081.9L1631.7 1082.5L1632 1082.1L1637.7 1080.7L1641.5 1079.1L1643.5 1076.2L1645.8 1070.1L1647.5 1071.7L1648.2 1069.9L1649 1068.6L1649.2 1068.5L1650 1066.5L1651.5 1070L1652.2 1067.8L1653.2 1065.3L1653.6 1063.1L1654.2 1064.3L1655 1066.8L1656.3 1062.8L1657.4 1064L1658.2 1065.5L1659 1067.6L1659.7 1067.7L1661.6 1065.1L1662.2 1067.7L1663 1071.9L1664.5 1075.3L1666.9 1075.6L1668 1079.9L1669.5 1081.5L1670.2 1081.4L1670.7 1081.7L1671.2 1081.8L1671.7 1081.4L1673.2 1081.4L1674.2 1081.8L1675.2 1081.8L1676.2 1082.2L1676.7 1082.3L1677.2 1081.9L1678.2 1082.5L1681.7 1081.3L1682.7 1081.3L1683.7 1082.2L1686.2 1082.4L1687.2 1082L1688.7 1082.4L1689.2 1082.1L1690.2 1082.7L1691.7 1082.6L1693.2 1081.6L1693.7 1081.8L1694.2 1082.5L1695.2 1082.7L1695.5 1082.5L1695.5 1083.6Z" fill="#ff0000"/>
<path d="M934.2 1130.5L934.2 1121.5L934.7 1124.6L935.2 1127.2L935.7 1126.4L936.7 1125.8L937.2 1125.7L938.2 1126L938.7 1126.5L939.2 1126.5L939.7 1125.7L940.7 1124.9L941.2 1125.5L941.7 1125.6L942.2 1125.3L942.7 1124.2L943.2 1123.8L943.7 1125.3L944.2 1125.4L944.7 1125.2L945.2 1124.4L945.7 1125.4L946.2 1126.9L947.7 1126.7L948.6 1123.5L949.2 1125.7L949.7 1126.9L950.2 1127.5L951.2 1127.4L951.7 1127.6L952.7 1127.3L954.7 1128L955.2 1127.9L955.7 1127.2L956.7 1128.1L957.7 1128L958.2 1127.8L959.7 1128L960.7 1127.5L962.2 1128.5L963.2 1127.9L963.7 1127.3L965.2 1127.8L965.7 1127.8L966.2 1127.6L966.7 1127.9L967.2 1127.9L967.7 1127.3L968.7 1127.3L969.2 1127.5L970.2 1127.1L971.7 1127.9L972.7 1127.9L973.2 1127.4L973.7 1127.4L974.7 1127.9L975.2 1127.9L975.7 1127.3L977.2 1127.8L977.7 1127.4L978.2 1126.5L979.2 1127.7L979.7 1128L980.7 1127.6L981.2 1127.3L981.7 1127.4L982.2 1127.8L983.7 1127.5L984.7 1126.9L985.2 1127.8L985.7 1127.7L986.2 1127L986.7 1125.3L987.2 1122.5L987.7 1125.3L988.2 1127.8L989.2 1128L990.2 1127.5L990.7 1126.6L991.2 1126.1L991.7 1127L993.2 1126.6L993.7 1126L994.2 1124.2L994.7 1125.7L995.2 1126.3L996.7 1126.4L997.2 1125.4L997.4 1124.9L997.4 1130.5ZM999.3 1130.5L999.3 1126.6L999.7 1126.8L1000.2 1126.4L1000.7 1125.6L1001.2 1126.7L1002.7 1126.7L1003.2 1126.5L1003.5 1126.2L1003.5 1130.5ZM1006.7 1130.5L1006.7 1126.1L1007.2 1126.1L1007.7 1125.6L1008.2 1124.7L1008.7 1124.2L1009.2 1124.4L1010.2 1126L1011.7 1124.6L1012.2 1125.7L1012.7 1126.7L1013.2 1126.6L1014.2 1127.4L1014.7 1127.6L1015.2 1127.6L1015.7 1127.1L1016.7 1127.9L1017.2 1127.8L1017.7 1127.4L1018.2 1126.6L1018.7 1127.7L1019.2 1127.8L1019.7 1126.6L1020.2 1126.5L1020.7 1126.9L1021.2 1128L1021.7 1128.1L1023.2 1126.8L1024.2 1127.2L1024.7 1127.1L1025.2 1126.8L1025.7 1127L1026.2 1127.3L1026.7 1126.5L1027.8 1121.5L1028.7 1125.6L1029.2 1126.8L1029.7 1126.2L1030.2 1125.1L1030.7 1125.1L1031.2 1125.5L1031.7 1126.4L1032.2 1126L1032.7 1125.2L1034.7 1124.4L1035.2 1124.6L1035.7 1125.3L1036.2 1123.4L1036.7 1125.3L1037.2 1126.1L1038.2 1125.1L1038.7 1124.1L1039.2 1124.1L1039.7 1125.2L1040.2 1125.8L1040.7 1126L1041.2 1124.7L1041.7 1125.5L1042.2 1127.1L1042.7 1125.9L1043.2 1125.4L1043.7 1126.7L1044.2 1126.1L1044.7 1125L1045.2 1124.1L1045.7 1124.3L1045.7 1130.4ZM1048.5 1130.4L1048.5 1123.7L1048.7 1123.7L1049.7 1125L1050.2 1125.2L1051.2 1124.3L1051.7 1124.5L1052.7 1123.9L1053.2 1124.6L1054.2 1123.7L1055.2 1124.4L1055.7 1123.7L1056.7 1123.7L1057.2 1124.4L1058.2 1126.4L1058.7 1125.8L1059.2 1125.5L1059.7 1125.7L1060.2 1126.7L1060.7 1127.2L1061.7 1126.6L1062.7 1126.7L1063.2 1126.5L1063.7 1125.9L1064.7 1123.9L1065.2 1123.7L1065.7 1124.6L1066.2 1125.7L1066.7 1124.7L1067.2 1124.5L1067.7 1125.6L1068.7 1123.9L1069.2 1124.9L1069.7 1125.1L1070.2 1124.5L1071.7 1126.6L1072.2 1126.4L1072.7 1125.8L1073.2 1125.8L1074.2 1127.4L1075.2 1127.6L1075.7 1127.4L1076.7 1128L1077.2 1127.5L1077.7 1127.7L1078.2 1128.3L1079.2 1127.8L1079.7 1127.4L1080.7 1127.6L1081.2 1126.8L1081.7 1126.3L1082.2 1126.1L1083.7 1127.1L1085 1124.4L1085.7 1125.9L1086.2 1126.4L1086.7 1125.5L1087.2 1125.2L1087.7 1123.4L1088.6 1117.4L1089.2 1121.5L1089.7 1124.7L1090.2 1127.5L1091.2 1126.2L1091.7 1126.4L1092.2 1127.2L1092.7 1127.7L1093.2 1126.8L1093.7 1126.7L1094.2 1127.2L1094.7 1128L1095.2 1128.1L1096.7 1126.5L1097.2 1126.7L1097.7 1126.4L1098.2 1125.9L1098.7 1126.6L1099.2 1127L1103.2 1127L1103.7 1127.2L1106.2 1125.3L1106.7 1126L1107.2 1126.2L1108.7 1125.5L1109.2 1125.8L1109.7 1125.4L1110.2 1124.5L1110.7 1124L1111.2 1122.4L1111.7 1123.7L1116.7 1123.7L1117.2 1124.7L1117.7 1124.8L1118.2 1123.7L1118.7 1126.1L1119.2 1126.8L1119.7 1126.5L1120.2 1127L1120.7 1127.2L1121.7 1126.7L1122.2 1126.1L1122.7 1126.9L1123.2 1127.6L1123.7 1127.8L1124.2 1127L1124.7 1125.8L1125.2 1126.4L1125.7 1126.5L1126.2 1126.4L1127.2 1125.3L1127.7 1125.1L1128.2 1125.9L1128.7 1126.4L1129.7 1124.4L1130.2 1123.7L1130.7 1124.5L1131.2 1124.7L1132.2 1123.7L1132.7 1123.6L1133.7 1125L1134.7 1126.2L1135.2 1126.5L1135.7 1126.3L1136.7 1126.7L1137.2 1125.8L1137.7 1125.6L1138.2 1126.1L1138.7 1125.4L1139.2 1125.2L1139.7 1125.8L1140.7 1124.1L1142.2 1126.3L1143.2 1125.6L1144.2 1124.4L1144.7 1124.2L1145.2 1125.4L1145.7 1125.6L1146.2 1125.3L1147.7 1125.3L1148.7 1124.3L1149.2 1125.5L1149.7 1126.2L1150.2 1126.7L1151.2 1126.5L1151.7 1126.8L1152.7 1125.9L1153.2 1126.6L1153.7 1126.6L1154.2 1126L1154.7 1126.7L1155.2 1127.1L1157.2 1127.4L1157.7 1127.2L1158.2 1126.6L1159.2 1127L1159.7 1126.9L1160.2 1125.9L1160.9 1123.4L1161.7 1126.3L1162.2 1127.7L1162.7 1127.2L1163.2 1127.3L1163.7 1127.9L1164.7 1128.1L1165.2 1127.6L1165.7 1127.6L1166.2 1128L1167.7 1127.9L1168.7 1127L1169.2 1127.4L1169.7 1127L1170.2 1125.9L1170.7 1126.5L1171.2 1126.9L1171.7 1127L1172.2 1126.6L1173.2 1125.1L1174.2 1124.6L1175.7 1126.3L1176.7 1125.3L1177.7 1126.2L1178.2 1126.4L1179.7 1126L1180.7 1126.6L1182.2 1126.6L1182.7 1125.4L1183.2 1123.8L1183.7 1123.6L1184.2 1123.9L1185.2 1125L1185.7 1124.8L1186.2 1124L1187.2 1125.3L1187.7 1125.7L1188.2 1125.3L1188.7 1124.4L1189.2 1123.8L1189.7 1124.1L1190.2 1124.8L1191.2 1123.6L1191.7 1123.7L1192.2 1125.1L1192.7 1126L1194.2 1125L1194.7 1126L1195.2 1126.2L1195.7 1126.1L1196.7 1125.1L1197.7 1125L1198.2 1123.6L1198.5 1122.4L1198.7 1123.2L1199.2 1124.8L1200.7 1125L1201.2 1125.8L1201.7 1125.6L1202.2 1124.8L1202.7 1125.5L1203.2 1125.8L1205.2 1126.2L1205.7 1126.1L1206.2 1125.1L1206.7 1126.2L1207.2 1126.5L1208.7 1125.8L1209.2 1125.9L1210.2 1127.1L1210.7 1126.5L1211.2 1126.2L1211.7 1123.1L1212.2 1112.6L1212.6 1103.2L1212.7 1105.6L1213.2 1117L1213.7 1126.5L1214.2 1126.2L1214.7 1126.6L1215.2 1126.7L1216.7 1125.4L1217.2 1125.7L1218.2 1125.6L1218.7 1124.9L1219.2 1125.1L1219.7 1126.1L1220.7 1125.2L1221.2 1125.7L1221.7 1125.5L1222.2 1124.9L1222.7 1123.8L1223.2 1123.6L1224.2 1124.9L1224.7 1125.4L1225.2 1124.9L1226.2 1125L1226.7 1125.5L1227.2 1125.8L1228.7 1125.7L1229.2 1125.2L1230.2 1123.6L1230.7 1124.4L1231.2 1124.3L1231.7 1123.6L1232.2 1123.6L1232.7 1124.6L1233.2 1125.8L1233.7 1125.7L1234.2 1124.8L1234.7 1125.7L1235.2 1125.9L1235.7 1125.5L1237.2 1126.5L1237.7 1126.4L1238.2 1125.9L1238.7 1126.1L1239.2 1125.9L1240.2 1123.9L1240.7 1123.6L1241.2 1123.6L1241.7 1124.2L1242.2 1125.9L1242.7 1126L1243.2 1125.6L1243.7 1123.9L1244.7 1126L1245.2 1125.2L1245.7 1125.9L1246.2 1127.1L1247.2 1126.6L1248.7 1127.2L1249.2 1127.1L1250 1126.3L1250.2 1127.4L1251.2 1127.6L1251.7 1127.9L1254.2 1127.4L1254.7 1127L1255.2 1127.1L1255.7 1127.9L1256.2 1127.5L1256.7 1126.9L1257.2 1126.8L1258.2 1128.1L1260.7 1128.3L1261.7 1127.9L1262.2 1127.9L1262.7 1128.2L1263.2 1128.3L1263.7 1127.7L1266.2 1128.6L1270.2 1128.3L1271.2 1127.7L1274.2 1128L1274.7 1127.1L1275.2 1126.9L1275.7 1127.9L1276.2 1127.4L1276.7 1126.6L1277.2 1127.4L1277.7 1127.5L1278.7 1126.6L1279.2 1126.7L1279.7 1127.4L1280.7 1127.2L1281.2 1127.9L1281.7 1128L1283.2 1127L1283.7 1126.9L1284.2 1127.5L1284.7 1127.8L1285.7 1127.4L1286.7 1126.4L1287.2 1126.3L1287.7 1127L1289.2 1127L1290.2 1127.7L1291.2 1127.1L1292.7 1127.2L1293.2 1127.6L1294.7 1127.5L1295.2 1127.3L1295.7 1126.6L1296.7 1127.3L1297.2 1126.9L1297.7 1126.7L1298.2 1126.9L1299.7 1126.3L1300.2 1126.2L1300.7 1126.6L1301.2 1127.6L1301.7 1127.9L1302.2 1127.8L1303.2 1128.2L1306.7 1128.2L1307.2 1128L1307.7 1126.9L1308.2 1126.5L1308.7 1126.3L1309.2 1124.3L1309.7 1126.3L1310.2 1127L1310.7 1126.3L1311.2 1126.4L1311.7 1127.5L1312.2 1126.9L1312.7 1126L1313.2 1126.7L1313.7 1126.7L1314.2 1126.2L1314.7 1126.1L1315.2 1126.5L1315.7 1127.3L1316.7 1127.4L1317.7 1127L1318.2 1126.4L1318.7 1126.5L1319.7 1127.8L1320.7 1127.3L1321.2 1127.8L1321.7 1127.9L1322.7 1127.4L1323.2 1127.6L1323.7 1128.3L1324.2 1127.8L1324.7 1127L1326.2 1127.3L1327.2 1126.1L1327.7 1125.8L1328.2 1125.8L1328.7 1126.2L1329.2 1127.1L1329.7 1127.3L1331.2 1126.8L1331.7 1126.1L1332.2 1125.8L1337.7 1125.8L1338.2 1126L1339.7 1125.8L1340.7 1126.8L1341.2 1126.1L1341.7 1125.8L1342.2 1125.8L1342.7 1126.5L1343.2 1126.8L1343.7 1126.1L1344.7 1127.4L1345.2 1127.5L1345.7 1127.2L1346.2 1126L1346.7 1127.2L1347.2 1127.6L1347.7 1127.6L1348 1126.3L1350.2 1126.8L1350.7 1126.8L1351.2 1126.5L1351.7 1125.5L1352.2 1125.3L1352.7 1125.8L1353.2 1126.9L1353.7 1126.7L1354.2 1125.6L1355.2 1127L1355.7 1127.5L1356.7 1127.1L1357.2 1127.3L1357.7 1126.8L1358.2 1125.4L1358.7 1126.5L1359.2 1127.1L1359.7 1127.1L1361.2 1125.6L1361.7 1126.2L1362.2 1127.2L1363.2 1125.7L1363.7 1125.8L1364.2 1126.8L1364.7 1127.5L1366.2 1127.7L1367.2 1127.3L1367.7 1127.4L1370.2 1126.4L1370.7 1126.6L1371.2 1126.5L1371.7 1126.2L1373.2 1126.6L1374.2 1127.9L1375.7 1127.6L1376.2 1127.1L1377.2 1125.3L1377.7 1125.5L1378.2 1126.5L1378.7 1125.9L1379.2 1125L1379.7 1123.6L1380.7 1124.3L1381.2 1123.5L1381.7 1124.5L1382.2 1126L1382.7 1126.1L1383.2 1125.8L1383.7 1124.6L1384.2 1124.1L1384.7 1124.1L1385.2 1123.5L1385.7 1123.7L1386.2 1124.4L1386.7 1125.4L1387.2 1125.6L1387.7 1124.2L1388.2 1123.9L1388.7 1124.4L1389.2 1126.4L1389.7 1126.8L1391.2 1126.7L1392.2 1126.3L1392.7 1126.4L1393.2 1127L1394.2 1127L1394.7 1127.4L1395.2 1127.3L1395.7 1126.3L1396.2 1126L1396.7 1126L1397.2 1125.6L1397.7 1111.7L1398.1 1098.6L1398.2 1102L1398.7 1117.6L1399.2 1123.7L1400.2 1126L1400.7 1126.6L1401.2 1126.1L1401.7 1126.1L1402.7 1126.8L1403.2 1126.6L1403.7 1125.3L1404.2 1125.5L1405.2 1126.4L1405.7 1126.4L1406.2 1126.1L1407.7 1127.1L1408.7 1126.3L1410.2 1127.4L1411.2 1127.3L1412.7 1126L1413.2 1126.5L1413.7 1126.2L1414.2 1125.4L1414.7 1126.2L1415.2 1126.1L1415.7 1125.1L1416.2 1125.8L1416.7 1126.1L1417.2 1124.4L1417.7 1123.7L1418.7 1125L1419.2 1124.7L1419.7 1123.5L1420.2 1123.7L1420.7 1124.7L1421.2 1123.5L1421.7 1123.6L1422.2 1125.2L1422.7 1124.9L1423.2 1124.9L1424.2 1125.6L1424.7 1125.7L1425.7 1125.1L1426.2 1125.1L1427.2 1123.9L1427.7 1124L1428.7 1125.7L1429.2 1125.9L1429.7 1125.8L1430.2 1125L1430.7 1124.8L1431.2 1124.3L1431.7 1123.5L1432.2 1123.6L1432.7 1124.2L1433.2 1125.2L1433.7 1125L1434.2 1123.7L1435.7 1126.5L1436.2 1126.8L1436.7 1126.9L1437.2 1126.3L1437.7 1126.8L1438.2 1127.7L1439.2 1126.9L1439.7 1126.3L1440.7 1127.1L1442.2 1127.2L1443.2 1126.5L1443.7 1125.7L1444.7 1124.9L1445.2 1125L1446.2 1124.7L1446.7 1125.4L1447.2 1125.8L1447.7 1125.8L1448.7 1126.6L1449.2 1126.5L1449.7 1126.1L1450.2 1125L1450.7 1125.9L1451.2 1126.1L1451.7 1125.7L1452.7 1125.9L1453.2 1125.5L1453.7 1124.8L1454.2 1123.8L1454.7 1125.4L1455.2 1125.8L1455.7 1125.3L1456.7 1125.2L1457.2 1123.6L1457.7 1123.5L1458.2 1124L1458.7 1123.5L1459.7 1123.5L1460.7 1125.1L1461.7 1124.3L1462.2 1123.7L1462.7 1125.3L1463.2 1125.7L1463.7 1124.4L1464.2 1124.7L1465.2 1126.3L1465.7 1126.3L1466.2 1125.6L1466.7 1126.9L1467.2 1127.3L1468.7 1126.7L1469.7 1125.1L1470.2 1124.5L1470.7 1126.3L1471.2 1127.2L1471.7 1127.3L1472.7 1126.9L1473.2 1127.7L1473.7 1127.9L1474.2 1127.7L1475.7 1127.6L1476.2 1127L1476.7 1126.1L1477.2 1125.7L1477.7 1126.2L1478.2 1127.1L1479.2 1127L1479.7 1127.2L1480.7 1125.8L1481.2 1125.9L1482.7 1127.5L1483.2 1127.5L1483.7 1126.5L1484.7 1127.6L1485.7 1126.4L1487.2 1125.7L1489.2 1125.5L1490.2 1125.7L1490.7 1126.5L1491.2 1127L1491.7 1127.3L1492.2 1126.9L1492.7 1126L1493.7 1126.2L1494.7 1126.7L1495.2 1126.4L1495.7 1125.1L1496.2 1125.4L1497.2 1126.5L1497.7 1126.4L1498.2 1125.8L1498.7 1124.7L1499.2 1124.1L1499.7 1124.2L1500.2 1125.9L1500.7 1126.8L1502.2 1124.8L1502.7 1125.6L1503.2 1126L1504.7 1125.2L1506.2 1125.6L1506.7 1126.1L1507.2 1126.1L1507.7 1125.7L1508.7 1126.1L1509.2 1125.8L1510.2 1126.1L1510.7 1126.1L1511.2 1125.8L1511.7 1125.1L1512.7 1125.7L1513.2 1124.6L1513.7 1124.3L1514.2 1124.9L1514.7 1124L1515.2 1124.4L1515.7 1126.2L1516.2 1126.3L1517.2 1125.7L1517.7 1126.2L1518.2 1127.1L1519.2 1126.5L1519.7 1125.5L1520.7 1126.9L1521.7 1126.3L1522.2 1125.5L1522.7 1126.3L1523.2 1126.5L1524.2 1125.6L1524.7 1124.9L1525.2 1123.7L1525.7 1123.8L1526.2 1124.7L1526.7 1123.7L1527.2 1123.9L1527.5 1123.2L1527.7 1123.9L1528.2 1124.8L1528.7 1123.5L1529.7 1125.5L1530.2 1126.2L1530.7 1125.6L1531.2 1125.3L1531.7 1125.8L1532.7 1124.8L1533.2 1125.2L1533.7 1124.9L1534.7 1123.5L1535.2 1123.6L1536.2 1125.4L1536.7 1125.9L1537.2 1126L1537.7 1125.3L1538.2 1123.4L1539.2 1124.2L1539.7 1123.8L1540 1123.7L1540.7 1125.3L1541.2 1125.9L1542.7 1126.5L1543.2 1126.3L1543.7 1125.5L1544.7 1127.1L1545.7 1126.7L1546.2 1126.3L1546.7 1126.6L1547.2 1126.4L1547.7 1125.4L1548.7 1126.7L1549.2 1126.1L1549.7 1126.5L1550.2 1127.3L1550.7 1122.5L1551.2 1110.3L1551.3 1107.6L1551.7 1117.9L1552.2 1124.2L1553 1121.2L1554.2 1125.6L1554.7 1127.2L1556.7 1126.4L1557.2 1126.9L1557.7 1126.7L1558.2 1125.8L1558.7 1127.1L1559.2 1127.5L1559.7 1127.3L1560.7 1127.7L1563.2 1127.6L1563.7 1127.2L1564.7 1127.2L1565.2 1127L1565.7 1126.5L1566.2 1125.7L1566.7 1125.2L1567.2 1125.4L1567.7 1126.1L1568.7 1126.3L1569.7 1125.8L1570.2 1125.7L1570.7 1124.7L1571.2 1124.4L1571.7 1125.6L1572.2 1124.4L1572.9 1121.2L1573.2 1122.6L1573.7 1124.1L1574.2 1125L1574.7 1125.1L1575.2 1124.9L1575.7 1123.9L1576.2 1123.4L1576.7 1123.4L1577.2 1124.2L1577.7 1124.7L1579.7 1124.9L1580.7 1125.3L1582.2 1123.6L1582.7 1124.9L1583.2 1125.5L1583.7 1125.5L1584.7 1123.9L1585.2 1124.2L1586.2 1123.4L1586.7 1124.4L1587.2 1124.3L1587.7 1123.4L1588.2 1123.4L1588.7 1123.6L1589.2 1123.4L1589.8 1119.2L1590.2 1122.2L1590.7 1125.2L1591.2 1125.4L1591.7 1123.7L1592.7 1125.8L1593.7 1125.7L1594.7 1125.9L1595.2 1121L1595.5 1117.7L1595.7 1119.9L1596.2 1125L1597.2 1123.4L1597.7 1123.4L1598.7 1125L1599.2 1125L1599.7 1123.7L1600 1123.4L1600.2 1124.9L1600.7 1124.9L1601.2 1126.4L1601.7 1126.4L1602.2 1125.4L1602.7 1127.1L1603.2 1127.5L1603.7 1126.7L1604.7 1127.7L1607.2 1128.4L1608.7 1128.1L1609.2 1128.5L1610.7 1127.8L1611.2 1127.8L1611.7 1128.2L1613.2 1127.3L1614.2 1126.1L1614.7 1126.9L1615.2 1126.8L1615.7 1125.6L1616.7 1126.7L1617.2 1125.4L1617.7 1125.1L1618.2 1125.6L1618.7 1126.4L1619.2 1126.6L1620.2 1125.5L1620.7 1125.2L1621.2 1126.4L1621.7 1126.6L1622.2 1126.4L1622.7 1125.5L1623.2 1124.9L1623.7 1124.9L1624.7 1126L1626.7 1127.1L1627.2 1127.1L1627.7 1126.3L1628.7 1125.9L1629.7 1125.8L1630.7 1125.1L1631.2 1125L1631.7 1125.5L1632.2 1126.4L1632.7 1127L1633.2 1126.8L1634.2 1127.2L1635.7 1126.7L1636.7 1127.5L1638.2 1127.6L1639.2 1127.1L1640.7 1127.3L1641.7 1127L1642.2 1126.5L1642.7 1126.6L1643.2 1126.3L1643.7 1125.1L1644.7 1126.7L1645.2 1126L1645.7 1125.8L1646.2 1125.8L1647.2 1126.6L1647.7 1126.9L1648.7 1125.9L1649.2 1126.4L1649.7 1125.9L1650.2 1124.9L1651.2 1125.2L1651.7 1124.9L1652.7 1126L1653.2 1125.9L1654.2 1126.6L1657.2 1126.5L1658.2 1126.8L1658.7 1126L1659.2 1125.7L1659.7 1126.5L1660.2 1125.8L1660.7 1124.9L1661.2 1125.8L1661.7 1125.8L1662.2 1125.3L1662.7 1125.3L1663.7 1126.1L1664.7 1124.9L1665.7 1126.1L1666.2 1126.5L1666.7 1126.2L1667.2 1126.3L1667.7 1127L1671.7 1127.5L1672.7 1126.7L1673.2 1127.2L1673.7 1127L1674.2 1126.2L1674.7 1126.9L1675.2 1127.2L1675.7 1127L1676.7 1125.6L1677.2 1126.3L1677.7 1126.4L1678.2 1126L1678.7 1126.4L1679.2 1126.6L1679.7 1126.4L1680.2 1126.9L1680.7 1127.2L1681.2 1126.1L1681.7 1125.8L1682.7 1126.9L1683.2 1126.9L1683.7 1126.5L1684.2 1125.5L1684.7 1124.9L1685.2 1126L1685.7 1126.5L1686.7 1127L1687.2 1126.8L1687.7 1125.2L1688.2 1125.3L1689.2 1126.6L1689.7 1126.3L1690.2 1125.3L1691.2 1125.7L1691.7 1125.6L1693.2 1126.4L1694.2 1125.9L1695.5 1126.2L1695.5 1130.1Z" fill="#007c0a"/>
<path d="M934.2 1178.2L934.2 1177.2L935.7 1177.1L937.2 1177.3L938.7 1176.7L941.2 1176.6L942.2 1177.2L943.2 1176.9L944.7 1177.2L945.2 1176.9L946.2 1177.3L947.2 1177.3L947.7 1176.8L948.7 1177.3L950.2 1176.8L953.7 1177.3L954.2 1177.1L959.7 1177.3L961.2 1177L962.2 1177.3L963.7 1176.7L965.7 1177.1L966.2 1177L971.7 1177.3L973.2 1177.3L974.2 1177.1L977.2 1177.3L977.7 1177.1L978.2 1176.6L979.7 1177L980.7 1176.7L981.2 1176.4L981.7 1176.7L982.2 1177.3L983.7 1177.1L989.2 1177.3L993.2 1177.3L993.7 1177.2L995 1176L996.2 1177.1L996.7 1177.3L997.2 1176.9L998.2 1177.3L1002.2 1177L1002.7 1177.3L1003.2 1177.3L1003.7 1176.9L1004.7 1177L1005.2 1177.3L1005.7 1177.3L1006.2 1177.1L1011.7 1177.3L1017.2 1177.3L1022.7 1177.3L1026.2 1176.4L1027.2 1176.9L1028.7 1176.4L1031.7 1177L1032.7 1176.4L1034.2 1177.2L1035.2 1176.5L1036.7 1177.3L1038.2 1177L1039.7 1177.3L1040.7 1177.1L1041.7 1177.3L1042.2 1176.9L1042.7 1176.7L1043.7 1177.2L1045 1177.3L1045 1178.2ZM1048.5 1178.2L1048.5 1177.3L1054.2 1177.3L1055.2 1176.9L1058.7 1177.3L1059.2 1177.1L1061.2 1177L1062.2 1176.4L1063.7 1176.3L1064.7 1177.1L1067.7 1177.3L1068.7 1176.9L1069.2 1177.3L1069.7 1177.3L1070.2 1177L1070.7 1177.3L1072.7 1177.2L1073.7 1176.7L1074.2 1176.8L1074.7 1177.3L1080.2 1177.3L1081.7 1177.1L1082.7 1176.3L1083.7 1176.2L1084.7 1177.3L1085.7 1177.1L1086.2 1176.8L1087.2 1177.1L1089.2 1176.8L1091.2 1177.3L1091.7 1176.9L1092.7 1176.9L1094.3 1175.7L1096.2 1177.3L1101.7 1177.3L1102.7 1177.3L1103.7 1176.9L1104.7 1177.2L1105.2 1176.9L1106.2 1177.3L1107.7 1177.1L1108.7 1177.3L1114.2 1177.3L1118.7 1177.3L1121.2 1177L1122.7 1177.3L1124.2 1176.9L1124.7 1176.9L1125.2 1177.3L1128.7 1177.2L1129.2 1176.7L1129.7 1176.7L1130.7 1177.3L1132.7 1177.2L1133.2 1177L1137.2 1177.3L1137.7 1177.1L1138.2 1176.7L1140.7 1176.8L1145.7 1177.3L1146.2 1176.9L1147.7 1177.3L1148.7 1177L1150.2 1177.3L1151.7 1176.7L1152.2 1177.1L1157.7 1177.4L1163.2 1177.4L1168.7 1177.4L1174.2 1177.4L1179.7 1177.4L1185.2 1177.4L1190.7 1177.4L1196.2 1177.4L1201.7 1177.4L1207.2 1177.4L1212.7 1177.4L1214.7 1177.4L1215 1174.8L1215.7 1175.8L1216.7 1175.8L1217.2 1175.6L1218.2 1174.5L1218.7 1175.4L1219.2 1175.8L1219.7 1175L1220.2 1174.8L1220.7 1175L1221.2 1175.7L1221.7 1175.9L1223.7 1175.2L1225.2 1176.5L1226.2 1176.9L1227.2 1175.9L1228.7 1175.8L1229.6 1174.7L1231.2 1176.6L1231.7 1176.3L1232.7 1176.6L1233.2 1176.2L1233.7 1176.2L1234.7 1176.9L1235.2 1176.8L1236.7 1175.2L1237.2 1175.1L1238.2 1175.9L1239.2 1175.3L1239.7 1174.7L1240.2 1174.5L1240.7 1174.5L1241.2 1175.5L1241.7 1175.8L1242.2 1175.6L1242.7 1174.5L1243.2 1174.5L1243.7 1176L1245.2 1176.1L1245.7 1175.5L1246 1174.7L1246.2 1174.5L1246.7 1175.4L1247.2 1176L1247.7 1176L1248.7 1175.5L1249.2 1175.5L1249.7 1175.1L1254.2 1169.2L1255.2 1167.2L1257 1164.5L1259.2 1163.5L1260.2 1161.4L1260.7 1160.8L1263.2 1158.8L1264.2 1158.5L1265.7 1157.1L1267.6 1152.6L1268.2 1153.5L1269.5 1156.4L1270.7 1158.4L1271.2 1159L1271.8 1159.3L1272.2 1159L1273.2 1159.3L1273.7 1158.9L1274.2 1157.8L1274.7 1156.9L1276 1156.3L1278.7 1160.4L1280.3 1162.1L1281.2 1161.1L1282 1159.5L1282.7 1159.3L1284.2 1159.8L1285.2 1160.2L1286.5 1158.7L1287.7 1159.3L1288.7 1159.3L1291 1160.9L1291.7 1160.6L1293.2 1158.1L1294.2 1157L1295 1156.7L1295.7 1154.8L1296.5 1150.7L1296.7 1151.3L1297.2 1153.3L1298 1157.3L1298.2 1157.9L1299.3 1159.2L1300.7 1151.6L1301.4 1148.7L1302.2 1152.7L1303 1155.9L1305.7 1159.6L1307.2 1162.2L1307.7 1163.4L1309 1169.5L1309.7 1170.8L1310.3 1171.5L1311.2 1168.6L1312 1166.4L1314 1163.5L1315.2 1163.2L1317.7 1160.5L1318.7 1158.6L1319.2 1158.2L1320.2 1158.3L1321 1156.9L1321.7 1157.8L1323 1161.3L1324.2 1162.3L1324.6 1162.3L1325.2 1163.4L1326.5 1166.8L1327.8 1168.4L1329.7 1159.8L1330.7 1155.8L1331.4 1153.3L1332.2 1156.1L1333.2 1160.3L1334.2 1161.8L1334.7 1162.9L1335.7 1165.7L1337 1168.3L1338.4 1170.7L1339.7 1167.1L1340.5 1164.5L1341.2 1160.9L1342.2 1156.4L1342.6 1154.8L1343.7 1161.4L1344.2 1163.1L1344.7 1165L1345.8 1170.4L1348 1173.4L1349.2 1173.8L1352 1174.2L1352.2 1175.2L1352.7 1175.2L1353.2 1175.6L1354.7 1175.7L1355.2 1175.4L1355.7 1174.6L1356.2 1174.5L1356.7 1174.9L1357.2 1176.2L1357.7 1176.2L1358.2 1175.4L1358.7 1176.2L1359.2 1176.3L1359.7 1175.9L1360.7 1176.5L1361 1176.2L1361.2 1177.4L1367 1177.3L1371.2 1177.3L1371.7 1177.1L1372.7 1177.2L1373.2 1177.1L1376.2 1177.3L1377.7 1177L1379.7 1176.9L1380.2 1177.3L1381.7 1176.9L1382.2 1177L1383.2 1176.1L1385.7 1176L1388.2 1176.5L1389.2 1177.3L1391.2 1177.2L1391.7 1176.9L1393.2 1177.3L1393.7 1177.2L1394.2 1176.8L1395.2 1177.3L1396.7 1176.8L1397.7 1176.8L1398.2 1176.5L1398.5 1176.9L1398.7 1177.4L1404.2 1177.4L1409.7 1177.4L1415.2 1177.4L1420.7 1177.4L1426.2 1177.4L1431.7 1177.4L1437.2 1177.4L1442.7 1177.4L1448.2 1177.4L1452.7 1177.4L1453 1176.1L1453.7 1176.4L1454.2 1176.8L1454.7 1176.1L1455.2 1176.1L1456.2 1177L1456.7 1177.1L1457.2 1176.7L1457.7 1176.7L1458.2 1177L1460.2 1177.3L1462.2 1177.3L1463.2 1177L1463.7 1177.3L1464.7 1176.9L1465.7 1177.2L1471.2 1177.3L1475.2 1177.3L1475.7 1176.9L1476.7 1177.2L1478.2 1176.5L1479.2 1176.7L1480.7 1177.2L1482.2 1177.2L1483.2 1176.1L1483.7 1176.2L1484.2 1176.8L1484.7 1177.2L1485.7 1176.9L1486.2 1176.5L1487.7 1177.1L1488.7 1176.5L1489.7 1176.6L1492.2 1176.1L1494.2 1176.9L1495.7 1177.3L1496.2 1177.1L1496.7 1176.7L1497.7 1176.9L1498.7 1177.3L1499.2 1177.3L1500.2 1176.9L1501.7 1176.9L1502.7 1176.7L1503.7 1177.3L1505.2 1177.3L1506.2 1176.9L1507.2 1176.9L1508.7 1176.1L1510.2 1176.9L1510.7 1176.7L1511.2 1176.8L1511.7 1177.1L1512.7 1177.3L1513.7 1176.9L1514.2 1176.5L1514.7 1177.2L1520.2 1177.3L1521.2 1177.1L1522.7 1177.3L1523.2 1177.2L1524.7 1177.2L1525.7 1176.2L1526.2 1176.1L1527.2 1176.9L1527.7 1177L1528.7 1176.3L1530.2 1176.7L1532 1176L1533.7 1176.9L1534.2 1176.6L1534.7 1176.7L1535.7 1177.3L1541.2 1177.3L1542.2 1177.1L1544.7 1177.1L1546.7 1177.3L1548.7 1177L1549.2 1177.3L1549.7 1177.3L1551.2 1176.5L1552.7 1176.2L1553.2 1176.8L1553.7 1176.8L1554.2 1176.4L1555.2 1176.9L1556.7 1176.6L1557.2 1176.9L1558.2 1177L1560.2 1176.1L1560.7 1176.1L1561.7 1176.6L1562.2 1176.5L1564.7 1177.2L1565.7 1177L1566.2 1176.8L1567.2 1176.8L1567.7 1176.5L1568.7 1176.7L1569.2 1176.3L1569.7 1176.4L1570.2 1177L1573.2 1177.3L1574.2 1176.9L1574.7 1177.2L1578.2 1177.2L1581.7 1177.3L1582.2 1177L1587.7 1177.3L1588.7 1177.3L1590.2 1176.8L1591.7 1177.2L1593.7 1176.7L1594.2 1176.7L1594.7 1176.2L1595.2 1176.1L1595.7 1176.3L1596.2 1176L1597.2 1173.7L1598.2 1176L1598.7 1176.9L1599.7 1176.8L1600.7 1176.1L1601.2 1176.2L1602.2 1177L1603.7 1177.2L1604.7 1176.7L1605.2 1177L1605.7 1176.8L1606.2 1176.1L1607.2 1176.1L1607.7 1176.5L1609.2 1176.7L1610.7 1177.3L1611.2 1177.3L1611.7 1176.8L1612.2 1176.6L1612.7 1176.7L1613.2 1177.1L1613.7 1177.2L1615.7 1176.4L1616.7 1177.2L1617.7 1177L1620.2 1177.3L1625.2 1177.2L1625.7 1176.9L1626.2 1176.2L1627.2 1176.8L1627.7 1176.8L1628.7 1177.3L1632 1175.7L1635.2 1177.3L1635.7 1177.3L1636 1176.7L1641.7 1175.4L1645.2 1173.5L1646.7 1172L1647.9 1170.5L1649.5 1166.8L1651 1162.3L1651.7 1160.9L1653.2 1156.8L1655 1162.4L1655.7 1164L1656.7 1165.1L1657.4 1166.3L1659.5 1165.4L1660.7 1163.5L1661.2 1163L1662 1162.6L1662.2 1163.3L1664 1165.7L1665.8 1170.3L1668.2 1170.3L1671 1168.8L1675.2 1170L1677.7 1168.9L1680.2 1166.5L1680.6 1166.3L1681.7 1168.1L1684.2 1169.4L1685.7 1169.2L1686.7 1169.7L1692.2 1169.3L1694.3 1170.4L1694.7 1176.5L1695.5 1177.1L1695.5 1178.2Z" fill="#ff0000"/>
<path d="M925.1 749.6H928.5V795.1H925.1" fill="none" stroke="#111" stroke-width="1"/>
<text x="922.6" y="757.0" text-anchor="end" font-size="9.6" font-family="DejaVu Sans, Liberation Sans, sans-serif" fill="#222">50</text>
<text x="922.6" y="794.1" text-anchor="end" font-size="9.6" font-family="DejaVu Sans, Liberation Sans, sans-serif" fill="#222">0</text>
<path d="M925.1 797.3H928.5V842.5H925.1" fill="none" stroke="#111" stroke-width="1"/>
<text x="922.6" y="804.4" text-anchor="end" font-size="9.6" font-family="DejaVu Sans, Liberation Sans, sans-serif" fill="#222">50</text>
<text x="922.6" y="841.8" text-anchor="end" font-size="9.6" font-family="DejaVu Sans, Liberation Sans, sans-serif" fill="#222">0</text>
<path d="M925.1 844.7H928.5V889.5H925.1" fill="none" stroke="#111" stroke-width="1"/>
<text x="922.6" y="851.8" text-anchor="end" font-size="9.6" font-family="DejaVu Sans, Liberation Sans, sans-serif" fill="#222">50</text>
<text x="922.6" y="889.2" text-anchor="end" font-size="9.6" font-family="DejaVu Sans, Liberation Sans, sans-serif" fill="#222">0</text>
<path d="M925.0 895.5H928.4V940.8H925.0" fill="none" stroke="#5a5a5a" stroke-width="1"/>
<text x="922.6" y="903.1" text-anchor="end" font-size="9.6" font-family="DejaVu Sans, Liberation Sans, sans-serif" fill="#222">10</text>
<text x="922.6" y="940.0" text-anchor="end" font-size="9.6" font-family="DejaVu Sans, Liberation Sans, sans-serif" fill="#222">0</text>
<path d="M925.0 942.5H928.4V988.4H925.0" fill="none" stroke="#5a5a5a" stroke-width="1"/>
<text x="922.6" y="950.1" text-anchor="end" font-size="9.6" font-family="DejaVu Sans, Liberation Sans, sans-serif" fill="#222">30</text>
<text x="922.6" y="987.0" text-anchor="end" font-size="9.6" font-family="DejaVu Sans, Liberation Sans, sans-serif" fill="#222">0</text>
<path d="M925.0 990.2H928.4V1035.6H925.0" fill="none" stroke="#5a5a5a" stroke-width="1"/>
<text x="922.6" y="997.3" text-anchor="end" font-size="9.6" font-family="DejaVu Sans, Liberation Sans, sans-serif" fill="#222">10</text>
<text x="922.6" y="1034.9" text-anchor="end" font-size="9.6" font-family="DejaVu Sans, Liberation Sans, sans-serif" fill="#222">0</text>
<path d="M925.0 1037.7H928.4V1083.6H925.0" fill="none" stroke="#5a5a5a" stroke-width="1"/>
<text x="922.6" y="1044.8" text-anchor="end" font-size="9.6" font-family="DejaVu Sans, Liberation Sans, sans-serif" fill="#222">30</text>
<text x="922.6" y="1082.4" text-anchor="end" font-size="9.6" font-family="DejaVu Sans, Liberation Sans, sans-serif" fill="#222">0</text>
<path d="M925.0 1084.6H928.4V1130.5H925.0" fill="none" stroke="#5a5a5a" stroke-width="1"/>
<text x="922.6" y="1091.7" text-anchor="end" font-size="9.6" font-family="DejaVu Sans, Liberation Sans, sans-serif" fill="#222">10</text>
<text x="922.6" y="1130.0" text-anchor="end" font-size="9.6" font-family="DejaVu Sans, Liberation Sans, sans-serif" fill="#222">0</text>
<path d="M925.0 1132.2H928.4V1177.8H925.0" fill="none" stroke="#5a5a5a" stroke-width="1"/>
<text x="922.6" y="1139.2" text-anchor="end" font-size="9.6" font-family="DejaVu Sans, Liberation Sans, sans-serif" fill="#222">30</text>
<text x="922.6" y="1177.3" text-anchor="end" font-size="9.6" font-family="DejaVu Sans, Liberation Sans, sans-serif" fill="#222">0</text>
<path d="M1253 744.8L1251.8 1186M1253 744.8H1350.6M1350.6 744.8L1349 1186" fill="none" stroke="#111" stroke-width="1.05" stroke-dasharray="4.3 4"/>
<rect x="1251.6" y="1186.8" width="97" height="11.6" fill="#727272" stroke="#222" stroke-width="1"/>
<text x="1238.7" y="1215.6" font-size="13.0" font-family="Liberation Sans, Arial, sans-serif" font-weight="bold" textLength="10.7" lengthAdjust="spacingAndGlyphs" fill="#111" stroke="#111" stroke-width="0.25" >5′</text>
<text x="1276.5" y="1215.6" font-size="13.0" font-family="Liberation Sans, Arial, sans-serif" font-weight="bold" textLength="42.2" lengthAdjust="spacingAndGlyphs" fill="#111" stroke="#111" stroke-width="0.25" >HOX-D</text>
<text x="1345.3" y="1215.6" font-size="13.0" font-family="Liberation Sans, Arial, sans-serif" font-weight="bold" textLength="11.2" lengthAdjust="spacingAndGlyphs" fill="#111" stroke="#111" stroke-width="0.25" >3′</text>
<text x="1705.5" y="791.9" font-size="15.8" font-family="Liberation Sans, Arial, sans-serif" font-weight="bold" textLength="38.0" lengthAdjust="spacingAndGlyphs" fill="#111" stroke="#111" stroke-width="0.25" >ATAC</text>
<text x="1705.5" y="837.8" font-size="15.8" font-family="Liberation Sans, Arial, sans-serif" font-weight="bold" textLength="66.9" lengthAdjust="spacingAndGlyphs" fill="#111" stroke="#111" stroke-width="0.25" >H3K27ac</text>
<text x="1705.5" y="883.6" font-size="15.8" font-family="Liberation Sans, Arial, sans-serif" font-weight="bold" textLength="82.5" lengthAdjust="spacingAndGlyphs" fill="#111" stroke="#111" stroke-width="0.25" >H3K27me3</text>
<text x="1705.5" y="931.8" font-size="15.8" font-family="Liberation Sans, Arial, sans-serif" font-weight="bold" textLength="66.0" lengthAdjust="spacingAndGlyphs" fill="#111" stroke="#111" stroke-width="0.25" >H3K27ac</text>
<text x="1704.6" y="978.4" font-size="15.8" font-family="Liberation Sans, Arial, sans-serif" font-weight="bold" textLength="83.4" lengthAdjust="spacingAndGlyphs" fill="#111" stroke="#111" stroke-width="0.25" >H3K27me3</text>
<text x="1705.3" y="1024.4" font-size="15.8" font-family="Liberation Sans, Arial, sans-serif" font-weight="bold" textLength="67.2" lengthAdjust="spacingAndGlyphs" fill="#111" stroke="#111" stroke-width="0.25" >H3K27ac</text>
<text x="1705.3" y="1072.0" font-size="15.8" font-family="Liberation Sans, Arial, sans-serif" font-weight="bold" textLength="82.5" lengthAdjust="spacingAndGlyphs" fill="#111" stroke="#111" stroke-width="0.25" >H3K27me3</text>
<text x="1704.3" y="1118.8" font-size="15.8" font-family="Liberation Sans, Arial, sans-serif" font-weight="bold" textLength="66.3" lengthAdjust="spacingAndGlyphs" fill="#111" stroke="#111" stroke-width="0.25" >H3K27ac</text>
<text x="1703.4" y="1165.5" font-size="15.8" font-family="Liberation Sans, Arial, sans-serif" font-weight="bold" textLength="83.9" lengthAdjust="spacingAndGlyphs" fill="#111" stroke="#111" stroke-width="0.25" >H3K27me3</text>
<path d="M1803.3 769.3V890.6M1802.5 913V992M1802.7 1006.3V1084.8M1801.7 1100.3V1177.7" stroke="#0a0a0a" stroke-width="1.15" fill="none"/>
<text x="1806.5" y="837.9" font-size="16.2" font-family="Liberation Sans, Arial, sans-serif" font-weight="bold" textLength="109.6" lengthAdjust="spacingAndGlyphs" fill="#111" stroke="#111" stroke-width="0.25" >Adult hOLG SC</text>
<text x="1817.8" y="944.7" font-size="16.2" font-family="Liberation Sans, Arial, sans-serif" font-weight="bold" textLength="91.9" lengthAdjust="spacingAndGlyphs" fill="#111" stroke="#111" stroke-width="0.25" >PFA-EP HGG</text>
<text x="1839.8" y="964.8" font-size="16.2" font-family="Liberation Sans, Arial, sans-serif" font-weight="bold" textLength="47.0" lengthAdjust="spacingAndGlyphs" fill="#111" stroke="#111" stroke-width="0.25" >(E823)</text>
<text x="1806.6" y="1037.4" font-size="16.2" font-family="Liberation Sans, Arial, sans-serif" font-weight="bold" textLength="156.7" lengthAdjust="spacingAndGlyphs" fill="#111" stroke="#111" stroke-width="0.25" >H3.3K27M Pons HGG</text>
<text x="1848.5" y="1057.9" font-size="16.2" font-family="Liberation Sans, Arial, sans-serif" font-weight="bold" textLength="71.5" lengthAdjust="spacingAndGlyphs" fill="#111" stroke="#111" stroke-width="0.25" >(HSJ-031)</text>
<text x="1809.5" y="1131.5" font-size="16.2" font-family="Liberation Sans, Arial, sans-serif" font-weight="bold" textLength="188.9" lengthAdjust="spacingAndGlyphs" fill="#111" stroke="#111" stroke-width="0.25" >H3.3K27M Thalamic HGG</text>
<text x="1875.3" y="1151.8" font-size="16.2" font-family="Liberation Sans, Arial, sans-serif" font-weight="bold" textLength="57.3" lengthAdjust="spacingAndGlyphs" fill="#111" stroke="#111" stroke-width="0.25" >(BT245)</text>
</g>
<text transform="translate(1.6 36.0) scale(1 1.075)" font-size="51" font-family="Liberation Serif, DejaVu Serif, serif" font-weight="bold" fill="#000">a</text>
<text transform="translate(710.4 36.5) scale(1 1.075)" font-size="51" font-family="Liberation Serif, DejaVu Serif, serif" font-weight="bold" fill="#000">b</text>
<text transform="translate(6.9 694.9) scale(1 1.075)" font-size="51" font-family="Liberation Serif, DejaVu Serif, serif" font-weight="bold" fill="#000">c</text>
<text transform="translate(825.2 703.2) scale(1 1.075)" font-size="51" font-family="Liberation Serif, DejaVu Serif, serif" font-weight="bold" fill="#000">d</text>
</svg>
</body>
</html>
